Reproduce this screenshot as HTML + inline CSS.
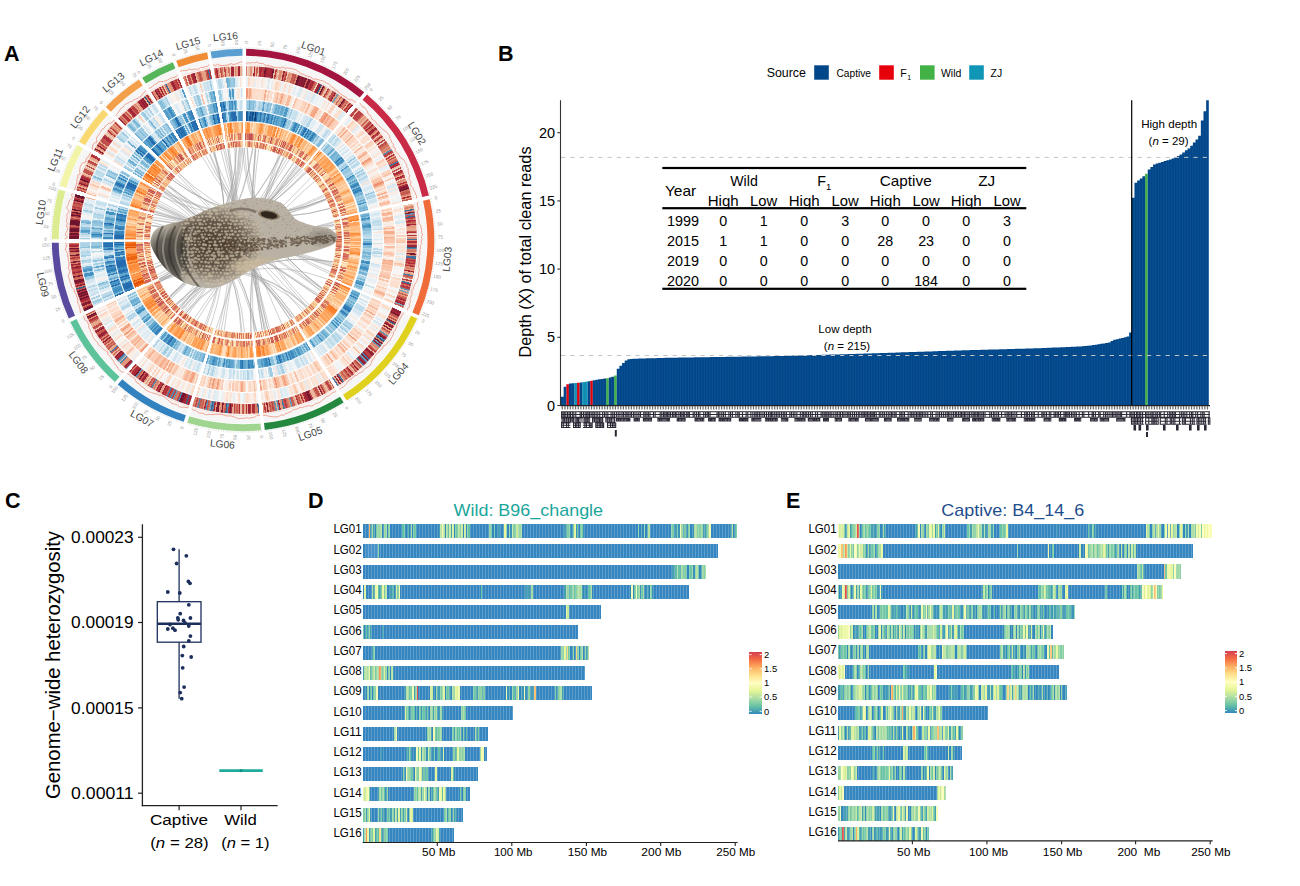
<!DOCTYPE html>
<html><head><meta charset="utf-8"><title>figure</title>
<style>
html,body{margin:0;padding:0;background:#fff}
#c{position:relative;width:1300px;height:886px;overflow:hidden;background:#fff}
#c div{position:absolute}
.r{border-radius:50%}
svg{position:absolute;left:0;top:0}
text{font-family:"Liberation Sans",sans-serif}
</style></head><body><div id="c">
<div style="left:362.9px;top:524.1px;width:374.6px;height:14px;background:repeating-linear-gradient(90deg,transparent 0 2px,rgba(255,255,255,0.2) 2px 3px),linear-gradient(90deg,transparent 0px 5.9px,#fdae61 5.9px 7.4px,#479fb3 7.4px 8.9px,#a6dba4 8.9px 10.4px,#479fb3 10.4px 11.9px,#3288bd 11.9px 13.4px,#82cda5 13.4px 14.9px,#a1d9a4 14.9px 16.4px,#96d5a4 16.4px 17.8px,#bce4a1 17.8px 19.3px,#3288bd 19.3px 20.8px,#a5daa4 20.8px 22.3px,#94d4a4 22.3px 23.8px,#3288bd 23.8px 25.3px,#87cfa5 25.3px 26.8px,transparent 26.8px 37.2px,#3288bd 37.2px 38.6px,#62bda7 38.6px 40.1px,#67c2a5 40.1px 41.6px,#3c94b8 41.6px 43.1px,#3288bd 43.1px 44.6px,#60bba8 44.6px 46.1px,#3288bd 46.1px 47.6px,#aedea3 47.6px 49.1px,#3288bd 49.1px 50.5px,#6ec5a5 50.5px 52px,#7acaa5 52px 53.5px,#3288bd 53.5px 55px,transparent 55px 75.8px,#479fb3 75.8px 77.3px,#b7e2a2 77.3px 78.8px,#f4fbae 78.8px 80.3px,#b7e2a2 80.3px 81.8px,#3288bd 81.8px 83.2px,#abdda4 83.2px 84.7px,#67c2a5 84.7px 86.2px,#c8e99e 86.2px 87.7px,#479fb3 87.7px 89.2px,#d7ef9b 89.2px 90.7px,#3288bd 90.7px 92.2px,#74c7a5 92.2px 93.7px,#80cca5 93.7px 95.1px,#b4e1a2 95.1px 96.6px,#92d3a4 96.6px 98.1px,#c6e89f 98.1px 99.6px,#3288bd 99.6px 101.1px,#cbea9d 101.1px 102.6px,#3288bd 102.6px 104.1px,#81cda5 104.1px 105.5px,#65c1a5 105.5px 107px,transparent 107px 126.4px,#94d4a4 126.4px 127.8px,#64c0a6 127.8px 129.3px,#3288bd 129.3px 130.8px,#64c0a6 130.8px 132.3px,#3288bd 132.3px 135.3px,#479fb3 135.3px 136.8px,transparent 136.8px 139.7px,#3c94b8 139.7px 141.2px,#ebf79f 141.2px 142.7px,#8ed2a4 142.7px 144.2px,#3288bd 144.2px 145.7px,#85cea5 145.7px 147.2px,#3c94b8 147.2px 148.7px,#c4e79f 148.7px 150.1px,#86cea5 150.1px 151.6px,#78c9a5 151.6px 153.1px,#c8e99e 153.1px 154.6px,#9bd7a4 154.6px 157.6px,#9fd8a4 157.6px 159.1px,transparent 159.1px 200.7px,#479fb3 200.7px 203.7px,#86cfa5 203.7px 205.1px,#7ccba5 205.1px 206.6px,#479fb3 206.6px 208.1px,#3288bd 208.1px 209.6px,#7acaa5 209.6px 211.1px,#e6f598 211.1px 212.6px,#3c94b8 212.6px 214.1px,#6ec5a5 214.1px 215.5px,#3288bd 215.5px 217px,#7ecba5 217px 218.5px,#78c9a5 218.5px 220px,#3c94b8 220px 221.5px,transparent 221.5px 275px,#7fcca5 275px 276.5px,#3288bd 276.5px 278px,#479fb3 278px 279.5px,#3288bd 279.5px 280.9px,#8ed2a4 280.9px 282.4px,#3288bd 282.4px 283.9px,#479fb3 283.9px 285.4px,#b3e0a2 285.4px 286.9px,transparent 286.9px 307.7px,#87cfa5 307.7px 309.2px,#7acaa5 309.2px 310.7px,#3288bd 310.7px 312.2px,#479fb3 312.2px 313.7px,#68c3a5 313.7px 315.1px,#3c94b8 315.1px 316.6px,#f4fbae 316.6px 318.1px,#9fd8a4 318.1px 319.6px,#479fb3 319.6px 321.1px,#7bcaa5 321.1px 322.6px,#3c94b8 322.6px 325.5px,#86cfa5 325.5px 327px,#3288bd 327px 330px,#3c94b8 330px 331.5px,#aadca4 331.5px 333px,#b0dfa3 333px 334.5px,#89d0a4 334.5px 336px,#82cda5 336px 337.4px,#8ed2a4 337.4px 338.9px,#9cd7a4 338.9px 340.4px,#479fb3 340.4px 343.4px,#6bc4a5 343.4px 344.9px,#a9dca4 344.9px 346.4px,#f2faaa 346.4px 347.8px,transparent 347.8px 367.2px,#479fb3 367.2px 368.7px,#b6e1a2 368.7px 370.1px,#3288bd 370.1px 371.6px,#64c0a6 371.6px 373.1px,#83cea5 373.1px 374.6px),#3586c0"></div>
<div style="left:362.9px;top:544.36px;width:355.4px;height:14px;background:repeating-linear-gradient(90deg,transparent 0 2px,rgba(255,255,255,0.2) 2px 3px),linear-gradient(90deg,transparent 0px 3px,rgba(120,180,220,0.25) 3px 14.9px,#96d5a4 14.9px 16.4px,transparent 16.4px 355.4px),#3586c0"></div>
<div style="left:362.9px;top:564.62px;width:343.6px;height:14px;background:repeating-linear-gradient(90deg,transparent 0 2px,rgba(255,255,255,0.2) 2px 3px),linear-gradient(90deg,transparent 0px 309.4px,#479fb3 309.4px 312.4px,#60bba8 312.4px 313.9px,#a4daa4 313.9px 315.3px,#65c1a6 315.3px 316.8px,#479fb3 316.8px 318.3px,#a7dca4 318.3px 319.8px,#65c1a5 319.8px 321.3px,#8bd0a4 321.3px 322.8px,#61bca7 322.8px 324.3px,#3288bd 324.3px 325.8px,#65c1a5 325.8px 327.2px,#6fc6a5 327.2px 328.7px,#89d0a4 328.7px 330.2px,#3c94b8 330.2px 331.7px,#83cda5 331.7px 333.2px,#b7e2a2 333.2px 334.7px,#64c0a6 334.7px 336.2px,#3288bd 336.2px 337.7px,#479fb3 337.7px 339.1px,#a2d9a4 339.1px 340.6px,#69c3a5 340.6px 342.1px,#acdda4 342.1px 343.6px),#3586c0"></div>
<div style="left:362.9px;top:584.88px;width:326.2px;height:14px;background:repeating-linear-gradient(90deg,transparent 0 2px,rgba(255,255,255,0.2) 2px 3px),linear-gradient(90deg,transparent 0px 1.5px,#def29a 1.5px 3px,transparent 3px 8.9px,#afdfa3 8.9px 10.4px,#479fb3 10.4px 11.9px,#ecf7a2 11.9px 13.4px,#ecf8a2 13.4px 14.9px,#66c2a5 14.9px 16.4px,#479fb3 16.4px 17.9px,#7ccaa5 17.9px 19.4px,#e5f598 19.4px 20.9px,#7ccba5 20.9px 22.3px,#bee5a0 22.3px 23.8px,#3288bd 23.8px 26.8px,#479fb3 26.8px 29.8px,#66c2a5 29.8px 31.3px,#3288bd 31.3px 32.8px,#dbf09a 32.8px 34.3px,#7dcba5 34.3px 35.7px,#f2faab 35.7px 37.2px,transparent 37.2px 117.7px,#6cc4a5 117.7px 119.2px,transparent 119.2px 162.4px,#479fb3 162.4px 163.8px,#3288bd 163.8px 165.3px,#479fb3 165.3px 166.8px,#3288bd 166.8px 168.3px,#a5dba4 168.3px 169.8px,transparent 169.8px 199.6px,#3288bd 199.6px 201.1px,#479fb3 201.1px 202.6px,#9ad6a4 202.6px 204.1px,#9cd7a4 204.1px 205.6px,#479fb3 205.6px 207px,#72c7a5 207px 210px,#aedea3 210px 211.5px,#66c2a5 211.5px 213px,#8bd0a4 213px 214.5px,#abdda4 214.5px 216px,#b0dfa3 216px 217.5px,#a6dba4 217.5px 219px,#479fb3 219px 220.4px,#3288bd 220.4px 221.9px,#479fb3 221.9px 223.4px,#3288bd 223.4px 224.9px,#66c2a5 224.9px 226.4px,#68c3a5 226.4px 227.9px,#acdea4 227.9px 229.4px,#3288bd 229.4px 230.9px,transparent 230.9px 268.1px,#f3faac 268.1px 269.6px,transparent 269.6px 271.1px,#71c6a5 271.1px 272.6px,#f4fbae 272.6px 274.1px,#77c9a5 274.1px 275.6px,#addea4 275.6px 277px,#3c94b8 277px 278.5px,#69c3a5 278.5px 280px,#abdda4 280px 281.5px,#3288bd 281.5px 283px,#3c94b8 283px 284.5px,#479fb3 284.5px 286px,#3288bd 286px 287.5px,#87cfa5 287.5px 289px,#3c94b8 289px 290.5px,transparent 290.5px 326.2px),#3586c0"></div>
<div style="left:362.9px;top:605.14px;width:238.4px;height:14px;background:repeating-linear-gradient(90deg,transparent 0 2px,rgba(255,255,255,0.2) 2px 3px),linear-gradient(90deg,transparent 0px 202.6px,#e5f598 202.6px 204.1px,#c4e79f 204.1px 205.6px,transparent 205.6px 238.4px),#3586c0"></div>
<div style="left:362.9px;top:625.4px;width:215.5px;height:14px;background:repeating-linear-gradient(90deg,transparent 0 2px,rgba(255,255,255,0.2) 2px 3px),linear-gradient(90deg,#73c7a5 0px 1.5px,#3288bd 1.5px 3px,#69c3a5 3px 4.5px,#479fb3 4.5px 5.9px,#8fd2a4 5.9px 7.4px,#479fb3 7.4px 8.9px,transparent 8.9px 19.3px,#479fb3 19.3px 20.8px,transparent 20.8px 215.5px),#3586c0"></div>
<div style="left:362.9px;top:645.66px;width:226.4px;height:14px;background:repeating-linear-gradient(90deg,transparent 0 2px,rgba(255,255,255,0.2) 2px 3px),linear-gradient(90deg,transparent 0px 8.9px,#479fb3 8.9px 10.4px,#7ccba5 10.4px 11.9px,transparent 11.9px 198.1px,#a0d9a4 198.1px 199.6px,#77c9a5 199.6px 201.1px,#e8f69b 201.1px 202.6px,#7acaa5 202.6px 204.1px,#fed683 204.1px 205.5px,#76c8a5 205.5px 207px,#3288bd 207px 210px,#9cd7a4 210px 211.5px,#3288bd 211.5px 213px,#fed683 213px 214.5px,#85cea5 214.5px 216px,#3288bd 216px 217.5px,#7bcaa5 217.5px 219px,#b3e0a2 219px 220.4px,#3288bd 220.4px 221.9px,#a2daa4 221.9px 223.4px,#479fb3 223.4px 224.9px,#b4e1a2 224.9px 226.4px),#3586c0"></div>
<div style="left:362.9px;top:665.92px;width:222px;height:14px;background:repeating-linear-gradient(90deg,transparent 0 2px,rgba(255,255,255,0.2) 2px 3px),linear-gradient(90deg,#479fb3 0px 1.5px,#aedea3 1.5px 3px,#bde4a0 3px 4.5px,#b1dfa3 4.5px 6px,#edf8a3 6px 7.4px,#60bca8 7.4px 8.9px,#9ad6a4 8.9px 10.4px,#bbe4a1 10.4px 11.9px,#7dcba5 11.9px 13.4px,#9fd8a4 13.4px 14.9px,#b4e1a2 14.9px 16.4px,#f99455 16.4px 17.9px,#a1d9a4 17.9px 19.4px,#88cfa5 19.4px 20.9px,#e0f399 20.9px 22.3px,#8fd2a4 22.3px 23.8px,#3288bd 23.8px 25.3px,#87cfa5 25.3px 26.8px,#3288bd 26.8px 28.3px,#b1e0a3 28.3px 29.8px,#479fb3 29.8px 31.3px,transparent 31.3px 222px),#3586c0"></div>
<div style="left:362.9px;top:686.18px;width:229.1px;height:14px;background:repeating-linear-gradient(90deg,transparent 0 2px,rgba(255,255,255,0.2) 2px 3px),linear-gradient(90deg,transparent 0px 1.5px,#3c94b8 1.5px 3px,#3288bd 3px 4.5px,#95d4a4 4.5px 6px,#3288bd 6px 7.4px,#6bc4a5 7.4px 8.9px,#3288bd 8.9px 10.4px,#78c9a5 10.4px 11.9px,#90d2a4 11.9px 13.4px,#f4fbae 13.4px 14.9px,transparent 14.9px 41.7px,#479fb3 41.7px 43.1px,#b4e1a2 43.1px 44.6px,#aedea3 44.6px 46.1px,#6cc4a5 46.1px 47.6px,#7fcca5 47.6px 49.1px,#f1f9a9 49.1px 50.6px,#479fb3 50.6px 52.1px,#8ed2a4 52.1px 53.6px,#e1514a 53.6px 55px,transparent 55px 66.9px,#daf09a 66.9px 68.4px,#c8e99e 68.4px 69.9px,#3c94b8 69.9px 71.4px,#3288bd 71.4px 72.9px,#a4daa4 72.9px 74.4px,#479fb3 74.4px 77.4px,#7fcca5 77.4px 78.8px,#a5dba4 78.8px 80.3px,#e0f399 80.3px 81.8px,#3288bd 81.8px 83.3px,#67c2a5 83.3px 84.8px,#7dcba5 84.8px 86.3px,#479fb3 86.3px 87.8px,#3288bd 87.8px 89.3px,#a9dca4 89.3px 90.7px,#9dd7a4 90.7px 92.2px,#e7f599 92.2px 93.7px,#d7ef9b 93.7px 95.2px,#f1faaa 95.2px 96.7px,transparent 96.7px 110.1px,#76c8a5 110.1px 111.6px,#72c7a5 111.6px 113.1px,#479fb3 113.1px 114.6px,#99d6a4 114.6px 116px,#68c3a5 116px 117.5px,#8ed2a4 117.5px 119px,#479fb3 119px 120.5px,#82cda5 120.5px 122px,transparent 122px 142.8px,#eff9a6 142.8px 144.3px,#3c94b8 144.3px 145.8px,#479fb3 145.8px 147.3px,#3288bd 147.3px 148.8px,#88cfa5 148.8px 150.3px,#63bfa6 150.3px 151.7px,#3c94b8 151.7px 153.2px,#a1d9a4 153.2px 154.7px,#eaf79f 154.7px 156.2px,#3288bd 156.2px 157.7px,#479fb3 157.7px 159.2px,#3c94b8 159.2px 160.7px,#f0f9a8 160.7px 162.2px,#3c94b8 162.2px 163.6px,#3288bd 163.6px 165.1px,#93d4a4 165.1px 166.6px,#3c94b8 166.6px 168.1px,#479fb3 168.1px 169.6px,#3288bd 169.6px 171.1px,#fdc272 171.1px 172.6px,transparent 172.6px 191.9px,#7dcba5 191.9px 193.4px,#3c94b8 193.4px 194.9px,#83cda5 194.9px 196.4px,#9ad6a4 196.4px 197.9px,#addea4 197.9px 199.3px,#479fb3 199.3px 200.8px,transparent 200.8px 229.1px),#3586c0"></div>
<div style="left:362.9px;top:706.44px;width:150.2px;height:14px;background:repeating-linear-gradient(90deg,transparent 0 2px,rgba(255,255,255,0.2) 2px 3px),linear-gradient(90deg,transparent 0px 41.6px,#dbf09a 41.6px 43.1px,#80cca5 43.1px 44.6px,#64c0a6 44.6px 46.1px,#3c94b8 46.1px 47.6px,#83cea5 47.6px 49.1px,#71c6a5 49.1px 50.6px,#66c2a5 50.6px 52px,#3288bd 52px 53.5px,#479fb3 53.5px 55px,#3288bd 55px 56.5px,#79caa5 56.5px 58px,#3c94b8 58px 59.5px,#66c2a5 59.5px 61px,#70c6a5 61px 62.5px,#479fb3 62.5px 63.9px,#7acaa5 63.9px 65.4px,#3288bd 65.4px 66.9px,#a8dca4 66.9px 68.4px,#97d5a4 68.4px 69.9px,#479fb3 69.9px 71.4px,#90d2a4 71.4px 72.9px,#aedea3 72.9px 74.4px,#3c94b8 74.4px 75.8px,#479fb3 75.8px 77.3px,#95d4a4 77.3px 78.8px,#479fb3 78.8px 80.3px,transparent 80.3px 98.2px,#8ed2a4 98.2px 99.6px,#b1dfa3 99.6px 101.1px,#75c8a5 101.1px 102.6px,transparent 102.6px 150.2px),#3586c0"></div>
<div style="left:362.9px;top:726.7px;width:125.1px;height:14px;background:repeating-linear-gradient(90deg,transparent 0 2px,rgba(255,255,255,0.2) 2px 3px),linear-gradient(90deg,transparent 0px 31.3px,#abdda4 31.3px 32.8px,#f3faad 32.8px 34.3px,transparent 34.3px 64px,#8dd1a4 64px 65.5px,#a3daa4 65.5px 67px,#b7e2a2 67px 68.5px,#3288bd 68.5px 70px,#eff9a6 70px 71.5px,#7ccba5 71.5px 73px,#61bca7 73px 74.5px,#76c8a5 74.5px 76px,#8ed2a4 76px 77.4px,#9bd7a4 77.4px 78.9px,transparent 78.9px 89.4px,#7ccba5 89.4px 90.8px,#479fb3 90.8px 92.3px,#92d3a4 92.3px 93.8px,#61bda7 93.8px 95.3px,#64c0a6 95.3px 96.8px,#a1d9a4 96.8px 98.3px,#3288bd 98.3px 99.8px,#8fd2a4 99.8px 101.3px,#3288bd 101.3px 102.8px,#63bea6 102.8px 104.3px,transparent 104.3px 111.7px,#b0dfa3 111.7px 113.2px,#479fb3 113.2px 114.7px,#7acaa5 114.7px 116.2px,transparent 116.2px 125.1px),#3586c0"></div>
<div style="left:362.9px;top:746.96px;width:123.9px;height:14px;background:repeating-linear-gradient(90deg,transparent 0 2px,rgba(255,255,255,0.2) 2px 3px),linear-gradient(90deg,transparent 0px 16.2px,#3288bd 16.2px 17.7px,#479fb3 17.7px 19.2px,#3288bd 19.2px 22.1px,transparent 22.1px 42.8px,#479fb3 42.8px 45.7px,#a1d9a4 45.7px 47.2px,#479fb3 47.2px 48.7px,#3288bd 48.7px 51.6px,#3c94b8 51.6px 53.1px,#f3faac 53.1px 54.6px,#6dc5a5 54.6px 56.1px,#eaf79e 56.1px 57.5px,#3c94b8 57.5px 59px,#aedea3 59px 60.5px,#90d2a4 60.5px 62px,#84cea5 62px 63.4px,#3c94b8 63.4px 64.9px,#c4e79f 64.9px 66.4px,#7fcca5 66.4px 67.9px,#3288bd 67.9px 69.3px,#3c94b8 69.3px 70.8px,#6fc6a5 70.8px 72.3px,#3288bd 72.3px 73.8px,#3c94b8 73.8px 75.2px,#64bfa6 75.2px 76.7px,#3c94b8 76.7px 79.7px,#daf09a 79.7px 81.1px,transparent 81.1px 88.5px,#3288bd 88.5px 90px,#8ed2a4 90px 91.5px,#479fb3 91.5px 92.9px,#73c7a5 92.9px 94.4px,#e5f598 94.4px 95.9px,#91d3a4 95.9px 97.4px,#94d4a4 97.4px 98.8px,#8cd1a4 98.8px 100.3px,#9dd8a4 100.3px 101.8px,transparent 101.8px 116.5px,#9dd7a4 116.5px 118px,#f1f9a9 118px 119.5px,#f2faaa 119.5px 121px,transparent 121px 123.9px),#3586c0"></div>
<div style="left:362.9px;top:767.22px;width:114.9px;height:14px;background:repeating-linear-gradient(90deg,transparent 0 2px,rgba(255,255,255,0.2) 2px 3px),linear-gradient(90deg,transparent 0px 39.8px,#97d5a4 39.8px 41.2px,#3c94b8 41.2px 42.7px,#f3faac 42.7px 44.2px,#a0d9a4 44.2px 45.7px,#a1d9a4 45.7px 47.1px,#6cc4a5 47.1px 48.6px,#77c9a5 48.6px 50.1px,#3288bd 50.1px 51.6px,#ebf79f 51.6px 53px,#93d4a4 53px 54.5px,#7fcca5 54.5px 56px,#f1f9a9 56px 57.5px,#ceeb9d 57.5px 58.9px,#3c94b8 58.9px 60.4px,#77c9a5 60.4px 61.9px,#479fb3 61.9px 63.3px,#73c7a5 63.3px 64.8px,transparent 64.8px 72.2px,#e7f599 72.2px 73.7px,transparent 73.7px 88.4px,#d3ed9c 88.4px 89.9px,#67c3a5 89.9px 91.3px,transparent 91.3px 113.4px,#3288bd 113.4px 114.9px),#3586c0"></div>
<div style="left:362.9px;top:787.48px;width:107px;height:14px;background:repeating-linear-gradient(90deg,transparent 0 2px,rgba(255,255,255,0.2) 2px 3px),linear-gradient(90deg,#ecf7a1 0px 1.5px,#c6e89f 1.5px 3px,#ecf8a2 3px 4.5px,#f5fbaf 4.5px 5.9px,#7fcca5 5.9px 7.4px,transparent 7.4px 14.9px,#479fb3 14.9px 16.3px,#a5dba4 16.3px 17.8px,#70c6a5 17.8px 19.3px,#9fd8a4 19.3px 20.8px,#65c1a6 20.8px 22.3px,#3c94b8 22.3px 23.8px,#9dd7a4 23.8px 25.3px,transparent 25.3px 50.5px,#99d6a4 50.5px 52px,#87cfa5 52px 53.5px,#67c3a5 53.5px 55px,#b3e0a2 55px 56.5px,#bbe4a1 56.5px 58px,#479fb3 58px 59.4px,#96d5a4 59.4px 60.9px,#f5fbaf 60.9px 62.4px,#a5dba4 62.4px 63.9px,#3288bd 63.9px 65.4px,#96d5a4 65.4px 66.9px,#3288bd 66.9px 68.4px,#479fb3 68.4px 69.8px,#81cca5 69.8px 71.3px,#a0d9a4 71.3px 72.8px,#71c6a5 72.8px 74.3px,#479fb3 74.3px 75.8px,#f1f9a9 75.8px 77.3px,#e8f69c 77.3px 78.8px,#61bda7 78.8px 80.2px,#ebf7a0 80.2px 81.7px,#a1d9a4 81.7px 83.2px,transparent 83.2px 95.1px,#3288bd 95.1px 96.6px,#80cca5 96.6px 98.1px,#3288bd 98.1px 99.6px,#85cea5 99.6px 101.1px,#83cda5 101.1px 102.5px,transparent 102.5px 107px),#3586c0"></div>
<div style="left:362.9px;top:807.74px;width:100px;height:14px;background:repeating-linear-gradient(90deg,transparent 0 2px,rgba(255,255,255,0.2) 2px 3px),linear-gradient(90deg,#7fcca5 0px 1.5px,#9bd7a4 1.5px 2.9px,#479fb3 2.9px 4.4px,#8fd2a4 4.4px 5.9px,#e3f499 5.9px 7.4px,#3c94b8 7.4px 8.8px,transparent 8.8px 14.7px,#9fd8a4 14.7px 16.2px,#479fb3 16.2px 17.6px,#85cea5 17.6px 19.1px,#479fb3 19.1px 22.1px,#3288bd 22.1px 23.5px,#85cea5 23.5px 25px,#63bfa6 25px 26.5px,#479fb3 26.5px 29.4px,#92d3a4 29.4px 30.9px,#479fb3 30.9px 32.4px,#b6e1a2 32.4px 33.8px,#479fb3 33.8px 35.3px,#e1f399 35.3px 36.8px,#479fb3 36.8px 38.2px,#8bd0a4 38.2px 39.7px,#479fb3 39.7px 41.2px,#78c9a5 41.2px 42.6px,#d9f09b 42.6px 44.1px,#3288bd 44.1px 45.6px,#8ed2a4 45.6px 47.1px,#e6f598 47.1px 48.5px,#d4ee9c 48.5px 50px,transparent 50px 79.4px,#3288bd 79.4px 80.9px,#74c7a5 80.9px 82.4px,#97d5a4 82.4px 83.8px,#3c94b8 83.8px 85.3px,#6fc6a5 85.3px 86.8px,#98d5a4 86.8px 88.2px,#3288bd 88.2px 89.7px,#98d5a4 89.7px 91.2px,#479fb3 91.2px 94.1px,transparent 94.1px 100px),#3586c0"></div>
<div style="left:362.9px;top:828px;width:90.8px;height:14px;background:repeating-linear-gradient(90deg,transparent 0 2px,rgba(255,255,255,0.2) 2px 3px),linear-gradient(90deg,#479fb3 0px 1.5px,#aedea3 1.5px 3px,#f99455 3px 4.5px,#eaf69e 4.5px 6px,#479fb3 6px 7.4px,#7dcba5 7.4px 8.9px,#7bcaa5 8.9px 10.4px,#def29a 10.4px 11.9px,#479fb3 11.9px 13.4px,#63bfa6 13.4px 14.9px,#64c0a6 14.9px 16.4px,#fed683 16.4px 17.9px,#66c2a5 17.9px 19.4px,#479fb3 19.4px 20.8px,#8bd0a4 20.8px 22.3px,#81cda5 22.3px 23.8px,#84cea5 23.8px 25.3px,transparent 25.3px 68.5px,#479fb3 68.5px 70px,#76c8a5 70px 71.4px,#92d3a4 71.4px 72.9px,#eef8a5 72.9px 74.4px,#ceeb9d 74.4px 75.9px,#479fb3 75.9px 77.4px,transparent 77.4px 90.8px),#3586c0"></div>
<div style="left:838.3px;top:524.1px;width:373.4px;height:14.2px;background:repeating-linear-gradient(90deg,transparent 0 2px,rgba(255,255,255,0.2) 2px 3px),linear-gradient(90deg,#fdfebc 0px 1.5px,#caea9e 1.5px 3px,#e8f69b 3px 4.5px,#cfec9d 4.5px 6px,#8cd1a4 6px 7.4px,#479fb3 7.4px 8.9px,#c0e5a0 8.9px 10.4px,#e0f399 10.4px 11.9px,#479fb3 11.9px 13.4px,#64bfa6 13.4px 14.9px,#93d4a4 14.9px 16.4px,#96d5a4 16.4px 17.9px,#d5ee9c 17.9px 19.3px,#e1514a 19.3px 20.8px,#94d4a4 20.8px 22.3px,#3288bd 22.3px 23.8px,#6cc5a5 23.8px 25.3px,#9fd8a4 25.3px 26.8px,#6bc4a5 26.8px 28.3px,#8ad0a4 28.3px 29.8px,#89d0a4 29.8px 31.2px,#65c1a6 31.2px 32.7px,#479fb3 32.7px 37.2px,#3c94b8 37.2px 38.7px,#8bd0a4 38.7px 40.2px,#83cda5 40.2px 41.7px,#3288bd 41.7px 44.6px,#a2daa4 44.6px 46.1px,#479fb3 46.1px 47.6px,transparent 47.6px 77.4px,#479fb3 77.4px 78.8px,#70c6a5 78.8px 80.3px,#f3faad 80.3px 81.8px,#3288bd 81.8px 83.3px,#99d6a4 83.3px 84.8px,#91d3a4 84.8px 86.3px,#3288bd 86.3px 87.8px,#afdfa3 87.8px 89.3px,#7dcba5 89.3px 90.7px,#eef8a5 90.7px 92.2px,#eaf79e 92.2px 93.7px,#9dd7a4 93.7px 95.2px,#e8f69c 95.2px 96.7px,#479fb3 96.7px 98.2px,#79c9a5 98.2px 99.7px,#e7f69a 99.7px 101.2px,#479fb3 101.2px 102.6px,#3288bd 102.6px 104.1px,#91d3a4 104.1px 105.6px,#cbea9d 105.6px 107.1px,transparent 107.1px 129.4px,#6dc5a5 129.4px 130.9px,#84cea5 130.9px 132.4px,#479fb3 132.4px 133.9px,#9cd7a4 133.9px 135.4px,#90d3a4 135.4px 136.9px,#79c9a5 136.9px 138.4px,#bee5a0 138.4px 139.8px,#f0f9a8 139.8px 141.3px,#a4daa4 141.3px 142.8px,#95d4a4 142.8px 144.3px,#479fb3 144.3px 145.8px,#a7dba4 145.8px 147.3px,#479fb3 147.3px 148.8px,#3288bd 148.8px 150.3px,#a8dca4 150.3px 151.7px,#90d2a4 151.7px 153.2px,#479fb3 153.2px 154.7px,#81cca5 154.7px 156.2px,transparent 156.2px 160.7px,#479fb3 160.7px 162.2px,#68c3a5 162.2px 163.6px,#82cda5 163.6px 165.1px,#73c7a5 165.1px 166.6px,#72c7a5 166.6px 168.1px,#eaf79e 168.1px 169.6px,#3288bd 169.6px 171.1px,transparent 171.1px 218.7px,#3c94b8 218.7px 220.2px,transparent 220.2px 249.9px,#6bc4a5 249.9px 251.4px,#3c94b8 251.4px 254.4px,#85cea5 254.4px 255.9px,#3c94b8 255.9px 258.9px,transparent 258.9px 307.9px,#daf09a 307.9px 309.4px,#b5e1a2 309.4px 310.9px,#68c3a5 310.9px 312.4px,#3288bd 312.4px 313.9px,#70c6a5 313.9px 315.4px,#b5e1a2 315.4px 316.9px,#479fb3 316.9px 318.4px,#b0dfa3 318.4px 319.8px,#e4f498 319.8px 321.3px,#a1d9a4 321.3px 322.8px,#3288bd 322.8px 325.8px,#68c3a5 325.8px 327.3px,#f4fbae 327.3px 328.8px,#3288bd 328.8px 330.3px,#f4faad 330.3px 331.7px,#479fb3 331.7px 333.2px,#e8f69b 333.2px 334.7px,#77c8a5 334.7px 336.2px,#b6e2a2 336.2px 337.7px,#addea4 337.7px 339.2px,#3288bd 339.2px 340.7px,#6ac3a5 340.7px 342.2px,#dff299 342.2px 343.6px,#afdfa3 343.6px 345.1px,#3288bd 345.1px 346.6px,#81cda5 346.6px 348.1px,#479fb3 348.1px 349.6px,#98d5a4 349.6px 351.1px,#3288bd 351.1px 352.6px,#93d4a4 352.6px 354.1px,#afdfa3 354.1px 355.5px,#abdda4 355.5px 357px,#86cea5 357px 358.5px,#eff9a7 358.5px 360px,#d6ef9b 360px 361.5px,#f7fcb2 361.5px 363px,#7ccaa5 363px 364.5px,#feffbd 364.5px 366px,#e8f69b 366px 367.4px,#f7fcb3 367.4px 368.9px,#ecf8a2 368.9px 370.4px,#fcfebb 370.4px 371.9px,#f9fcb5 371.9px 373.4px),#3586c0"></div>
<div style="left:838.3px;top:544.27px;width:354.4px;height:14.2px;background:repeating-linear-gradient(90deg,transparent 0 2px,rgba(255,255,255,0.2) 2px 3px),linear-gradient(90deg,#eff9a6 0px 1.5px,#f4faad 1.5px 3px,#fdc272 3px 4.5px,#90d2a4 4.5px 6px,#d6ee9b 6px 7.4px,#f99455 7.4px 8.9px,#ccea9d 8.9px 10.4px,#88cfa5 10.4px 11.9px,#e9f69d 11.9px 13.4px,#92d3a4 13.4px 14.9px,#76c8a5 14.9px 16.4px,#ffffbe 16.4px 17.9px,#f4fbaf 17.9px 19.4px,#93d4a4 19.4px 20.8px,#f5fbb0 20.8px 22.3px,#c8e99e 22.3px 23.8px,#dcf19a 23.8px 25.3px,#84cea5 25.3px 26.8px,#7acaa5 26.8px 28.3px,#3c94b8 28.3px 29.8px,#9fd8a4 29.8px 31.3px,#479fb3 31.3px 32.8px,#7dcba5 32.8px 34.2px,#6cc4a5 34.2px 35.7px,#acdda4 35.7px 37.2px,#3c94b8 37.2px 38.7px,#66c2a5 38.7px 40.2px,#9ed8a4 40.2px 41.7px,#addea4 41.7px 43.2px,#eaf79e 43.2px 44.7px,transparent 44.7px 178.7px,#94d4a4 178.7px 180.2px,transparent 180.2px 210px,#f1f9a9 210px 211.4px,#3288bd 211.4px 214.4px,#76c8a5 214.4px 215.9px,#3288bd 215.9px 217.4px,transparent 217.4px 241.2px,#c9e99e 241.2px 242.7px,#3288bd 242.7px 247.2px,#f3faac 247.2px 248.7px,#eaf79f 248.7px 250.2px,#76c8a5 250.2px 251.7px,#9fd8a4 251.7px 253.1px,#addea4 253.1px 254.6px,#6dc5a5 254.6px 256.1px,#a9dca4 256.1px 259.1px,#74c7a5 259.1px 260.6px,#9ad6a4 260.6px 262.1px,#b1e0a3 262.1px 263.6px,#abdda4 263.6px 265.1px,#e0f399 265.1px 266.5px,#c6e89f 266.5px 268px,#70c6a5 268px 269.5px,#479fb3 269.5px 271px,#9ad6a4 271px 272.5px,#78c9a5 272.5px 274px,#84cea5 274px 275.5px,#62bea7 275.5px 277px,#479fb3 277px 278.5px,#92d3a4 278.5px 279.9px,#afdfa3 279.9px 281.4px,#3288bd 281.4px 282.9px,#c4e79f 282.9px 284.4px,#3288bd 284.4px 285.9px,#87cfa5 285.9px 287.4px,#89d0a4 287.4px 288.9px,#3288bd 288.9px 290.4px,#acdea4 290.4px 291.9px,#479fb3 291.9px 293.3px,#c5e89f 293.3px 294.8px,#64c0a6 294.8px 296.3px,#b2e0a3 296.3px 297.8px,#3288bd 297.8px 299.3px,transparent 299.3px 354.4px),#3586c0"></div>
<div style="left:838.3px;top:564.44px;width:342.4px;height:14.2px;background:repeating-linear-gradient(90deg,transparent 0 2px,rgba(255,255,255,0.2) 2px 3px),linear-gradient(90deg,#3288bd 0px 1.5px,transparent 1.5px 273.9px,#3288bd 273.9px 276.9px,transparent 276.9px 299.2px,#abdda4 299.2px 300.7px,#9dd8a4 300.7px 302.2px,#64bfa6 302.2px 303.7px,#bfe5a0 303.7px 305.2px,#479fb3 305.2px 306.7px,transparent 306.7px 326px,#fdae61 326px 327.5px,#78c9a5 327.5px 329px,#e8f69b 329px 330.5px,#f1f9a9 330.5px 332px,#e2f399 332px 333.5px,#e7f69a 333.5px 335px,#75c8a5 335px 336.4px,#fcfebb 336.4px 337.9px,#90d2a4 337.9px 339.4px,#9ed8a4 339.4px 340.9px,#90d2a4 340.9px 342.4px),#3586c0"></div>
<div style="left:838.3px;top:584.61px;width:325.1px;height:14.2px;background:repeating-linear-gradient(90deg,transparent 0 2px,rgba(255,255,255,0.2) 2px 3px),linear-gradient(90deg,#88cfa5 0px 1.5px,#3288bd 1.5px 3px,#479fb3 3px 4.5px,#f1f9a9 4.5px 5.9px,#d5ee9b 5.9px 7.4px,#e1514a 7.4px 8.9px,#80cca5 8.9px 10.4px,#d0ec9c 10.4px 11.9px,#64c0a6 11.9px 13.4px,#3288bd 13.4px 14.8px,#80cca5 14.8px 16.3px,#ebf7a0 16.3px 17.8px,#479fb3 17.8px 19.3px,#a0d9a4 19.3px 20.8px,#479fb3 20.8px 22.3px,#e9f69c 22.3px 23.8px,#97d5a4 23.8px 25.2px,#6dc5a5 25.2px 26.7px,#86cea5 26.7px 28.2px,#3c94b8 28.2px 29.7px,#7bcaa5 29.7px 31.2px,#87cfa5 31.2px 32.7px,#e1f399 32.7px 34.1px,#70c6a5 34.1px 35.6px,#a5dba4 35.6px 37.1px,#6dc5a5 37.1px 38.6px,#479fb3 38.6px 40.1px,#3c94b8 40.1px 41.6px,#f3faac 41.6px 43px,#3c94b8 43px 44.5px,transparent 44.5px 144px,#479fb3 144px 145.5px,#bee5a0 145.5px 147px,#60bba8 147px 148.4px,#98d6a4 148.4px 149.9px,#3288bd 149.9px 151.4px,#60bca8 151.4px 152.9px,#9ad6a4 152.9px 154.4px,transparent 154.4px 200.4px,#65c1a5 200.4px 201.9px,#61bda7 201.9px 203.4px,#97d5a4 203.4px 204.9px,#90d3a4 204.9px 206.3px,#cdeb9d 206.3px 207.8px,#70c6a5 207.8px 209.3px,#64c0a6 209.3px 210.8px,#61bca7 210.8px 212.3px,#479fb3 212.3px 213.8px,#62bda7 213.8px 215.2px,#c4e79f 215.2px 216.7px,#a0d9a4 216.7px 218.2px,#3288bd 218.2px 219.7px,#a3daa4 219.7px 221.2px,#93d4a4 221.2px 222.7px,#a0d9a4 222.7px 224.2px,#3288bd 224.2px 227.1px,#e2f399 227.1px 228.6px,#edf8a2 228.6px 230.1px,transparent 230.1px 267.2px,#74c7a5 267.2px 268.7px,transparent 268.7px 282.1px,#3288bd 282.1px 283.5px,#73c7a5 283.5px 285px,#479fb3 285px 286.5px,#a0d9a4 286.5px 288px,#64c0a6 288px 289.5px,#3288bd 289.5px 292.4px,#76c8a5 292.4px 293.9px,#479fb3 293.9px 295.4px,#78c9a5 295.4px 296.9px,#6cc4a5 296.9px 298.4px,#64c0a6 298.4px 299.9px,#67c2a5 299.9px 301.3px,#479fb3 301.3px 302.8px,#6bc4a5 302.8px 304.3px,#fbfdb8 304.3px 305.8px,#dcf19a 305.8px 307.3px,#fbfdb8 307.3px 308.8px,#eaf79e 308.8px 310.3px,#e4f498 310.3px 311.7px,#dcf19a 311.7px 313.2px,#8fd2a4 313.2px 314.7px,#f6fbb1 314.7px 316.2px,#fdc272 316.2px 317.7px,#fbfeb9 317.7px 319.2px,#7fcca5 319.2px 320.6px,#7bcaa5 320.6px 322.1px,#90d2a4 322.1px 323.6px,#eaf69e 323.6px 325.1px),#3586c0"></div>
<div style="left:838.3px;top:604.78px;width:237.2px;height:14.2px;background:repeating-linear-gradient(90deg,transparent 0 2px,rgba(255,255,255,0.2) 2px 3px),linear-gradient(90deg,transparent 0px 34.1px,#9cd7a4 34.1px 35.6px,#3c94b8 35.6px 37.1px,#a5dba4 37.1px 38.5px,#3c94b8 38.5px 41.5px,#83cda5 41.5px 43px,#76c8a5 43px 44.5px,#82cda5 44.5px 46px,#6ac4a5 46px 48.9px,#64c0a6 48.9px 50.4px,#e5f498 50.4px 51.9px,#a3daa4 51.9px 53.4px,#479fb3 53.4px 57.8px,#69c3a5 57.8px 59.3px,#479fb3 59.3px 62.3px,#3288bd 62.3px 65.2px,#3c94b8 65.2px 68.2px,#a5dba4 68.2px 69.7px,#83cea5 69.7px 71.2px,#3c94b8 71.2px 72.6px,#d1ec9c 72.6px 74.1px,#3c94b8 74.1px 75.6px,#61bca7 75.6px 77.1px,#64c0a6 77.1px 78.6px,#63bfa6 78.6px 80.1px,#3c94b8 80.1px 81.5px,#479fb3 81.5px 83px,#eef8a4 83px 84.5px,#82cda5 84.5px 86px,#8bd0a4 86px 87.5px,#f0f9a8 87.5px 89px,#479fb3 89px 90.4px,#a2daa4 90.4px 91.9px,#f1f9a9 91.9px 93.4px,#a0d9a4 93.4px 94.9px,#479fb3 94.9px 96.4px,#3c94b8 96.4px 100.8px,#72c7a5 100.8px 102.3px,#c3e79f 102.3px 103.8px,#8fd2a4 103.8px 105.3px,#479fb3 105.3px 109.7px,#73c7a5 109.7px 111.2px,#6cc4a5 111.2px 112.7px,#479fb3 112.7px 114.2px,#e8f69b 114.2px 115.6px,#3c94b8 115.6px 117.1px,#77c9a5 117.1px 118.6px,#7acaa5 118.6px 120.1px,#6dc5a5 120.1px 121.6px,#3c94b8 121.6px 124.5px,#7ecba5 124.5px 126px,#f3faac 126px 127.5px,#479fb3 127.5px 129px,#7bcaa5 129px 130.5px,#3c94b8 130.5px 131.9px,#479fb3 131.9px 133.4px,#88cfa5 133.4px 134.9px,#3c94b8 134.9px 136.4px,#479fb3 136.4px 137.9px,#3288bd 137.9px 139.4px,#88cfa5 139.4px 140.8px,#a7dba4 140.8px 142.3px,#addea4 142.3px 143.8px,#479fb3 143.8px 145.3px,#3c94b8 145.3px 148.3px,#479fb3 148.3px 149.7px,#80cca5 149.7px 151.2px,#63bfa6 151.2px 152.7px,#3288bd 152.7px 155.7px,#61bca8 155.7px 157.1px,#3288bd 157.1px 160.1px,#3c94b8 160.1px 161.6px,#96d5a4 161.6px 163.1px,#479fb3 163.1px 164.6px,#96d5a4 164.6px 166px,#9ed8a4 166px 167.5px,#3288bd 167.5px 169px,#82cda5 169px 170.5px,#7acaa5 170.5px 172px,#479fb3 172px 173.5px,#3288bd 173.5px 176.4px,#87cfa5 176.4px 177.9px,#9ed8a4 177.9px 179.4px,#479fb3 179.4px 180.9px,#3c94b8 180.9px 182.3px,#89d0a4 182.3px 183.8px,#83cda5 183.8px 185.3px,#479fb3 185.3px 186.8px,#a0d9a4 186.8px 188.3px,#6bc4a5 188.3px 189.8px,#479fb3 189.8px 191.2px,#9ad6a4 191.2px 192.7px,#479fb3 192.7px 195.7px,#3288bd 195.7px 197.2px,#3c94b8 197.2px 198.7px,#7ecba5 198.7px 200.1px,#84cea5 200.1px 201.6px,#479fb3 201.6px 204.6px,#73c7a5 204.6px 206.1px,#3288bd 206.1px 207.6px,#3c94b8 207.6px 210.5px,#63bfa6 210.5px 212px,#479fb3 212px 213.5px,#3c94b8 213.5px 215px,#7bcaa5 215px 216.4px,#479fb3 216.4px 219.4px,#61bca7 219.4px 220.9px,#479fb3 220.9px 222.4px,#8ad0a4 222.4px 223.9px,#3c94b8 223.9px 225.3px,#479fb3 225.3px 226.8px,#3288bd 226.8px 228.3px,#6dc5a5 228.3px 229.8px,#6ac4a5 229.8px 231.3px,#65c1a5 231.3px 232.8px,#3c94b8 232.8px 235.7px,#85cea5 235.7px 237.2px),#3586c0"></div>
<div style="left:838.3px;top:624.95px;width:215px;height:14.2px;background:repeating-linear-gradient(90deg,transparent 0 2px,rgba(255,255,255,0.2) 2px 3px),linear-gradient(90deg,#a1d9a4 0px 1.5px,#dff299 1.5px 3px,#ddf19a 3px 4.4px,#ecf7a1 4.4px 5.9px,#eff9a7 5.9px 7.4px,#ecf7a1 7.4px 8.9px,#f0f9a8 8.9px 10.4px,#feffbe 10.4px 11.9px,#90d2a4 11.9px 13.3px,#d2ed9c 13.3px 14.8px,transparent 14.8px 16.3px,#479fb3 16.3px 20.8px,#7fcca5 20.8px 22.2px,#6fc6a5 22.2px 23.7px,#aedea3 23.7px 25.2px,#3288bd 25.2px 28.2px,#74c7a5 28.2px 29.7px,#a9dca4 29.7px 31.1px,#b5e1a2 31.1px 32.6px,#74c7a5 32.6px 34.1px,#6ac4a5 34.1px 35.6px,#92d3a4 35.6px 37.1px,#3288bd 37.1px 40px,#aadda4 40px 41.5px,#e8f69c 41.5px 43px,#3288bd 43px 44.5px,#91d3a4 44.5px 46px,#60bca8 46px 47.4px,#479fb3 47.4px 48.9px,#bde4a0 48.9px 50.4px,#8ed2a4 50.4px 51.9px,#479fb3 51.9px 53.4px,#aadda4 53.4px 54.9px,#479fb3 54.9px 56.3px,#61bca7 56.3px 57.8px,#9cd7a4 57.8px 59.3px,#479fb3 59.3px 60.8px,#daf09a 60.8px 62.3px,#a9dca4 62.3px 63.8px,#479fb3 63.8px 65.2px,#b9e3a1 65.2px 66.7px,#3288bd 66.7px 68.2px,#7ecba5 68.2px 69.7px,#7dcba5 69.7px 71.2px,#87cfa5 71.2px 72.7px,#93d4a4 72.7px 74.1px,#7bcaa5 74.1px 75.6px,#3288bd 75.6px 77.1px,#479fb3 77.1px 80.1px,#3288bd 80.1px 81.6px,#a0d9a4 81.6px 83px,#ebf79f 83px 84.5px,#addea4 84.5px 86px,#72c7a5 86px 87.5px,#479fb3 87.5px 89px,#a0d9a4 89px 90.4px,#a9dca4 90.4px 91.9px,#99d6a4 91.9px 93.4px,#acdda4 93.4px 94.9px,#d2ed9c 94.9px 96.4px,#b6e1a2 96.4px 97.9px,#72c7a5 97.9px 99.3px,#65c1a5 99.3px 100.8px,#3288bd 100.8px 102.3px,#d3ed9c 102.3px 103.8px,#479fb3 103.8px 106.8px,#9ed8a4 106.8px 108.2px,#f3faac 108.2px 109.7px,#3288bd 109.7px 111.2px,#74c8a5 111.2px 112.7px,#aedea3 112.7px 114.2px,#479fb3 114.2px 115.7px,#cfeb9d 115.7px 117.1px,#def29a 117.1px 118.6px,#68c3a5 118.6px 120.1px,#479fb3 120.1px 121.6px,#a1d9a4 121.6px 123.1px,#78c9a5 123.1px 126px,transparent 126px 166.1px,#79c9a5 166.1px 167.6px,#a7dca4 167.6px 169px,#a1d9a4 169px 170.5px,#9bd7a4 170.5px 172px,#3288bd 172px 175px,#93d3a4 175px 176.4px,#a8dca4 176.4px 177.9px,#3288bd 177.9px 179.4px,#9cd7a4 179.4px 180.9px,#479fb3 180.9px 182.4px,#7ecca5 182.4px 183.9px,#7bcaa5 183.9px 185.3px,#e8f69b 185.3px 186.8px,#76c8a5 186.8px 188.3px,#eff9a7 188.3px 189.8px,#479fb3 189.8px 192.8px,#d8ef9b 192.8px 194.2px,#3288bd 194.2px 197.2px,#a0d9a4 197.2px 198.7px,#75c8a5 198.7px 200.2px,#a8dca4 200.2px 201.7px,#3288bd 201.7px 203.1px,#71c6a5 203.1px 204.6px,#eff8a5 204.6px 206.1px,#479fb3 206.1px 207.6px,#6dc5a5 207.6px 209.1px,#99d6a4 209.1px 210.6px,#8bd0a4 210.6px 212px,#b9e3a1 212px 213.5px,#3288bd 213.5px 215px),#3586c0"></div>
<div style="left:838.3px;top:645.12px;width:225.5px;height:14.2px;background:repeating-linear-gradient(90deg,transparent 0 2px,rgba(255,255,255,0.2) 2px 3px),linear-gradient(90deg,#7ccba5 0px 1.5px,#479fb3 1.5px 3px,#75c8a5 3px 4.5px,#77c9a5 4.5px 5.9px,#6bc4a5 5.9px 7.4px,#6ec5a5 7.4px 8.9px,#3288bd 8.9px 10.4px,#addea4 10.4px 11.9px,#479fb3 11.9px 13.4px,#3288bd 13.4px 14.8px,#8dd1a4 14.8px 16.3px,#7ccba5 16.3px 17.8px,#3c94b8 17.8px 19.3px,#91d3a4 19.3px 20.8px,#3288bd 20.8px 22.3px,#98d6a4 22.3px 23.7px,#9dd8a4 23.7px 25.2px,#3c94b8 25.2px 26.7px,#3288bd 26.7px 28.2px,#a3daa4 28.2px 29.7px,#abdda4 29.7px 31.2px,transparent 31.2px 78.6px,#3288bd 78.6px 80.1px,#62bda7 80.1px 81.6px,#84cea5 81.6px 83.1px,#3288bd 83.1px 84.6px,#82cda5 84.6px 86px,#87cfa5 86px 87.5px,#3288bd 87.5px 89px,#a5dba4 89px 90.5px,#eef8a4 90.5px 92px,#e6f598 92px 93.5px,#a7dba4 93.5px 94.9px,#a4daa4 94.9px 96.4px,#bde4a0 96.4px 97.9px,#3288bd 97.9px 100.9px,#479fb3 100.9px 102.4px,#3288bd 102.4px 103.8px,#f0f9a7 103.8px 105.3px,#c0e6a0 105.3px 106.8px,#aedea3 106.8px 108.3px,#8bd0a4 108.3px 109.8px,#88cfa5 109.8px 111.3px,#a9dca4 111.3px 112.8px,#aedea3 112.8px 114.2px,#bee5a0 114.2px 115.7px,#88cfa5 115.7px 117.2px,#3288bd 117.2px 118.7px,#8ad0a4 118.7px 120.2px,#bbe4a1 120.2px 121.7px,#9bd7a4 121.7px 123.1px,#86cea5 123.1px 124.6px,#b0dfa3 124.6px 126.1px,#cceb9d 126.1px 127.6px,#60bca8 127.6px 129.1px,transparent 129.1px 161.7px,#85cea5 161.7px 163.2px,#b2e0a3 163.2px 164.7px,#479fb3 164.7px 167.6px,#3288bd 167.6px 169.1px,#67c2a5 169.1px 170.6px,#96d5a4 170.6px 172.1px,#479fb3 172.1px 173.6px,#c8e99e 173.6px 175.1px,#479fb3 175.1px 178px,#3288bd 178px 179.5px,#75c8a5 179.5px 181px,#b5e1a2 181px 182.5px,#3288bd 182.5px 185.4px,#479fb3 185.4px 186.9px,#3288bd 186.9px 188.4px,#a6dba4 188.4px 189.9px,#aadda4 189.9px 191.4px,#8bd1a4 191.4px 192.9px,#479fb3 192.9px 194.3px,#6bc4a5 194.3px 195.8px,#72c7a5 195.8px 197.3px,#3288bd 197.3px 198.8px,#6cc5a5 198.8px 200.3px,#96d5a4 200.3px 201.8px,#abdda4 201.8px 203.2px,#6fc5a5 203.2px 204.7px,#84cea5 204.7px 206.2px,#3288bd 206.2px 209.2px,#eff9a6 209.2px 210.7px,#65c1a5 210.7px 212.1px,#fdc272 212.1px 213.6px,#62bea7 213.6px 215.1px,#a8dca4 215.1px 216.6px,#a7dca4 216.6px 218.1px,#e5f598 218.1px 219.6px,#9cd7a4 219.6px 221px,#99d6a4 221px 222.5px,#82cda5 222.5px 224px,#8dd1a4 224px 225.5px),#3586c0"></div>
<div style="left:838.3px;top:665.29px;width:220.9px;height:14.2px;background:repeating-linear-gradient(90deg,transparent 0 2px,rgba(255,255,255,0.2) 2px 3px),linear-gradient(90deg,#f1f9a9 0px 1.5px,#d9f09b 1.5px 3px,#fbfdb8 3px 4.4px,#daf09a 4.4px 5.9px,#fbfeba 5.9px 7.4px,transparent 7.4px 14.8px,#64bfa6 14.8px 16.3px,#a6dba4 16.3px 17.8px,#96d5a4 17.8px 19.3px,#3288bd 19.3px 20.8px,#61bca7 20.8px 22.2px,#b3e0a2 22.2px 23.7px,#addea3 23.7px 25.2px,#82cda5 25.2px 26.7px,#67c3a5 26.7px 28.2px,#3288bd 28.2px 29.7px,#a8dca4 29.7px 31.1px,transparent 31.1px 65.2px,#79c9a5 65.2px 66.7px,#479fb3 66.7px 69.7px,#3c94b8 69.7px 71.2px,transparent 71.2px 96.4px,#ebf79f 96.4px 97.8px,#f6fcb2 97.8px 99.3px,transparent 99.3px 173.5px,#65c1a5 173.5px 174.9px,#479fb3 174.9px 177.9px,#3288bd 177.9px 179.4px,#479fb3 179.4px 180.9px,#8bd1a4 180.9px 182.4px,#79c9a5 182.4px 183.8px,#3288bd 183.8px 185.3px,#abdda4 185.3px 186.8px,#3c94b8 186.8px 188.3px,#8bd0a4 188.3px 189.8px,#a0d9a4 189.8px 191.2px,transparent 191.2px 220.9px),#3586c0"></div>
<div style="left:838.3px;top:685.46px;width:229px;height:14.2px;background:repeating-linear-gradient(90deg,transparent 0 2px,rgba(255,255,255,0.2) 2px 3px),linear-gradient(90deg,#479fb3 0px 3px,#64c0a6 3px 4.5px,#3288bd 4.5px 5.9px,#8ad0a4 5.9px 7.4px,#97d5a4 7.4px 8.9px,#80cca5 8.9px 10.4px,#99d6a4 10.4px 11.9px,#6bc4a5 11.9px 13.4px,#3288bd 13.4px 14.9px,#87cfa5 14.9px 16.4px,#9ad6a4 16.4px 17.8px,#caea9e 17.8px 19.3px,#afdfa3 19.3px 20.8px,#e7f599 20.8px 22.3px,#d5ee9b 22.3px 23.8px,#aadda4 23.8px 25.3px,#91d3a4 25.3px 26.8px,#3288bd 26.8px 28.3px,#78c9a5 28.3px 29.7px,#71c6a5 29.7px 31.2px,#3c94b8 31.2px 32.7px,#6fc6a5 32.7px 34.2px,#a7dba4 34.2px 35.7px,#8ed2a4 35.7px 37.2px,#a7dba4 37.2px 38.7px,#8dd1a4 38.7px 40.1px,#3288bd 40.1px 41.6px,#87cfa5 41.6px 43.1px,#63bea7 43.1px 44.6px,#3c94b8 44.6px 49.1px,#479fb3 49.1px 50.6px,#85cea5 50.6px 52px,#3288bd 52px 53.5px,#fdae61 53.5px 55px,#b0dfa3 55px 56.5px,#61bca7 56.5px 58px,#dff299 58px 59.5px,#89d0a4 59.5px 61px,#eff9a7 61px 62.5px,#8ad0a4 62.5px 63.9px,#e5f598 63.9px 65.4px,#80cca5 65.4px 66.9px,#8cd1a4 66.9px 68.4px,#83cda5 68.4px 69.9px,#479fb3 69.9px 72.9px,#97d5a4 72.9px 74.4px,#479fb3 74.4px 75.8px,#83cea5 75.8px 77.3px,#eaf79f 77.3px 78.8px,#f2faab 78.8px 80.3px,#6ac3a5 80.3px 81.8px,#66c2a5 81.8px 83.3px,#479fb3 83.3px 84.8px,#79c9a5 84.8px 86.2px,#68c3a5 86.2px 87.7px,#67c2a5 87.7px 89.2px,#d9f09b 89.2px 90.7px,#b4e1a2 90.7px 92.2px,#eff9a6 92.2px 93.7px,#80cca5 93.7px 95.2px,#a2daa4 95.2px 96.7px,#b2e0a3 96.7px 98.1px,transparent 98.1px 111.5px,#479fb3 111.5px 113px,#74c8a5 113px 114.5px,#479fb3 114.5px 116px,#3288bd 116px 117.5px,#479fb3 117.5px 119px,#3288bd 119px 123.4px,#60bca8 123.4px 124.9px,#70c6a5 124.9px 126.4px,#479fb3 126.4px 129.4px,#90d2a4 129.4px 130.9px,#79c9a5 130.9px 132.3px,#479fb3 132.3px 135.3px,#89d0a4 135.3px 136.8px,#eff9a7 136.8px 138.3px,#ebf7a0 138.3px 139.8px,#83cea5 139.8px 141.3px,#3288bd 141.3px 142.8px,#cbea9e 142.8px 144.2px,#c8e99e 144.2px 145.7px,#85cea5 145.7px 147.2px,#e7f69a 147.2px 148.7px,#3288bd 148.7px 150.2px,#479fb3 150.2px 151.7px,#acdea4 151.7px 153.2px,#479fb3 153.2px 154.6px,#a7dba4 154.6px 156.1px,#e7f599 156.1px 157.6px,#8bd0a4 157.6px 159.1px,#e0f299 159.1px 160.6px,#61bca7 160.6px 162.1px,#69c3a5 162.1px 163.6px,#479fb3 163.6px 165.1px,#3288bd 165.1px 168px,#98d6a4 168px 169.5px,#fed683 169.5px 171px,#98d6a4 171px 172.5px,#cdeb9d 172.5px 174px,#479fb3 174px 175.5px,#b5e1a2 175.5px 177px,#fed683 177px 178.4px,#c1e69f 178.4px 179.9px,#9bd7a4 179.9px 181.4px,#479fb3 181.4px 184.4px,#a3daa4 184.4px 185.9px,#b1dfa3 185.9px 187.4px,#addea4 187.4px 188.9px,#9fd8a4 188.9px 190.3px,#3288bd 190.3px 191.8px,#6fc5a5 191.8px 193.3px,#479fb3 193.3px 194.8px,#a5dba4 194.8px 196.3px,#3288bd 196.3px 199.3px,#3c94b8 199.3px 200.7px,#479fb3 200.7px 202.2px,#3c94b8 202.2px 203.7px,#a7dba4 203.7px 205.2px,#3c94b8 205.2px 206.7px,#3288bd 206.7px 208.2px,#479fb3 208.2px 209.7px,#3288bd 209.7px 211.2px,#3c94b8 211.2px 212.6px,#6bc4a5 212.6px 214.1px,#95d4a4 214.1px 215.6px,#3c94b8 215.6px 217.1px,#aedea3 217.1px 218.6px,#8ed2a4 218.6px 220.1px,#a8dca4 220.1px 221.6px,#3288bd 221.6px 223.1px,#97d5a4 223.1px 224.5px,#3288bd 224.5px 227.5px,#479fb3 227.5px 229px),#3586c0"></div>
<div style="left:838.3px;top:705.63px;width:150.1px;height:14.2px;background:repeating-linear-gradient(90deg,transparent 0 2px,rgba(255,255,255,0.2) 2px 3px),linear-gradient(90deg,transparent 0px 16.3px,#479fb3 16.3px 17.8px,#6ac3a5 17.8px 19.3px,#68c3a5 19.3px 20.8px,#87cfa5 20.8px 22.3px,#479fb3 22.3px 23.8px,#8cd1a4 23.8px 25.3px,#f3faac 25.3px 26.8px,#e0f299 26.8px 28.2px,#3288bd 28.2px 29.7px,#98d6a4 29.7px 31.2px,#c7e89e 31.2px 32.7px,#addea4 32.7px 34.2px,#3288bd 34.2px 35.7px,#6ec5a5 35.7px 37.2px,#93d3a4 37.2px 38.6px,#63bfa6 38.6px 40.1px,#3288bd 40.1px 41.6px,#6bc4a5 41.6px 43.1px,#dbf09a 43.1px 44.6px,#3288bd 44.6px 47.6px,#b2e0a3 47.6px 49px,#65c1a5 49px 50.5px,#b4e1a2 50.5px 52px,#f0f9a7 52px 53.5px,#b1dfa3 53.5px 55px,#84cea5 55px 56.5px,#3288bd 56.5px 58px,#aedea3 58px 59.4px,#479fb3 59.4px 62.4px,#9ed8a4 62.4px 63.9px,#fdae61 63.9px 65.4px,#479fb3 65.4px 68.4px,#bce4a1 68.4px 69.8px,#84cea5 69.8px 71.3px,#eaf79e 71.3px 72.8px,#9fd8a4 72.8px 74.3px,#bee5a0 74.3px 75.8px,#bfe5a0 75.8px 77.3px,#3288bd 77.3px 78.8px,#73c7a5 78.8px 80.3px,#a5dba4 80.3px 81.7px,#e9f69c 81.7px 83.2px,#3288bd 83.2px 84.7px,#f1f9a9 84.7px 86.2px,#65c1a5 86.2px 87.7px,#3288bd 87.7px 90.7px,#71c6a5 90.7px 92.1px,#66c2a5 92.1px 93.6px,#d3ed9c 93.6px 95.1px,#479fb3 95.1px 98.1px,#a6dba4 98.1px 99.6px,#c8e99e 99.6px 101.1px,#e7f59a 101.1px 102.5px,#87cfa5 102.5px 104px,transparent 104px 150.1px),#3586c0"></div>
<div style="left:838.3px;top:725.8px;width:124.4px;height:14.2px;background:repeating-linear-gradient(90deg,transparent 0 2px,rgba(255,255,255,0.2) 2px 3px),linear-gradient(90deg,#479fb3 0px 1.5px,#ebf7a0 1.5px 3px,#90d3a4 3px 4.4px,#b7e2a1 4.4px 5.9px,#6ac4a5 5.9px 7.4px,#3288bd 7.4px 8.9px,#b0dfa3 8.9px 10.4px,#479fb3 10.4px 11.8px,#61bca7 11.8px 13.3px,#d4ee9c 13.3px 14.8px,#e0f399 14.8px 16.3px,#bce4a0 16.3px 17.8px,#aadca4 17.8px 19.3px,#a9dca4 19.3px 20.7px,#479fb3 20.7px 23.7px,#88cfa5 23.7px 25.2px,#479fb3 25.2px 26.7px,#6cc4a5 26.7px 28.1px,#3288bd 28.1px 29.6px,#dff299 29.6px 31.1px,#d7ef9b 31.1px 32.6px,#a5dba4 32.6px 34.1px,#81cda5 34.1px 35.5px,#479fb3 35.5px 37px,#3288bd 37px 38.5px,#b2e0a2 38.5px 40px,#7bcaa5 40px 41.5px,#b3e0a2 41.5px 42.9px,#9bd7a4 42.9px 44.4px,#a9dca4 44.4px 45.9px,#acdda4 45.9px 47.4px,#a8dca4 47.4px 48.9px,#68c3a5 48.9px 50.4px,#60bba8 50.4px 51.8px,#7acaa5 51.8px 53.3px,#479fb3 53.3px 54.8px,#b1dfa3 54.8px 56.3px,#479fb3 56.3px 57.8px,#8bd1a4 57.8px 59.2px,#479fb3 59.2px 60.7px,#3288bd 60.7px 62.2px,#479fb3 62.2px 63.7px,#e5f598 63.7px 65.2px,#3288bd 65.2px 68.1px,#a3daa4 68.1px 69.6px,#479fb3 69.6px 72.6px,#3288bd 72.6px 74px,#9ed8a4 74px 75.5px,#fdae61 75.5px 77px,#e7f59a 77px 78.5px,#70c6a5 78.5px 80px,#3288bd 80px 84.4px,#c3e79f 84.4px 85.9px,#69c3a5 85.9px 87.4px,#90d3a4 87.4px 88.9px,#479fb3 88.9px 90.3px,#f0f9a7 90.3px 91.8px,#3288bd 91.8px 93.3px,#80cca5 93.3px 94.8px,#81cda5 94.8px 96.3px,#aadca4 96.3px 97.7px,#86cea5 97.7px 99.2px,#fdc272 99.2px 100.7px,#8ad0a4 100.7px 102.2px,#b6e2a2 102.2px 103.7px,#3288bd 103.7px 105.1px,#dbf09a 105.1px 106.6px,#6ec5a5 106.6px 108.1px,#8ed2a4 108.1px 109.6px,#dbf19a 109.6px 111.1px,#479fb3 111.1px 112.6px,#b7e2a2 112.6px 114px,#9fd8a4 114px 115.5px,#62bea7 115.5px 117px,#479fb3 117px 118.5px,#e8f69b 118.5px 120px,#72c7a5 120px 121.4px,#3288bd 121.4px 122.9px,#8bd1a4 122.9px 124.4px),#3586c0"></div>
<div style="left:838.3px;top:745.97px;width:123.4px;height:14.2px;background:repeating-linear-gradient(90deg,transparent 0 2px,rgba(255,255,255,0.2) 2px 3px),linear-gradient(90deg,transparent 0px 34.2px,#64c0a6 34.2px 35.7px,#95d4a4 35.7px 37.2px,#3c94b8 37.2px 38.7px,#87cfa5 38.7px 40.1px,#479fb3 40.1px 41.6px,#3c94b8 41.6px 43.1px,#3288bd 43.1px 44.6px,#79c9a5 44.6px 46.1px,transparent 46.1px 65.4px,#ddf19a 65.4px 66.9px,#a5dba4 66.9px 68.4px,#ccea9d 68.4px 69.9px,transparent 69.9px 84.7px,#3288bd 84.7px 86.2px,#68c3a5 86.2px 87.7px,#afdfa3 87.7px 89.2px,#479fb3 89.2px 90.7px,transparent 90.7px 108.5px,#3288bd 108.5px 110px,#c7e99e 110px 111.5px,#3288bd 111.5px 113px,#93d3a4 113px 114.5px,#3c94b8 114.5px 117.5px,transparent 117.5px 123.4px),#3586c0"></div>
<div style="left:838.3px;top:766.14px;width:114.5px;height:14.2px;background:repeating-linear-gradient(90deg,transparent 0 2px,rgba(255,255,255,0.2) 2px 3px),linear-gradient(90deg,#9ad6a4 0px 1.5px,#90d3a4 1.5px 3px,#feffbe 3px 4.5px,#d1ed9c 4.5px 5.9px,#e3f499 5.9px 7.4px,#d3ed9c 7.4px 8.9px,#8ad0a4 8.9px 11.9px,#8dd1a4 11.9px 13.4px,#f2faab 13.4px 14.9px,#def29a 14.9px 16.4px,#98d5a4 16.4px 17.8px,#d1ec9c 17.8px 19.3px,transparent 19.3px 34.2px,#479fb3 34.2px 37.2px,#3288bd 37.2px 38.7px,#86cea5 38.7px 40.1px,#abdda4 40.1px 41.6px,#8ed2a4 41.6px 43.1px,#64bfa6 43.1px 44.6px,#68c3a5 44.6px 46.1px,#75c8a5 46.1px 47.6px,#7acaa5 47.6px 49.1px,#7dcba5 49.1px 50.6px,#e9f69d 50.6px 52px,#6dc5a5 52px 53.5px,#a9dca4 53.5px 55px,#479fb3 55px 56.5px,#9cd7a4 56.5px 58px,#3288bd 58px 61px,#7dcba5 61px 62.5px,#73c7a5 62.5px 63.9px,#3288bd 63.9px 65.4px,#b0dfa3 65.4px 66.9px,#479fb3 66.9px 68.4px,transparent 68.4px 83.3px,#91d3a4 83.3px 84.8px,#3288bd 84.8px 86.2px,#479fb3 86.2px 87.7px,#65c1a5 87.7px 89.2px,#f0f9a8 89.2px 90.7px,#3288bd 90.7px 92.2px,#97d5a4 92.2px 93.7px,#69c3a5 93.7px 95.2px,#cbea9d 95.2px 96.7px,#3288bd 96.7px 98.1px,#6fc5a5 98.1px 99.6px,#a4daa4 99.6px 101.1px,#bae3a1 101.1px 102.6px,#74c8a5 102.6px 104.1px,#3288bd 104.1px 105.6px,#e9f69c 105.6px 107.1px,#97d5a4 107.1px 108.6px,#b2e0a3 108.6px 110px,#3288bd 110px 111.5px,#abdda4 111.5px 113px,#479fb3 113px 114.5px),#3586c0"></div>
<div style="left:838.3px;top:786.31px;width:107.5px;height:14.2px;background:repeating-linear-gradient(90deg,transparent 0 2px,rgba(255,255,255,0.2) 2px 3px),linear-gradient(90deg,#8bd0a4 0px 1.5px,#e3f499 1.5px 2.9px,#c7e89e 2.9px 4.4px,#f6fbb1 4.4px 5.9px,transparent 5.9px 98.7px,#a0d9a4 98.7px 100.1px,#e9f69d 100.1px 101.6px,#c5e89f 101.6px 103.1px,#f5fbb0 103.1px 104.6px,#fdfebc 104.6px 106px,#a4daa4 106px 107.5px),#3586c0"></div>
<div style="left:838.3px;top:806.48px;width:99.6px;height:14.2px;background:repeating-linear-gradient(90deg,transparent 0 2px,rgba(255,255,255,0.2) 2px 3px),linear-gradient(90deg,#99d6a4 0px 1.5px,#f2faab 1.5px 3px,#3288bd 3px 5.9px,#479fb3 5.9px 10.4px,#9fd8a4 10.4px 11.9px,#75c8a5 11.9px 13.4px,#8fd2a4 13.4px 14.9px,#aadda4 14.9px 16.4px,#94d4a4 16.4px 17.8px,#c5e79f 17.8px 19.3px,#62bda7 19.3px 20.8px,#bce4a1 20.8px 22.3px,#bde4a0 22.3px 23.8px,#479fb3 23.8px 25.3px,#89d0a4 25.3px 26.8px,#3288bd 26.8px 28.2px,#96d5a4 28.2px 29.7px,#addea4 29.7px 31.2px,#8ad0a4 31.2px 32.7px,#8cd1a4 32.7px 34.2px,#cfeb9d 34.2px 35.7px,#93d4a4 35.7px 37.2px,#479fb3 37.2px 41.6px,#3288bd 41.6px 43.1px,#a5dba4 43.1px 44.6px,#6fc6a5 44.6px 46.1px,#8ad0a4 46.1px 49.1px,#97d5a4 49.1px 50.5px,#479fb3 50.5px 53.5px,#81cca5 53.5px 55px,#f2faab 55px 56.5px,#3288bd 56.5px 58px,#bde4a0 58px 59.5px,#eef8a5 59.5px 60.9px,#eef8a4 60.9px 62.4px,#74c7a5 62.4px 63.9px,#e8f69b 63.9px 65.4px,#a4daa4 65.4px 66.9px,#479fb3 66.9px 68.4px,#f0f9a8 68.4px 69.9px,#3288bd 69.9px 72.8px,#96d5a4 72.8px 74.3px,#9ed8a4 74.3px 75.8px,#d5ee9b 75.8px 77.3px,#90d3a4 77.3px 78.8px,#97d5a4 78.8px 80.3px,#eff9a6 80.3px 81.8px,#8ad0a4 81.8px 83.2px,#479fb3 83.2px 84.7px,#bde4a0 84.7px 86.2px,#6fc6a5 86.2px 87.7px,#479fb3 87.7px 89.2px,#c9e99e 89.2px 90.7px,#b2e0a3 90.7px 92.2px,#aedea3 92.2px 93.7px,#e6f599 93.7px 95.1px,#6ac4a5 95.1px 96.6px,#479fb3 96.6px 98.1px,#f4fbae 98.1px 99.6px),#3586c0"></div>
<div style="left:838.3px;top:826.65px;width:90.7px;height:14.2px;background:repeating-linear-gradient(90deg,transparent 0 2px,rgba(255,255,255,0.2) 2px 3px),linear-gradient(90deg,#479fb3 0px 1.5px,#6dc5a5 1.5px 3px,#79caa5 3px 4.5px,#e1514a 4.5px 5.9px,#479fb3 5.9px 7.4px,#b7e2a1 7.4px 8.9px,#479fb3 8.9px 11.9px,#99d6a4 11.9px 13.4px,#a3daa4 13.4px 14.9px,#3288bd 14.9px 16.4px,#88cfa5 16.4px 17.8px,#fdae61 17.8px 19.3px,#d7ef9b 19.3px 20.8px,#61bda7 20.8px 22.3px,#479fb3 22.3px 23.8px,#97d5a4 23.8px 25.3px,#6bc4a5 25.3px 26.8px,#82cda5 26.8px 28.3px,#a6dba4 28.3px 29.7px,#479fb3 29.7px 32.7px,#3288bd 32.7px 34.2px,#9fd8a4 34.2px 35.7px,#3c94b8 35.7px 37.2px,#479fb3 37.2px 38.7px,#66c2a5 38.7px 40.1px,#479fb3 40.1px 41.6px,#3c94b8 41.6px 43.1px,#479fb3 43.1px 44.6px,#8fd2a4 44.6px 46.1px,#7acaa5 46.1px 47.6px,#3c94b8 47.6px 49.1px,#479fb3 49.1px 50.6px,#eff9a6 50.6px 52px,#62bda7 52px 53.5px,#3c94b8 53.5px 55px,#96d5a4 55px 56.5px,#90d3a4 56.5px 58px,#91d3a4 58px 59.5px,#3288bd 59.5px 61px,#74c8a5 61px 62.4px,#ceeb9d 62.4px 63.9px,#479fb3 63.9px 65.4px,#68c3a5 65.4px 66.9px,#86cfa5 66.9px 68.4px,#a2daa4 68.4px 69.9px,#85cea5 69.9px 71.4px,#e5f598 71.4px 72.9px,#8dd1a4 72.9px 74.3px,#3288bd 74.3px 75.8px,#479fb3 75.8px 77.3px,#d2ed9c 77.3px 78.8px,#9bd7a4 78.8px 80.3px,#479fb3 80.3px 83.3px,#eef8a5 83.3px 84.8px,#67c2a5 84.8px 86.2px,#87cfa5 86.2px 87.7px,#3288bd 87.7px 89.2px,#73c7a5 89.2px 90.7px),#3586c0"></div>
<div style="left:749.4px;top:652px;width:12.4px;height:61.9px;background:linear-gradient(180deg,#d53e4f 0%,#f46d43 12.5%,#fdae61 25%,#fee08b 37.5%,#ffffbf 50%,#e6f598 62.5%,#abdda4 75%,#66c2a5 87.5%,#3288bd 100%)"></div>
<div style="left:1224.7px;top:650.9px;width:12.4px;height:62.3px;background:linear-gradient(180deg,#d53e4f 0%,#f46d43 12.5%,#fdae61 25%,#fee08b 37.5%,#ffffbf 50%,#e6f598 62.5%,#abdda4 75%,#66c2a5 87.5%,#3288bd 100%)"></div>
<div class="r" style="left:69.4px;top:66.4px;width:347.2px;height:347.2px;background:conic-gradient(#fff 0deg 0.9deg,#d9836c 0.9deg 1.35deg,#edd0c0 1.35deg 1.8deg,#ebc0ac 1.8deg 2.25deg,#df9378 2.25deg 2.7deg,#df9177 2.7deg 3.15deg,#edcebc 3.15deg 3.6deg,#a62638 3.6deg 4.05deg,#e8af95 4.05deg 4.5deg,#c75d52 4.5deg 4.95deg,#e8b49a 4.95deg 5.4deg,#af2e3b 5.4deg 5.85deg,#a92738 5.85deg 6.3deg,#ba4445 6.3deg 6.75deg,#b3353f 6.75deg 7.2deg,#781830 7.2deg 7.65deg,#9f2436 7.65deg 8.1deg,#a62638 8.1deg 8.55deg,#af2d3b 8.55deg 9deg,#9f2436 9deg 9.45deg,#9d2336 9.45deg 9.9deg,#73152f 9.9deg 10.35deg,#e9b8a1 10.35deg 10.8deg,#b73d42 10.8deg 11.25deg,#e2997d 11.25deg 11.7deg,#ecc9b6 11.7deg 12.15deg,#de9076 12.15deg 12.6deg,#db8970 12.6deg 13.05deg,#e6a98d 13.05deg 13.5deg,#9b2336 13.5deg 13.95deg,#cd6a58 13.95deg 14.4deg,#b73d42 14.4deg 14.85deg,#ebc2ae 14.85deg 15.3deg,#db8a71 15.3deg 15.75deg,#e39c80 15.75deg 16.2deg,#e2997d 16.2deg 16.65deg,#c3554d 16.65deg 17.1deg,#ca6455 17.1deg 17.55deg,#bf4c4a 17.55deg 18deg,#d9856e 18deg 18.45deg,#6c142e 18.45deg 19.35deg,#9a2236 19.35deg 19.8deg,#841b33 19.8deg 20.25deg,#881c33 20.25deg 20.7deg,#8c1e33 20.7deg 21.15deg,#7b1831 21.15deg 21.6deg,#c96053 21.6deg 22.05deg,#831b32 22.05deg 22.5deg,#7c1931 22.5deg 22.95deg,#b63a41 22.95deg 23.4deg,#ac2839 23.4deg 23.85deg,#a72738 23.85deg 24.3deg,#c65b51 24.3deg 24.75deg,#d1725f 24.75deg 25.2deg,#edd2c1 25.2deg 25.65deg,#a92738 25.65deg 26.1deg,#922034 26.1deg 26.55deg,#36587d 26.55deg 27deg,#e1977c 27deg 27.45deg,#6c142e 27.45deg 27.9deg,#c4564e 27.9deg 28.35deg,#e7ac90 28.35deg 28.8deg,#ecc9b6 28.8deg 29.25deg,#bb4546 29.25deg 29.7deg,#d37964 29.7deg 30.15deg,#e8b49b 30.15deg 30.6deg,#e8b39a 30.6deg 31.05deg,#bd4948 31.05deg 31.5deg,#c0504c 31.5deg 31.95deg,#952035 31.95deg 32.4deg,#e39b7e 32.4deg 32.85deg,#6a9bb7 32.85deg 33.3deg,#e5a385 33.3deg 33.75deg,#e9b59c 33.75deg 34.2deg,#c96153 34.2deg 34.65deg,#e8b096 34.65deg 35.1deg,#da8770 35.1deg 35.55deg,#791830 35.55deg 36deg,#bb4646 36deg 36.45deg,#d67e68 36.45deg 36.9deg,#c85f52 36.9deg 37.35deg,#e6a88c 37.35deg 37.8deg,#b0303c 37.8deg 38.25deg,#ca6254 38.25deg 38.7deg,#9f2436 38.7deg 39.15deg,#fff 39.15deg 40.5deg,#be4a49 40.5deg 40.95deg,#ba4245 40.95deg 41.4deg,#ebc1ac 41.4deg 41.85deg,#b94044 41.85deg 42.3deg,#bc4647 42.3deg 42.75deg,#bb4546 42.75deg 43.65deg,#d27561 43.65deg 44.1deg,#e8af95 44.1deg 44.55deg,#e2997d 44.55deg 45deg,#e8b096 45deg 45.45deg,#e9b59d 45.45deg 45.9deg,#c65a51 45.9deg 46.35deg,#e7aa8f 46.35deg 46.8deg,#c1524c 46.8deg 47.25deg,#b63b41 47.25deg 47.7deg,#d47964 47.7deg 48.15deg,#a22537 48.15deg 48.6deg,#ca6354 48.6deg 49.05deg,#d0705d 49.05deg 49.5deg,#9b2336 49.5deg 49.95deg,#a32637 49.95deg 50.4deg,#d57d67 50.4deg 50.85deg,#e5a083 50.85deg 51.3deg,#b02f3c 51.3deg 51.75deg,#ba4345 51.75deg 52.2deg,#eabca6 52.2deg 52.65deg,#d67e68 52.65deg 53.1deg,#b3333e 53.1deg 53.55deg,#e6a588 53.55deg 54deg,#eccbb9 54deg 54.45deg,#b63b42 54.45deg 54.9deg,#edcfbe 54.9deg 55.35deg,#bd4948 55.35deg 55.8deg,#c55850 55.8deg 56.25deg,#d0705d 56.25deg 56.7deg,#d27360 56.7deg 57.15deg,#de9076 57.15deg 57.6deg,#d7816a 57.6deg 58.05deg,#e1977c 58.05deg 58.5deg,#568aae 58.5deg 58.95deg,#b63b41 58.95deg 59.4deg,#bf4c49 59.4deg 59.85deg,#eabca6 59.85deg 60.3deg,#b0303c 60.3deg 60.75deg,#e5a487 60.75deg 61.2deg,#c2524c 61.2deg 61.65deg,#de9076 61.65deg 62.1deg,#d0705d 62.1deg 62.55deg,#c96253 62.55deg 63deg,#416e9c 63deg 63.45deg,#b3343e 63.45deg 63.9deg,#ab2739 63.9deg 64.35deg,#e9b8a0 64.35deg 64.8deg,#ecccba 64.8deg 65.25deg,#bd4a48 65.25deg 65.7deg,#ecd4c6 65.7deg 66.15deg,#a52638 66.15deg 66.6deg,#b4373f 66.6deg 67.05deg,#ce6c5b 67.05deg 67.5deg,#e5a487 67.5deg 67.95deg,#a82738 67.95deg 68.4deg,#bb4546 68.4deg 68.85deg,#ecc9b6 68.85deg 69.3deg,#db8971 69.3deg 69.75deg,#e29b7e 69.75deg 70.2deg,#b1303c 70.2deg 70.65deg,#d67d68 70.65deg 71.1deg,#ae2c3a 71.1deg 71.55deg,#831a32 71.55deg 72deg,#871c33 72deg 72.45deg,#6d142e 72.45deg 72.9deg,#d0705e 72.9deg 73.35deg,#c65b51 73.35deg 73.8deg,#c3544d 73.8deg 74.25deg,#d57b66 74.25deg 74.7deg,#e59f82 74.7deg 75.15deg,#af2d3b 75.15deg 75.6deg,#e1987c 75.6deg 76.05deg,#c4574f 76.05deg 76.5deg,#fff 76.5deg 77.85deg,#ebc5b0 77.85deg 78.3deg,#e5a284 78.3deg 78.75deg,#d7816a 78.75deg 79.2deg,#e6a689 79.2deg 79.65deg,#3f6b97 79.65deg 80.1deg,#d9856e 80.1deg 80.55deg,#831a32 80.55deg 81deg,#5d92b2 81deg 81.45deg,#c2544d 81.45deg 81.9deg,#3c658f 81.9deg 82.35deg,#b3353f 82.35deg 82.8deg,#d27461 82.8deg 83.25deg,#ab2739 83.25deg 83.7deg,#c1524c 83.7deg 84.15deg,#cf6e5c 84.15deg 84.6deg,#a22537 84.6deg 85.05deg,#e1977c 85.05deg 85.5deg,#e39c7f 85.5deg 85.95deg,#e6a78a 85.95deg 86.4deg,#e6a88c 86.4deg 86.85deg,#c3544d 86.85deg 87.3deg,#b1313d 87.3deg 87.75deg,#ecccba 87.75deg 88.2deg,#b2323d 88.2deg 88.65deg,#ebc5b0 88.65deg 89.1deg,#dd8d74 89.1deg 89.55deg,#416d9c 89.55deg 90deg,#dc8b72 90deg 90.45deg,#ad2839 90.45deg 90.9deg,#d37663 90.9deg 91.35deg,#ce6b5a 91.35deg 91.8deg,#9c2336 91.8deg 92.25deg,#36587e 92.25deg 92.7deg,#5185ab 92.7deg 93.15deg,#d67e68 93.15deg 93.6deg,#cf6f5c 93.6deg 94.05deg,#e6a88b 94.05deg 94.5deg,#74162f 94.5deg 94.95deg,#da876f 94.95deg 95.4deg,#4473a2 95.4deg 95.85deg,#406c99 95.85deg 96.3deg,#c1514c 96.3deg 96.75deg,#b1303c 96.75deg 97.2deg,#c1514c 97.2deg 97.65deg,#ae2a39 97.65deg 98.1deg,#cc6858 98.1deg 98.55deg,#b4363f 98.55deg 99deg,#dc8b72 99deg 99.45deg,#d7816a 99.45deg 99.9deg,#e2997d 99.9deg 100.35deg,#a62638 100.35deg 100.8deg,#e8b399 100.8deg 101.25deg,#e6a487 101.25deg 101.7deg,#497aa6 101.7deg 102.15deg,#c4584f 102.15deg 102.6deg,#d37764 102.6deg 103.05deg,#ecd3c5 103.05deg 103.5deg,#b73e43 103.5deg 103.95deg,#e8af95 103.95deg 104.4deg,#426f9e 104.4deg 104.85deg,#b1313d 104.85deg 105.3deg,#d1735f 105.3deg 105.75deg,#b3343e 105.75deg 106.2deg,#b83f44 106.2deg 106.65deg,#6396b4 106.65deg 107.1deg,#eabca6 107.1deg 107.55deg,#75a2ba 107.55deg 108deg,#e5a284 108deg 108.45deg,#c65c51 108.45deg 108.9deg,#e2997d 108.9deg 109.35deg,#d0705d 109.35deg 109.8deg,#c04e4b 109.8deg 110.25deg,#a32537 110.25deg 110.7deg,#c96153 110.7deg 111.15deg,#af2d3a 111.15deg 111.6deg,#a12537 111.6deg 112.05deg,#72a0ba 112.05deg 112.5deg,#c86053 112.5deg 112.95deg,#fff 112.95deg 114.3deg,#8f1f33 114.3deg 114.75deg,#952034 114.75deg 115.2deg,#a22537 115.2deg 115.65deg,#761730 115.65deg 116.1deg,#c04f4b 116.1deg 116.55deg,#cc6556 116.55deg 117deg,#e0967b 117deg 117.45deg,#c04e4b 117.45deg 117.9deg,#df9579 117.9deg 118.35deg,#902034 118.35deg 118.8deg,#385d85 118.8deg 119.25deg,#e2997d 119.25deg 119.7deg,#a72738 119.7deg 120.15deg,#912034 120.15deg 120.6deg,#e5a283 120.6deg 121.05deg,#8e1f33 121.05deg 121.5deg,#e7aa8e 121.5deg 121.95deg,#c0514c 121.95deg 122.4deg,#d9856e 122.4deg 122.85deg,#e7ae93 122.85deg 123.3deg,#6798b5 123.3deg 123.75deg,#c65a51 123.75deg 124.2deg,#982135 124.2deg 124.65deg,#7f1a31 124.65deg 125.1deg,#5387ac 125.1deg 125.55deg,#36587e 125.55deg 126deg,#d67f69 126deg 126.45deg,#7d1931 126.45deg 126.9deg,#689ab6 126.9deg 127.35deg,#972135 127.35deg 127.8deg,#598fb1 127.8deg 128.25deg,#dd8f75 128.25deg 128.7deg,#db8970 128.7deg 129.15deg,#e7ab8f 129.15deg 129.6deg,#c4574f 129.6deg 130.05deg,#b53940 130.05deg 130.5deg,#e8b39a 130.5deg 130.95deg,#972135 130.95deg 131.4deg,#8b1d33 131.4deg 131.85deg,#b43940 131.85deg 132.3deg,#bb4546 132.3deg 132.75deg,#a92738 132.75deg 133.2deg,#4676a4 133.2deg 133.65deg,#8f1f33 133.65deg 134.1deg,#6d9db8 134.1deg 134.55deg,#4777a4 134.55deg 135deg,#a42637 135deg 135.45deg,#942034 135.45deg 135.9deg,#497aa6 135.9deg 136.35deg,#e7ae93 136.35deg 136.8deg,#bc4647 136.8deg 137.25deg,#cf6d5c 137.25deg 137.7deg,#e0967b 137.7deg 138.15deg,#a02437 138.15deg 138.6deg,#d67e68 138.6deg 139.05deg,#c2524c 139.05deg 139.5deg,#e9b9a1 139.5deg 139.95deg,#e6a98d 139.95deg 140.4deg,#a92738 140.4deg 140.85deg,#bd4a48 140.85deg 141.3deg,#d77f69 141.3deg 141.75deg,#b2333e 141.75deg 142.2deg,#ce6c5a 142.2deg 142.65deg,#da8870 142.65deg 143.1deg,#c65c52 143.1deg 143.55deg,#d8826b 143.55deg 144deg,#e29a7d 144deg 144.45deg,#4b7da7 144.45deg 144.9deg,#972135 144.9deg 145.35deg,#e9b49b 145.35deg 145.8deg,#9c2336 145.8deg 146.25deg,#e6a88c 146.25deg 146.7deg,#4473a2 146.7deg 147.15deg,#fff 147.15deg 148.05deg,#bd4948 148.05deg 148.5deg,#e7ae93 148.5deg 148.95deg,#c4584f 148.95deg 149.4deg,#b43840 149.4deg 149.85deg,#d37561 149.85deg 150.3deg,#ebc0a9 150.3deg 150.75deg,#e9b69d 150.75deg 151.2deg,#dc8c73 151.2deg 151.65deg,#b63b41 151.65deg 152.1deg,#d9846d 152.1deg 152.55deg,#922034 152.55deg 153deg,#eabaa2 153deg 153.45deg,#c4574f 153.45deg 153.9deg,#bf4d4a 153.9deg 154.35deg,#cc6858 154.35deg 154.8deg,#e7a98e 154.8deg 155.25deg,#eabca5 155.25deg 155.7deg,#e9b49b 155.7deg 156.15deg,#ba4345 156.15deg 156.6deg,#841b33 156.6deg 157.05deg,#6d142e 157.05deg 157.5deg,#a22537 157.5deg 157.95deg,#9b2336 157.95deg 158.4deg,#ae2b39 158.4deg 158.85deg,#e49c80 158.85deg 159.3deg,#b1313d 159.3deg 159.75deg,#e5a385 159.75deg 160.2deg,#c65a50 160.2deg 160.65deg,#ca6454 160.65deg 161.1deg,#b63c42 161.1deg 161.55deg,#eab9a2 161.55deg 162deg,#e6a689 162deg 162.45deg,#c96053 162.45deg 162.9deg,#c85f52 162.9deg 163.35deg,#6598b5 163.35deg 163.8deg,#e0957a 163.8deg 164.25deg,#d7816a 164.25deg 164.7deg,#cb6555 164.7deg 165.15deg,#b53a41 165.15deg 165.6deg,#c65b51 165.6deg 166.05deg,#4776a4 166.05deg 166.5deg,#df9479 166.5deg 166.95deg,#e49d80 166.95deg 167.4deg,#ae2a39 167.4deg 167.85deg,#6598b5 167.85deg 168.3deg,#e7ac91 168.3deg 168.75deg,#5f93b3 168.75deg 169.2deg,#cc6958 169.2deg 169.65deg,#ba4345 169.65deg 170.1deg,#cf6f5d 170.1deg 170.55deg,#c04f4b 170.55deg 171deg,#e39c7f 171deg 171.45deg,#932034 171.45deg 171.9deg,#e49c80 171.9deg 172.35deg,#b43840 172.35deg 172.8deg,#de9076 172.8deg 173.25deg,#fff 173.25deg 174.6deg,#3a618a 174.6deg 175.05deg,#d57c66 175.05deg 175.5deg,#d8826b 175.5deg 175.95deg,#ae2c3a 175.95deg 176.85deg,#e1977c 176.85deg 177.3deg,#b53940 177.3deg 177.75deg,#9d2336 177.75deg 178.2deg,#e6a689 178.2deg 178.65deg,#b1303c 178.65deg 179.1deg,#e6a88c 179.1deg 179.55deg,#c0514c 179.55deg 180deg,#c65c51 180deg 180.45deg,#ebc0ab 180.45deg 180.9deg,#ac2839 180.9deg 181.35deg,#d47a65 181.35deg 181.8deg,#ca6254 181.8deg 182.25deg,#d57c66 182.25deg 182.7deg,#ba4445 182.7deg 183.15deg,#e6a689 183.15deg 183.6deg,#b0303c 183.6deg 184.05deg,#70152f 184.05deg 184.5deg,#b2323d 184.5deg 184.95deg,#5488ad 184.95deg 185.4deg,#3b638c 185.4deg 185.85deg,#c55950 185.85deg 186.3deg,#d77f69 186.3deg 186.75deg,#891c33 186.75deg 187.2deg,#dc8c73 187.2deg 187.65deg,#e29a7d 187.65deg 188.1deg,#841b33 188.1deg 188.55deg,#891d33 188.55deg 189deg,#df9579 189deg 189.45deg,#ae2b3a 189.45deg 189.9deg,#4e81a9 189.9deg 190.35deg,#3c658f 190.35deg 190.8deg,#74a1ba 190.8deg 191.25deg,#d47a65 191.25deg 191.7deg,#c4584f 191.7deg 192.15deg,#5c91b2 192.15deg 192.6deg,#a82738 192.6deg 193.05deg,#df9479 193.05deg 193.5deg,#c85e52 193.5deg 193.95deg,#d1735f 193.95deg 194.4deg,#c65950 194.4deg 194.85deg,#5285ab 194.85deg 195.3deg,#d27360 195.3deg 195.75deg,#ba4345 195.75deg 196.2deg,#d8826b 196.2deg 196.65deg,#ce6c5a 196.65deg 197.1deg,#fff 197.1deg 198deg,#a32537 198deg 198.45deg,#a82738 198.45deg 198.9deg,#3b638c 198.9deg 199.35deg,#a82738 199.35deg 199.8deg,#a62638 199.8deg 200.25deg,#831b32 200.25deg 200.7deg,#6e142e 200.7deg 201.15deg,#761730 201.15deg 201.6deg,#5286ac 201.6deg 202.05deg,#b94145 202.05deg 202.5deg,#d67d68 202.5deg 202.95deg,#d27460 202.95deg 203.4deg,#6b9bb7 203.4deg 203.85deg,#b94044 203.85deg 204.3deg,#578caf 204.3deg 204.75deg,#c2544d 204.75deg 205.2deg,#b3343f 205.2deg 205.65deg,#4c7ea8 205.65deg 206.1deg,#c65c51 206.1deg 206.55deg,#b02f3c 206.55deg 207deg,#b4383f 207deg 207.45deg,#ad2939 207.45deg 207.9deg,#e5a487 207.9deg 208.8deg,#861c33 208.8deg 209.25deg,#ba4345 209.25deg 209.7deg,#a72738 209.7deg 210.15deg,#e7a98e 210.15deg 210.6deg,#d57c66 210.6deg 211.05deg,#dc8c73 211.05deg 211.5deg,#5489ad 211.5deg 211.95deg,#bf4c4a 211.95deg 212.4deg,#d0705e 212.4deg 212.85deg,#c3544d 212.85deg 213.3deg,#ebc3ae 213.3deg 213.75deg,#e49e81 213.75deg 214.2deg,#ebc6b3 214.2deg 214.65deg,#d9836c 214.65deg 215.1deg,#972135 215.1deg 215.55deg,#a72738 215.55deg 216deg,#c2524c 216deg 216.45deg,#7b1831 216.45deg 216.9deg,#d37662 216.9deg 217.35deg,#ca6354 217.35deg 217.8deg,#5c91b2 217.8deg 218.25deg,#7a1831 218.25deg 218.7deg,#aa2739 218.7deg 219.15deg,#ad2839 219.15deg 219.6deg,#af2d3b 219.6deg 220.05deg,#d67d68 220.05deg 220.5deg,#ad2939 220.5deg 220.95deg,#fff 220.95deg 221.85deg,#568aae 221.85deg 222.3deg,#af2d3b 222.3deg 222.75deg,#992235 222.75deg 223.2deg,#e0957a 223.2deg 223.65deg,#e29a7d 223.65deg 224.1deg,#de9076 224.1deg 224.55deg,#5083ab 224.55deg 225deg,#e9b79e 225deg 225.45deg,#74a1ba 225.45deg 225.9deg,#4a7ba7 225.9deg 226.35deg,#932034 226.35deg 226.8deg,#af2d3b 226.8deg 227.25deg,#8e1f33 227.25deg 227.7deg,#e7ae93 227.7deg 228.15deg,#d0705e 228.15deg 228.6deg,#e8b197 228.6deg 229.05deg,#c5584f 229.05deg 229.5deg,#4879a5 229.5deg 229.95deg,#e59f82 229.95deg 230.4deg,#e8af95 230.4deg 230.85deg,#c3564e 230.85deg 231.3deg,#d37864 231.3deg 231.75deg,#c65c51 231.75deg 232.2deg,#e2997d 232.2deg 232.65deg,#bf4c49 232.65deg 233.1deg,#d1715e 233.1deg 233.55deg,#952035 233.55deg 234deg,#db8970 234deg 234.45deg,#b53a41 234.45deg 234.9deg,#db8a71 234.9deg 235.35deg,#b83f43 235.35deg 235.8deg,#8f1f34 235.8deg 236.25deg,#a22537 236.25deg 236.7deg,#c2534d 236.7deg 237.15deg,#c96153 237.15deg 237.6deg,#912034 237.6deg 238.05deg,#b0303c 238.05deg 238.5deg,#ebc0ab 238.5deg 238.95deg,#c55850 238.95deg 239.4deg,#bd4848 239.4deg 239.85deg,#e59f81 239.85deg 240.3deg,#e6a88a 240.3deg 240.75deg,#e6a88c 240.75deg 241.2deg,#cc6858 241.2deg 241.65deg,#bc4747 241.65deg 242.1deg,#b0303c 242.1deg 242.55deg,#d9846d 242.55deg 243deg,#8f1f33 243deg 243.45deg,#70142f 243.45deg 243.9deg,#e39c7f 243.9deg 244.35deg,#bf4c4a 244.35deg 244.8deg,#fff 244.8deg 245.7deg,#6c142e 245.7deg 246.6deg,#b4373f 246.6deg 247.05deg,#cd6a58 247.05deg 247.5deg,#891d33 247.5deg 247.95deg,#7d1a31 247.95deg 248.4deg,#be4c49 248.4deg 248.85deg,#ae2a39 248.85deg 249.3deg,#a62638 249.3deg 249.75deg,#6c142e 249.75deg 250.2deg,#b2323d 250.2deg 250.65deg,#6c142e 250.65deg 251.1deg,#952034 251.1deg 251.55deg,#6c142e 251.55deg 252deg,#b4373f 252deg 252.45deg,#6c142e 252.45deg 252.9deg,#bf4c4a 252.9deg 253.35deg,#385c82 253.35deg 253.8deg,#d0705e 253.8deg 254.25deg,#8f1f33 254.25deg 254.7deg,#c3554e 254.7deg 255.15deg,#932034 255.15deg 255.6deg,#751630 255.6deg 256.05deg,#801a32 256.05deg 256.5deg,#cd6a58 256.5deg 256.95deg,#cd6a59 256.95deg 257.4deg,#811a32 257.4deg 257.85deg,#c96253 257.85deg 258.75deg,#a32637 258.75deg 259.2deg,#ba4245 259.2deg 259.65deg,#c3554d 259.65deg 260.1deg,#b1303c 260.1deg 260.55deg,#8e1f33 260.55deg 261deg,#c75e52 261deg 261.45deg,#9d2336 261.45deg 261.9deg,#d67d68 261.9deg 262.35deg,#831b32 262.35deg 262.8deg,#da8870 262.8deg 263.25deg,#c86053 263.25deg 263.7deg,#b4353f 263.7deg 264.15deg,#cd6a58 264.15deg 264.6deg,#761730 264.6deg 265.05deg,#d67e68 265.05deg 265.5deg,#cf6f5d 265.5deg 265.95deg,#821a32 265.95deg 266.4deg,#b93f44 266.4deg 266.85deg,#6c142e 266.85deg 267.3deg,#d1715e 267.3deg 267.75deg,#a42637 267.75deg 268.2deg,#b94044 268.2deg 268.65deg,#d0705e 268.65deg 269.1deg,#fff 269.1deg 270.45deg,#74162f 270.45deg 270.9deg,#6c142e 270.9deg 271.35deg,#a22537 271.35deg 271.8deg,#6c142e 271.8deg 272.25deg,#b94044 272.25deg 272.7deg,#6e142e 272.7deg 273.15deg,#6c142e 273.15deg 273.6deg,#761730 273.6deg 274.05deg,#b93f44 274.05deg 274.5deg,#c65d52 274.5deg 274.95deg,#6c142e 274.95deg 276.3deg,#6f142e 276.3deg 276.75deg,#b83f44 276.75deg 277.2deg,#d67d68 277.2deg 277.65deg,#bb4546 277.65deg 278.1deg,#6c142e 278.1deg 278.55deg,#b53940 278.55deg 279deg,#6c142e 279deg 279.45deg,#cd6a59 279.45deg 279.9deg,#6c142e 279.9deg 280.35deg,#c3544d 280.35deg 280.8deg,#b94044 280.8deg 281.25deg,#c75e52 281.25deg 281.7deg,#c55850 281.7deg 282.15deg,#ba4345 282.15deg 282.6deg,#c75d52 282.6deg 283.05deg,#6c142e 283.05deg 283.5deg,#a62638 283.5deg 283.95deg,#bf4d4a 283.95deg 284.4deg,#6c142e 284.4deg 285.3deg,#fff 285.3deg 286.65deg,#c04f4b 286.65deg 287.1deg,#d9876f 287.1deg 287.55deg,#b1323d 287.55deg 288deg,#e6a78a 288deg 288.45deg,#ce6c5a 288.45deg 288.9deg,#8f1f34 288.9deg 289.35deg,#ba4545 289.35deg 289.8deg,#c4584f 289.8deg 290.25deg,#6d142e 290.25deg 290.7deg,#a82738 290.7deg 291.15deg,#a52638 291.15deg 291.6deg,#bf4c4a 291.6deg 292.05deg,#e7aa8f 292.05deg 292.5deg,#eabba5 292.5deg 292.95deg,#c0514c 292.95deg 293.4deg,#c4584f 293.4deg 293.85deg,#c5584f 293.85deg 294.3deg,#e7ac90 294.3deg 294.75deg,#edd0bf 294.75deg 295.2deg,#c2534d 295.2deg 295.65deg,#ecc9b5 295.65deg 296.1deg,#e8b298 296.1deg 296.55deg,#c1524c 296.55deg 297deg,#bc4747 297deg 297.45deg,#ebc6b3 297.45deg 297.9deg,#e7ac90 297.9deg 298.35deg,#e59f82 298.35deg 298.8deg,#aa2739 298.8deg 299.25deg,#b94044 299.25deg 299.7deg,#fff 299.7deg 301.05deg,#d37964 301.05deg 301.5deg,#912034 301.5deg 301.95deg,#e8af95 301.95deg 302.4deg,#e2997d 302.4deg 302.85deg,#9f2436 302.85deg 303.3deg,#ce6d5b 303.3deg 303.75deg,#c0504c 303.75deg 304.2deg,#e6a88b 304.2deg 304.65deg,#be4a49 304.65deg 305.1deg,#be4c49 305.1deg 305.55deg,#c2534d 305.55deg 306deg,#b3343e 306deg 306.45deg,#a82738 306.45deg 306.9deg,#bb4646 306.9deg 307.35deg,#eabca6 307.35deg 307.8deg,#eccbb8 307.8deg 308.25deg,#e7ad92 308.25deg 308.7deg,#b4383f 308.7deg 309.15deg,#dc8b72 309.15deg 309.6deg,#e9b49b 309.6deg 310.05deg,#ba4245 310.05deg 310.5deg,#d57d67 310.5deg 310.95deg,#e5a284 310.95deg 311.4deg,#dc8d73 311.4deg 311.85deg,#e39b7e 311.85deg 312.3deg,#b63a41 312.3deg 312.75deg,#ebbfa9 312.75deg 313.2deg,#fff 313.2deg 314.1deg,#9e2436 314.1deg 314.55deg,#d7806a 314.55deg 315deg,#cc6656 315deg 315.45deg,#d9846d 315.45deg 315.9deg,#b4353f 315.9deg 316.35deg,#af2e3b 316.35deg 316.8deg,#d8826a 316.8deg 317.25deg,#c65a50 317.25deg 317.7deg,#e8b298 317.7deg 318.15deg,#b73c42 318.15deg 318.6deg,#9f2437 318.6deg 319.05deg,#a82738 319.05deg 319.5deg,#c3554e 319.5deg 319.95deg,#b83f43 319.95deg 320.4deg,#b73e43 320.4deg 320.85deg,#e2997d 320.85deg 321.3deg,#dc8b72 321.3deg 321.75deg,#e8b39a 321.75deg 322.2deg,#e1977c 322.2deg 322.65deg,#982135 322.65deg 323.1deg,#ad2939 323.1deg 323.55deg,#912034 323.55deg 324deg,#a42637 324deg 324.45deg,#891d33 324.45deg 324.9deg,#e6a689 324.9deg 325.35deg,#36587e 325.35deg 325.8deg,#d37964 325.8deg 326.25deg,#a62738 326.25deg 326.7deg,#e6a98d 326.7deg 327.15deg,#fff 327.15deg 328.05deg,#b3343f 328.05deg 328.5deg,#d9856e 328.5deg 328.95deg,#db8970 328.95deg 329.4deg,#821a32 329.4deg 329.85deg,#b83f43 329.85deg 330.3deg,#9d2336 330.3deg 330.75deg,#d8836b 330.75deg 331.2deg,#a42637 331.2deg 331.65deg,#e59f82 331.65deg 332.1deg,#ba4545 332.1deg 332.55deg,#ebc0a9 332.55deg 333deg,#d9836c 333deg 333.45deg,#3e6793 333.45deg 333.9deg,#e6a588 333.9deg 334.35deg,#df9176 334.35deg 334.8deg,#e0957a 334.8deg 335.25deg,#a92738 335.25deg 335.7deg,#952034 335.7deg 336.15deg,#b94044 336.15deg 336.6deg,#be4b49 336.6deg 337.05deg,#b3343f 337.05deg 337.5deg,#d47964 337.5deg 337.95deg,#a02437 337.95deg 338.4deg,#fff 338.4deg 339.75deg,#de9076 339.75deg 340.2deg,#ca6354 340.2deg 340.65deg,#edd0bf 340.65deg 341.1deg,#bb4546 341.1deg 341.55deg,#bd4a48 341.55deg 342deg,#de8f76 342deg 342.45deg,#b02f3c 342.45deg 342.9deg,#a42637 342.9deg 343.35deg,#992235 343.35deg 343.8deg,#e8b39a 343.8deg 344.25deg,#e1997d 344.25deg 344.7deg,#cc6757 344.7deg 345.15deg,#c04e4b 345.15deg 345.6deg,#d1715e 345.6deg 346.05deg,#e5a083 346.05deg 346.5deg,#e5a183 346.5deg 347.4deg,#c65a50 347.4deg 347.85deg,#b4363f 347.85deg 348.3deg,#4371a0 348.3deg 348.75deg,#b2323d 348.75deg 349.2deg,#fff 349.2deg 350.1deg,#e2997d 350.1deg 350.55deg,#bc4847 350.55deg 351deg,#ab2739 351deg 351.45deg,#db8970 351.45deg 351.9deg,#e9b49b 351.9deg 352.35deg,#c1514c 352.35deg 352.8deg,#d27561 352.8deg 353.25deg,#e8b096 353.25deg 353.7deg,#bb4546 353.7deg 354.15deg,#e59f82 354.15deg 354.6deg,#e8b39a 354.6deg 355.05deg,#d0705d 355.05deg 355.5deg,#ebc6b2 355.5deg 355.95deg,#a42637 355.95deg 356.4deg,#9f2437 356.4deg 356.85deg,#eabba5 356.85deg 357.3deg,#da8870 357.3deg 357.75deg,#e5a283 357.75deg 358.2deg,#a52637 358.2deg 358.65deg,#9f2437 358.65deg 359.1deg,#e7ae93 359.1deg 359.55deg,#ebc2ae 359.55deg 360deg)"></div>
<div class="r" style="left:78.8px;top:75.8px;width:328.4px;height:328.4px;background:#fff"></div>
<div class="r" style="left:79.8px;top:76.8px;width:326.4px;height:326.4px;background:conic-gradient(#fff 0deg 1.2deg,#e9f0f4 1.2deg 1.8deg,#fcd7c1 1.8deg 2.4deg,#f9ece4 2.4deg 3deg,#fae9df 3deg 3.6deg,#fae8de 3.6deg 4.2deg,#e4eef3 4.2deg 4.8deg,#f9f0eb 4.8deg 5.4deg,#f9ece4 5.4deg 6deg,#f3f5f6 6deg 6.6deg,#fbe3d6 6.6deg 7.2deg,#f9eee8 7.2deg 7.8deg,#f8f2ee 7.8deg 8.4deg,#f8f2ef 8.4deg 9deg,#dceaf2 9deg 9.6deg,#f5f6f7 9.6deg 10.2deg,#e8f0f4 10.2deg 10.8deg,#f9ede6 10.8deg 11.4deg,#fbe4d7 11.4deg 12deg,#fbd2bb 12deg 12.6deg,#fcdfce 12.6deg 13.2deg,#fbe5d9 13.2deg 13.8deg,#e7f0f4 13.8deg 14.4deg,#f9ede5 14.4deg 15deg,#fcdfce 15deg 15.6deg,#f9ede5 15.6deg 16.2deg,#eaf1f5 16.2deg 16.8deg,#fcdfce 16.8deg 17.4deg,#fae9e0 17.4deg 18deg,#f2f5f6 18deg 18.6deg,#e0ecf3 18.6deg 19.2deg,#f1f4f6 19.2deg 19.8deg,#eff3f5 19.8deg 20.4deg,#dae9f2 20.4deg 21.6deg,#f9ece5 21.6deg 22.2deg,#f1f4f6 22.2deg 22.8deg,#fae7dc 22.8deg 23.4deg,#e2edf3 23.4deg 24deg,#e4eef4 24deg 24.6deg,#dfecf3 24.6deg 25.2deg,#fae9df 25.2deg 25.8deg,#d5e7f1 25.8deg 26.4deg,#ddebf2 26.4deg 27deg,#f6f7f7 27deg 27.6deg,#e6eff4 27.6deg 28.2deg,#f7f5f4 28.2deg 28.8deg,#eef3f5 28.8deg 29.4deg,#eff3f5 29.4deg 30deg,#f8f2ee 30deg 30.6deg,#fbe4d7 30.6deg 31.2deg,#eef3f5 31.2deg 31.8deg,#fce2d3 31.8deg 32.4deg,#f8f1ed 32.4deg 33deg,#f9efea 33deg 33.6deg,#fbd0b9 33.6deg 34.2deg,#fcd5c0 34.2deg 34.8deg,#f7f5f4 34.8deg 35.4deg,#f3f5f6 35.4deg 36deg,#fbe6d9 36deg 36.6deg,#fcdecc 36.6deg 37.2deg,#fbe3d4 37.2deg 37.8deg,#dbeaf2 37.8deg 38.4deg,#e1ecf3 38.4deg 39deg,#f9ede6 39deg 39.6deg,#fff 39.6deg 40.2deg,#f9eee7 40.2deg 40.8deg,#eff3f6 40.8deg 41.4deg,#e1ecf3 41.4deg 42deg,#f8f4f1 42deg 42.6deg,#fbceb6 42.6deg 43.2deg,#fdddca 43.2deg 43.8deg,#fae7db 43.8deg 44.4deg,#fce1d2 44.4deg 45deg,#e0ecf3 45deg 45.6deg,#e4eef4 45.6deg 46.2deg,#f8f1ec 46.2deg 46.8deg,#f9eee8 46.8deg 47.4deg,#fcdecc 47.4deg 48deg,#fcd6c0 48deg 48.6deg,#f8f1ec 48.6deg 49.2deg,#faeae1 49.2deg 49.8deg,#fdddca 49.8deg 50.4deg,#fcdfcf 50.4deg 51deg,#fce0cf 51deg 51.6deg,#f5f6f7 51.6deg 52.2deg,#fbd0b9 52.2deg 52.8deg,#fbd1ba 52.8deg 53.4deg,#fcdecb 53.4deg 54deg,#f8f2ee 54deg 54.6deg,#fbe4d6 54.6deg 55.2deg,#f7f6f5 55.2deg 55.8deg,#f9ede6 55.8deg 56.4deg,#ebf1f5 56.4deg 57deg,#fbe7db 57deg 57.6deg,#fae8de 57.6deg 58.2deg,#f7f6f6 58.2deg 58.8deg,#e8f0f4 58.8deg 59.4deg,#f8f2ef 59.4deg 60deg,#fac8af 60deg 60.6deg,#fcdecc 60.6deg 61.2deg,#fbe3d5 61.2deg 61.8deg,#fcdfce 61.8deg 62.4deg,#e5eef4 62.4deg 63deg,#eaf1f5 63deg 63.6deg,#f1f4f6 63.6deg 64.2deg,#fbd0b9 64.2deg 64.8deg,#fcd5c0 64.8deg 65.4deg,#f9c1a6 65.4deg 66deg,#f9ede6 66deg 66.6deg,#f3f5f6 66.6deg 67.2deg,#fbccb4 67.2deg 67.8deg,#f7f6f6 67.8deg 68.4deg,#f5f6f7 68.4deg 69deg,#faeae1 69deg 69.6deg,#d8e8f1 69.6deg 70.2deg,#ddebf2 70.2deg 70.8deg,#faebe2 70.8deg 71.4deg,#deebf2 71.4deg 72deg,#f9ede5 72deg 72.6deg,#faeae1 72.6deg 73.2deg,#f1f4f6 73.2deg 73.8deg,#f4f6f6 73.8deg 74.4deg,#f8f3f1 74.4deg 75deg,#eef3f5 75deg 75.6deg,#edf2f5 75.6deg 76.2deg,#fcd8c3 76.2deg 76.8deg,#fff 76.8deg 77.4deg,#f8f3f0 77.4deg 78deg,#f7f5f4 78deg 78.6deg,#fce1d2 78.6deg 79.2deg,#faebe2 79.2deg 79.8deg,#f7f5f3 79.8deg 80.4deg,#f9eee8 80.4deg 81deg,#dfebf3 81deg 81.6deg,#e6eff4 81.6deg 82.2deg,#f7f6f6 82.2deg 82.8deg,#dfecf3 82.8deg 83.4deg,#d6e7f1 83.4deg 84deg,#f9f0ea 84deg 84.6deg,#f9eee8 84.6deg 85.2deg,#f7f7f7 85.2deg 85.8deg,#fbe4d6 85.8deg 86.4deg,#f8f0eb 86.4deg 87deg,#fbe5d8 87deg 87.6deg,#f8f1ed 87.6deg 88.2deg,#fcd3bd 88.2deg 88.8deg,#f8f3f0 88.8deg 89.4deg,#fcd4be 89.4deg 90deg,#facbb2 90deg 90.6deg,#f9c6ac 90.6deg 91.2deg,#f9ece4 91.2deg 91.8deg,#fbe6db 91.8deg 92.4deg,#fcdfcd 92.4deg 93deg,#fae7dc 93deg 93.6deg,#fbe4d6 93.6deg 94.2deg,#fae8dd 94.2deg 94.8deg,#e0ecf3 94.8deg 95.4deg,#f9f0eb 95.4deg 96deg,#fae8dd 96deg 96.6deg,#e2edf3 96.6deg 97.2deg,#fae7db 97.2deg 97.8deg,#fbe5d8 97.8deg 98.4deg,#f9c3a9 98.4deg 99deg,#fcd5bf 99deg 99.6deg,#f5f6f7 99.6deg 100.2deg,#f8f1ec 100.2deg 100.8deg,#f5f6f7 100.8deg 101.4deg,#f8f4f2 101.4deg 102deg,#f6f7f7 102deg 102.6deg,#fbe4d7 102.6deg 103.2deg,#f3f5f6 103.2deg 103.8deg,#fcd8c3 103.8deg 104.4deg,#fbe6da 104.4deg 105deg,#fce1d2 105deg 105.6deg,#fdddcb 105.6deg 106.2deg,#fce0cf 106.2deg 106.8deg,#fdddca 106.8deg 107.4deg,#f5f6f7 107.4deg 108deg,#f8f4f3 108deg 108.6deg,#fae7dc 108.6deg 109.2deg,#f8f3f1 109.2deg 109.8deg,#f7f5f4 109.8deg 110.4deg,#fcd3bc 110.4deg 111deg,#f8f2ef 111deg 111.6deg,#f5f6f7 111.6deg 112.2deg,#fcd2bc 112.2deg 112.8deg,#f9ede5 112.8deg 113.4deg,#fff 113.4deg 114deg,#eff3f6 114deg 114.6deg,#fddcc8 114.6deg 115.2deg,#fdddca 115.2deg 115.8deg,#e8f0f4 115.8deg 116.4deg,#f8f4f1 116.4deg 117deg,#f4f5f6 117deg 117.6deg,#f8f1ed 117.6deg 118.2deg,#fce2d3 118.2deg 118.8deg,#fbe6da 118.8deg 119.4deg,#eef3f5 119.4deg 120deg,#dbeaf2 120deg 120.6deg,#f7f6f6 120.6deg 121.2deg,#d8e8f1 121.2deg 121.8deg,#e4eef4 121.8deg 122.4deg,#f9f0eb 122.4deg 123deg,#fbe5d9 123deg 123.6deg,#eaf1f5 123.6deg 124.2deg,#fae7db 124.2deg 124.8deg,#f4f5f6 124.8deg 125.4deg,#fbe6da 125.4deg 126deg,#fbceb6 126deg 126.6deg,#f9ece4 126.6deg 127.2deg,#faeae1 127.2deg 127.8deg,#fddcc9 127.8deg 128.4deg,#eff3f5 128.4deg 129deg,#f8f3ef 129deg 129.6deg,#fbe5d8 129.6deg 130.2deg,#eef3f5 130.2deg 130.8deg,#f3f5f6 130.8deg 131.4deg,#fcdecd 131.4deg 132deg,#fbe5d9 132deg 132.6deg,#edf2f5 132.6deg 133.2deg,#f9ede6 133.2deg 133.8deg,#f9c2a7 133.8deg 134.4deg,#f9efe9 134.4deg 135deg,#f9eee8 135deg 135.6deg,#f2f5f6 135.6deg 136.2deg,#f3f5f6 136.2deg 136.8deg,#deebf2 136.8deg 137.4deg,#f9ece4 137.4deg 138deg,#fdddca 138deg 138.6deg,#f9eee7 138.6deg 139.2deg,#fbd0b9 139.2deg 139.8deg,#fbe2d3 139.8deg 141deg,#f9f0eb 141deg 141.6deg,#f8f4f2 141.6deg 142.2deg,#f0f4f6 142.2deg 142.8deg,#ecf2f5 142.8deg 143.4deg,#f8f4f2 143.4deg 144deg,#faebe2 144deg 144.6deg,#fbe5d9 144.6deg 145.2deg,#fcdfcf 145.2deg 145.8deg,#fcdfce 145.8deg 146.4deg,#fce0d0 146.4deg 147deg,#fff 147deg 148.2deg,#fddac5 148.2deg 148.8deg,#fbe4d6 148.8deg 149.4deg,#fcd8c3 149.4deg 150deg,#eaf1f5 150deg 150.6deg,#fbe5d8 150.6deg 151.2deg,#e6eff4 151.2deg 151.8deg,#fae7db 151.8deg 152.4deg,#fcdecc 152.4deg 153deg,#fae8dd 153deg 153.6deg,#fbe2d3 153.6deg 154.2deg,#f7f6f5 154.2deg 154.8deg,#fbe6da 154.8deg 155.4deg,#fbe3d5 155.4deg 156deg,#deebf2 156deg 156.6deg,#fbe4d6 156.6deg 157.2deg,#fce2d3 157.2deg 157.8deg,#fbceb6 157.8deg 158.4deg,#fbe5d8 158.4deg 159deg,#f8f3f0 159deg 159.6deg,#fbe4d7 159.6deg 160.2deg,#f9c6ac 160.2deg 160.8deg,#fcd6c0 160.8deg 161.4deg,#faebe2 161.4deg 162deg,#fbe2d4 162deg 162.6deg,#f9ede7 162.6deg 163.2deg,#eaf1f5 163.2deg 163.8deg,#ddebf2 163.8deg 164.4deg,#e2edf3 164.4deg 165deg,#e4eef3 165deg 165.6deg,#d6e7f1 165.6deg 166.2deg,#f9ede6 166.2deg 166.8deg,#fbe4d6 166.8deg 167.4deg,#f7f5f4 167.4deg 168deg,#e2edf3 168deg 168.6deg,#f9eee7 168.6deg 169.2deg,#fae9df 169.2deg 169.8deg,#f9eee8 169.8deg 170.4deg,#fddbc7 170.4deg 171deg,#fac7ad 171deg 171.6deg,#fce1d1 171.6deg 172.2deg,#f8f2ee 172.2deg 172.8deg,#fae9df 172.8deg 173.4deg,#fff 173.4deg 174.6deg,#f5f6f7 174.6deg 175.2deg,#fdd9c4 175.2deg 175.8deg,#fae9df 175.8deg 176.4deg,#f9eee8 176.4deg 177deg,#f9efea 177deg 177.6deg,#fbe3d5 177.6deg 178.2deg,#fddcc9 178.2deg 178.8deg,#fbe6db 178.8deg 179.4deg,#e5eef4 179.4deg 180deg,#f7f6f6 180deg 180.6deg,#ecf2f5 180.6deg 181.2deg,#fdddca 181.2deg 181.8deg,#f7f6f6 181.8deg 182.4deg,#f9efe9 182.4deg 183deg,#e6eff4 183deg 183.6deg,#f9efe9 183.6deg 184.2deg,#fbe3d5 184.2deg 184.8deg,#f9ece3 184.8deg 185.4deg,#fcdfce 185.4deg 186deg,#faebe2 186deg 186.6deg,#f9ede6 186.6deg 187.2deg,#eaf1f5 187.2deg 187.8deg,#f6f7f7 187.8deg 188.4deg,#f7f5f4 188.4deg 189deg,#e3eef3 189deg 189.6deg,#e5eef4 189.6deg 190.2deg,#dceaf2 190.2deg 190.8deg,#f8f0eb 190.8deg 191.4deg,#f8f2ee 191.4deg 192deg,#d7e8f1 192deg 192.6deg,#f1f4f6 192.6deg 193.2deg,#f8f1ed 193.2deg 193.8deg,#fae9e0 193.8deg 194.4deg,#e8f0f4 194.4deg 195deg,#f2f5f6 195deg 195.6deg,#f8f2ef 195.6deg 196.2deg,#fddcc9 196.2deg 196.8deg,#fff 196.8deg 198deg,#fddcc9 198deg 198.6deg,#fce1d2 198.6deg 199.2deg,#eaf1f5 199.2deg 199.8deg,#fbe3d5 199.8deg 200.4deg,#fae7dc 200.4deg 201deg,#f7f5f4 201deg 201.6deg,#f9ede5 201.6deg 202.2deg,#fae7dc 202.2deg 202.8deg,#f3f5f6 202.8deg 203.4deg,#fbe5d7 203.4deg 204deg,#fbe3d5 204deg 204.6deg,#f9ece4 204.6deg 205.2deg,#f8f0ec 205.2deg 205.8deg,#fae8dd 205.8deg 206.4deg,#f8f5f3 206.4deg 207deg,#f7f6f5 207deg 207.6deg,#fcd5bf 207.6deg 208.2deg,#fce0d0 208.2deg 208.8deg,#ecf2f5 208.8deg 209.4deg,#f8f4f1 209.4deg 210deg,#f8f5f3 210deg 210.6deg,#fcdfce 210.6deg 211.2deg,#f7f6f4 211.2deg 211.8deg,#f8f3f1 211.8deg 212.4deg,#fcd3bc 212.4deg 213deg,#f8f2ef 213deg 213.6deg,#fcd4be 213.6deg 214.2deg,#f7f6f5 214.2deg 214.8deg,#fbe3d4 214.8deg 215.4deg,#fddac6 215.4deg 216deg,#fae8dd 216deg 216.6deg,#f9ece4 216.6deg 217.2deg,#f3f5f6 217.2deg 217.8deg,#f7f6f6 217.8deg 218.4deg,#fce0d0 218.4deg 219deg,#f7f6f6 219deg 219.6deg,#faebe3 219.6deg 220.2deg,#f7f6f5 220.2deg 220.8deg,#fff 220.8deg 222deg,#fae9df 222deg 222.6deg,#e7eff4 222.6deg 223.2deg,#f9ece5 223.2deg 223.8deg,#f8f2ef 223.8deg 224.4deg,#fae8dd 224.4deg 225deg,#fac6ad 225deg 225.6deg,#fcd4be 225.6deg 226.2deg,#fae9de 226.2deg 226.8deg,#fbe4d7 226.8deg 227.4deg,#fae7dc 227.4deg 228deg,#fdd8c4 228deg 228.6deg,#ebf1f5 228.6deg 229.2deg,#fbe5d7 229.2deg 229.8deg,#f8f2ef 229.8deg 230.4deg,#f8f4f2 230.4deg 231deg,#f8f4f1 231deg 231.6deg,#fddbc8 231.6deg 232.2deg,#f9ece4 232.2deg 232.8deg,#f9efe9 232.8deg 233.4deg,#e2edf3 233.4deg 234deg,#f9ece4 234deg 234.6deg,#f8f4f2 234.6deg 235.2deg,#fcdfce 235.2deg 235.8deg,#fce1d1 235.8deg 236.4deg,#e6eff4 236.4deg 237deg,#e9f0f4 237deg 237.6deg,#f7f6f5 237.6deg 238.2deg,#d7e8f1 238.2deg 238.8deg,#fae9df 238.8deg 239.4deg,#e1edf3 239.4deg 240deg,#fae9df 240deg 240.6deg,#f8f0ec 240.6deg 241.2deg,#fbe3d5 241.2deg 241.8deg,#fdd9c4 241.8deg 242.4deg,#f4f6f7 242.4deg 243deg,#fbe2d4 243deg 243.6deg,#f8f4f1 243.6deg 244.2deg,#f9ede6 244.2deg 244.8deg,#fff 244.8deg 246deg,#d8e8f1 246deg 246.6deg,#aed3e6 246.6deg 247.2deg,#a0cce2 247.2deg 247.8deg,#e5eef4 247.8deg 248.4deg,#a8d0e4 248.4deg 249deg,#f1f4f6 249deg 249.6deg,#c9e1ee 249.6deg 250.2deg,#d3e6f0 250.2deg 250.8deg,#d7e8f1 250.8deg 251.4deg,#c0dceb 251.4deg 252deg,#dceaf2 252deg 252.6deg,#b2d5e7 252.6deg 253.2deg,#e5eef4 253.2deg 253.8deg,#e4eef4 253.8deg 254.4deg,#d6e7f1 254.4deg 255deg,#d0e4f0 255deg 255.6deg,#a0cce2 255.6deg 256.2deg,#92c5de 256.2deg 256.8deg,#4493c3 256.8deg 257.4deg,#4190c1 257.4deg 258deg,#a1cce2 258deg 258.6deg,#4795c4 258.6deg 259.2deg,#59a1ca 259.2deg 259.8deg,#7ab6d6 259.8deg 260.4deg,#d5e7f1 260.4deg 261deg,#e9f1f4 261deg 261.6deg,#bddbea 261.6deg 262.2deg,#a8d0e4 262.2deg 262.8deg,#d7e8f1 262.8deg 263.4deg,#e5eef4 263.4deg 264deg,#a4cee3 264deg 264.6deg,#bedceb 264.6deg 265.2deg,#afd4e6 265.2deg 265.8deg,#c9e1ee 265.8deg 266.4deg,#d4e7f1 266.4deg 267deg,#91c5de 267deg 267.6deg,#acd2e6 267.6deg 268.2deg,#add3e6 268.2deg 268.8deg,#9bcae1 268.8deg 269.4deg,#fff 269.4deg 270deg,#a4cee3 270deg 270.6deg,#e6eff4 270.6deg 271.2deg,#cae1ee 271.2deg 271.8deg,#b4d6e8 271.8deg 272.4deg,#6badd1 272.4deg 273deg,#549ec9 273deg 273.6deg,#88bfdb 273.6deg 274.2deg,#94c6de 274.2deg 274.8deg,#c9e1ee 274.8deg 275.4deg,#b6d7e8 275.4deg 276deg,#75b3d4 276deg 276.6deg,#8ac0db 276.6deg 277.2deg,#ebf1f5 277.2deg 277.8deg,#f3f5f6 277.8deg 278.4deg,#f8f3ef 278.4deg 279deg,#eaf1f5 279deg 279.6deg,#d8e8f1 279.6deg 280.2deg,#a0cce2 280.2deg 280.8deg,#d3e6f0 280.8deg 281.4deg,#ddeaf2 281.4deg 282deg,#d3e6f0 282deg 282.6deg,#bddbea 282.6deg 283.2deg,#e6eff4 283.2deg 283.8deg,#e3edf3 283.8deg 284.4deg,#e4eef4 284.4deg 285deg,#f7b597 285deg 285.6deg,#fff 285.6deg 286.2deg,#f7b89a 286.2deg 286.8deg,#fce0d0 286.8deg 287.4deg,#faeae1 287.4deg 288deg,#f7f5f4 288deg 288.6deg,#fae7dc 288.6deg 289.2deg,#fbe6d9 289.2deg 289.8deg,#fac7ae 289.8deg 290.4deg,#fbe5d8 290.4deg 291deg,#fcddcb 291deg 291.6deg,#deebf2 291.6deg 292.2deg,#bcdaea 292.2deg 292.8deg,#87beda 292.8deg 293.4deg,#d6e8f1 293.4deg 294deg,#c3deec 294deg 294.6deg,#bbdaea 294.6deg 295.2deg,#c2ddec 295.2deg 295.8deg,#e5eef4 295.8deg 296.4deg,#b8d9e9 296.4deg 297deg,#e0ecf3 297deg 297.6deg,#bddbea 297.6deg 298.2deg,#fce1d1 298.2deg 298.8deg,#f9eee8 298.8deg 299.4deg,#e2edf3 299.4deg 300deg,#fff 300deg 301.2deg,#f2f5f6 301.2deg 301.8deg,#f7f6f5 301.8deg 302.4deg,#fdddcb 302.4deg 303deg,#dceaf2 303deg 303.6deg,#f8f3f1 303.6deg 304.2deg,#fdddca 304.2deg 305.4deg,#f8f5f3 305.4deg 306deg,#e8f0f4 306deg 306.6deg,#fddac6 306.6deg 307.2deg,#e2edf3 307.2deg 307.8deg,#f8f2ef 307.8deg 308.4deg,#f7f6f5 308.4deg 309deg,#a3cde3 309deg 309.6deg,#b6d7e8 309.6deg 310.2deg,#c7e0ed 310.2deg 310.8deg,#c6dfed 310.8deg 311.4deg,#a4cee3 311.4deg 312deg,#f1f4f6 312deg 312.6deg,#d2e5f0 312.6deg 313.2deg,#fff 313.2deg 314.4deg,#a6cfe4 314.4deg 315deg,#78b4d5 315deg 315.6deg,#9bc9e0 315.6deg 316.2deg,#c2ddec 316.2deg 316.8deg,#8ec3dd 316.8deg 317.4deg,#74b2d4 317.4deg 318deg,#bfdceb 318deg 318.6deg,#f8f4f1 318.6deg 319.2deg,#e2edf3 319.2deg 319.8deg,#fcd2bc 319.8deg 320.4deg,#f4f6f7 320.4deg 321deg,#a9d1e5 321deg 321.6deg,#97c8e0 321.6deg 322.2deg,#d9e9f2 322.2deg 322.8deg,#bddbea 322.8deg 323.4deg,#e1edf3 323.4deg 324deg,#acd2e5 324deg 324.6deg,#f3f5f6 324.6deg 325.2deg,#e0ecf3 325.2deg 325.8deg,#c3deec 325.8deg 326.4deg,#d3e6f0 326.4deg 327deg,#fff 327deg 328.2deg,#8fc3dd 328.2deg 328.8deg,#83bcd9 328.8deg 329.4deg,#94c6df 329.4deg 330deg,#b6d7e8 330deg 330.6deg,#c5dfec 330.6deg 331.2deg,#add3e6 331.2deg 331.8deg,#f0f4f6 331.8deg 332.4deg,#e7eff4 332.4deg 333deg,#f8f1ed 333deg 333.6deg,#f8f1ec 333.6deg 334.2deg,#f7f6f5 334.2deg 334.8deg,#fbe5d9 334.8deg 335.4deg,#e6eff4 335.4deg 336deg,#f9efe9 336deg 336.6deg,#d2e6f0 336.6deg 337.2deg,#d8e8f1 337.2deg 337.8deg,#509bc7 337.8deg 338.4deg,#fff 338.4deg 339.6deg,#f8f1ec 339.6deg 340.2deg,#c8e0ed 340.2deg 340.8deg,#dfecf3 340.8deg 341.4deg,#e1edf3 341.4deg 342deg,#c1ddeb 342deg 342.6deg,#d2e6f0 342.6deg 343.2deg,#f5f6f7 343.2deg 343.8deg,#edf2f5 343.8deg 344.4deg,#fcd4be 344.4deg 345deg,#e9f0f4 345deg 345.6deg,#cfe4ef 345.6deg 346.2deg,#d2e6f0 346.2deg 346.8deg,#c6dfed 346.8deg 347.4deg,#d1e5f0 347.4deg 348deg,#a4cee3 348deg 348.6deg,#d8e8f1 348.6deg 349.2deg,#fff 349.2deg 350.4deg,#dae9f2 350.4deg 351deg,#bad9e9 351deg 351.6deg,#b8d8e9 351.6deg 352.2deg,#d2e5f0 352.2deg 352.8deg,#eaf1f5 352.8deg 353.4deg,#f9efe9 353.4deg 354deg,#6cadd1 354deg 354.6deg,#7bb7d6 354.6deg 355.2deg,#98c8e0 355.2deg 355.8deg,#a1cde2 355.8deg 356.4deg,#91c4de 356.4deg 357deg,#d5e7f1 357deg 357.6deg,#e2edf3 357.6deg 358.2deg,#f4f6f6 358.2deg 358.8deg,#fbe3d5 358.8deg 359.4deg,#f8f1ec 359.4deg 360deg)"></div>
<div class="r" style="left:90.4px;top:87.4px;width:305.2px;height:305.2px;background:#fff"></div>
<div class="r" style="left:91.4px;top:88.4px;width:303.2px;height:303.2px;background:conic-gradient(#fff 0deg 1.2deg,#ee9677 1.2deg 1.8deg,#f9c2a7 1.8deg 2.4deg,#f4a885 2.4deg 3deg,#f9c5ab 3deg 3.6deg,#fddcc9 3.6deg 4.2deg,#fddbc7 4.2deg 4.8deg,#fce1d2 4.8deg 5.4deg,#fdddca 5.4deg 6deg,#fce0d0 6deg 6.6deg,#fce0cf 6.6deg 7.2deg,#fcddcb 7.2deg 7.8deg,#fdd9c4 7.8deg 8.4deg,#f5ad8c 8.4deg 9deg,#fbe5d7 9deg 9.6deg,#facbb3 9.6deg 10.2deg,#fbe6da 10.2deg 10.8deg,#fddcc9 10.8deg 11.4deg,#f7f6f4 11.4deg 12deg,#fcd7c2 12deg 12.6deg,#fbcfb8 12.6deg 13.2deg,#f7b597 13.2deg 13.8deg,#fdd9c4 13.8deg 14.4deg,#f8c0a4 14.4deg 15deg,#f4a684 15deg 15.6deg,#fbccb4 15.6deg 16.2deg,#fcd3bd 16.2deg 16.8deg,#fce1d1 16.8deg 17.4deg,#f8bc9f 17.4deg 18deg,#f7b697 18deg 18.6deg,#fbe3d4 18.6deg 19.2deg,#f9efe9 19.2deg 19.8deg,#f8f5f3 19.8deg 20.4deg,#f9c0a5 20.4deg 21deg,#fcdfcd 21deg 22.2deg,#fbe4d6 22.2deg 23.4deg,#fcd5bf 23.4deg 24deg,#fcd7c2 24deg 24.6deg,#fbcdb5 24.6deg 25.2deg,#fcdfce 25.2deg 25.8deg,#f7b596 25.8deg 26.4deg,#fcdfcf 26.4deg 27deg,#fbe3d5 27deg 27.6deg,#fbd1ba 27.6deg 28.2deg,#f5ad8c 28.2deg 28.8deg,#f5a987 28.8deg 29.4deg,#f3a381 29.4deg 30deg,#fddbc7 30deg 30.6deg,#fcdecc 30.6deg 31.2deg,#fce0d0 31.2deg 31.8deg,#f8f2ef 31.8deg 32.4deg,#f6af8e 32.4deg 33deg,#f19d7c 33deg 33.6deg,#ee9777 33.6deg 34.2deg,#f8bda0 34.2deg 34.8deg,#f4a683 34.8deg 35.4deg,#f9c1a5 35.4deg 36deg,#f8bb9f 36deg 36.6deg,#f3a280 36.6deg 37.2deg,#fac9af 37.2deg 37.8deg,#fbcdb5 37.8deg 38.4deg,#fcd7c2 38.4deg 39deg,#fac8ae 39deg 39.6deg,#fff 39.6deg 40.2deg,#fbe3d4 40.2deg 40.8deg,#fae7dc 40.8deg 41.4deg,#fbe5d8 41.4deg 42deg,#f8ba9d 42deg 42.6deg,#fcdfcd 42.6deg 43.2deg,#f5ac8b 43.2deg 43.8deg,#fddac5 43.8deg 45deg,#facbb2 45deg 45.6deg,#fce2d2 45.6deg 46.2deg,#f5ad8c 46.2deg 46.8deg,#fddac6 46.8deg 47.4deg,#fcd3bd 47.4deg 48deg,#fcd7c2 48deg 48.6deg,#fae8dd 48.6deg 49.2deg,#fcd2bc 49.2deg 49.8deg,#f9efea 49.8deg 50.4deg,#fddbc7 50.4deg 51deg,#f8f2ee 51deg 51.6deg,#f8bb9e 51.6deg 52.2deg,#fbe5d8 52.2deg 52.8deg,#fae9df 52.8deg 53.4deg,#fae7dc 53.4deg 54deg,#f8bea2 54deg 54.6deg,#f6b192 54.6deg 55.2deg,#fce1d2 55.2deg 55.8deg,#fddcc8 55.8deg 57deg,#ef9a7a 57deg 57.6deg,#f6b090 57.6deg 58.2deg,#facbb3 58.2deg 58.8deg,#fce1d2 58.8deg 59.4deg,#f9ece4 59.4deg 60deg,#f9efe9 60deg 60.6deg,#f7f7f7 60.6deg 61.2deg,#f9ece5 61.2deg 61.8deg,#fcdecd 61.8deg 62.4deg,#f8f2ee 62.4deg 63deg,#f8f1ed 63deg 63.6deg,#fae9de 63.6deg 64.2deg,#fbe3d4 64.2deg 64.8deg,#fddbc7 64.8deg 65.4deg,#f9c3a8 65.4deg 66deg,#fac8af 66deg 66.6deg,#f6b393 66.6deg 67.2deg,#e98b6e 67.2deg 67.8deg,#f5a886 67.8deg 68.4deg,#fbceb6 68.4deg 69deg,#fbe6d9 69deg 69.6deg,#fbd0b9 69.6deg 70.2deg,#f9eee8 70.2deg 70.8deg,#fddac6 70.8deg 71.4deg,#f6b191 71.4deg 72deg,#fae7dc 72deg 72.6deg,#f7b596 72.6deg 73.2deg,#fbd0b9 73.2deg 73.8deg,#f9ede5 73.8deg 74.4deg,#fdddcb 74.4deg 75deg,#f7ba9d 75deg 75.6deg,#f9c4a9 75.6deg 76.2deg,#fce2d3 76.2deg 76.8deg,#fff 76.8deg 77.4deg,#fddac6 77.4deg 78deg,#fbd0b8 78deg 78.6deg,#fbe2d3 78.6deg 79.2deg,#f6ae8e 79.2deg 79.8deg,#f8bb9e 79.8deg 80.4deg,#fbe3d5 80.4deg 81deg,#f7b99c 81deg 82.2deg,#fac7ad 82.2deg 82.8deg,#f9ede6 82.8deg 83.4deg,#f9ece4 83.4deg 84deg,#f9ede7 84deg 84.6deg,#fcd6c0 84.6deg 85.2deg,#f6b495 85.2deg 85.8deg,#fcdecc 85.8deg 86.4deg,#f6b292 86.4deg 87deg,#f5ac8b 87deg 87.6deg,#fbceb7 87.6deg 88.2deg,#fbd2bb 88.2deg 88.8deg,#f6b293 88.8deg 89.4deg,#f9c4aa 89.4deg 90deg,#fac7ae 90deg 90.6deg,#fac7ad 90.6deg 91.2deg,#fddbc8 91.2deg 91.8deg,#f7f6f5 91.8deg 92.4deg,#f8bda0 92.4deg 93deg,#fddbc7 93deg 93.6deg,#faeae1 93.6deg 94.2deg,#fcdecd 94.2deg 94.8deg,#fac7ad 94.8deg 95.4deg,#fac7ae 95.4deg 96deg,#fcdecc 96deg 96.6deg,#f8f3f0 96.6deg 97.2deg,#fae9df 97.2deg 97.8deg,#f6af8e 97.8deg 98.4deg,#f8bda0 98.4deg 99deg,#f6b293 99deg 99.6deg,#fac9af 99.6deg 100.2deg,#f8bfa4 100.2deg 100.8deg,#fac9b0 100.8deg 101.4deg,#f9c4aa 101.4deg 102deg,#fdddca 102deg 102.6deg,#fbceb7 102.6deg 103.2deg,#facbb3 103.2deg 103.8deg,#f9c5aa 103.8deg 104.4deg,#f7b89a 104.4deg 105deg,#fae8de 105deg 105.6deg,#f9c2a7 105.6deg 106.2deg,#fae9df 106.2deg 106.8deg,#fbe6da 106.8deg 107.4deg,#fce1d2 107.4deg 108deg,#f9ede6 108deg 108.6deg,#fbceb6 108.6deg 109.2deg,#fbe4d6 109.2deg 109.8deg,#fce0cf 109.8deg 110.4deg,#f8bca0 110.4deg 111deg,#f6af8f 111deg 111.6deg,#fcd4be 111.6deg 112.2deg,#fbe4d6 112.2deg 112.8deg,#fae8de 112.8deg 113.4deg,#fff 113.4deg 114deg,#f9c0a5 114deg 114.6deg,#fddcc8 114.6deg 115.2deg,#fcdecc 115.2deg 115.8deg,#fcd6c1 115.8deg 116.4deg,#fcddcb 116.4deg 117deg,#f8bc9f 117deg 117.6deg,#fddcc8 117.6deg 118.2deg,#fcd2bc 118.2deg 118.8deg,#fdddca 118.8deg 119.4deg,#f5ae8d 119.4deg 120deg,#fae7dc 120deg 120.6deg,#fac7ad 120.6deg 121.2deg,#fcd7c2 121.2deg 121.8deg,#fae8de 121.8deg 122.4deg,#fbe2d4 122.4deg 123deg,#fbcfb8 123deg 123.6deg,#fce0d0 123.6deg 124.2deg,#f8f2ee 124.2deg 124.8deg,#fae9df 124.8deg 125.4deg,#fcdfce 125.4deg 126deg,#f8f1ec 126deg 126.6deg,#f4f6f6 126.6deg 127.2deg,#fbe3d4 127.2deg 127.8deg,#fae8de 127.8deg 128.4deg,#fac9b0 128.4deg 129deg,#fddbc7 129deg 129.6deg,#fdd9c4 129.6deg 130.2deg,#facbb2 130.2deg 130.8deg,#fbe5d9 130.8deg 131.4deg,#f3a27f 131.4deg 132deg,#fce0cf 132deg 132.6deg,#fdd9c4 132.6deg 133.2deg,#fbe6da 133.2deg 133.8deg,#f9eee8 133.8deg 134.4deg,#fbe2d3 134.4deg 135deg,#fcd3bc 135deg 135.6deg,#f9ece5 135.6deg 136.2deg,#f8bda0 136.2deg 136.8deg,#fce0d0 136.8deg 137.4deg,#f5ad8d 137.4deg 138deg,#fdd9c4 138deg 138.6deg,#fae7dc 138.6deg 139.2deg,#fcd3bd 139.2deg 139.8deg,#fae9de 139.8deg 140.4deg,#fdddcb 140.4deg 141deg,#fbceb6 141deg 141.6deg,#f8bc9f 141.6deg 142.2deg,#fbe5d9 142.2deg 142.8deg,#faebe3 142.8deg 143.4deg,#f5ae8d 143.4deg 144deg,#fce1d1 144deg 144.6deg,#facab1 144.6deg 145.2deg,#fbd2bb 145.2deg 145.8deg,#fce0d0 145.8deg 146.4deg,#fbe5d8 146.4deg 147deg,#fff 147deg 148.2deg,#fcdecc 148.2deg 148.8deg,#fcd5c0 148.8deg 149.4deg,#f9c1a6 149.4deg 150deg,#fbd2bb 150deg 150.6deg,#f9ece5 150.6deg 151.2deg,#fcd4bd 151.2deg 151.8deg,#fce1d1 151.8deg 152.4deg,#f8f3f1 152.4deg 153deg,#fcd6c1 153deg 153.6deg,#fbe6db 153.6deg 154.2deg,#fae9df 154.2deg 154.8deg,#fce2d2 154.8deg 155.4deg,#f9ebe3 155.4deg 156deg,#fdd8c4 156deg 156.6deg,#fce2d2 156.6deg 157.2deg,#fbe6db 157.2deg 157.8deg,#faebe2 157.8deg 158.4deg,#f8bb9e 158.4deg 159deg,#faeae0 159deg 159.6deg,#faebe2 159.6deg 160.2deg,#fcd3bd 160.2deg 160.8deg,#fbe5d8 160.8deg 161.4deg,#faeae1 161.4deg 162deg,#fbcdb5 162deg 162.6deg,#f8bfa3 162.6deg 163.2deg,#f19f7d 163.2deg 163.8deg,#f6b090 163.8deg 164.4deg,#fcd7c2 164.4deg 165deg,#fcd6c1 165deg 165.6deg,#f8bc9f 165.6deg 166.2deg,#f8ba9d 166.2deg 166.8deg,#ee9777 166.8deg 167.4deg,#f9c4a9 167.4deg 168deg,#fbe6da 168deg 168.6deg,#fae9df 168.6deg 169.2deg,#fdd9c5 169.2deg 169.8deg,#f8f4f1 169.8deg 170.4deg,#fcdecd 170.4deg 171deg,#fbcdb6 171deg 171.6deg,#facbb3 171.6deg 172.2deg,#fce1d1 172.2deg 172.8deg,#f4a785 172.8deg 173.4deg,#fff 173.4deg 174.6deg,#fce1d1 174.6deg 175.2deg,#f9c6ac 175.2deg 175.8deg,#fce2d3 175.8deg 176.4deg,#fbe5d7 176.4deg 177deg,#fcd7c2 177deg 177.6deg,#fbe2d3 177.6deg 178.2deg,#f7f5f4 178.2deg 178.8deg,#fdddca 178.8deg 179.4deg,#facab1 179.4deg 180deg,#f4a684 180deg 180.6deg,#f9c2a7 180.6deg 181.2deg,#fcdecd 181.2deg 181.8deg,#fbd1ba 181.8deg 183deg,#fce1d1 183deg 183.6deg,#facab2 183.6deg 184.2deg,#f9efe9 184.2deg 184.8deg,#fbd1bb 184.8deg 185.4deg,#faeae0 185.4deg 186deg,#f9ede6 186deg 186.6deg,#f8f1ec 186.6deg 187.2deg,#f7f6f5 187.2deg 187.8deg,#faccb4 187.8deg 188.4deg,#fcdecc 188.4deg 189deg,#f9c2a7 189deg 189.6deg,#f09d7c 189.6deg 190.2deg,#fac8af 190.2deg 190.8deg,#f8bfa3 190.8deg 191.4deg,#ef9a7a 191.4deg 192deg,#faccb4 192deg 192.6deg,#f6af8e 192.6deg 193.2deg,#fbcdb6 193.2deg 193.8deg,#fbe4d7 193.8deg 194.4deg,#f9ece4 194.4deg 195deg,#fcd2bc 195deg 195.6deg,#fcdfcd 195.6deg 196.2deg,#fcd7c2 196.2deg 196.8deg,#fff 196.8deg 198deg,#fbceb6 198deg 198.6deg,#fcdfcf 198.6deg 199.2deg,#f9c2a7 199.2deg 199.8deg,#f19f7d 199.8deg 200.4deg,#f4a885 200.4deg 201deg,#facbb2 201deg 201.6deg,#f8bb9e 201.6deg 202.2deg,#f7b698 202.2deg 202.8deg,#f8c0a4 202.8deg 203.4deg,#fcd4be 203.4deg 204deg,#f9ede5 204deg 204.6deg,#fbe4d6 204.6deg 205.2deg,#faeae1 205.2deg 205.8deg,#fbe6da 205.8deg 207deg,#f9c6ac 207deg 207.6deg,#fac9b0 207.6deg 208.2deg,#fddcc8 208.2deg 208.8deg,#f5ad8c 208.8deg 209.4deg,#fac7ae 209.4deg 210deg,#f5ac8a 210deg 210.6deg,#fdddca 210.6deg 211.2deg,#f4a885 211.2deg 211.8deg,#fac7ae 211.8deg 212.4deg,#f8bca0 212.4deg 213deg,#f5a987 213deg 213.6deg,#f9c1a6 213.6deg 214.2deg,#fbccb4 214.2deg 214.8deg,#f8bea2 214.8deg 215.4deg,#f7b698 215.4deg 216deg,#fbcfb7 216deg 216.6deg,#facab1 216.6deg 217.2deg,#fbcfb7 217.2deg 217.8deg,#fcd6c0 217.8deg 218.4deg,#f6af8f 218.4deg 219deg,#f9c5ab 219deg 219.6deg,#fddbc8 219.6deg 220.2deg,#fbd1ba 220.2deg 220.8deg,#fff 220.8deg 222deg,#ed9676 222deg 222.6deg,#f8bc9f 222.6deg 223.2deg,#fbe3d5 223.2deg 223.8deg,#fbccb4 223.8deg 224.4deg,#fac9af 224.4deg 225deg,#fbd0b9 225deg 225.6deg,#f5ad8c 225.6deg 226.2deg,#fac8af 226.2deg 226.8deg,#f7b596 226.8deg 227.4deg,#f9c5ab 227.4deg 228deg,#fae9df 228deg 228.6deg,#fbd0b9 228.6deg 229.2deg,#fac8ae 229.2deg 229.8deg,#f6b191 229.8deg 230.4deg,#fddcc9 230.4deg 231deg,#ef9979 231deg 231.6deg,#fcd5bf 231.6deg 232.2deg,#facab1 232.2deg 232.8deg,#f29f7e 232.8deg 233.4deg,#f6af8f 233.4deg 234deg,#f9eee8 234deg 234.6deg,#fdd8c3 234.6deg 235.2deg,#f8f2ee 235.2deg 235.8deg,#fbceb6 235.8deg 236.4deg,#fddcc9 236.4deg 237deg,#f6b292 237deg 237.6deg,#f7ba9c 237.6deg 238.2deg,#fce0d0 238.2deg 238.8deg,#facab1 238.8deg 239.4deg,#fcd8c3 239.4deg 240deg,#fcd7c2 240deg 240.6deg,#faeae1 240.6deg 241.2deg,#fddac5 241.2deg 241.8deg,#fce2d3 241.8deg 242.4deg,#f9ece4 242.4deg 243deg,#fdddca 243deg 243.6deg,#fbe4d7 243.6deg 244.2deg,#fbd0b9 244.2deg 244.8deg,#fff 244.8deg 246deg,#b8d8e9 246deg 246.6deg,#d6e7f1 246.6deg 247.2deg,#9dcae1 247.2deg 247.8deg,#b6d7e8 247.8deg 248.4deg,#c0dceb 248.4deg 249deg,#f2f5f6 249deg 249.6deg,#e0ecf3 249.6deg 250.2deg,#dbeaf2 250.2deg 250.8deg,#a5cfe3 250.8deg 251.4deg,#c4deec 251.4deg 252deg,#a6cfe4 252deg 252.6deg,#86beda 252.6deg 253.2deg,#dae9f2 253.2deg 253.8deg,#ecf2f5 253.8deg 254.4deg,#f9ece4 254.4deg 255deg,#edf2f5 255deg 255.6deg,#ddebf2 255.6deg 256.2deg,#e6eff4 256.2deg 256.8deg,#ecf2f5 256.8deg 257.4deg,#cee4ef 257.4deg 258deg,#8ec2dd 258deg 258.6deg,#cde3ef 258.6deg 259.2deg,#65a8ce 259.2deg 259.8deg,#cae2ee 259.8deg 260.4deg,#a5cfe3 260.4deg 261deg,#d8e8f1 261deg 261.6deg,#91c5de 261.6deg 262.2deg,#c0ddeb 262.2deg 262.8deg,#deebf2 262.8deg 263.4deg,#ebf1f5 263.4deg 264deg,#f8f4f2 264deg 264.6deg,#f2f5f6 264.6deg 265.2deg,#b8d8e9 265.2deg 265.8deg,#f4f6f6 265.8deg 266.4deg,#b0d4e6 266.4deg 267deg,#79b5d5 267deg 267.6deg,#97c7df 267.6deg 268.2deg,#9ccae1 268.2deg 268.8deg,#87beda 268.8deg 269.4deg,#fff 269.4deg 270deg,#d1e5f0 270deg 270.6deg,#8cc1dc 270.6deg 271.2deg,#509bc7 271.2deg 271.8deg,#347fb9 271.8deg 272.4deg,#6aacd0 272.4deg 273deg,#9bcae1 273deg 273.6deg,#99c9e0 273.6deg 274.2deg,#5fa5cd 274.2deg 274.8deg,#bbdaea 274.8deg 275.4deg,#99c9e0 275.4deg 276deg,#93c5de 276deg 276.6deg,#85bdda 276.6deg 277.2deg,#98c8e0 277.2deg 277.8deg,#e4eef3 277.8deg 278.4deg,#b7d8e8 278.4deg 279deg,#b5d7e8 279deg 279.6deg,#acd2e6 279.6deg 280.2deg,#cee3ef 280.2deg 280.8deg,#dae9f2 280.8deg 281.4deg,#deebf2 281.4deg 282deg,#9fcce2 282deg 282.6deg,#e7f0f4 282.6deg 283.2deg,#dae9f2 283.2deg 283.8deg,#c4dfec 283.8deg 284.4deg,#c9e1ee 284.4deg 285deg,#ddebf2 285deg 285.6deg,#fff 285.6deg 286.2deg,#f8f4f2 286.2deg 286.8deg,#eaf1f5 286.8deg 287.4deg,#fcdecd 287.4deg 288deg,#f8f1ed 288deg 288.6deg,#f7f5f3 288.6deg 289.2deg,#f4f6f6 289.2deg 289.8deg,#fbd2bb 289.8deg 290.4deg,#f8bc9f 290.4deg 291deg,#f8f3f0 291deg 291.6deg,#f9eee8 291.6deg 292.2deg,#d1e5f0 292.2deg 292.8deg,#d7e8f1 292.8deg 293.4deg,#afd4e6 293.4deg 294deg,#e4eef4 294deg 294.6deg,#f1f4f6 294.6deg 295.2deg,#85bdda 295.2deg 295.8deg,#abd2e5 295.8deg 296.4deg,#a0cce2 296.4deg 297deg,#8ac0db 297deg 297.6deg,#e6eff4 297.6deg 298.2deg,#f7f6f6 298.2deg 298.8deg,#eef3f5 298.8deg 299.4deg,#f8f1ed 299.4deg 300deg,#fff 300deg 301.2deg,#fcdecc 301.2deg 301.8deg,#d4e7f1 301.8deg 302.4deg,#ddeaf2 302.4deg 303deg,#c6dfed 303deg 303.6deg,#e5eff4 303.6deg 304.2deg,#e7eff4 304.2deg 304.8deg,#f6f6f7 304.8deg 305.4deg,#f0f4f6 305.4deg 306deg,#ddeaf2 306deg 306.6deg,#fbe4d7 306.6deg 307.2deg,#f9efea 307.2deg 307.8deg,#faeae1 307.8deg 308.4deg,#d5e7f1 308.4deg 309deg,#eff3f6 309deg 309.6deg,#ebf1f5 309.6deg 310.2deg,#71b0d3 310.2deg 310.8deg,#dbeaf2 310.8deg 311.4deg,#d4e6f1 311.4deg 312deg,#f0f4f6 312deg 312.6deg,#cbe2ee 312.6deg 313.2deg,#fff 313.2deg 314.4deg,#77b4d5 314.4deg 315deg,#9ecbe2 315deg 315.6deg,#a9d1e5 315.6deg 316.2deg,#86bdda 316.2deg 316.8deg,#a4cee3 316.8deg 317.4deg,#98c8e0 317.4deg 318deg,#edf2f5 318deg 318.6deg,#d0e5f0 318.6deg 319.2deg,#e3eef3 319.2deg 319.8deg,#f7f5f4 319.8deg 320.4deg,#f1f4f6 320.4deg 321deg,#c0dceb 321deg 321.6deg,#78b5d5 321.6deg 322.2deg,#d3e6f0 322.2deg 322.8deg,#d9e9f1 322.8deg 323.4deg,#bfdceb 323.4deg 324deg,#faebe3 324deg 324.6deg,#f9efe9 324.6deg 325.2deg,#e8f0f4 325.2deg 325.8deg,#d4e6f1 325.8deg 326.4deg,#c6e0ed 326.4deg 327deg,#fff 327deg 328.2deg,#509bc8 328.2deg 328.8deg,#529dc8 328.8deg 329.4deg,#6eaed2 329.4deg 330deg,#3e8cc0 330deg 330.6deg,#3f8ec1 330.6deg 331.2deg,#6daed1 331.2deg 331.8deg,#f7f6f6 331.8deg 333deg,#dfecf3 333deg 333.6deg,#e5eef4 333.6deg 334.2deg,#f0f4f6 334.2deg 334.8deg,#f7f5f3 334.8deg 335.4deg,#f9efe9 335.4deg 336deg,#add3e6 336deg 336.6deg,#dceaf2 336.6deg 337.2deg,#c1ddeb 337.2deg 337.8deg,#8ec2dd 337.8deg 338.4deg,#fff 338.4deg 339.6deg,#fbe2d4 339.6deg 340.2deg,#f3f5f6 340.2deg 340.8deg,#b3d6e7 340.8deg 341.4deg,#c2deec 341.4deg 342deg,#97c8e0 342deg 342.6deg,#a1cde2 342.6deg 343.2deg,#e5eff4 343.2deg 343.8deg,#f9c5ab 343.8deg 344.4deg,#f7f5f4 344.4deg 345deg,#f9f0eb 345deg 345.6deg,#b3d6e7 345.6deg 346.2deg,#deebf2 346.2deg 346.8deg,#98c8e0 346.8deg 347.4deg,#6cadd1 347.4deg 348deg,#81bad8 348deg 348.6deg,#4b98c6 348.6deg 349.2deg,#fff 349.2deg 350.4deg,#a5cfe3 350.4deg 351deg,#a1cde2 351deg 351.6deg,#d5e7f1 351.6deg 352.2deg,#f3f5f6 352.2deg 352.8deg,#f8f3f0 352.8deg 353.4deg,#f8f5f3 353.4deg 354deg,#e0ecf3 354deg 354.6deg,#4c99c6 354.6deg 355.2deg,#a9d0e4 355.2deg 355.8deg,#4e9ac7 355.8deg 356.4deg,#e1edf3 356.4deg 357deg,#f8f3f0 357deg 357.6deg,#fbe7db 357.6deg 358.2deg,#fae9df 358.2deg 358.8deg,#edf2f5 358.8deg 359.4deg,#d3e6f0 359.4deg 360deg)"></div>
<div class="r" style="left:101.9px;top:98.9px;width:282.2px;height:282.2px;background:#fff"></div>
<div class="r" style="left:103px;top:100px;width:280px;height:280px;background:conic-gradient(#fff 0deg 1.2deg,#b4d6e8 1.2deg 1.8deg,#99c8e0 1.8deg 2.4deg,#68abd0 2.4deg 3deg,#89bfdb 3deg 3.6deg,#90c3dd 3.6deg 4.2deg,#85bdda 4.2deg 4.8deg,#a2cde3 4.8deg 5.4deg,#cde3ef 5.4deg 6.6deg,#a0cce2 6.6deg 7.2deg,#b9d9e9 7.2deg 7.8deg,#abd1e5 7.8deg 8.4deg,#5ba2cb 8.4deg 9deg,#acd2e5 9deg 9.6deg,#a6cfe4 9.6deg 10.2deg,#7cb7d7 10.2deg 10.8deg,#99c8e0 10.8deg 11.4deg,#90c3dd 11.4deg 12deg,#ddebf2 12deg 12.6deg,#a7d0e4 12.6deg 13.2deg,#8bc1dc 13.2deg 13.8deg,#61a6cd 13.8deg 14.4deg,#7cb7d7 14.4deg 15deg,#65a8cf 15deg 15.6deg,#80bad8 15.6deg 16.2deg,#62a6cd 16.2deg 16.8deg,#67aacf 16.8deg 17.4deg,#84bcd9 17.4deg 18deg,#4a97c5 18deg 18.6deg,#569fca 18.6deg 19.2deg,#a4cee3 19.2deg 19.8deg,#c8e1ee 19.8deg 20.4deg,#9dcbe1 20.4deg 21deg,#d9e9f2 21deg 21.6deg,#cae2ee 21.6deg 22.2deg,#c9e1ee 22.2deg 22.8deg,#c6e0ed 22.8deg 23.4deg,#dceaf2 23.4deg 24deg,#f8f2ee 24deg 24.6deg,#deebf2 24.6deg 25.2deg,#f5f6f7 25.2deg 25.8deg,#e3edf3 25.8deg 26.4deg,#d7e8f1 26.4deg 27deg,#d3e6f0 27deg 27.6deg,#cae1ee 27.6deg 28.2deg,#d8e8f1 28.2deg 28.8deg,#b9d9e9 28.8deg 29.4deg,#b1d5e7 29.4deg 30deg,#ebf2f5 30deg 30.6deg,#dfecf3 30.6deg 31.2deg,#e2edf3 31.2deg 31.8deg,#f1f4f6 31.8deg 32.4deg,#f2f4f6 32.4deg 33deg,#f7f5f3 33deg 33.6deg,#d4e6f1 33.6deg 34.2deg,#d7e8f1 34.2deg 34.8deg,#cce2ee 34.8deg 35.4deg,#f9ede7 35.4deg 36deg,#eef3f5 36deg 36.6deg,#e4eef3 36.6deg 37.2deg,#c6dfed 37.2deg 37.8deg,#b9d9e9 37.8deg 38.4deg,#d8e8f1 38.4deg 39deg,#c2ddec 39deg 39.6deg,#fff 39.6deg 40.2deg,#b6d7e8 40.2deg 40.8deg,#cae1ee 40.8deg 41.4deg,#b2d5e7 41.4deg 42deg,#deebf2 42deg 42.6deg,#c8e1ee 42.6deg 43.2deg,#b5d7e8 43.2deg 43.8deg,#d3e6f0 43.8deg 44.4deg,#d7e8f1 44.4deg 45deg,#f8f1ec 45deg 45.6deg,#f9efe9 45.6deg 46.2deg,#deebf2 46.2deg 46.8deg,#f6f6f7 46.8deg 47.4deg,#d5e7f1 47.4deg 48deg,#eef3f5 48deg 48.6deg,#e0ecf3 48.6deg 49.2deg,#d0e5f0 49.2deg 49.8deg,#f7f7f7 49.8deg 50.4deg,#e3eef3 50.4deg 51deg,#e9f0f4 51deg 51.6deg,#ebf1f5 51.6deg 52.2deg,#d1e5f0 52.2deg 52.8deg,#d6e8f1 52.8deg 53.4deg,#93c5de 53.4deg 54deg,#dbeaf2 54deg 54.6deg,#b8d8e9 54.6deg 55.2deg,#e0ecf3 55.2deg 55.8deg,#b5d7e8 55.8deg 56.4deg,#bedbea 56.4deg 57deg,#e8f0f4 57deg 57.6deg,#f7f6f4 57.6deg 58.2deg,#d1e5f0 58.2deg 58.8deg,#dae9f2 58.8deg 59.4deg,#9dcbe1 59.4deg 60deg,#d6e7f1 60deg 60.6deg,#a2cde3 60.6deg 61.2deg,#c0dceb 61.2deg 61.8deg,#d5e7f1 61.8deg 62.4deg,#aed3e6 62.4deg 63deg,#cce2ee 63deg 63.6deg,#d7e8f1 63.6deg 64.2deg,#d9e9f2 64.2deg 64.8deg,#fbe4d6 64.8deg 65.4deg,#ddebf2 65.4deg 66deg,#ecf2f5 66deg 66.6deg,#dae9f2 66.6deg 67.2deg,#d7e8f1 67.2deg 67.8deg,#d5e7f1 67.8deg 68.4deg,#e7f0f4 68.4deg 69deg,#dfecf3 69deg 69.6deg,#94c6df 69.6deg 70.2deg,#c7e0ed 70.2deg 70.8deg,#add3e6 70.8deg 71.4deg,#b4d6e8 71.4deg 72deg,#dae9f2 72deg 72.6deg,#d1e5f0 72.6deg 73.2deg,#cae2ee 73.2deg 73.8deg,#dceaf2 73.8deg 74.4deg,#f6f6f7 74.4deg 75deg,#edf2f5 75deg 75.6deg,#f9eee7 75.6deg 76.2deg,#f7f5f4 76.2deg 76.8deg,#fff 76.8deg 77.4deg,#dbeaf2 77.4deg 78deg,#edf2f5 78deg 78.6deg,#d0e4f0 78.6deg 79.2deg,#dceaf2 79.2deg 79.8deg,#edf2f5 79.8deg 80.4deg,#ddebf2 80.4deg 81deg,#d6e8f1 81deg 81.6deg,#bbdaea 81.6deg 82.2deg,#bfdceb 82.2deg 82.8deg,#c8e1ee 82.8deg 83.4deg,#c2deec 83.4deg 84deg,#dfecf3 84deg 84.6deg,#deebf2 84.6deg 85.2deg,#c5dfec 85.2deg 85.8deg,#f5f6f7 85.8deg 86.4deg,#fae7dc 86.4deg 87deg,#f8f5f3 87deg 87.6deg,#ebf2f5 87.6deg 88.2deg,#eff3f6 88.2deg 88.8deg,#f1f4f6 88.8deg 89.4deg,#e1edf3 89.4deg 90deg,#f0f4f6 90deg 90.6deg,#f7f6f5 90.6deg 91.2deg,#cce3ef 91.2deg 91.8deg,#f8f1ed 91.8deg 92.4deg,#f6f6f7 92.4deg 93deg,#edf2f5 93deg 93.6deg,#c0dceb 93.6deg 94.2deg,#e0ecf3 94.2deg 94.8deg,#c0dceb 94.8deg 95.4deg,#acd2e6 95.4deg 96deg,#e4eef3 96deg 96.6deg,#cde3ef 96.6deg 97.2deg,#eff3f5 97.2deg 97.8deg,#f8f4f1 97.8deg 98.4deg,#f7f7f7 98.4deg 99deg,#f7f6f6 99deg 99.6deg,#f8f1ec 99.6deg 100.2deg,#cde3ef 100.2deg 100.8deg,#dceaf2 100.8deg 101.4deg,#e5eef4 101.4deg 102deg,#f8f3f1 102deg 102.6deg,#e3eef3 102.6deg 103.2deg,#f7f5f4 103.2deg 103.8deg,#f2f5f6 103.8deg 104.4deg,#e0ecf3 104.4deg 105deg,#f9ede6 105deg 105.6deg,#faebe2 105.6deg 106.2deg,#f2f5f6 106.2deg 106.8deg,#e7eff4 106.8deg 107.4deg,#e8f0f4 107.4deg 108deg,#edf2f5 108deg 108.6deg,#f6f7f7 108.6deg 109.2deg,#f6f6f7 109.2deg 109.8deg,#c4deec 109.8deg 110.4deg,#f7f6f6 110.4deg 111deg,#f2f5f6 111deg 111.6deg,#f4f6f6 111.6deg 112.2deg,#f8f2ef 112.2deg 112.8deg,#e7f0f4 112.8deg 113.4deg,#fff 113.4deg 114deg,#dceaf2 114deg 115.2deg,#f6f6f7 115.2deg 115.8deg,#f7f5f4 115.8deg 116.4deg,#cae1ee 116.4deg 117deg,#f3f5f6 117deg 117.6deg,#dae9f2 117.6deg 118.2deg,#f4f6f6 118.2deg 118.8deg,#cfe4ef 118.8deg 119.4deg,#bddbea 119.4deg 120deg,#c3deec 120deg 120.6deg,#bcdaea 120.6deg 121.2deg,#dbeaf2 121.2deg 121.8deg,#d2e5f0 121.8deg 122.4deg,#d3e6f0 122.4deg 123deg,#eaf1f5 123deg 123.6deg,#f0f4f6 123.6deg 124.2deg,#f1f4f6 124.2deg 124.8deg,#faebe2 124.8deg 125.4deg,#f7f7f7 125.4deg 126deg,#f0f4f6 126deg 126.6deg,#e8f0f4 126.6deg 127.2deg,#e3edf3 127.2deg 127.8deg,#a9d1e5 127.8deg 128.4deg,#b4d6e8 128.4deg 129deg,#add3e6 129deg 129.6deg,#95c7df 129.6deg 130.2deg,#d8e8f1 130.2deg 130.8deg,#bad9ea 130.8deg 131.4deg,#a3cde3 131.4deg 132deg,#e4eef4 132deg 132.6deg,#c1ddeb 132.6deg 133.2deg,#e8f0f4 133.2deg 133.8deg,#f1f4f6 133.8deg 134.4deg,#cde3ef 134.4deg 135deg,#b5d7e8 135deg 135.6deg,#c4dfec 135.6deg 136.2deg,#b6d8e8 136.2deg 136.8deg,#abd2e5 136.8deg 137.4deg,#d1e5f0 137.4deg 138deg,#d2e6f0 138deg 138.6deg,#bfdceb 138.6deg 139.2deg,#bddbea 139.2deg 139.8deg,#dceaf2 139.8deg 140.4deg,#c3deec 140.4deg 141deg,#cee4ef 141deg 141.6deg,#f8f1ed 141.6deg 142.2deg,#f0f4f6 142.2deg 142.8deg,#d0e4f0 142.8deg 143.4deg,#e0ecf3 143.4deg 144deg,#d3e6f0 144deg 144.6deg,#e8f0f4 144.6deg 145.2deg,#d4e7f1 145.2deg 145.8deg,#ebf1f5 145.8deg 146.4deg,#e3eef3 146.4deg 147deg,#fff 147deg 148.2deg,#fbe6da 148.2deg 148.8deg,#eff3f5 148.8deg 149.4deg,#f4f5f6 149.4deg 150deg,#d9e9f1 150deg 150.6deg,#e9f0f4 150.6deg 151.2deg,#f8f4f1 151.2deg 151.8deg,#d0e4f0 151.8deg 152.4deg,#cce2ee 152.4deg 153deg,#e5eff4 153deg 153.6deg,#bbdaea 153.6deg 154.2deg,#dbeaf2 154.2deg 154.8deg,#e0ecf3 154.8deg 155.4deg,#cae2ee 155.4deg 156deg,#c7e0ed 156deg 156.6deg,#d4e6f1 156.6deg 157.2deg,#f1f4f6 157.2deg 157.8deg,#f5f6f7 157.8deg 158.4deg,#eaf1f5 158.4deg 159deg,#e7f0f4 159deg 159.6deg,#e3eef3 159.6deg 160.2deg,#f2f5f6 160.2deg 160.8deg,#f9efe9 160.8deg 161.4deg,#dae9f2 161.4deg 162deg,#deebf2 162deg 162.6deg,#a3cee3 162.6deg 163.2deg,#afd4e6 163.2deg 163.8deg,#d3e6f0 163.8deg 164.4deg,#bedbeb 164.4deg 165deg,#d4e6f1 165deg 165.6deg,#fbe4d7 165.6deg 166.2deg,#e2edf3 166.2deg 166.8deg,#f7f6f6 166.8deg 167.4deg,#a4cee3 167.4deg 168deg,#9bc9e0 168deg 168.6deg,#bedbea 168.6deg 169.2deg,#f4f6f6 169.2deg 169.8deg,#e1edf3 169.8deg 170.4deg,#f8f1ed 170.4deg 171deg,#dae9f2 171deg 171.6deg,#bedbeb 171.6deg 172.2deg,#e0ecf3 172.2deg 172.8deg,#c1ddec 172.8deg 173.4deg,#fff 173.4deg 174.6deg,#f8f5f3 174.6deg 175.2deg,#ecf2f5 175.2deg 175.8deg,#c5dfed 175.8deg 176.4deg,#d4e7f1 176.4deg 177deg,#d7e8f1 177deg 177.6deg,#acd2e5 177.6deg 178.2deg,#dceaf2 178.2deg 178.8deg,#d1e5f0 178.8deg 179.4deg,#c2ddec 179.4deg 180deg,#e8f0f4 180deg 180.6deg,#d3e6f0 180.6deg 181.2deg,#f1f4f6 181.2deg 181.8deg,#d1e5f0 181.8deg 182.4deg,#e0ecf3 182.4deg 183deg,#edf2f5 183deg 183.6deg,#c2ddec 183.6deg 184.2deg,#e2edf3 184.2deg 184.8deg,#d4e6f1 184.8deg 185.4deg,#c7e0ed 185.4deg 186deg,#f3f5f6 186deg 186.6deg,#eef3f5 186.6deg 187.2deg,#eaf1f5 187.2deg 187.8deg,#cee3ef 187.8deg 188.4deg,#d2e5f0 188.4deg 189deg,#e9f0f4 189deg 189.6deg,#f8f5f3 189.6deg 190.2deg,#eef3f5 190.2deg 190.8deg,#dbeaf2 190.8deg 191.4deg,#dfecf3 191.4deg 192deg,#cde3ef 192deg 192.6deg,#b1d5e7 192.6deg 193.2deg,#c4deec 193.2deg 193.8deg,#ddebf2 193.8deg 194.4deg,#9bcae1 194.4deg 195deg,#ddebf2 195deg 195.6deg,#e1ecf3 195.6deg 196.2deg,#c5dfed 196.2deg 196.8deg,#fff 196.8deg 198deg,#e4eef4 198deg 198.6deg,#d4e7f1 198.6deg 199.2deg,#c7e0ed 199.2deg 199.8deg,#e4eef4 199.8deg 200.4deg,#dbeaf2 200.4deg 201deg,#dae9f2 201deg 201.6deg,#f8f0eb 201.6deg 202.2deg,#dceaf2 202.2deg 202.8deg,#cae1ee 202.8deg 203.4deg,#ecf2f5 203.4deg 204deg,#dae9f2 204deg 204.6deg,#ddebf2 204.6deg 205.2deg,#f8f3f0 205.2deg 205.8deg,#fae7dc 205.8deg 206.4deg,#f2f5f6 206.4deg 207deg,#f8f1ed 207deg 207.6deg,#ddebf2 207.6deg 208.2deg,#e2edf3 208.2deg 208.8deg,#eaf1f5 208.8deg 209.4deg,#d1e5f0 209.4deg 210deg,#d4e6f0 210deg 210.6deg,#edf2f5 210.6deg 211.2deg,#ecf2f5 211.2deg 211.8deg,#f7f7f7 211.8deg 212.4deg,#b2d5e7 212.4deg 213deg,#b8d8e9 213deg 213.6deg,#ddebf2 213.6deg 214.2deg,#a7d0e4 214.2deg 214.8deg,#9dcbe1 214.8deg 215.4deg,#cae1ee 215.4deg 216deg,#e3edf3 216deg 216.6deg,#b5d7e8 216.6deg 217.2deg,#e2edf3 217.2deg 217.8deg,#d6e7f1 217.8deg 218.4deg,#dbeaf2 218.4deg 219deg,#e8f0f4 219deg 219.6deg,#aad1e5 219.6deg 220.2deg,#ddebf2 220.2deg 220.8deg,#fff 220.8deg 222deg,#e1ecf3 222deg 222.6deg,#ddebf2 222.6deg 223.2deg,#faebe3 223.2deg 223.8deg,#edf2f5 223.8deg 224.4deg,#deebf2 224.4deg 225deg,#e4eef3 225deg 225.6deg,#e1edf3 225.6deg 226.2deg,#deebf2 226.2deg 226.8deg,#ecf2f5 226.8deg 227.4deg,#e9f0f4 227.4deg 228deg,#e1edf3 228deg 228.6deg,#dae9f2 228.6deg 229.2deg,#fae8dd 229.2deg 229.8deg,#f8f3f1 229.8deg 230.4deg,#deebf2 230.4deg 231deg,#eef3f5 231deg 231.6deg,#e2edf3 231.6deg 232.2deg,#d0e5f0 232.2deg 232.8deg,#f7f5f4 232.8deg 233.4deg,#f7f7f6 233.4deg 234deg,#e9f0f4 234deg 234.6deg,#b4d6e8 234.6deg 235.2deg,#badaea 235.2deg 235.8deg,#b2d5e7 235.8deg 236.4deg,#ebf2f5 236.4deg 237deg,#d2e6f0 237deg 237.6deg,#f7f5f4 237.6deg 238.2deg,#eaf1f5 238.2deg 238.8deg,#f7f6f6 238.8deg 239.4deg,#cbe2ee 239.4deg 240deg,#b2d5e7 240deg 240.6deg,#c0dceb 240.6deg 241.2deg,#dceaf2 241.2deg 241.8deg,#e2edf3 241.8deg 242.4deg,#cfe4ef 242.4deg 243deg,#e1ecf3 243deg 243.6deg,#f8f1ed 243.6deg 244.2deg,#d2e6f0 244.2deg 244.8deg,#fff 244.8deg 246deg,#276eb0 246deg 246.6deg,#7fb9d8 246.6deg 247.2deg,#4b98c6 247.2deg 247.8deg,#3e8cbf 247.8deg 248.4deg,#4292c2 248.4deg 249deg,#4594c4 249deg 249.6deg,#71b0d3 249.6deg 250.2deg,#2a72b2 250.2deg 250.8deg,#4f9ac7 250.8deg 251.4deg,#4393c3 251.4deg 252deg,#256baf 252deg 252.6deg,#9ac9e0 252.6deg 253.2deg,#5fa4cc 253.2deg 253.8deg,#9bc9e0 253.8deg 254.4deg,#a0cce2 254.4deg 255deg,#3681ba 255deg 255.6deg,#7ab6d6 255.6deg 256.2deg,#3e8dc0 256.2deg 256.8deg,#2c75b4 256.8deg 257.4deg,#3884bb 257.4deg 258deg,#408fc1 258deg 258.6deg,#246aae 258.6deg 259.2deg,#7bb7d6 259.2deg 259.8deg,#539dc9 259.8deg 260.4deg,#3480b9 260.4deg 261deg,#95c6df 261deg 261.6deg,#97c8e0 261.6deg 262.2deg,#337db8 262.2deg 262.8deg,#509bc7 262.8deg 263.4deg,#bad9e9 263.4deg 264deg,#d5e7f1 264deg 264.6deg,#a8d0e4 264.6deg 265.2deg,#9ecbe2 265.2deg 265.8deg,#2c74b3 265.8deg 266.4deg,#519cc8 266.4deg 267deg,#246aae 267deg 267.6deg,#2c75b4 267.6deg 268.2deg,#246aae 268.2deg 268.8deg,#4090c1 268.8deg 269.4deg,#fff 269.4deg 270deg,#70afd2 270deg 270.6deg,#3e8cbf 270.6deg 271.2deg,#87beda 271.2deg 271.8deg,#77b4d5 271.8deg 272.4deg,#2971b2 272.4deg 273deg,#92c5de 273deg 273.6deg,#6daed1 273.6deg 274.2deg,#bbdaea 274.2deg 274.8deg,#74b2d4 274.8deg 275.4deg,#70afd2 275.4deg 276deg,#4594c4 276deg 276.6deg,#276fb0 276.6deg 277.2deg,#75b3d4 277.2deg 277.8deg,#75b2d4 277.8deg 278.4deg,#5ba2cb 278.4deg 279deg,#5ca3cc 279deg 279.6deg,#95c7df 279.6deg 280.2deg,#9fcce2 280.2deg 280.8deg,#4392c3 280.8deg 281.4deg,#4191c2 281.4deg 282deg,#c8e0ed 282deg 282.6deg,#7db7d7 282.6deg 283.2deg,#dceaf2 283.2deg 283.8deg,#e0ecf3 283.8deg 284.4deg,#a6cfe4 284.4deg 285deg,#dbeaf2 285deg 285.6deg,#fff 285.6deg 286.2deg,#d2e6f0 286.2deg 286.8deg,#e5eff4 286.8deg 287.4deg,#f2f5f6 287.4deg 288deg,#dceaf2 288deg 288.6deg,#e8f0f4 288.6deg 289.2deg,#cee3ef 289.2deg 289.8deg,#cbe2ee 289.8deg 290.4deg,#8ec2dd 290.4deg 291deg,#59a1cb 291deg 291.6deg,#4190c1 291.6deg 292.2deg,#83bcd9 292.2deg 292.8deg,#60a5cd 292.8deg 293.4deg,#2e77b5 293.4deg 294deg,#2a72b2 294deg 294.6deg,#4a98c6 294.6deg 295.2deg,#8cc1dc 295.2deg 295.8deg,#75b3d4 295.8deg 296.4deg,#3581ba 296.4deg 297deg,#92c5de 297deg 297.6deg,#509bc7 297.6deg 298.2deg,#deebf2 298.2deg 298.8deg,#86bdda 298.8deg 299.4deg,#94c6de 299.4deg 300deg,#fff 300deg 301.2deg,#9bcae1 301.2deg 301.8deg,#b3d6e8 301.8deg 302.4deg,#eff3f6 302.4deg 303deg,#b7d8e8 303deg 303.6deg,#d1e5f0 303.6deg 304.2deg,#7cb7d6 304.2deg 304.8deg,#6bacd1 304.8deg 305.4deg,#d5e7f1 305.4deg 306deg,#a2cde3 306deg 306.6deg,#cfe4ef 306.6deg 307.2deg,#67aacf 307.2deg 307.8deg,#d6e8f1 307.8deg 308.4deg,#89bfdb 308.4deg 309deg,#b0d4e7 309deg 309.6deg,#276eb0 309.6deg 310.2deg,#5ba2cb 310.2deg 310.8deg,#2b73b3 310.8deg 311.4deg,#4393c3 311.4deg 312deg,#3f8ec1 312deg 312.6deg,#6eaed2 312.6deg 313.2deg,#fff 313.2deg 314.4deg,#57a0ca 314.4deg 315deg,#5fa5cd 315deg 315.6deg,#3e8dc0 315.6deg 316.2deg,#4e9ac7 316.2deg 316.8deg,#246aae 316.8deg 318deg,#61a6cd 318deg 318.6deg,#d0e5f0 318.6deg 319.2deg,#d6e8f1 319.2deg 319.8deg,#e2edf3 319.8deg 320.4deg,#b8d8e9 320.4deg 321deg,#7fb9d7 321deg 321.6deg,#abd2e5 321.6deg 322.2deg,#7bb6d6 322.2deg 322.8deg,#c8e0ed 322.8deg 323.4deg,#96c7df 323.4deg 324deg,#dae9f2 324deg 324.6deg,#93c6de 324.6deg 325.2deg,#abd2e5 325.2deg 325.8deg,#9ac9e0 325.8deg 326.4deg,#7bb6d6 326.4deg 327deg,#fff 327deg 328.2deg,#8ac0db 328.2deg 329.4deg,#67aacf 329.4deg 330deg,#529dc8 330deg 330.6deg,#246aae 330.6deg 331.2deg,#2d76b4 331.2deg 331.8deg,#91c4de 331.8deg 332.4deg,#9bcae1 332.4deg 333deg,#97c8e0 333deg 333.6deg,#d2e6f0 333.6deg 334.2deg,#4c99c6 334.2deg 334.8deg,#408fc1 334.8deg 335.4deg,#c1ddeb 335.4deg 336deg,#5ea4cc 336deg 336.6deg,#3b88bd 336.6deg 337.2deg,#3c8abf 337.2deg 337.8deg,#3079b6 337.8deg 338.4deg,#fff 338.4deg 339.6deg,#d8e8f1 339.6deg 340.2deg,#85bdd9 340.2deg 340.8deg,#91c5de 340.8deg 341.4deg,#76b3d4 341.4deg 342deg,#57a0ca 342deg 342.6deg,#9fcce2 342.6deg 343.2deg,#acd2e5 343.2deg 343.8deg,#b8d8e9 343.8deg 344.4deg,#f8f3ef 344.4deg 345deg,#9dcbe1 345deg 345.6deg,#85bdd9 345.6deg 346.2deg,#82bbd9 346.2deg 346.8deg,#77b4d5 346.8deg 347.4deg,#4493c3 347.4deg 348deg,#57a0ca 348deg 348.6deg,#317bb7 348.6deg 349.2deg,#fff 349.2deg 350.4deg,#2c74b3 350.4deg 351deg,#4190c1 351deg 351.6deg,#246aae 351.6deg 352.2deg,#4a98c6 352.2deg 352.8deg,#bedceb 352.8deg 353.4deg,#a3cde3 353.4deg 354deg,#4b98c6 354deg 354.6deg,#59a1ca 354.6deg 355.2deg,#3c8abe 355.2deg 355.8deg,#82bbd8 355.8deg 356.4deg,#408ec1 356.4deg 357deg,#84bcd9 357deg 357.6deg,#e6eff4 357.6deg 358.2deg,#deebf2 358.2deg 358.8deg,#cbe2ee 358.8deg 359.4deg,#d0e5f0 359.4deg 360deg)"></div>
<div class="r" style="left:112.7px;top:109.7px;width:260.6px;height:260.6px;background:#fff"></div>
<div class="r" style="left:113.7px;top:110.7px;width:258.6px;height:258.6px;background:conic-gradient(#fff 0deg 1.2deg,#16518e 1.2deg 1.8deg,#1e61a5 1.8deg 2.4deg,#3986bc 2.4deg 3deg,#185493 3deg 3.6deg,#2268ad 3.6deg 4.2deg,#124984 4.2deg 4.8deg,#3682ba 4.8deg 5.4deg,#0d4077 5.4deg 6deg,#2368ad 6deg 6.6deg,#4997c5 6.6deg 7.2deg,#4e9ac7 7.2deg 7.8deg,#2c75b4 7.8deg 8.4deg,#59a1ca 8.4deg 9deg,#569fc9 9deg 9.6deg,#2f78b5 9.6deg 10.2deg,#72b1d3 10.2deg 10.8deg,#3a87bd 10.8deg 11.4deg,#2a72b2 11.4deg 12deg,#4f9ac7 12deg 12.6deg,#4f9bc7 12.6deg 13.2deg,#3580b9 13.2deg 13.8deg,#7ab6d6 13.8deg 14.4deg,#3e8cbf 14.4deg 15deg,#67aacf 15deg 15.6deg,#4896c5 15.6deg 16.2deg,#5ea4cc 16.2deg 16.8deg,#66a9cf 16.8deg 17.4deg,#67aacf 17.4deg 18deg,#4191c2 18deg 18.6deg,#4b98c6 18.6deg 19.2deg,#256bae 19.2deg 19.8deg,#68aad0 19.8deg 20.4deg,#aad1e5 20.4deg 21deg,#9ac9e0 21deg 21.6deg,#a9d1e5 21.6deg 22.2deg,#d2e5f0 22.2deg 22.8deg,#90c4dd 22.8deg 23.4deg,#62a7ce 23.4deg 24deg,#3b89be 24deg 24.6deg,#3581ba 24.6deg 25.2deg,#64a8ce 25.2deg 25.8deg,#4695c4 25.8deg 26.4deg,#b5d7e8 26.4deg 27deg,#4b98c6 27deg 27.6deg,#92c5de 27.6deg 28.2deg,#569fc9 28.2deg 28.8deg,#2f79b6 28.8deg 29.4deg,#2971b2 29.4deg 30deg,#75b3d4 30deg 30.6deg,#2c75b4 30.6deg 31.2deg,#5ea4cc 31.2deg 31.8deg,#3783bb 31.8deg 32.4deg,#6bacd1 32.4deg 33deg,#4190c1 33deg 33.6deg,#307ab6 33.6deg 34.2deg,#529dc8 34.2deg 34.8deg,#6fafd2 34.8deg 35.4deg,#b4d6e8 35.4deg 36deg,#8bc1dc 36deg 36.6deg,#c8e0ed 36.6deg 37.2deg,#b0d4e7 37.2deg 37.8deg,#82bbd9 37.8deg 38.4deg,#85bdda 38.4deg 39deg,#91c4de 39deg 39.6deg,#fff 39.6deg 40.2deg,#91c4de 40.2deg 40.8deg,#cee3ef 40.8deg 41.4deg,#a2cde2 41.4deg 42deg,#86bdda 42deg 42.6deg,#a3cee3 42.6deg 43.2deg,#a3cde3 43.2deg 43.8deg,#9ccae1 43.8deg 44.4deg,#62a7ce 44.4deg 45deg,#81bad8 45deg 45.6deg,#c6dfed 45.6deg 46.2deg,#74b2d4 46.2deg 46.8deg,#72b1d3 46.8deg 47.4deg,#86beda 47.4deg 48deg,#73b2d4 48deg 48.6deg,#84bcd9 48.6deg 49.2deg,#6eaed2 49.2deg 49.8deg,#317bb7 49.8deg 50.4deg,#62a6cd 50.4deg 51deg,#3e8cbf 51deg 51.6deg,#559ec9 51.6deg 52.2deg,#b9d9e9 52.2deg 52.8deg,#c1ddeb 52.8deg 53.4deg,#a6cfe4 53.4deg 54deg,#add3e6 54deg 54.6deg,#509bc7 54.6deg 55.2deg,#9bc9e1 55.2deg 55.8deg,#95c7df 55.8deg 56.4deg,#8ec3dd 56.4deg 57deg,#a2cde3 57deg 57.6deg,#acd2e5 57.6deg 58.2deg,#98c8e0 58.2deg 58.8deg,#a7cfe4 58.8deg 59.4deg,#4191c2 59.4deg 60deg,#6eaed2 60deg 60.6deg,#7eb8d7 60.6deg 61.2deg,#9bc9e0 61.2deg 61.8deg,#559fc9 61.8deg 62.4deg,#8ac0db 62.4deg 63deg,#4d99c6 63deg 63.6deg,#3986bd 63.6deg 64.2deg,#3e8cbf 64.2deg 64.8deg,#80bad8 64.8deg 65.4deg,#3d8bbf 65.4deg 66deg,#4292c2 66deg 66.6deg,#337db8 66.6deg 67.2deg,#4393c3 67.2deg 67.8deg,#87beda 67.8deg 68.4deg,#71b0d3 68.4deg 69deg,#97c8e0 69deg 69.6deg,#a4cee3 69.6deg 70.2deg,#8fc3dd 70.2deg 70.8deg,#a1cde2 70.8deg 71.4deg,#6cadd1 71.4deg 72deg,#99c9e0 72deg 72.6deg,#4595c4 72.6deg 73.2deg,#a5cfe3 73.2deg 73.8deg,#98c8e0 73.8deg 74.4deg,#81bbd8 74.4deg 75deg,#74b2d4 75deg 75.6deg,#8bc1dc 75.6deg 76.2deg,#4f9bc7 76.2deg 76.8deg,#fff 76.8deg 77.4deg,#9bcae1 77.4deg 78deg,#70b0d2 78deg 78.6deg,#61a6cd 78.6deg 79.2deg,#84bcd9 79.2deg 79.8deg,#408fc1 79.8deg 80.4deg,#64a8ce 80.4deg 81deg,#9ccae1 81deg 81.6deg,#97c8df 81.6deg 82.2deg,#73b1d3 82.2deg 82.8deg,#549ec9 82.8deg 83.4deg,#408fc1 83.4deg 84deg,#5aa2cb 84deg 84.6deg,#87beda 84.6deg 85.2deg,#88bfdb 85.2deg 85.8deg,#9fcce2 85.8deg 86.4deg,#97c8df 86.4deg 87deg,#abd2e5 87deg 87.6deg,#b5d7e8 87.6deg 88.2deg,#bfdceb 88.2deg 88.8deg,#c0ddeb 88.8deg 89.4deg,#7cb7d7 89.4deg 90deg,#a6cfe4 90deg 90.6deg,#77b4d5 90.6deg 91.2deg,#3580b9 91.2deg 91.8deg,#347fb9 91.8deg 92.4deg,#83bbd9 92.4deg 93deg,#8ac0db 93deg 93.6deg,#b8d8e9 93.6deg 94.2deg,#9fcce2 94.2deg 94.8deg,#a6cfe4 94.8deg 95.4deg,#77b4d5 95.4deg 96.6deg,#a2cde2 96.6deg 97.2deg,#7eb8d7 97.2deg 97.8deg,#8ac0db 97.8deg 98.4deg,#a5cee3 98.4deg 99deg,#c0dceb 99deg 99.6deg,#4896c5 99.6deg 100.2deg,#3b89be 100.2deg 100.8deg,#86bdda 100.8deg 101.4deg,#72b1d3 101.4deg 102deg,#61a6cd 102deg 102.6deg,#3e8dc0 102.6deg 103.2deg,#4896c5 103.2deg 103.8deg,#71b0d3 103.8deg 104.4deg,#a7cfe4 104.4deg 105deg,#70afd2 105deg 105.6deg,#7ab6d6 105.6deg 106.2deg,#d2e5f0 106.2deg 106.8deg,#afd4e6 106.8deg 107.4deg,#add3e6 107.4deg 108deg,#7eb9d7 108deg 108.6deg,#abd2e5 108.6deg 109.2deg,#529cc8 109.2deg 109.8deg,#539dc8 109.8deg 110.4deg,#3c8abf 110.4deg 111deg,#8ec2dd 111deg 111.6deg,#7ab6d6 111.6deg 112.2deg,#8dc2dc 112.2deg 112.8deg,#b9d9e9 112.8deg 113.4deg,#fff 113.4deg 114deg,#98c8e0 114deg 114.6deg,#65a9cf 114.6deg 115.2deg,#69abd0 115.2deg 115.8deg,#4c99c6 115.8deg 116.4deg,#7cb7d6 116.4deg 117deg,#3783bb 117deg 117.6deg,#81bad8 117.6deg 118.2deg,#89bfdb 118.2deg 118.8deg,#9dcae1 118.8deg 119.4deg,#6badd1 119.4deg 120deg,#96c7df 120deg 120.6deg,#70b0d2 120.6deg 121.2deg,#72b1d3 121.2deg 121.8deg,#509bc7 121.8deg 122.4deg,#327db8 122.4deg 123deg,#2f79b6 123deg 123.6deg,#2c75b4 123.6deg 124.2deg,#6cadd1 124.2deg 124.8deg,#70afd2 124.8deg 125.4deg,#327db8 125.4deg 126deg,#4191c2 126deg 126.6deg,#7cb7d6 126.6deg 127.2deg,#a9d1e4 127.2deg 127.8deg,#80bad8 127.8deg 128.4deg,#a3cee3 128.4deg 129deg,#6aacd0 129deg 129.6deg,#99c9e0 129.6deg 130.2deg,#4594c4 130.2deg 130.8deg,#9ac9e0 130.8deg 131.4deg,#4695c4 131.4deg 132deg,#95c7df 132deg 132.6deg,#408fc1 132.6deg 133.2deg,#92c5de 133.2deg 133.8deg,#9ecbe1 133.8deg 134.4deg,#72b1d3 134.4deg 135deg,#b4d6e8 135deg 135.6deg,#93c6de 135.6deg 136.2deg,#8cc1dc 136.2deg 136.8deg,#dbeaf2 136.8deg 137.4deg,#96c7df 137.4deg 138deg,#79b5d5 138deg 138.6deg,#76b3d5 138.6deg 139.2deg,#68abd0 139.2deg 139.8deg,#9ecbe1 139.8deg 140.4deg,#76b3d4 140.4deg 141deg,#8dc2dc 141deg 141.6deg,#4291c2 141.6deg 142.2deg,#8ac0db 142.2deg 142.8deg,#8ec2dd 142.8deg 143.4deg,#a1cde2 143.4deg 144deg,#7db8d7 144deg 144.6deg,#a9d1e5 144.6deg 145.2deg,#92c5de 145.2deg 145.8deg,#4c99c6 145.8deg 146.4deg,#96c7df 146.4deg 147deg,#fff 147deg 148.2deg,#4896c5 148.2deg 148.8deg,#8ec2dd 148.8deg 149.4deg,#58a0ca 149.4deg 150deg,#acd2e6 150deg 150.6deg,#6eaed2 150.6deg 151.2deg,#95c7df 151.2deg 151.8deg,#63a7ce 151.8deg 152.4deg,#72b1d3 152.4deg 153deg,#4997c5 153deg 153.6deg,#4d99c6 153.6deg 154.2deg,#7db8d7 154.2deg 154.8deg,#4f9bc7 154.8deg 155.4deg,#65a9cf 155.4deg 156deg,#408fc1 156deg 156.6deg,#3a87bd 156.6deg 157.2deg,#4e9ac7 157.2deg 157.8deg,#3783bb 157.8deg 158.4deg,#6dadd1 158.4deg 159deg,#3580b9 159deg 159.6deg,#6fafd2 159.6deg 160.2deg,#72b0d3 160.2deg 160.8deg,#408fc1 160.8deg 161.4deg,#6cadd1 161.4deg 162deg,#3c8abe 162deg 162.6deg,#2a72b2 162.6deg 163.2deg,#5ca3cc 163.2deg 163.8deg,#4b98c6 163.8deg 164.4deg,#a4cee3 164.4deg 165deg,#c9e1ee 165deg 165.6deg,#92c5de 165.6deg 166.2deg,#86beda 166.2deg 166.8deg,#8cc1dc 166.8deg 167.4deg,#2e78b5 167.4deg 168deg,#57a0ca 168deg 168.6deg,#3783bb 168.6deg 169.2deg,#3e8cc0 169.2deg 169.8deg,#4997c5 169.8deg 170.4deg,#68aad0 170.4deg 171deg,#4b98c6 171deg 171.6deg,#76b4d5 171.6deg 172.2deg,#70b0d2 172.2deg 172.8deg,#89c0db 172.8deg 173.4deg,#fff 173.4deg 174.6deg,#88bfdb 174.6deg 175.2deg,#3b89be 175.2deg 175.8deg,#4594c4 175.8deg 176.4deg,#4695c4 176.4deg 177deg,#327db8 177deg 177.6deg,#64a8ce 177.6deg 178.2deg,#79b5d6 178.2deg 178.8deg,#5da3cc 178.8deg 179.4deg,#5ca3cb 179.4deg 180deg,#2970b1 180deg 180.6deg,#3682ba 180.6deg 181.2deg,#83bcd9 181.2deg 181.8deg,#79b5d6 181.8deg 182.4deg,#8fc3dd 182.4deg 183deg,#c0dceb 183deg 183.6deg,#8ec3dd 183.6deg 184.2deg,#65a8cf 184.2deg 184.8deg,#5ea4cc 184.8deg 185.4deg,#5aa1cb 185.4deg 186deg,#4795c4 186deg 186.6deg,#6fafd2 186.6deg 187.2deg,#4e9ac7 187.2deg 187.8deg,#81bad8 187.8deg 188.4deg,#3b89be 188.4deg 189deg,#8dc2dc 189deg 189.6deg,#aed3e6 189.6deg 190.2deg,#82bbd8 190.2deg 190.8deg,#549ec9 190.8deg 191.4deg,#90c4dd 191.4deg 192deg,#5ba2cb 192deg 192.6deg,#549ec9 192.6deg 193.2deg,#3a87bd 193.2deg 193.8deg,#519cc8 193.8deg 194.4deg,#6daed1 194.4deg 195deg,#6eaed2 195deg 195.6deg,#9ccae1 195.6deg 196.2deg,#5fa5cd 196.2deg 196.8deg,#fff 196.8deg 198deg,#5da3cc 198deg 198.6deg,#7ab6d6 198.6deg 199.2deg,#8ec2dd 199.2deg 199.8deg,#7fb9d7 199.8deg 200.4deg,#9ac9e0 200.4deg 201deg,#96c7df 201deg 201.6deg,#7db7d7 201.6deg 202.2deg,#aed3e6 202.2deg 202.8deg,#92c5de 202.8deg 203.4deg,#d3e6f0 203.4deg 204deg,#89bfdb 204deg 204.6deg,#cfe4ef 204.6deg 205.2deg,#87beda 205.2deg 205.8deg,#83bbd9 205.8deg 206.4deg,#90c4dd 206.4deg 207deg,#5ea4cc 207deg 207.6deg,#76b3d4 207.6deg 208.2deg,#b8d9e9 208.2deg 208.8deg,#dbeaf2 208.8deg 209.4deg,#bad9e9 209.4deg 210deg,#d4e6f1 210deg 210.6deg,#c0dceb 210.6deg 211.2deg,#87beda 211.2deg 211.8deg,#93c6de 211.8deg 212.4deg,#72b1d3 212.4deg 213deg,#91c4de 213deg 213.6deg,#3f8ec0 213.6deg 214.2deg,#4695c4 214.2deg 214.8deg,#529dc8 214.8deg 215.4deg,#2870b1 215.4deg 216deg,#347fb9 216deg 216.6deg,#61a6cd 216.6deg 217.2deg,#3884bb 217.2deg 217.8deg,#3d8bbf 217.8deg 218.4deg,#93c6de 218.4deg 219deg,#59a1cb 219deg 220.2deg,#b3d6e7 220.2deg 220.8deg,#fff 220.8deg 222deg,#4190c1 222deg 222.6deg,#307ab6 222.6deg 223.2deg,#4191c2 223.2deg 223.8deg,#5aa2cb 223.8deg 224.4deg,#3986bd 224.4deg 225deg,#8ac0db 225deg 225.6deg,#4292c2 225.6deg 226.2deg,#62a7ce 226.2deg 226.8deg,#62a6ce 226.8deg 227.4deg,#abd2e5 227.4deg 228deg,#8dc2dc 228deg 228.6deg,#93c6de 228.6deg 229.2deg,#c8e1ed 229.2deg 229.8deg,#4896c5 229.8deg 230.4deg,#5ba2cb 230.4deg 231deg,#91c5de 231deg 231.6deg,#579fca 231.6deg 232.2deg,#b0d4e7 232.2deg 232.8deg,#b1d5e7 232.8deg 233.4deg,#aed3e6 233.4deg 234deg,#a3cee3 234deg 234.6deg,#4393c3 234.6deg 235.2deg,#408fc1 235.2deg 235.8deg,#6eaed2 235.8deg 236.4deg,#57a0ca 236.4deg 237deg,#c6dfed 237deg 237.6deg,#c0dceb 237.6deg 238.2deg,#c7e0ed 238.2deg 238.8deg,#60a5cd 238.8deg 239.4deg,#80bad8 239.4deg 240deg,#76b3d4 240deg 240.6deg,#62a7ce 240.6deg 241.2deg,#80b9d8 241.2deg 241.8deg,#bbdaea 241.8deg 242.4deg,#91c4de 242.4deg 243deg,#cfe4ef 243deg 243.6deg,#88bfdb 243.6deg 244.2deg,#c0dceb 244.2deg 244.8deg,#fff 244.8deg 246deg,#2d76b4 246deg 246.6deg,#3884bb 246.6deg 247.2deg,#246aae 247.2deg 248.4deg,#256bae 248.4deg 249deg,#246aae 249deg 249.6deg,#3d8bbf 249.6deg 250.2deg,#8ac0db 250.2deg 250.8deg,#71b0d3 250.8deg 251.4deg,#2f78b5 251.4deg 252deg,#4190c2 252deg 252.6deg,#246aae 252.6deg 253.2deg,#539dc9 253.2deg 253.8deg,#66a9cf 253.8deg 254.4deg,#3885bc 254.4deg 255deg,#286fb1 255deg 255.6deg,#246aae 255.6deg 256.2deg,#3f8dc0 256.2deg 256.8deg,#3682ba 256.8deg 257.4deg,#276eb0 257.4deg 258deg,#246aae 258deg 260.4deg,#2e77b5 260.4deg 261deg,#337eb8 261deg 261.6deg,#3580b9 261.6deg 262.2deg,#97c7df 262.2deg 262.8deg,#317bb7 262.8deg 263.4deg,#3c8abe 263.4deg 264deg,#2f78b5 264deg 264.6deg,#90c4dd 264.6deg 265.2deg,#3580b9 265.2deg 265.8deg,#7fb9d7 265.8deg 266.4deg,#63a8ce 266.4deg 267deg,#3e8cbf 267deg 267.6deg,#246aae 267.6deg 268.2deg,#3986bd 268.2deg 268.8deg,#2b74b3 268.8deg 269.4deg,#fff 269.4deg 270deg,#2a72b2 270deg 270.6deg,#246aae 270.6deg 271.2deg,#256bae 271.2deg 271.8deg,#246aae 271.8deg 272.4deg,#3580b9 272.4deg 273deg,#3a88bd 273deg 273.6deg,#3d8bbf 273.6deg 274.2deg,#82bbd8 274.2deg 274.8deg,#327cb7 274.8deg 275.4deg,#3580b9 275.4deg 276deg,#3d8bbf 276deg 276.6deg,#81bad8 276.6deg 277.2deg,#6eaed2 277.2deg 277.8deg,#6fafd2 277.8deg 278.4deg,#4291c2 278.4deg 279deg,#246aae 279deg 279.6deg,#3b88bd 279.6deg 280.2deg,#3f8dc0 280.2deg 280.8deg,#327db8 280.8deg 281.4deg,#2c75b4 281.4deg 282deg,#a3cde3 282deg 282.6deg,#5ba2cb 282.6deg 283.2deg,#84bcd9 283.2deg 283.8deg,#67aacf 283.8deg 284.4deg,#b8d8e9 284.4deg 285deg,#97c8df 285deg 285.6deg,#fff 285.6deg 286.2deg,#afd4e6 286.2deg 286.8deg,#b1d5e7 286.8deg 287.4deg,#c5dfed 287.4deg 288deg,#deebf2 288deg 288.6deg,#c5dfed 288.6deg 289.2deg,#add3e6 289.2deg 289.8deg,#cee3ef 289.8deg 290.4deg,#83bbd9 290.4deg 291deg,#b9d9e9 291deg 291.6deg,#4896c5 291.6deg 292.2deg,#7fb9d7 292.2deg 292.8deg,#58a0ca 292.8deg 293.4deg,#65a9cf 293.4deg 294deg,#2870b1 294deg 294.6deg,#327cb7 294.6deg 295.2deg,#246aae 295.2deg 297deg,#6bacd1 297deg 297.6deg,#3e8dc0 297.6deg 298.2deg,#9fcce2 298.2deg 298.8deg,#a0cce2 298.8deg 299.4deg,#c8e0ed 299.4deg 300deg,#fff 300deg 301.2deg,#76b4d5 301.2deg 301.8deg,#cce2ee 301.8deg 302.4deg,#6cadd1 302.4deg 303deg,#a9d1e5 303deg 303.6deg,#85bdda 303.6deg 304.2deg,#d7e8f1 304.2deg 304.8deg,#dae9f2 304.8deg 305.4deg,#97c8e0 305.4deg 306deg,#e9f0f4 306deg 306.6deg,#98c8e0 306.6deg 307.2deg,#77b4d5 307.2deg 307.8deg,#87beda 307.8deg 308.4deg,#c5dfed 308.4deg 309deg,#5ba2cb 309deg 309.6deg,#4c99c6 309.6deg 310.2deg,#3f8ec0 310.2deg 310.8deg,#246aae 310.8deg 312.6deg,#65a8cf 312.6deg 313.2deg,#fff 313.2deg 314.4deg,#246aae 314.4deg 315deg,#2870b1 315deg 315.6deg,#4796c4 315.6deg 316.2deg,#5ba2cb 316.2deg 316.8deg,#408fc1 316.8deg 317.4deg,#246aae 317.4deg 318deg,#4795c4 318deg 318.6deg,#569fc9 318.6deg 319.2deg,#61a6cd 319.2deg 319.8deg,#4b98c6 319.8deg 320.4deg,#afd4e6 320.4deg 321deg,#246aae 321deg 321.6deg,#63a7ce 321.6deg 322.2deg,#8bc1dc 322.2deg 322.8deg,#3783bb 322.8deg 323.4deg,#80bad8 323.4deg 324deg,#58a0ca 324deg 324.6deg,#3480b9 324.6deg 325.2deg,#6cadd1 325.2deg 325.8deg,#347fb9 325.8deg 326.4deg,#3b88bd 326.4deg 327deg,#fff 327deg 328.2deg,#256baf 328.2deg 328.8deg,#3986bc 328.8deg 329.4deg,#246aae 329.4deg 330deg,#2f79b6 330deg 330.6deg,#246aae 330.6deg 331.2deg,#2a71b2 331.2deg 331.8deg,#408fc1 331.8deg 332.4deg,#bcdbea 332.4deg 333deg,#69abd0 333deg 333.6deg,#d6e8f1 333.6deg 334.2deg,#71b0d3 334.2deg 334.8deg,#327db8 334.8deg 335.4deg,#5fa5cd 335.4deg 336deg,#246aae 336deg 336.6deg,#2a72b2 336.6deg 337.2deg,#246aae 337.2deg 338.4deg,#fff 338.4deg 339.6deg,#3885bc 339.6deg 340.2deg,#8cc1dc 340.2deg 340.8deg,#77b4d5 340.8deg 341.4deg,#519cc8 341.4deg 342deg,#3783bb 342deg 342.6deg,#89bfdb 342.6deg 343.2deg,#d4e6f0 343.2deg 343.8deg,#c4deec 343.8deg 344.4deg,#9ecbe1 344.4deg 345deg,#7ab6d6 345deg 345.6deg,#74b2d4 345.6deg 346.2deg,#246aae 346.2deg 346.8deg,#4190c2 346.8deg 347.4deg,#4b98c6 347.4deg 348deg,#246aae 348deg 349.2deg,#fff 349.2deg 350.4deg,#266daf 350.4deg 351deg,#3884bb 351deg 351.6deg,#3b88be 351.6deg 352.2deg,#9dcbe1 352.2deg 352.8deg,#c8e1ed 352.8deg 353.4deg,#539dc9 353.4deg 354deg,#3d8bbf 354deg 354.6deg,#286fb0 354.6deg 355.2deg,#246aae 355.2deg 357deg,#9fcce2 357deg 357.6deg,#509bc7 357.6deg 358.2deg,#3f8ec0 358.2deg 358.8deg,#3f8dc0 358.8deg 359.4deg,#2e77b5 359.4deg 360deg)"></div>
<div class="r" style="left:123.5px;top:120.5px;width:239px;height:239px;background:#fff"></div>
<div class="r" style="left:124.6px;top:121.6px;width:236.8px;height:236.8px;background:conic-gradient(#fff 0deg 1.2deg,#fdb87b 1.2deg 1.8deg,#fd8f3f 1.8deg 2.4deg,#fd8f3e 2.4deg 3deg,#fd9b4f 3deg 3.6deg,#fdd5ac 3.6deg 4.2deg,#fdc18a 4.2deg 4.8deg,#fee3c8 4.8deg 5.4deg,#fdce9e 5.4deg 6deg,#fdd3a8 6deg 6.6deg,#fdc38d 6.6deg 7.2deg,#fdbd84 7.2deg 7.8deg,#fdaf6d 7.8deg 8.4deg,#fd9b4f 8.4deg 9deg,#fd8e3e 9deg 9.6deg,#fdaa66 9.6deg 10.2deg,#fdba7f 10.2deg 10.8deg,#fdd5ad 10.8deg 11.4deg,#fdbf87 11.4deg 12deg,#fdc793 12deg 12.6deg,#fda65f 12.6deg 13.2deg,#fd9d53 13.2deg 13.8deg,#fda25a 13.8deg 14.4deg,#fd984c 14.4deg 15deg,#fdb677 15deg 15.6deg,#fd974a 15.6deg 16.2deg,#fa8533 16.2deg 16.8deg,#feddbb 16.8deg 17.4deg,#fc8a38 17.4deg 18deg,#fdb97d 18deg 18.6deg,#fdd4aa 18.6deg 19.2deg,#fd9f55 19.2deg 19.8deg,#fdc088 19.8deg 20.4deg,#fdbb7f 20.4deg 21deg,#fdd1a4 21deg 21.6deg,#fdbd84 21.6deg 22.2deg,#fdc48e 22.2deg 22.8deg,#fee2c5 22.8deg 23.4deg,#fdb779 23.4deg 24deg,#fdd4ab 24deg 24.6deg,#fdb373 24.6deg 25.2deg,#fd9649 25.2deg 25.8deg,#fc8937 25.8deg 26.4deg,#fd8f3f 26.4deg 27deg,#fdb272 27deg 27.6deg,#fdcfa1 27.6deg 28.2deg,#fd974b 28.2deg 28.8deg,#fda65f 28.8deg 29.4deg,#fdb97d 29.4deg 30deg,#fc8b3a 30deg 30.6deg,#fd8e3d 30.6deg 31.2deg,#fdcc9c 31.2deg 31.8deg,#fdb474 31.8deg 32.4deg,#fdb373 32.4deg 33deg,#fdbc82 33deg 33.6deg,#fddab6 33.6deg 34.2deg,#fdb474 34.2deg 34.8deg,#fdd9b3 34.8deg 35.4deg,#fdc794 35.4deg 36deg,#fdcb9a 36deg 36.6deg,#fd9f56 36.6deg 37.2deg,#fd8e3e 37.2deg 37.8deg,#fda25a 37.8deg 38.4deg,#fdb577 38.4deg 39deg,#fdaa65 39deg 39.6deg,#fff 39.6deg 40.2deg,#fa8432 40.2deg 40.8deg,#fdc793 40.8deg 41.4deg,#fb8735 41.4deg 42deg,#fdbf86 42deg 42.6deg,#fdc189 42.6deg 43.2deg,#fdd5ad 43.2deg 43.8deg,#fda259 43.8deg 44.4deg,#fdb373 44.4deg 45deg,#fdad69 45deg 45.6deg,#fda25a 45.6deg 46.2deg,#fda056 46.2deg 46.8deg,#fdb678 46.8deg 47.4deg,#fd974a 47.4deg 48deg,#fda55e 48deg 48.6deg,#fd9e55 48.6deg 49.2deg,#fdb87a 49.2deg 49.8deg,#fd9243 49.8deg 50.4deg,#fdac68 50.4deg 51deg,#fd974b 51deg 51.6deg,#fdb474 51.6deg 52.2deg,#fdce9e 52.2deg 52.8deg,#fdc794 52.8deg 53.4deg,#fda862 53.4deg 54deg,#fdb474 54deg 54.6deg,#fdd3a9 54.6deg 55.2deg,#fd8f3e 55.2deg 55.8deg,#fdae6b 55.8deg 56.4deg,#fdbc82 56.4deg 57deg,#fdb06e 57deg 57.6deg,#fd984c 57.6deg 58.2deg,#fda057 58.2deg 58.8deg,#fdbc81 58.8deg 59.4deg,#fdc591 59.4deg 60deg,#fdc38c 60deg 60.6deg,#fdc896 60.6deg 61.2deg,#fdd5ad 61.2deg 61.8deg,#fdc28b 61.8deg 62.4deg,#fdd4aa 62.4deg 63deg,#fdcc9b 63deg 63.6deg,#fdcfa0 63.6deg 64.2deg,#fdab67 64.2deg 64.8deg,#fda25a 64.8deg 65.4deg,#fdbd83 65.4deg 66deg,#fdcc9c 66deg 66.6deg,#fdd5ad 66.6deg 67.2deg,#fdcb99 67.2deg 67.8deg,#fdba7f 67.8deg 68.4deg,#fdbf86 68.4deg 69deg,#fdb06e 69deg 69.6deg,#fda963 69.6deg 70.2deg,#fdab67 70.2deg 70.8deg,#fedcba 70.8deg 71.4deg,#fdc590 71.4deg 72deg,#fee1c4 72deg 72.6deg,#fdb87c 72.6deg 73.2deg,#fdd1a3 73.2deg 73.8deg,#fddbb7 73.8deg 74.4deg,#fdb16f 74.4deg 75deg,#fdc590 75deg 75.6deg,#fdb06f 75.6deg 76.2deg,#fd9141 76.2deg 76.8deg,#fff 76.8deg 77.4deg,#fc8b3a 77.4deg 78deg,#fd9548 78deg 78.6deg,#fd9d52 78.6deg 79.2deg,#fd9446 79.2deg 79.8deg,#f87f2c 79.8deg 80.4deg,#fedcb9 80.4deg 81deg,#fda25b 81deg 81.6deg,#fda55f 81.6deg 82.2deg,#fda35b 82.2deg 82.8deg,#fdc18a 82.8deg 83.4deg,#fdbe86 83.4deg 84deg,#fdbd84 84deg 84.6deg,#fdbb80 84.6deg 85.2deg,#fdc794 85.2deg 85.8deg,#fdb87c 85.8deg 86.4deg,#fd8d3b 86.4deg 87deg,#fd9244 87deg 87.6deg,#fda55e 87.6deg 88.2deg,#fdc590 88.2deg 88.8deg,#fdba7e 88.8deg 89.4deg,#fda964 89.4deg 90deg,#fda45d 90deg 90.6deg,#fdd3a9 90.6deg 91.2deg,#fda862 91.2deg 91.8deg,#fdbe85 91.8deg 92.4deg,#fdd1a3 92.4deg 93deg,#fda760 93deg 93.6deg,#fdd2a6 93.6deg 94.2deg,#fda25a 94.2deg 94.8deg,#fdb06e 94.8deg 95.4deg,#fda55e 95.4deg 96deg,#fd9a4f 96deg 96.6deg,#fb8634 96.6deg 97.2deg,#fdb678 97.2deg 97.8deg,#fdd9b4 97.8deg 98.4deg,#fee0c2 98.4deg 99deg,#fdcb9a 99deg 99.6deg,#fdc18a 99.6deg 100.2deg,#fdb475 100.2deg 100.8deg,#fdb87c 100.8deg 101.4deg,#fd9f55 101.4deg 102deg,#fdc692 102deg 102.6deg,#fdce9f 102.6deg 103.2deg,#fda863 103.2deg 103.8deg,#fd984c 103.8deg 104.4deg,#fdc48f 104.4deg 105deg,#fdaa66 105deg 105.6deg,#fdcfa0 105.6deg 106.2deg,#fdc089 106.2deg 106.8deg,#fdb374 106.8deg 107.4deg,#fdc794 107.4deg 108deg,#fdb679 108deg 108.6deg,#fd984c 108.6deg 109.2deg,#fdb678 109.2deg 109.8deg,#fdcd9c 109.8deg 110.4deg,#fda35b 110.4deg 111deg,#fdb77a 111deg 111.6deg,#fdb06f 111.6deg 112.2deg,#fda762 112.2deg 112.8deg,#f87e2b 112.8deg 113.4deg,#fff 113.4deg 114deg,#fa8331 114deg 114.6deg,#fb8634 114.6deg 115.2deg,#fdae6b 115.2deg 115.8deg,#fd8f3f 115.8deg 116.4deg,#fdd0a3 116.4deg 117deg,#fda25b 117deg 117.6deg,#fdce9f 117.6deg 118.2deg,#fdc997 118.2deg 118.8deg,#fdaf6c 118.8deg 119.4deg,#fdb678 119.4deg 120deg,#fdb271 120deg 120.6deg,#fdb677 120.6deg 121.2deg,#fdb374 121.2deg 121.8deg,#fdd7b1 121.8deg 122.4deg,#fdbb80 122.4deg 123deg,#fdbe85 123deg 123.6deg,#fdd1a4 123.6deg 124.2deg,#fdc996 124.2deg 124.8deg,#fee2c6 124.8deg 125.4deg,#fdc28b 125.4deg 126deg,#fdce9f 126deg 126.6deg,#fa8533 126.6deg 127.2deg,#f67925 127.2deg 127.8deg,#f9812f 127.8deg 128.4deg,#f9802d 128.4deg 129deg,#fd8c3b 129deg 129.6deg,#fd9e54 129.6deg 130.2deg,#fda158 130.2deg 130.8deg,#fda35c 130.8deg 131.4deg,#fdb16f 131.4deg 132deg,#fd9f56 132deg 132.6deg,#fdb16f 132.6deg 133.2deg,#fdab67 133.2deg 133.8deg,#fda058 133.8deg 134.4deg,#fd9b50 134.4deg 135deg,#fdc895 135deg 135.6deg,#fdad69 135.6deg 136.2deg,#fdd1a4 136.2deg 136.8deg,#fdd4a9 136.8deg 137.4deg,#fdb475 137.4deg 138deg,#fdcc9b 138deg 138.6deg,#fdbd83 138.6deg 139.2deg,#fd984b 139.2deg 139.8deg,#fdc088 139.8deg 140.4deg,#fdbf86 140.4deg 141deg,#fdc896 141deg 141.6deg,#fdd2a6 141.6deg 142.2deg,#fdba7f 142.2deg 142.8deg,#fd9345 142.8deg 143.4deg,#fdb170 143.4deg 144deg,#fda65f 144deg 144.6deg,#fdac68 144.6deg 145.2deg,#fdc38d 145.2deg 145.8deg,#fdd4ab 145.8deg 146.4deg,#fdd2a6 146.4deg 147deg,#fff 147deg 148.2deg,#fda45d 148.2deg 148.8deg,#fd9c51 148.8deg 149.4deg,#fdb576 149.4deg 150deg,#fdb06e 150deg 150.6deg,#fdac68 150.6deg 151.2deg,#fd9e54 151.2deg 151.8deg,#fdcb9a 151.8deg 152.4deg,#fdcfa1 152.4deg 153deg,#fdb475 153deg 153.6deg,#fdad69 153.6deg 154.2deg,#fdd4a9 154.2deg 154.8deg,#fdd2a6 154.8deg 155.4deg,#fdc997 155.4deg 156deg,#fdce9f 156deg 156.6deg,#fdc28c 156.6deg 157.2deg,#fedcba 157.2deg 157.8deg,#fdbf87 157.8deg 158.4deg,#fda158 158.4deg 159deg,#fda65f 159deg 159.6deg,#fda863 159.6deg 160.2deg,#fdba7e 160.2deg 160.8deg,#f9812e 160.8deg 161.4deg,#fdaf6c 161.4deg 162deg,#fda057 162deg 162.6deg,#fdb271 162.6deg 163.2deg,#fee3c8 163.2deg 163.8deg,#fdcfa0 163.8deg 164.4deg,#fee1c4 164.4deg 165deg,#fdcd9e 165deg 165.6deg,#fdcc9c 165.6deg 166.2deg,#fdb77a 166.2deg 166.8deg,#fdac69 166.8deg 167.4deg,#fd984c 167.4deg 168deg,#fdaf6d 168deg 168.6deg,#fda761 168.6deg 169.2deg,#f9812e 169.2deg 169.8deg,#fd9649 169.8deg 170.4deg,#fdae6c 170.4deg 171deg,#f98230 171deg 171.6deg,#f87d29 171.6deg 172.2deg,#fd8f3f 172.2deg 172.8deg,#fd994d 172.8deg 173.4deg,#fff 173.4deg 174.6deg,#fdbe86 174.6deg 175.2deg,#fd984b 175.2deg 175.8deg,#fd9547 175.8deg 176.4deg,#fdc793 176.4deg 177deg,#fdd2a6 177deg 177.6deg,#fdad69 177.6deg 178.2deg,#fdc794 178.2deg 178.8deg,#fdb677 178.8deg 179.4deg,#fdbf87 179.4deg 180deg,#fda862 180deg 180.6deg,#fd9649 180.6deg 181.2deg,#fdc18a 181.2deg 181.8deg,#fdb97d 181.8deg 182.4deg,#fdcb99 182.4deg 183deg,#fdb678 183deg 183.6deg,#fd9c52 183.6deg 184.2deg,#fda660 184.2deg 184.8deg,#fdb06d 184.8deg 185.4deg,#fdc794 185.4deg 186deg,#fdc590 186deg 186.6deg,#fdaf6d 186.6deg 187.2deg,#f9822f 187.2deg 187.8deg,#fdb06d 187.8deg 188.4deg,#fdcd9e 188.4deg 189deg,#fedfc0 189deg 189.6deg,#fee0c2 189.6deg 190.2deg,#fdd6ae 190.2deg 190.8deg,#fdab67 190.8deg 191.4deg,#fd994d 191.4deg 192deg,#fda761 192deg 192.6deg,#fdb576 192.6deg 193.2deg,#fdb171 193.2deg 193.8deg,#fdb87b 193.8deg 194.4deg,#fdc18a 194.4deg 195deg,#fdb77a 195deg 195.6deg,#fda660 195.6deg 196.2deg,#fdd2a6 196.2deg 196.8deg,#fff 196.8deg 198deg,#fda55e 198deg 198.6deg,#fdc997 198.6deg 199.2deg,#fdcb9a 199.2deg 199.8deg,#fdc189 199.8deg 200.4deg,#fd9c52 200.4deg 201deg,#fd9142 201deg 201.6deg,#fda762 201.6deg 202.2deg,#fda159 202.2deg 202.8deg,#fd9547 202.8deg 203.4deg,#fdac68 203.4deg 204deg,#fda964 204deg 204.6deg,#fd994d 204.6deg 205.2deg,#fdab66 205.2deg 205.8deg,#fda35c 205.8deg 206.4deg,#fdcfa1 206.4deg 207deg,#fdb87b 207deg 207.6deg,#fdcc9b 207.6deg 208.2deg,#fdb87c 208.2deg 208.8deg,#fdc997 208.8deg 209.4deg,#fddab6 209.4deg 210deg,#fda057 210deg 210.6deg,#fdbe85 210.6deg 211.2deg,#fdc48f 211.2deg 211.8deg,#fdc591 211.8deg 212.4deg,#fd8c3b 212.4deg 213deg,#fb8735 213deg 213.6deg,#fd9c52 213.6deg 214.2deg,#fda761 214.2deg 214.8deg,#fd984c 214.8deg 215.4deg,#fd9344 215.4deg 216deg,#fda55f 216deg 216.6deg,#fdac68 216.6deg 217.2deg,#fdbb80 217.2deg 217.8deg,#fda057 217.8deg 218.4deg,#fd9142 218.4deg 219deg,#fda55f 219deg 219.6deg,#fdd5ab 219.6deg 220.2deg,#fdbd83 220.2deg 220.8deg,#fff 220.8deg 222deg,#feddbc 222deg 222.6deg,#fdd4aa 222.6deg 223.2deg,#fdbb81 223.2deg 223.8deg,#fdb271 223.8deg 224.4deg,#fdd3a8 224.4deg 225deg,#fdbb80 225deg 225.6deg,#fdcfa0 225.6deg 226.2deg,#fdc996 226.2deg 226.8deg,#fdc58f 226.8deg 227.4deg,#fedfc0 227.4deg 228deg,#fdb97c 228deg 228.6deg,#fdd0a2 228.6deg 229.2deg,#fdd2a6 229.2deg 229.8deg,#fda45d 229.8deg 230.4deg,#fdad6a 230.4deg 231deg,#fdce9e 231deg 231.6deg,#fd9242 231.6deg 232.2deg,#fd9b50 232.2deg 232.8deg,#fdbb81 232.8deg 233.4deg,#fd9244 233.4deg 234deg,#f9812f 234deg 234.6deg,#fd9f56 234.6deg 235.2deg,#fb8837 235.2deg 235.8deg,#fc8b3a 235.8deg 236.4deg,#fd9d52 236.4deg 237deg,#fd8c3b 237deg 237.6deg,#fdab66 237.6deg 238.2deg,#fd984c 238.2deg 238.8deg,#fdcc9c 238.8deg 239.4deg,#fdc48f 239.4deg 240deg,#fdcfa1 240deg 240.6deg,#fda863 240.6deg 241.2deg,#fdc590 241.2deg 241.8deg,#fdd7b0 241.8deg 242.4deg,#fdbf86 242.4deg 243deg,#fddab5 243deg 243.6deg,#fdbe86 243.6deg 244.2deg,#fdca99 244.2deg 244.8deg,#fff 244.8deg 246deg,#f87d2a 246deg 246.6deg,#e75b0b 246.6deg 247.2deg,#e35608 247.2deg 247.8deg,#dd4e04 247.8deg 248.4deg,#fa8533 248.4deg 249deg,#e75c0c 249deg 249.6deg,#fd9548 249.6deg 250.2deg,#fd984b 250.2deg 250.8deg,#fd8c3b 250.8deg 251.4deg,#fda35c 251.4deg 252deg,#fd8f3f 252deg 252.6deg,#fdc58f 252.6deg 253.2deg,#fda057 253.2deg 253.8deg,#fd994d 253.8deg 254.4deg,#fd9649 254.4deg 255deg,#fd8f3e 255deg 255.6deg,#fd9040 255.6deg 256.2deg,#fc8a38 256.2deg 256.8deg,#fd9142 256.8deg 257.4deg,#fda259 257.4deg 258deg,#f36f1a 258deg 258.6deg,#fd9243 258.6deg 259.2deg,#fd9141 259.2deg 259.8deg,#ea600e 259.8deg 260.4deg,#ed6310 260.4deg 261.6deg,#f87e2b 261.6deg 262.2deg,#f3701b 262.2deg 262.8deg,#fd8f3e 262.8deg 263.4deg,#fda25a 263.4deg 264deg,#fda862 264deg 264.6deg,#fda159 264.6deg 265.2deg,#fda057 265.2deg 265.8deg,#e25508 265.8deg 266.4deg,#f67925 266.4deg 267deg,#e5590a 267deg 267.6deg,#ea5f0d 267.6deg 268.2deg,#f57420 268.2deg 268.8deg,#fa8532 268.8deg 269.4deg,#fff 269.4deg 270deg,#f4721d 270deg 270.6deg,#f87e2b 270.6deg 271.2deg,#fdaa65 271.2deg 271.8deg,#fd9548 271.8deg 272.4deg,#fc8a39 272.4deg 273deg,#fd994d 273deg 273.6deg,#fd9e54 273.6deg 274.2deg,#fda158 274.2deg 274.8deg,#fdb475 274.8deg 275.4deg,#fdc088 275.4deg 276deg,#fda55f 276deg 276.6deg,#fdab67 276.6deg 277.2deg,#fdd1a4 277.2deg 277.8deg,#fdc18a 277.8deg 278.4deg,#fdd7b1 278.4deg 279deg,#fdcfa1 279deg 279.6deg,#fdc996 279.6deg 280.2deg,#fd9a4e 280.2deg 280.8deg,#fdc089 280.8deg 281.4deg,#fdc48e 281.4deg 282deg,#fdb272 282deg 282.6deg,#fdab67 282.6deg 283.2deg,#fda660 283.2deg 283.8deg,#fdb679 283.8deg 284.4deg,#fd9649 284.4deg 285deg,#fdc895 285deg 285.6deg,#fff 285.6deg 286.2deg,#fdd8b2 286.2deg 286.8deg,#f87f2c 286.8deg 287.4deg,#fd9040 287.4deg 288deg,#fd9a4f 288deg 288.6deg,#fda65f 288.6deg 289.2deg,#fdb06e 289.2deg 289.8deg,#fda964 289.8deg 290.4deg,#fdb97d 290.4deg 291deg,#fdc895 291deg 291.6deg,#fdc48f 291.6deg 292.2deg,#fdc18a 292.2deg 292.8deg,#fda55f 292.8deg 293.4deg,#fdcc9b 293.4deg 294deg,#fda35c 294deg 294.6deg,#f57622 294.6deg 295.2deg,#fda660 295.2deg 295.8deg,#fd9a4f 295.8deg 296.4deg,#fd9f56 296.4deg 297deg,#fdc794 297deg 297.6deg,#fdbd84 297.6deg 298.2deg,#fdb97d 298.2deg 298.8deg,#fd9345 298.8deg 299.4deg,#fd9e54 299.4deg 300deg,#fff 300deg 301.2deg,#f87e2b 301.2deg 301.8deg,#fdaa65 301.8deg 302.4deg,#fc8938 302.4deg 303deg,#fd8e3e 303deg 303.6deg,#f57521 303.6deg 304.2deg,#f36e19 304.2deg 304.8deg,#fdcfa0 304.8deg 305.4deg,#f77c28 305.4deg 306deg,#fd9243 306deg 306.6deg,#fd9a4f 306.6deg 307.2deg,#fc8937 307.2deg 307.8deg,#fd974a 307.8deg 308.4deg,#f77a27 308.4deg 309deg,#fd974a 309deg 309.6deg,#f9802d 309.6deg 310.2deg,#fd9c51 310.2deg 310.8deg,#fdd5ac 310.8deg 311.4deg,#fd8f3f 311.4deg 312deg,#fda25a 312deg 312.6deg,#fda158 312.6deg 313.2deg,#fff 313.2deg 314.4deg,#fc8937 314.4deg 315deg,#fd9547 315deg 315.6deg,#fdd7b1 315.6deg 316.2deg,#fda25a 316.2deg 316.8deg,#fdd2a5 316.8deg 317.4deg,#fc8b39 317.4deg 318deg,#fd974a 318deg 318.6deg,#fd974b 318.6deg 319.2deg,#fdce9f 319.2deg 319.8deg,#fd984c 319.8deg 320.4deg,#fd9d53 320.4deg 321deg,#f87d2a 321deg 321.6deg,#fb8735 321.6deg 322.2deg,#fd9b50 322.2deg 322.8deg,#fd9446 322.8deg 323.4deg,#fdd6af 323.4deg 324deg,#fdca99 324deg 324.6deg,#fdc18a 324.6deg 325.2deg,#fdc997 325.2deg 325.8deg,#fda057 325.8deg 326.4deg,#fda55f 326.4deg 327deg,#fff 327deg 328.2deg,#fda55f 328.2deg 328.8deg,#fdb474 328.8deg 329.4deg,#fd9d53 329.4deg 330deg,#fd8d3c 330deg 330.6deg,#f57420 330.6deg 331.2deg,#f57521 331.2deg 331.8deg,#fd9446 331.8deg 332.4deg,#fdd0a3 332.4deg 333deg,#fdbb80 333deg 333.6deg,#fda862 333.6deg 334.2deg,#fda35b 334.2deg 334.8deg,#fdc794 334.8deg 335.4deg,#fda862 335.4deg 336deg,#fdd1a4 336deg 336.6deg,#fdc590 336.6deg 337.2deg,#fda964 337.2deg 337.8deg,#fd9242 337.8deg 338.4deg,#fff 338.4deg 339.6deg,#fd9d53 339.6deg 340.2deg,#fda862 340.2deg 340.8deg,#fd9b50 340.8deg 341.4deg,#fa8533 341.4deg 342deg,#fda45d 342deg 342.6deg,#fd994d 342.6deg 343.2deg,#fda55e 343.2deg 343.8deg,#fdba7e 343.8deg 344.4deg,#fdb475 344.4deg 345deg,#fda159 345deg 345.6deg,#fd9c51 345.6deg 346.2deg,#fd9243 346.2deg 346.8deg,#fd9447 346.8deg 347.4deg,#f87d29 347.4deg 348deg,#fc8937 348deg 348.6deg,#fda55e 348.6deg 349.2deg,#fff 349.2deg 350.4deg,#fdac69 350.4deg 351deg,#fdb678 351deg 351.6deg,#fdd8b2 351.6deg 352.2deg,#fd9548 352.2deg 352.8deg,#fd984b 352.8deg 353.4deg,#f67925 353.4deg 354deg,#fd9041 354deg 354.6deg,#fdce9f 354.6deg 355.2deg,#fdb779 355.2deg 355.8deg,#fda259 355.8deg 356.4deg,#fdb170 356.4deg 357deg,#fdad69 357deg 357.6deg,#fdbe86 357.6deg 358.2deg,#fdd3a8 358.2deg 358.8deg,#fdb576 358.8deg 359.4deg,#f36f19 359.4deg 360deg)"></div>
<div class="r" style="left:135.7px;top:132.7px;width:214.6px;height:214.6px;background:#fff"></div>
<div class="r" style="left:136.4px;top:133.4px;width:213.2px;height:213.2px;background:conic-gradient(#fff 0deg 1deg,#c95b55 1deg 1.5deg,#e89770 1.5deg 2deg,#d2685c 2deg 2.5deg,#da7462 2.5deg 3deg,#d56d5e 3deg 3.5deg,#c04e4f 3.5deg 4deg,#c65753 4deg 4.5deg,#c45251 4.5deg 5deg,#d1675b 5deg 5.5deg,#eb9e72 5.5deg 6deg,#f6cb97 6deg 6.5deg,#efad7c 6.5deg 7deg,#f1b280 7deg 7.5deg,#f9d7a5 7.5deg 8deg,#f3bb88 8deg 8.5deg,#c75854 8.5deg 9deg,#f5c592 9deg 9.5deg,#e18568 9.5deg 10deg,#f9daab 10deg 10.5deg,#fbe2bb 10.5deg 11deg,#e08368 11deg 11.5deg,#e18569 11.5deg 12deg,#ce6359 12deg 12.5deg,#e89770 12.5deg 13deg,#f8d19d 13deg 13.5deg,#f5c693 13.5deg 14deg,#f0af7d 14deg 14.5deg,#e6916d 14.5deg 15deg,#f2b986 15deg 15.5deg,#bc4c4e 15.5deg 16deg,#e18569 16deg 16.5deg,#eea978 16.5deg 17deg,#f0b07e 17deg 17.5deg,#f9d8a7 17.5deg 18deg,#eea978 18deg 18.5deg,#d46b5d 18.5deg 19deg,#e48c6b 19deg 19.5deg,#e89770 19.5deg 20deg,#fadcaf 20deg 20.5deg,#df8066 20.5deg 21deg,#f8d4a1 21deg 21.5deg,#d2685c 21.5deg 22deg,#eea978 22deg 22.5deg,#c25050 22.5deg 23deg,#e48b6b 23deg 23.5deg,#c45452 23.5deg 24deg,#eea978 24deg 24.5deg,#eea776 24.5deg 25deg,#da7462 25deg 25.5deg,#e99a71 25.5deg 26deg,#f3bd8a 26deg 26.5deg,#ce6259 26.5deg 27deg,#cb5d56 27deg 27.5deg,#c95a55 27.5deg 28deg,#f4c18d 28deg 28.5deg,#f8d4a0 28.5deg 29deg,#e6926e 29deg 29.5deg,#f9d8a8 29.5deg 30deg,#f7d09b 30deg 30.5deg,#f6cc98 30.5deg 31deg,#f5c793 31deg 31.5deg,#dd7a64 31.5deg 32deg,#f4c28e 32deg 32.5deg,#fadeb4 32.5deg 33deg,#e48c6b 33deg 33.5deg,#db7662 33.5deg 34deg,#da7461 34deg 34.5deg,#d1665b 34.5deg 35deg,#f3bf8c 35deg 35.5deg,#fae1b9 35.5deg 36deg,#f1b482 36deg 36.5deg,#cb5e57 36.5deg 37deg,#db7562 37deg 37.5deg,#f7cf9a 37.5deg 38deg,#f6ca96 38deg 38.5deg,#f9d9a9 38.5deg 39deg,#eea877 39deg 39.5deg,#fff 39.5deg 40.5deg,#f9daab 40.5deg 41deg,#e99b71 41deg 41.5deg,#f8d5a2 41.5deg 42deg,#fcecce 42deg 42.5deg,#fae1b9 42.5deg 43deg,#fbe3bd 43deg 43.5deg,#e7956f 43.5deg 44deg,#da7461 44deg 44.5deg,#d87060 44.5deg 45deg,#f1b583 45deg 45.5deg,#e6916d 45.5deg 46deg,#dc7863 46deg 46.5deg,#f1b683 46.5deg 47deg,#efab7a 47deg 47.5deg,#cb5d56 47.5deg 48deg,#f6c995 48deg 48.5deg,#f7d09b 48.5deg 49deg,#eba073 49deg 49.5deg,#e6916d 49.5deg 50deg,#f9daac 50deg 50.5deg,#cc5e57 50.5deg 51deg,#fbe3bd 51deg 51.5deg,#fbe4be 51.5deg 52deg,#f8d39e 52deg 52.5deg,#f8d6a3 52.5deg 53deg,#fbe3bd 53deg 53.5deg,#f8d49f 53.5deg 54deg,#eea877 54deg 54.5deg,#de7d66 54.5deg 55deg,#df7f66 55deg 55.5deg,#f6cb97 55.5deg 56deg,#eca274 56deg 56.5deg,#f3bc89 56.5deg 57deg,#f8d29d 57deg 57.5deg,#cf6359 57.5deg 58deg,#c55552 58deg 58.5deg,#f1b583 58.5deg 59deg,#f4c08c 59deg 59.5deg,#f0ae7c 59.5deg 60deg,#dd7964 60deg 60.5deg,#fbe2ba 60.5deg 61deg,#eda575 61deg 61.5deg,#cf6359 61.5deg 62deg,#cd6058 62deg 62.5deg,#e6926e 62.5deg 63deg,#d97261 63deg 63.5deg,#d66e5f 63.5deg 64deg,#f6c995 64deg 64.5deg,#f0b280 64.5deg 65deg,#e2886a 65deg 65.5deg,#d66e5f 65.5deg 66deg,#eb9f73 66deg 66.5deg,#eda675 66.5deg 67deg,#eea877 67deg 67.5deg,#e58e6c 67.5deg 68deg,#f9d9a9 68deg 68.5deg,#f9dbad 68.5deg 69deg,#f7ce9a 69deg 69.5deg,#dc7763 69.5deg 70deg,#d97261 70deg 70.5deg,#fceccd 70.5deg 71deg,#e18468 71deg 71.5deg,#c85954 71.5deg 72deg,#f9daab 72deg 72.5deg,#e6936e 72.5deg 73deg,#c85954 73deg 73.5deg,#df8067 73.5deg 74deg,#f8d39e 74deg 74.5deg,#cc5f57 74.5deg 75deg,#fbe7c4 75deg 75.5deg,#e58f6c 75.5deg 76deg,#e6926e 76deg 76.5deg,#fff 76.5deg 77.5deg,#f5c591 77.5deg 78deg,#cb5e57 78deg 78.5deg,#e6936e 78.5deg 79deg,#f8d4a0 79deg 79.5deg,#f9d7a6 79.5deg 80deg,#d46b5d 80deg 80.5deg,#ca5c56 80.5deg 81deg,#d46b5d 81deg 81.5deg,#eea978 81.5deg 82deg,#e08267 82deg 82.5deg,#de7c65 82.5deg 83deg,#f4c28e 83deg 83.5deg,#f3bf8b 83.5deg 84deg,#f7d09b 84deg 84.5deg,#ea9d72 84.5deg 85deg,#f3bf8b 85deg 85.5deg,#d56c5e 85.5deg 86deg,#cb5d57 86deg 86.5deg,#eca374 86.5deg 87deg,#d0655a 87deg 87.5deg,#dc7863 87.5deg 88deg,#e2886a 88deg 88.5deg,#f7cd99 88.5deg 89deg,#cc5f57 89deg 89.5deg,#faddb2 89.5deg 90deg,#e89870 90deg 90.5deg,#f6cc98 90.5deg 91deg,#dc7763 91deg 91.5deg,#efac7a 91.5deg 92deg,#f7ce99 92deg 92.5deg,#fbe4bf 92.5deg 93deg,#f7cd99 93deg 93.5deg,#e38b6b 93.5deg 94deg,#d87260 94deg 94.5deg,#fbe6c3 94.5deg 95deg,#cd6158 95deg 95.5deg,#cb5e57 95.5deg 96deg,#eca174 96deg 96.5deg,#f8d4a0 96.5deg 97deg,#f9d7a6 97deg 97.5deg,#d87160 97.5deg 98deg,#d66e5f 98deg 98.5deg,#d87160 98.5deg 99deg,#c75854 99deg 99.5deg,#e18568 99.5deg 100deg,#d97261 100deg 100.5deg,#e48c6b 100.5deg 101deg,#f5c591 101deg 101.5deg,#eb9f73 101.5deg 102deg,#fceccd 102deg 102.5deg,#f9d8a8 102.5deg 103deg,#fae1b9 103deg 103.5deg,#fbe6c3 103.5deg 104deg,#f9dcae 104deg 104.5deg,#fae0b7 104.5deg 105deg,#e48e6c 105deg 105.5deg,#d2685c 105.5deg 106deg,#fae0b6 106deg 106.5deg,#c75854 106.5deg 107.5deg,#f5c793 107.5deg 108deg,#f4c08d 108deg 108.5deg,#dc7863 108.5deg 109deg,#f7d09b 109deg 109.5deg,#f6cb97 109.5deg 110deg,#de7d65 110deg 110.5deg,#eea776 110.5deg 111deg,#d97260 111deg 111.5deg,#f2b885 111.5deg 112deg,#fae1b9 112deg 112.5deg,#e28769 112.5deg 113deg,#fff 113deg 114deg,#d0665b 114deg 114.5deg,#c75753 114.5deg 115deg,#e8966f 115deg 115.5deg,#bf4e4f 115.5deg 116deg,#f1b683 116deg 116.5deg,#f8d39e 116.5deg 117deg,#cd6158 117deg 117.5deg,#cc5f57 117.5deg 118deg,#f8d4a1 118deg 118.5deg,#ce6259 118.5deg 119deg,#eca274 119deg 119.5deg,#fce9c7 119.5deg 120deg,#d36a5d 120deg 120.5deg,#f6cb97 120.5deg 121deg,#fae1b9 121deg 121.5deg,#f1b482 121.5deg 122deg,#f8d6a3 122deg 122.5deg,#f5c692 122.5deg 123deg,#faddb0 123deg 123.5deg,#efa978 123.5deg 124deg,#f7cd98 124deg 124.5deg,#f5c793 124.5deg 125deg,#f6c995 125deg 125.5deg,#f3bf8c 125.5deg 126deg,#de7b65 126deg 126.5deg,#de7d65 126.5deg 127deg,#db7562 127deg 127.5deg,#f8d19c 127.5deg 128deg,#e2886a 128deg 128.5deg,#e48d6c 128.5deg 129deg,#d1675b 129deg 129.5deg,#d56d5e 129.5deg 130deg,#f4c08d 130deg 130.5deg,#e99b71 130.5deg 131deg,#f9dbad 131deg 131.5deg,#f7d19c 131.5deg 132deg,#d77060 132deg 132.5deg,#f9d8a8 132.5deg 133deg,#f5c591 133deg 133.5deg,#c35251 133.5deg 134deg,#f2b885 134deg 134.5deg,#efac7b 134.5deg 135deg,#cf645a 135deg 135.5deg,#d97260 135.5deg 136deg,#f7d19c 136deg 136.5deg,#e28769 136.5deg 137deg,#f5c894 137deg 137.5deg,#eea776 137.5deg 138deg,#e28769 138deg 138.5deg,#ea9d72 138.5deg 139deg,#fbe6c3 139deg 139.5deg,#e7956f 139.5deg 140deg,#eba073 140deg 140.5deg,#df7e66 140.5deg 141deg,#d87260 141deg 141.5deg,#cf645a 141.5deg 142deg,#d77060 142deg 142.5deg,#f6cc98 142.5deg 143deg,#cc5e57 143deg 143.5deg,#f2b986 143.5deg 144deg,#cf6359 144deg 144.5deg,#efaa78 144.5deg 145deg,#f5c894 145deg 145.5deg,#e6926e 145.5deg 146deg,#da7462 146deg 146.5deg,#f9d7a6 146.5deg 147deg,#fff 147deg 148deg,#d87160 148deg 148.5deg,#eda675 148.5deg 149deg,#f9daab 149deg 149.5deg,#de7c65 149.5deg 150deg,#f9daac 150deg 150.5deg,#d87160 150.5deg 151deg,#dd7b64 151deg 151.5deg,#f1b582 151.5deg 152deg,#f5c693 152deg 152.5deg,#e99870 152.5deg 153deg,#f0ae7c 153deg 153.5deg,#efaa79 153.5deg 154deg,#fbe2ba 154deg 154.5deg,#e08267 154.5deg 155deg,#f8d49f 155deg 155.5deg,#cf645a 155.5deg 156deg,#e99a71 156deg 156.5deg,#d56d5e 156.5deg 157deg,#eea676 157deg 157.5deg,#e7946e 157.5deg 158deg,#e28669 158deg 158.5deg,#f0b07e 158.5deg 159deg,#cb5e57 159deg 159.5deg,#f9daac 159.5deg 160deg,#efad7c 160deg 160.5deg,#c55452 160.5deg 161deg,#c75854 161deg 161.5deg,#cb5d56 161.5deg 162deg,#e58f6c 162deg 162.5deg,#fadcaf 162.5deg 163deg,#ce6259 163deg 163.5deg,#cf6359 163.5deg 164deg,#cc5f57 164deg 164.5deg,#fadcb0 164.5deg 165deg,#d77060 165deg 165.5deg,#eba073 165.5deg 166deg,#eb9e72 166deg 166.5deg,#f5c591 166.5deg 167deg,#f1b683 167deg 167.5deg,#eea877 167.5deg 168deg,#db7663 168deg 168.5deg,#d0655a 168.5deg 169deg,#f3bb89 169deg 169.5deg,#f8d49f 169.5deg 170deg,#efac7a 170deg 170.5deg,#d2675b 170.5deg 171deg,#ce6259 171deg 171.5deg,#e48b6b 171.5deg 172deg,#ca5d56 172deg 172.5deg,#f1b683 172.5deg 173deg,#fae0b6 173deg 173.5deg,#fff 173.5deg 174.5deg,#e89870 174.5deg 175deg,#e6926e 175deg 175.5deg,#f8d19c 175.5deg 176deg,#e89870 176deg 176.5deg,#da7361 176.5deg 177deg,#f6cb97 177deg 177.5deg,#e18468 177.5deg 178deg,#d76f5f 178deg 178.5deg,#f6ca96 178.5deg 179deg,#d2675b 179deg 179.5deg,#d87260 179.5deg 180deg,#eca274 180deg 180.5deg,#e38a6b 180.5deg 181deg,#e48d6c 181deg 181.5deg,#f2b987 181.5deg 182deg,#f2b785 182deg 182.5deg,#e08267 182.5deg 183deg,#e2886a 183deg 183.5deg,#e48c6b 183.5deg 184deg,#fadfb5 184deg 184.5deg,#fbe3bc 184.5deg 185deg,#f8d5a2 185deg 185.5deg,#d66d5e 185.5deg 186deg,#f2ba87 186deg 186.5deg,#f0b07e 186.5deg 187deg,#fdedd0 187deg 187.5deg,#f9d9a8 187.5deg 188deg,#e48d6c 188deg 188.5deg,#d46b5d 188.5deg 189deg,#e99970 189deg 189.5deg,#ea9b71 189.5deg 190deg,#f8d6a3 190deg 190.5deg,#fae1b9 190.5deg 191deg,#e18569 191deg 191.5deg,#dc7763 191.5deg 192deg,#f0af7d 192deg 192.5deg,#f2b986 192.5deg 193deg,#ba4a4e 193deg 193.5deg,#e6916d 193.5deg 194deg,#f6cb96 194deg 194.5deg,#fadcaf 194.5deg 195deg,#f9daac 195deg 195.5deg,#df7e66 195.5deg 196deg,#cd6158 196deg 196.5deg,#d66e5e 196.5deg 197deg,#fff 197deg 198deg,#fbe3bc 198deg 198.5deg,#eba073 198.5deg 199deg,#dd7964 199deg 199.5deg,#fcedcf 199.5deg 200deg,#d1665b 200deg 200.5deg,#fbe3bd 200.5deg 201deg,#d46b5d 201deg 201.5deg,#eca374 201.5deg 202deg,#e58e6c 202deg 202.5deg,#c75854 202.5deg 203deg,#f8d39e 203deg 203.5deg,#f8d4a0 203.5deg 204deg,#da7361 204deg 204.5deg,#fadfb6 204.5deg 205deg,#f4c18e 205deg 205.5deg,#fadfb5 205.5deg 206deg,#e58f6d 206deg 206.5deg,#de7b65 206.5deg 207deg,#f1b482 207deg 207.5deg,#f2b784 207.5deg 208deg,#efad7b 208deg 208.5deg,#f9d9aa 208.5deg 209deg,#e18468 209deg 209.5deg,#eea676 209.5deg 210deg,#eca274 210deg 210.5deg,#d97361 210.5deg 211deg,#efac7a 211deg 211.5deg,#e3896a 211.5deg 212deg,#fce8c6 212deg 212.5deg,#f0af7d 212.5deg 213deg,#d2685c 213deg 213.5deg,#f5c490 213.5deg 214.5deg,#f2b885 214.5deg 215deg,#fbe5c0 215deg 215.5deg,#fadcaf 215.5deg 216deg,#dd7b64 216deg 216.5deg,#f0b17f 216.5deg 217deg,#e38b6b 217deg 217.5deg,#bd4c4f 217.5deg 218deg,#d46b5d 218deg 218.5deg,#dc7763 218.5deg 219deg,#f5c692 219deg 219.5deg,#cc5f57 219.5deg 220deg,#d36a5c 220deg 220.5deg,#f8d4a0 220.5deg 221deg,#fff 221deg 222deg,#dd7a64 222deg 222.5deg,#d97261 222.5deg 223deg,#f8d49f 223deg 223.5deg,#f9dcae 223.5deg 224deg,#d2695c 224deg 224.5deg,#f5c692 224.5deg 225deg,#eea776 225deg 225.5deg,#f5c793 225.5deg 226deg,#e5906d 226deg 226.5deg,#c45452 226.5deg 227deg,#f9d7a5 227deg 227.5deg,#e58f6c 227.5deg 228deg,#e48c6b 228deg 228.5deg,#c85854 228.5deg 229deg,#eea877 229deg 229.5deg,#e58e6c 229.5deg 230deg,#e08267 230deg 230.5deg,#efad7b 230.5deg 231deg,#e48d6c 231deg 231.5deg,#c85954 231.5deg 232deg,#c45352 232deg 232.5deg,#d3695c 232.5deg 233deg,#f1b381 233deg 233.5deg,#c25050 233.5deg 234deg,#f4c38f 234deg 234.5deg,#bb4b4e 234.5deg 235deg,#de7d66 235deg 235.5deg,#f4c38f 235.5deg 236deg,#efad7b 236deg 236.5deg,#d46b5d 236.5deg 237deg,#dc7763 237deg 237.5deg,#c95a55 237.5deg 238deg,#e2886a 238deg 238.5deg,#e18368 238.5deg 239deg,#f9d8a8 239deg 239.5deg,#d36a5d 239.5deg 240deg,#cf645a 240deg 240.5deg,#ca5c56 240.5deg 241deg,#f3bd8a 241deg 241.5deg,#eb9f73 241.5deg 242deg,#cd6158 242deg 242.5deg,#ea9d72 242.5deg 243deg,#e18468 243deg 243.5deg,#f5c491 243.5deg 244deg,#f2b986 244deg 244.5deg,#fff 244.5deg 245.5deg,#d1675b 245.5deg 246deg,#d46b5d 246deg 246.5deg,#ce6159 246.5deg 247deg,#d2685c 247deg 247.5deg,#f9d7a5 247.5deg 248deg,#d1665b 248deg 248.5deg,#dd7a64 248.5deg 249deg,#eb9e72 249deg 249.5deg,#d87260 249.5deg 250deg,#d7705f 250deg 250.5deg,#c65653 250.5deg 251deg,#f3be8b 251deg 251.5deg,#e99a71 251.5deg 252deg,#eb9f73 252deg 252.5deg,#d3695c 252.5deg 253deg,#f1b583 253deg 253.5deg,#eba073 253.5deg 254deg,#f8d29d 254deg 254.5deg,#e48c6b 254.5deg 255deg,#be4d4f 255deg 255.5deg,#f8d39f 255.5deg 256deg,#eca374 256deg 256.5deg,#d0645a 256.5deg 257deg,#cb5d56 257deg 257.5deg,#fae0b7 257.5deg 258deg,#f3bc89 258deg 258.5deg,#d76f5f 258.5deg 259deg,#e58f6d 259deg 259.5deg,#f3bf8c 259.5deg 260deg,#f8d39e 260deg 260.5deg,#d0655a 260.5deg 261deg,#f3bc89 261deg 261.5deg,#e99a71 261.5deg 262deg,#f8d49f 262deg 262.5deg,#e3886a 262.5deg 263deg,#d56c5e 263deg 263.5deg,#f0b07e 263.5deg 264deg,#dd7964 264deg 264.5deg,#d3695c 264.5deg 265deg,#e7936e 265deg 265.5deg,#e58f6d 265.5deg 266deg,#e5906d 266deg 266.5deg,#d87160 266.5deg 267deg,#c45251 267deg 267.5deg,#d36a5c 267.5deg 268deg,#f5c692 268deg 268.5deg,#f6c995 268.5deg 269deg,#fff 269deg 270deg,#e18468 270deg 270.5deg,#fadeb2 270.5deg 271deg,#f8d5a1 271deg 271.5deg,#e7946f 271.5deg 272deg,#f2b785 272deg 272.5deg,#eda575 272.5deg 273deg,#fae0b7 273deg 273.5deg,#f2ba87 273.5deg 274deg,#c45352 274deg 274.5deg,#f5c894 274.5deg 275deg,#f9d7a5 275deg 275.5deg,#cb5e57 275.5deg 276deg,#f9d7a5 276deg 276.5deg,#f5c894 276.5deg 277deg,#fbe6c1 277deg 277.5deg,#f8d39e 277.5deg 278deg,#fadfb5 278deg 278.5deg,#db7562 278.5deg 279deg,#e3896a 279deg 279.5deg,#f9d6a4 279.5deg 280deg,#f8d6a3 280deg 280.5deg,#f2b784 280.5deg 281deg,#f8d49f 281deg 281.5deg,#e48d6c 281.5deg 282deg,#d97361 282deg 282.5deg,#e7956f 282.5deg 283deg,#f9d9aa 283deg 283.5deg,#f3bb88 283.5deg 284deg,#f4c28f 284deg 284.5deg,#f0b280 284.5deg 285deg,#f3bf8c 285deg 285.5deg,#fff 285.5deg 286.5deg,#df7e66 286.5deg 287deg,#c14f50 287deg 287.5deg,#f0b17f 287.5deg 288deg,#f2b986 288deg 288.5deg,#f7d09b 288.5deg 289deg,#f5c693 289deg 289.5deg,#f2ba88 289.5deg 290deg,#dd7964 290deg 290.5deg,#cf645a 290.5deg 291deg,#f8d29d 291deg 291.5deg,#d56d5e 291.5deg 292deg,#d3695c 292deg 292.5deg,#c45351 292.5deg 293deg,#c25050 293deg 293.5deg,#f7cc98 293.5deg 294deg,#de7c65 294deg 294.5deg,#f2ba88 294.5deg 295deg,#f8d4a1 295deg 295.5deg,#ca5d56 295.5deg 296deg,#e58e6c 296deg 296.5deg,#f8d19d 296.5deg 297deg,#c55452 297deg 297.5deg,#d87160 297.5deg 298deg,#bb4b4e 298deg 298.5deg,#e7946f 298.5deg 299deg,#f6ca96 299deg 299.5deg,#d0655a 299.5deg 300deg,#fff 300deg 301deg,#e89870 301deg 301.5deg,#f9d9aa 301.5deg 302deg,#f8d29e 302deg 302.5deg,#d97361 302.5deg 303deg,#fcebcc 303deg 303.5deg,#cf6359 303.5deg 304deg,#f4c08d 304deg 304.5deg,#eca374 304.5deg 305deg,#c35251 305deg 305.5deg,#f5c591 305.5deg 306deg,#f0ae7d 306deg 306.5deg,#e18468 306.5deg 307deg,#f0b17f 307deg 307.5deg,#f8d49f 307.5deg 308deg,#f0b280 308deg 308.5deg,#f1b583 308.5deg 309deg,#f7cf9b 309deg 309.5deg,#e7936e 309.5deg 310deg,#f4c08c 310deg 310.5deg,#e2886a 310.5deg 311deg,#d1665b 311deg 311.5deg,#f1b583 311.5deg 312deg,#fbe3bd 312deg 312.5deg,#f3bc89 312.5deg 313deg,#fff 313deg 314deg,#f4c28f 314deg 314.5deg,#c75753 314.5deg 315deg,#eca274 315deg 315.5deg,#f8d19c 315.5deg 316deg,#e08368 316deg 316.5deg,#f9daac 316.5deg 317deg,#f6ca96 317deg 317.5deg,#fae1b9 317.5deg 318deg,#fcedcf 318deg 318.5deg,#f5c793 318.5deg 319deg,#eca374 319deg 319.5deg,#df7f66 319.5deg 320deg,#f6ca96 320deg 320.5deg,#f4c18d 320.5deg 321deg,#d66e5f 321deg 321.5deg,#e18568 321.5deg 322deg,#f0b17f 322deg 322.5deg,#bb4b4e 322.5deg 323deg,#c65653 323deg 323.5deg,#ca5c56 323.5deg 324deg,#f0b17f 324deg 324.5deg,#faddb2 324.5deg 325deg,#f9d8a8 325deg 325.5deg,#e28769 325.5deg 326deg,#da7461 326deg 326.5deg,#f9d9aa 326.5deg 327deg,#fff 327deg 328deg,#fce9c9 328deg 328.5deg,#df7e66 328.5deg 329deg,#d46b5d 329deg 329.5deg,#eea676 329.5deg 330deg,#f0af7d 330deg 330.5deg,#e48c6b 330.5deg 331deg,#e99a71 331deg 331.5deg,#fae0b6 331.5deg 332deg,#e8966f 332deg 332.5deg,#f6cc98 332.5deg 333deg,#e08067 333deg 333.5deg,#f1b381 333.5deg 334deg,#d77060 334deg 334.5deg,#d1665b 334.5deg 335deg,#f4c490 335deg 335.5deg,#c14f50 335.5deg 336deg,#d97261 336deg 336.5deg,#f5c592 336.5deg 337deg,#f4c28e 337deg 337.5deg,#d1675b 337.5deg 338deg,#f5c692 338deg 338.5deg,#fff 338.5deg 339.5deg,#f1b583 339.5deg 340deg,#fbe7c3 340deg 340.5deg,#d56c5e 340.5deg 341deg,#f7d19c 341deg 341.5deg,#e7956f 341.5deg 342deg,#f7d09c 342deg 342.5deg,#f8d4a1 342.5deg 343deg,#e08368 343deg 343.5deg,#f9d7a6 343.5deg 344deg,#efaa79 344deg 344.5deg,#f7cd98 344.5deg 345deg,#dd7964 345deg 345.5deg,#f8d5a3 345.5deg 346deg,#d2685c 346deg 346.5deg,#f3bb88 346.5deg 347deg,#fbe2bb 347deg 347.5deg,#f3be8b 347.5deg 348deg,#fce8c6 348deg 348.5deg,#f1b482 348.5deg 349deg,#fff 349deg 350deg,#e48d6c 350deg 350.5deg,#fadfb4 350.5deg 351deg,#efa978 351deg 351.5deg,#fbe7c4 351.5deg 352deg,#f3bd8a 352deg 352.5deg,#da7461 352.5deg 353deg,#f8d19c 353deg 353.5deg,#da7462 353.5deg 354deg,#e18568 354deg 354.5deg,#fce8c5 354.5deg 355deg,#de7e66 355deg 355.5deg,#f3bd8a 355.5deg 356deg,#f6cb97 356deg 356.5deg,#f7cd99 356.5deg 357deg,#dc7763 357deg 357.5deg,#dd7964 357.5deg 358deg,#e18368 358deg 358.5deg,#da7461 358.5deg 359deg,#efab7a 359deg 359.5deg,#f9d6a4 359.5deg 360deg)"></div>
<div class="r" style="left:142.5px;top:139.5px;width:201px;height:201px;background:#fff"></div>
<div class="r" style="left:143.7px;top:140.7px;width:198.6px;height:198.6px;background:conic-gradient(#fff 0deg 1deg,#f3be8b 1deg 1.5deg,#f5c793 1.5deg 2deg,#fae0b7 2deg 2.5deg,#f1b280 2.5deg 3deg,#de7b65 3deg 3.5deg,#cb5d56 3.5deg 4deg,#eb9f73 4deg 4.5deg,#f1b684 4.5deg 5deg,#e38a6b 5deg 5.5deg,#f2bb88 5.5deg 6deg,#fbe3bc 6deg 6.5deg,#e89770 6.5deg 7deg,#f9dcae 7deg 7.5deg,#e6916d 7.5deg 8deg,#e8966f 8deg 8.5deg,#cb5d56 8.5deg 9deg,#f7cf9b 9deg 9.5deg,#f6ca96 9.5deg 10deg,#df8067 10deg 10.5deg,#de7b65 10.5deg 11deg,#e58e6c 11deg 11.5deg,#ea9c72 11.5deg 12deg,#cf645a 12deg 12.5deg,#e08368 12.5deg 13deg,#f7cc98 13deg 13.5deg,#d87160 13.5deg 14deg,#f6ca96 14deg 14.5deg,#fae0b7 14.5deg 15deg,#fceccd 15deg 15.5deg,#f4c28f 15.5deg 16deg,#fbe5c0 16deg 16.5deg,#f9d8a8 16.5deg 17deg,#dd7964 17deg 17.5deg,#f8d39e 17.5deg 18deg,#e18569 18deg 18.5deg,#cc5f57 18.5deg 19deg,#c65753 19deg 19.5deg,#cb5d56 19.5deg 20deg,#f4c28e 20deg 20.5deg,#d87160 20.5deg 21deg,#f4c38f 21deg 21.5deg,#ce6259 21.5deg 22deg,#c85854 22deg 22.5deg,#eea776 22.5deg 23deg,#dc7763 23deg 23.5deg,#e6936e 23.5deg 24deg,#da7562 24deg 24.5deg,#fce9c8 24.5deg 25deg,#e7956f 25deg 25.5deg,#f5c894 25.5deg 26deg,#f3be8b 26deg 26.5deg,#eca374 26.5deg 27deg,#e58f6c 27deg 27.5deg,#eda675 27.5deg 28deg,#fadfb5 28deg 28.5deg,#e48d6c 28.5deg 29deg,#d56d5e 29deg 29.5deg,#d97361 29.5deg 30deg,#d56c5e 30deg 30.5deg,#fadeb3 30.5deg 31deg,#fbe7c4 31deg 31.5deg,#eb9f73 31.5deg 32deg,#f8d39e 32deg 32.5deg,#f4c38f 32.5deg 33deg,#fbe7c4 33deg 33.5deg,#eea776 33.5deg 34deg,#dd7b65 34deg 34.5deg,#d66f5f 34.5deg 35deg,#efad7c 35deg 35.5deg,#ca5d56 35.5deg 36deg,#f3bf8c 36deg 36.5deg,#f7d09c 36.5deg 37deg,#d3695c 37deg 37.5deg,#d7705f 37.5deg 38deg,#c85854 38deg 38.5deg,#efac7a 38.5deg 39deg,#df7e66 39deg 39.5deg,#fff 39.5deg 40.5deg,#f6cb97 40.5deg 41deg,#f9d7a5 41deg 41.5deg,#f2b885 41.5deg 42deg,#ea9d72 42deg 42.5deg,#cf6359 42.5deg 43deg,#c55552 43deg 43.5deg,#cb5e57 43.5deg 44deg,#c45452 44deg 44.5deg,#f7ce99 44.5deg 45deg,#c04f4f 45deg 45.5deg,#f5c591 45.5deg 46deg,#ea9d72 46deg 46.5deg,#f6c894 46.5deg 47deg,#dd7b64 47deg 47.5deg,#f5c592 47.5deg 48deg,#f7cf9b 48deg 48.5deg,#c85954 48.5deg 49deg,#e89770 49deg 49.5deg,#e08167 49.5deg 50deg,#f7cf9b 50deg 50.5deg,#e3896a 50.5deg 51deg,#e38b6b 51deg 51.5deg,#fae1b9 51.5deg 52deg,#e18468 52deg 52.5deg,#faddb1 52.5deg 53deg,#fadcb0 53deg 53.5deg,#f8d5a1 53.5deg 54deg,#fae1b8 54deg 54.5deg,#f3bf8c 54.5deg 55deg,#d66e5e 55deg 55.5deg,#f1b482 55.5deg 56deg,#f4c18e 56deg 56.5deg,#f5c591 56.5deg 57deg,#f7d19c 57deg 57.5deg,#f4c08d 57.5deg 58deg,#d97361 58deg 58.5deg,#c95a55 58.5deg 59deg,#e7946e 59deg 59.5deg,#fadcb0 59.5deg 60deg,#f7ce99 60deg 60.5deg,#ea9b71 60.5deg 61deg,#f0af7d 61deg 61.5deg,#d97361 61.5deg 62deg,#e6916d 62deg 62.5deg,#eca174 62.5deg 63deg,#e8966f 63deg 63.5deg,#df8067 63.5deg 64deg,#f9d6a4 64deg 64.5deg,#eba073 64.5deg 65deg,#f3bc8a 65deg 65.5deg,#d56c5e 65.5deg 66deg,#d1665b 66deg 66.5deg,#de7c65 66.5deg 67deg,#f7ce99 67deg 67.5deg,#f1b381 67.5deg 68deg,#d87060 68deg 68.5deg,#e08368 68.5deg 69deg,#e89870 69deg 69.5deg,#e18468 69.5deg 70deg,#fae1b8 70deg 70.5deg,#f6cb97 70.5deg 71deg,#f9d6a4 71deg 71.5deg,#e18468 71.5deg 72deg,#eea978 72deg 72.5deg,#c35151 72.5deg 73deg,#f3bd8a 73deg 73.5deg,#f0af7d 73.5deg 74deg,#f9dbad 74deg 74.5deg,#e28769 74.5deg 75deg,#e89770 75deg 75.5deg,#d36a5d 75.5deg 76deg,#f9d7a5 76deg 76.5deg,#fff 76.5deg 77.5deg,#faddb2 77.5deg 78deg,#da7462 78deg 78.5deg,#f1b481 78.5deg 79deg,#f3bb88 79deg 79.5deg,#fae1b9 79.5deg 80deg,#fadeb3 80deg 80.5deg,#dd7a64 80.5deg 81deg,#f8d5a2 81deg 81.5deg,#e28669 81.5deg 82deg,#eca274 82deg 82.5deg,#d7705f 82.5deg 83deg,#f5c591 83deg 83.5deg,#efab7a 83.5deg 84deg,#f9d9a9 84deg 84.5deg,#f3be8b 84.5deg 85deg,#eca274 85deg 85.5deg,#c65653 85.5deg 86deg,#eca274 86deg 86.5deg,#e2886a 86.5deg 87deg,#f0b17f 87deg 87.5deg,#be4d4f 87.5deg 88deg,#d66e5e 88deg 88.5deg,#c65653 88.5deg 89deg,#f2b987 89deg 89.5deg,#cf6359 89.5deg 90deg,#e7956f 90deg 90.5deg,#d1665b 90.5deg 91deg,#eb9f73 91deg 91.5deg,#e38a6b 91.5deg 92deg,#eb9f73 92deg 92.5deg,#e28769 92.5deg 93deg,#e38a6b 93deg 93.5deg,#cd6158 93.5deg 94deg,#de7c65 94deg 94.5deg,#f5c592 94.5deg 95deg,#df7e66 95deg 95.5deg,#e89770 95.5deg 96deg,#d1675b 96deg 96.5deg,#f8d4a0 96.5deg 97.5deg,#f9dbad 97.5deg 98deg,#ea9c72 98deg 98.5deg,#f6ca96 98.5deg 99deg,#d0655a 99deg 99.5deg,#f7cd99 99.5deg 100deg,#d66f5f 100deg 100.5deg,#f9daab 100.5deg 101deg,#fbe3bd 101deg 101.5deg,#f3bf8b 101.5deg 102deg,#eba073 102deg 102.5deg,#f2b986 102.5deg 103deg,#ea9c71 103deg 103.5deg,#f9dbad 103.5deg 104deg,#f7cf9b 104deg 104.5deg,#f4c28e 104.5deg 105deg,#e3896a 105deg 105.5deg,#f8d19c 105.5deg 106deg,#cc5f57 106deg 106.5deg,#f5c692 106.5deg 107deg,#f0b280 107deg 107.5deg,#e6916d 107.5deg 108deg,#c45452 108deg 108.5deg,#de7d65 108.5deg 109deg,#db7562 109deg 109.5deg,#e2886a 109.5deg 110deg,#e28769 110deg 110.5deg,#f1b583 110.5deg 111deg,#f8d39f 111deg 111.5deg,#e99971 111.5deg 112deg,#df8066 112deg 112.5deg,#f9dbad 112.5deg 113deg,#fff 113deg 114deg,#fbe5c0 114deg 114.5deg,#d7705f 114.5deg 115deg,#f9d6a4 115deg 115.5deg,#f2b886 115.5deg 116deg,#cd6158 116deg 116.5deg,#fbe5c1 116.5deg 117deg,#ca5c56 117deg 117.5deg,#c85954 117.5deg 118deg,#f9d6a4 118deg 118.5deg,#fbe3bd 118.5deg 119deg,#f2b986 119deg 119.5deg,#f7d09b 119.5deg 120deg,#e48d6c 120deg 120.5deg,#e99970 120.5deg 121deg,#f4c28f 121deg 121.5deg,#f9d9aa 121.5deg 122deg,#cf6359 122deg 122.5deg,#fadeb4 122.5deg 123deg,#e18569 123deg 123.5deg,#f2ba87 123.5deg 124deg,#ea9d72 124deg 124.5deg,#c55553 124.5deg 125deg,#f6cc98 125deg 125.5deg,#d2685c 125.5deg 126deg,#f3bc8a 126deg 126.5deg,#cc5e57 126.5deg 127deg,#e48b6b 127deg 127.5deg,#eea877 127.5deg 128deg,#c45452 128deg 128.5deg,#c85954 128.5deg 129deg,#e18368 129deg 129.5deg,#de7c65 129.5deg 130deg,#faddb1 130deg 130.5deg,#fbe5c1 130.5deg 131deg,#f1b482 131deg 131.5deg,#f7d09c 131.5deg 132deg,#f2ba87 132deg 132.5deg,#f8d29d 132.5deg 133deg,#efad7c 133deg 133.5deg,#eea978 133.5deg 134deg,#da7462 134deg 134.5deg,#f4c28f 134.5deg 135deg,#e58e6c 135deg 135.5deg,#f3be8b 135.5deg 136deg,#f7cd99 136deg 136.5deg,#fce9c7 136.5deg 137deg,#eba073 137deg 137.5deg,#e99a71 137.5deg 138deg,#f8d19c 138deg 138.5deg,#d3695c 138.5deg 139deg,#e28669 139deg 139.5deg,#fae1b8 139.5deg 140deg,#f9d7a6 140deg 140.5deg,#e99971 140.5deg 141deg,#f2b986 141deg 141.5deg,#fbe2bb 141.5deg 142deg,#fadcb0 142deg 142.5deg,#d76f5f 142.5deg 143deg,#eda475 143deg 143.5deg,#f0ae7d 143.5deg 144deg,#f1b280 144deg 144.5deg,#f2b987 144.5deg 145deg,#e5906d 145deg 145.5deg,#f0b07e 145.5deg 146deg,#efab7a 146deg 146.5deg,#fce9c7 146.5deg 147deg,#fff 147deg 148deg,#db7562 148deg 148.5deg,#e58e6c 148.5deg 149deg,#f1b583 149deg 149.5deg,#da7462 149.5deg 150deg,#e89770 150deg 150.5deg,#fce9c8 150.5deg 151deg,#fceaca 151deg 151.5deg,#e7946e 151.5deg 152deg,#f9d7a6 152deg 152.5deg,#ea9c72 152.5deg 153deg,#fae0b7 153deg 153.5deg,#f3bd8a 153.5deg 154deg,#f5c793 154deg 154.5deg,#c55452 154.5deg 155deg,#f7d19c 155deg 155.5deg,#ce6359 155.5deg 156deg,#f6cb97 156deg 156.5deg,#eda575 156.5deg 157deg,#e08368 157deg 157.5deg,#e5906d 157.5deg 158deg,#d3695c 158deg 158.5deg,#e08167 158.5deg 159deg,#cd6158 159deg 159.5deg,#ce6359 159.5deg 160deg,#f4bf8c 160deg 160.5deg,#e7966f 160.5deg 161deg,#da7462 161deg 161.5deg,#e08267 161.5deg 162deg,#db7562 162deg 162.5deg,#f9d8a8 162.5deg 163deg,#c85954 163deg 163.5deg,#faddb1 163.5deg 164deg,#d1665b 164deg 164.5deg,#fbe5c0 164.5deg 165deg,#f2ba87 165deg 165.5deg,#f4c18e 165.5deg 166deg,#e6936e 166deg 166.5deg,#efac7a 166.5deg 167deg,#fce9c8 167deg 167.5deg,#ea9b71 167.5deg 168deg,#fbe7c4 168deg 168.5deg,#f5c793 168.5deg 169deg,#d87160 169deg 169.5deg,#faddb2 169.5deg 170deg,#de7d65 170deg 170.5deg,#f1b482 170.5deg 171deg,#e48b6b 171deg 171.5deg,#fae1b8 171.5deg 172deg,#e8966f 172deg 172.5deg,#fce9c8 172.5deg 173deg,#f8d29d 173deg 173.5deg,#fff 173.5deg 174.5deg,#e08167 174.5deg 175deg,#eda575 175deg 175.5deg,#c25050 175.5deg 176deg,#f7cd98 176deg 176.5deg,#ce6259 176.5deg 177deg,#efaa79 177deg 177.5deg,#d66e5e 177.5deg 178deg,#f1b684 178deg 178.5deg,#eea978 178.5deg 179deg,#fbe6c2 179deg 179.5deg,#de7b65 179.5deg 180deg,#f6cb97 180deg 180.5deg,#e08167 180.5deg 181deg,#f9d9aa 181deg 181.5deg,#e99a71 181.5deg 182deg,#d87060 182deg 182.5deg,#fbe2ba 182.5deg 183deg,#d0645a 183deg 183.5deg,#f5c793 183.5deg 184deg,#eea877 184deg 184.5deg,#f6c995 184.5deg 185deg,#dd7a64 185deg 185.5deg,#e5906d 185.5deg 186deg,#dc7763 186deg 186.5deg,#df8067 186.5deg 187deg,#f2ba87 187deg 187.5deg,#f2b987 187.5deg 188deg,#eda575 188deg 188.5deg,#f1b381 188.5deg 189deg,#efaa79 189deg 189.5deg,#df7f66 189.5deg 190deg,#dd7964 190deg 190.5deg,#efad7c 190.5deg 191deg,#f4c08d 191deg 191.5deg,#f3bd8a 191.5deg 192deg,#fbe3bc 192deg 192.5deg,#e48c6b 192.5deg 193deg,#efad7b 193deg 193.5deg,#f4c18e 193.5deg 194deg,#fae0b6 194deg 194.5deg,#e08267 194.5deg 195deg,#f0b280 195deg 195.5deg,#f9d9aa 195.5deg 196deg,#f8d39e 196deg 196.5deg,#e3896a 196.5deg 197deg,#fff 197deg 198deg,#fce8c6 198deg 198.5deg,#f5c894 198.5deg 199deg,#faddb1 199deg 199.5deg,#f2b784 199.5deg 200deg,#fcecce 200deg 200.5deg,#e08167 200.5deg 201deg,#f8d29d 201deg 201.5deg,#fae1b9 201.5deg 202deg,#f7cf9a 202deg 202.5deg,#efa978 202.5deg 203deg,#d0645a 203deg 203.5deg,#f1b482 203.5deg 204deg,#c85954 204deg 204.5deg,#eba073 204.5deg 205deg,#ea9b71 205deg 205.5deg,#ca5c56 205.5deg 206deg,#e08067 206deg 206.5deg,#d97261 206.5deg 207deg,#f8d19c 207deg 207.5deg,#f8d4a0 207.5deg 208deg,#e7946f 208deg 208.5deg,#e99870 208.5deg 209deg,#c25150 209deg 209.5deg,#da7462 209.5deg 210deg,#e99a71 210deg 210.5deg,#e99970 210.5deg 211deg,#dd7b65 211deg 211.5deg,#dd7864 211.5deg 212deg,#f3bf8c 212deg 212.5deg,#f7cf9a 212.5deg 213deg,#f8d29d 213deg 213.5deg,#d1675b 213.5deg 214deg,#da7461 214deg 214.5deg,#fae0b6 214.5deg 215deg,#f4bf8c 215deg 215.5deg,#d87160 215.5deg 216deg,#f5c591 216deg 216.5deg,#cb5d56 216.5deg 217deg,#c75854 217deg 217.5deg,#cc5f57 217.5deg 218deg,#efad7b 218deg 218.5deg,#f8d6a3 218.5deg 219deg,#f8d39e 219deg 219.5deg,#c25050 219.5deg 220deg,#eb9f73 220deg 220.5deg,#c35150 220.5deg 221deg,#fff 221deg 222deg,#f2b886 222deg 222.5deg,#c85954 222.5deg 223deg,#f5c692 223deg 223.5deg,#f5c894 223.5deg 224deg,#e18368 224deg 224.5deg,#db7562 224.5deg 225deg,#d0655a 225deg 225.5deg,#e28669 225.5deg 226deg,#f1b280 226deg 226.5deg,#c75854 226.5deg 227deg,#fadcaf 227deg 227.5deg,#efab79 227.5deg 228deg,#f6ca95 228deg 228.5deg,#ca5d56 228.5deg 229deg,#f9d9a9 229deg 229.5deg,#e48c6b 229.5deg 230deg,#e99a71 230deg 230.5deg,#f4c28e 230.5deg 231deg,#ce6259 231deg 231.5deg,#d56c5e 231.5deg 232deg,#f7ce9a 232deg 232.5deg,#f9daac 232.5deg 233deg,#cc5f57 233deg 233.5deg,#d97361 233.5deg 234deg,#f8d4a1 234deg 234.5deg,#c55552 234.5deg 235deg,#cd6158 235deg 235.5deg,#f9d9aa 235.5deg 236deg,#d0655a 236deg 236.5deg,#c85954 236.5deg 237deg,#ea9c72 237deg 237.5deg,#f5c894 237.5deg 238deg,#e48b6b 238deg 238.5deg,#ea9b71 238.5deg 239deg,#f9d9a9 239deg 239.5deg,#d3695c 239.5deg 240deg,#e58f6d 240deg 240.5deg,#e48e6c 240.5deg 241deg,#e58f6d 241deg 241.5deg,#e58f6c 241.5deg 242deg,#e48d6c 242deg 242.5deg,#eea676 242.5deg 243deg,#d76f5f 243deg 243.5deg,#d97361 243.5deg 244deg,#f6c894 244deg 244.5deg,#fff 244.5deg 245.5deg,#e48b6b 245.5deg 246deg,#d3695c 246deg 246.5deg,#f0ae7c 246.5deg 247deg,#d1665b 247deg 247.5deg,#df7e66 247.5deg 248deg,#eb9f73 248deg 248.5deg,#e2886a 248.5deg 249deg,#eea978 249deg 249.5deg,#db7562 249.5deg 250deg,#d2675b 250deg 250.5deg,#d1665b 250.5deg 251deg,#e48c6b 251deg 251.5deg,#bf4e4f 251.5deg 252deg,#c45351 252deg 252.5deg,#ea9e72 252.5deg 253deg,#dc7763 253deg 253.5deg,#ca5c56 253.5deg 254deg,#f6c894 254deg 254.5deg,#c45352 254.5deg 255deg,#f6c894 255deg 255.5deg,#d7705f 255.5deg 256deg,#d87160 256deg 256.5deg,#d76f5f 256.5deg 257deg,#f2b785 257deg 257.5deg,#dd7864 257.5deg 258deg,#f9d9a9 258deg 258.5deg,#f7d09b 258.5deg 259deg,#fae0b7 259deg 259.5deg,#de7d65 259.5deg 260deg,#fadfb5 260deg 260.5deg,#f6c995 260.5deg 261deg,#f5c894 261deg 261.5deg,#fadeb2 261.5deg 262deg,#e18468 262deg 262.5deg,#f2b886 262.5deg 263deg,#e28769 263deg 263.5deg,#f9dbae 263.5deg 264deg,#e58e6c 264deg 264.5deg,#fceaca 264.5deg 265deg,#e28769 265deg 265.5deg,#ea9b71 265.5deg 266deg,#f8d4a1 266deg 266.5deg,#dd7964 266.5deg 267deg,#eea978 267deg 267.5deg,#d46b5d 267.5deg 268deg,#f4c18e 268deg 268.5deg,#d46b5d 268.5deg 269deg,#fff 269deg 270deg,#f0b17f 270deg 270.5deg,#f0af7d 270.5deg 271deg,#f9d8a8 271deg 271.5deg,#f4c18d 271.5deg 272deg,#c75854 272deg 272.5deg,#e5906d 272.5deg 273deg,#e28669 273deg 273.5deg,#fae0b8 273.5deg 274deg,#e48c6b 274deg 274.5deg,#f5c793 274.5deg 275deg,#e48d6c 275deg 275.5deg,#d2685c 275.5deg 276deg,#efac7b 276deg 276.5deg,#f4c28e 276.5deg 277deg,#cd6158 277deg 277.5deg,#d87160 277.5deg 278deg,#e08167 278deg 278.5deg,#f4c18d 278.5deg 279deg,#f3bb88 279deg 279.5deg,#f0b280 279.5deg 280deg,#d2695c 280deg 280.5deg,#f8d6a3 280.5deg 281deg,#fae1b8 281deg 281.5deg,#fce8c6 281.5deg 282deg,#fbe5c1 282deg 282.5deg,#fbe6c2 282.5deg 283deg,#e28669 283deg 283.5deg,#eea776 283.5deg 284deg,#dd7964 284deg 284.5deg,#fae0b7 284.5deg 285deg,#d2685c 285deg 285.5deg,#fff 285.5deg 286.5deg,#f6c894 286.5deg 287deg,#c35151 287deg 287.5deg,#d36a5c 287.5deg 288deg,#efab7a 288deg 288.5deg,#f1b583 288.5deg 289deg,#f9d7a6 289deg 289.5deg,#e6916d 289.5deg 290deg,#fbe5c0 290deg 290.5deg,#e28769 290.5deg 291deg,#dd7964 291deg 291.5deg,#eda475 291.5deg 292deg,#fae0b7 292deg 292.5deg,#d76f5f 292.5deg 293deg,#eb9f73 293deg 293.5deg,#ea9e72 293.5deg 294deg,#f1b684 294deg 294.5deg,#eda575 294.5deg 295deg,#f9dbae 295deg 295.5deg,#cd6058 295.5deg 296deg,#f8d39e 296deg 296.5deg,#db7662 296.5deg 297deg,#f2ba88 297deg 297.5deg,#ce6359 297.5deg 298deg,#e2886a 298deg 298.5deg,#dd7a64 298.5deg 299deg,#d66e5f 299deg 299.5deg,#cc5f57 299.5deg 300deg,#fff 300deg 301deg,#f3bd8a 301deg 301.5deg,#e08267 301.5deg 302deg,#eda575 302deg 302.5deg,#d97361 302.5deg 303deg,#e18368 303deg 303.5deg,#f5c692 303.5deg 304deg,#f9d6a5 304deg 304.5deg,#f7ce99 304.5deg 305deg,#e6936e 305deg 305.5deg,#f5c490 305.5deg 306deg,#eea978 306deg 306.5deg,#f8d29d 306.5deg 307deg,#f3bc89 307deg 307.5deg,#f8d39f 307.5deg 308deg,#eba073 308deg 308.5deg,#f6cb96 308.5deg 309deg,#d2695c 309deg 309.5deg,#d56c5e 309.5deg 310deg,#eea877 310deg 310.5deg,#c55452 310.5deg 311deg,#e38a6a 311deg 311.5deg,#dd7964 311.5deg 312deg,#d46a5d 312deg 312.5deg,#c75854 312.5deg 313deg,#fff 313deg 314deg,#eea877 314deg 314.5deg,#fbe3bd 314.5deg 315deg,#f3bf8b 315deg 315.5deg,#f8d39f 315.5deg 316deg,#d66e5e 316deg 316.5deg,#e48c6b 316.5deg 317deg,#df7e66 317deg 317.5deg,#fbe3bd 317.5deg 318deg,#e58e6c 318deg 318.5deg,#e48c6b 318.5deg 319deg,#eea675 319deg 319.5deg,#fbe2ba 319.5deg 320deg,#efae7c 320deg 320.5deg,#f6c995 320.5deg 321deg,#f0af7e 321deg 321.5deg,#f5c591 321.5deg 322deg,#f7d19c 322deg 322.5deg,#de7d65 322.5deg 323deg,#fbe5c1 323deg 323.5deg,#faddb2 323.5deg 324deg,#e58f6d 324deg 324.5deg,#eca374 324.5deg 325deg,#f9dcae 325deg 325.5deg,#e18368 325.5deg 326deg,#f8d4a0 326deg 326.5deg,#e48c6b 326.5deg 327deg,#fff 327deg 328deg,#d2685c 328deg 328.5deg,#e5906d 328.5deg 329deg,#c75854 329deg 329.5deg,#e7936e 329.5deg 330deg,#ea9c72 330deg 330.5deg,#e48c6b 330.5deg 331deg,#dc7763 331deg 331.5deg,#f4c18e 331.5deg 332deg,#f5c692 332deg 332.5deg,#eca174 332.5deg 333deg,#f1b280 333deg 333.5deg,#d2685c 333.5deg 334deg,#fbe5c0 334deg 334.5deg,#f7cd99 334.5deg 335deg,#dc7864 335deg 335.5deg,#e58e6c 335.5deg 336deg,#e5906d 336deg 336.5deg,#f1b481 336.5deg 337deg,#dc7763 337deg 337.5deg,#e7956f 337.5deg 338deg,#f8d29d 338deg 338.5deg,#fff 338.5deg 339.5deg,#fce8c6 339.5deg 340deg,#df7e66 340deg 340.5deg,#f6cc98 340.5deg 341deg,#f5c894 341deg 341.5deg,#f4c28f 341.5deg 342deg,#eca274 342deg 342.5deg,#f1b583 342.5deg 343deg,#f6cb97 343deg 343.5deg,#f7cf9a 343.5deg 344deg,#c65653 344deg 344.5deg,#eb9e72 344.5deg 345deg,#e18568 345deg 345.5deg,#f5c490 345.5deg 346deg,#d0655a 346deg 346.5deg,#c85a55 346.5deg 347deg,#dd7a64 347deg 347.5deg,#ea9b71 347.5deg 348deg,#e08167 348deg 348.5deg,#d3695c 348.5deg 349deg,#fff 349deg 350deg,#fbe7c4 350deg 350.5deg,#fae1b9 350.5deg 351deg,#df7e66 351deg 351.5deg,#e58e6c 351.5deg 352deg,#f9d9aa 352deg 352.5deg,#efac7b 352.5deg 353deg,#d3695c 353deg 353.5deg,#f0b07f 353.5deg 354deg,#c95a55 354deg 354.5deg,#f7cd99 354.5deg 355deg,#d1675b 355deg 355.5deg,#e18468 355.5deg 356deg,#d2685b 356deg 356.5deg,#e8966f 356.5deg 357deg,#e6926e 357deg 357.5deg,#db7663 357.5deg 358deg,#e28669 358deg 358.5deg,#f1b482 358.5deg 359deg,#f7d09b 359deg 359.5deg,#f3be8b 359.5deg 360deg)"></div>
<div class="r" style="left:149.9px;top:146.9px;width:186.2px;height:186.2px;background:#fff"></div>
<svg width="1300" height="886" viewBox="0 0 1300 886">
<text x="4" y="60.6" font-size="21.5" font-weight="bold" >A</text>
<text x="498" y="60.6" font-size="21.5" font-weight="bold" >B</text>
<text x="5" y="507.6" font-size="21.5" font-weight="bold" >C</text>
<text x="308" y="507.6" font-size="21.5" font-weight="bold" >D</text>
<text x="786" y="507.6" font-size="21.5" font-weight="bold" >E</text>
<text x="766.7" y="77.3" font-size="12.6" textLength="39.2" lengthAdjust="spacingAndGlyphs" >Source</text>
<rect x="814.2" y="65.3" width="14.6" height="14.4" fill="#00478a" />
<text x="836.5" y="76.8" font-size="10" textLength="34.5" lengthAdjust="spacingAndGlyphs" >Captive</text>
<rect x="879.2" y="65.3" width="14.6" height="14.4" fill="#e60009" />
<text x="900.2" y="76.8" font-size="10" textLength="6.5" lengthAdjust="spacingAndGlyphs" >F</text>
<rect x="920" y="65.3" width="14.6" height="14.4" fill="#42b247" />
<text x="941" y="76.8" font-size="10" textLength="20.3" lengthAdjust="spacingAndGlyphs" >Wild</text>
<rect x="969.2" y="65.3" width="14.6" height="14.4" fill="#0f96b6" />
<text x="990.6" y="76.8" font-size="10" textLength="11.5" lengthAdjust="spacingAndGlyphs" >ZJ</text>
<text x="907.2" y="80.2" font-size="7" >1</text>
<path fill="#00478a" d="M561 396.77h2.65V405.5h-2.65zM563.65 386.81h2.65V405.5h-2.65zM568.96 383.4h2.65V405.5h-2.65zM571.62 383.22h2.65V405.5h-2.65zM579.58 382.45h2.65V405.5h-2.65zM587.55 381.22h2.65V405.5h-2.65zM592.86 380.13h2.65V405.5h-2.65zM595.51 379.72h2.65V405.5h-2.65zM598.17 379.31h2.65V405.5h-2.65zM600.82 378.9h2.65V405.5h-2.65zM603.48 378.56h2.65V405.5h-2.65zM608.79 377.54h2.65V405.5h-2.65zM611.44 376.86h2.65V405.5h-2.65zM616.75 368.81h2.65V405.5h-2.65zM619.41 365.67h2.65V405.5h-2.65zM622.06 362.94h2.65V405.5h-2.65zM624.72 360.49h2.65V405.5h-2.65zM627.37 359.26h2.65V405.5h-2.65zM630.03 358.99h2.65V405.5h-2.65zM632.68 358.71h2.65V405.5h-2.65zM635.34 358.64h2.65V405.5h-2.65zM637.99 358.57h2.65V405.5h-2.65zM640.65 358.49h2.65V405.5h-2.65zM643.3 358.42h2.65V405.5h-2.65zM645.96 358.35h2.65V405.5h-2.65zM648.61 358.27h2.65V405.5h-2.65zM651.27 358.2h2.65V405.5h-2.65zM653.92 358.13h2.65V405.5h-2.65zM656.58 358.05h2.65V405.5h-2.65zM659.23 357.98h2.65V405.5h-2.65zM661.89 357.91h2.65V405.5h-2.65zM664.54 357.83h2.65V405.5h-2.65zM667.2 357.76h2.65V405.5h-2.65zM669.85 357.72h2.65V405.5h-2.65zM672.51 357.68h2.65V405.5h-2.65zM675.16 357.64h2.65V405.5h-2.65zM677.82 357.6h2.65V405.5h-2.65zM680.47 357.56h2.65V405.5h-2.65zM683.13 357.51h2.65V405.5h-2.65zM685.78 357.47h2.65V405.5h-2.65zM688.44 357.43h2.65V405.5h-2.65zM691.09 357.39h2.65V405.5h-2.65zM693.75 357.35h2.65V405.5h-2.65zM696.4 357.31h2.65V405.5h-2.65zM699.06 357.27h2.65V405.5h-2.65zM701.71 357.23h2.65V405.5h-2.65zM704.37 357.19h2.65V405.5h-2.65zM707.02 357.15h2.65V405.5h-2.65zM709.68 357.11h2.65V405.5h-2.65zM712.33 357.06h2.65V405.5h-2.65zM714.99 357.02h2.65V405.5h-2.65zM717.64 356.98h2.65V405.5h-2.65zM720.3 356.94h2.65V405.5h-2.65zM722.95 356.9h2.65V405.5h-2.65zM725.6 356.86h2.65V405.5h-2.65zM728.26 356.82h2.65V405.5h-2.65zM730.91 356.78h2.65V405.5h-2.65zM733.57 356.74h2.65V405.5h-2.65zM736.22 356.7h2.65V405.5h-2.65zM738.88 356.66h2.65V405.5h-2.65zM741.53 356.61h2.65V405.5h-2.65zM744.19 356.57h2.65V405.5h-2.65zM746.84 356.53h2.65V405.5h-2.65zM749.5 356.49h2.65V405.5h-2.65zM752.15 356.45h2.65V405.5h-2.65zM754.81 356.41h2.65V405.5h-2.65zM757.46 356.37h2.65V405.5h-2.65zM760.12 356.33h2.65V405.5h-2.65zM762.77 356.29h2.65V405.5h-2.65zM765.43 356.25h2.65V405.5h-2.65zM768.08 356.21h2.65V405.5h-2.65zM770.74 356.16h2.65V405.5h-2.65zM773.39 356.12h2.65V405.5h-2.65zM776.05 356.05h2.65V405.5h-2.65zM778.7 355.98h2.65V405.5h-2.65zM781.36 355.9h2.65V405.5h-2.65zM784.01 355.83h2.65V405.5h-2.65zM786.67 355.76h2.65V405.5h-2.65zM789.32 355.69h2.65V405.5h-2.65zM791.98 355.61h2.65V405.5h-2.65zM794.63 355.54h2.65V405.5h-2.65zM797.29 355.47h2.65V405.5h-2.65zM799.94 355.4h2.65V405.5h-2.65zM802.6 355.32h2.65V405.5h-2.65zM805.25 355.25h2.65V405.5h-2.65zM807.91 355.18h2.65V405.5h-2.65zM810.56 355.1h2.65V405.5h-2.65zM813.22 355.03h2.65V405.5h-2.65zM815.87 354.96h2.65V405.5h-2.65zM818.53 354.89h2.65V405.5h-2.65zM821.18 354.81h2.65V405.5h-2.65zM823.84 354.74h2.65V405.5h-2.65zM826.49 354.67h2.65V405.5h-2.65zM829.15 354.6h2.65V405.5h-2.65zM831.8 354.52h2.65V405.5h-2.65zM834.46 354.45h2.65V405.5h-2.65zM837.11 354.38h2.65V405.5h-2.65zM839.77 354.3h2.65V405.5h-2.65zM842.42 354.23h2.65V405.5h-2.65zM845.08 354.16h2.65V405.5h-2.65zM847.73 354.09h2.65V405.5h-2.65zM850.39 354.01h2.65V405.5h-2.65zM853.04 353.94h2.65V405.5h-2.65zM855.7 353.85h2.65V405.5h-2.65zM858.35 353.77h2.65V405.5h-2.65zM861.01 353.68h2.65V405.5h-2.65zM863.66 353.59h2.65V405.5h-2.65zM866.32 353.5h2.65V405.5h-2.65zM868.97 353.42h2.65V405.5h-2.65zM871.63 353.33h2.65V405.5h-2.65zM874.28 353.24h2.65V405.5h-2.65zM876.94 353.16h2.65V405.5h-2.65zM879.59 353.07h2.65V405.5h-2.65zM882.25 352.98h2.65V405.5h-2.65zM884.9 352.89h2.65V405.5h-2.65zM887.55 352.81h2.65V405.5h-2.65zM890.21 352.72h2.65V405.5h-2.65zM892.86 352.63h2.65V405.5h-2.65zM895.52 352.54h2.65V405.5h-2.65zM898.17 352.46h2.65V405.5h-2.65zM900.83 352.37h2.65V405.5h-2.65zM903.48 352.28h2.65V405.5h-2.65zM906.14 352.19h2.65V405.5h-2.65zM908.79 352.11h2.65V405.5h-2.65zM911.45 352.02h2.65V405.5h-2.65zM914.1 351.93h2.65V405.5h-2.65zM916.76 351.85h2.65V405.5h-2.65zM919.41 351.76h2.65V405.5h-2.65zM922.07 351.67h2.65V405.5h-2.65zM924.72 351.58h2.65V405.5h-2.65zM927.38 351.49h2.65V405.5h-2.65zM930.03 351.39h2.65V405.5h-2.65zM932.69 351.3h2.65V405.5h-2.65zM935.34 351.21h2.65V405.5h-2.65zM938 351.12h2.65V405.5h-2.65zM940.65 351.03h2.65V405.5h-2.65zM943.31 350.94h2.65V405.5h-2.65zM945.96 350.85h2.65V405.5h-2.65zM948.62 350.76h2.65V405.5h-2.65zM951.27 350.67h2.65V405.5h-2.65zM953.93 350.58h2.65V405.5h-2.65zM956.58 350.49h2.65V405.5h-2.65zM959.24 350.39h2.65V405.5h-2.65zM961.89 350.32h2.65V405.5h-2.65zM964.55 350.25h2.65V405.5h-2.65zM967.2 350.18h2.65V405.5h-2.65zM969.86 350.1h2.65V405.5h-2.65zM972.51 350.03h2.65V405.5h-2.65zM975.17 349.96h2.65V405.5h-2.65zM977.82 349.89h2.65V405.5h-2.65zM980.48 349.81h2.65V405.5h-2.65zM983.13 349.74h2.65V405.5h-2.65zM985.79 349.67h2.65V405.5h-2.65zM988.44 349.59h2.65V405.5h-2.65zM991.1 349.52h2.65V405.5h-2.65zM993.75 349.45h2.65V405.5h-2.65zM996.41 349.38h2.65V405.5h-2.65zM999.06 349.3h2.65V405.5h-2.65zM1001.72 349.23h2.65V405.5h-2.65zM1004.37 349.16h2.65V405.5h-2.65zM1007.03 349.08h2.65V405.5h-2.65zM1009.68 349.01h2.65V405.5h-2.65zM1012.34 348.94h2.65V405.5h-2.65zM1014.99 348.87h2.65V405.5h-2.65zM1017.65 348.79h2.65V405.5h-2.65zM1020.3 348.72h2.65V405.5h-2.65zM1022.96 348.65h2.65V405.5h-2.65zM1025.61 348.58h2.65V405.5h-2.65zM1028.27 348.5h2.65V405.5h-2.65zM1030.92 348.43h2.65V405.5h-2.65zM1033.58 348.36h2.65V405.5h-2.65zM1036.23 348.28h2.65V405.5h-2.65zM1038.89 348.21h2.65V405.5h-2.65zM1041.54 348.09h2.65V405.5h-2.65zM1044.2 347.98h2.65V405.5h-2.65zM1046.85 347.86h2.65V405.5h-2.65zM1049.5 347.74h2.65V405.5h-2.65zM1052.16 347.62h2.65V405.5h-2.65zM1054.81 347.5h2.65V405.5h-2.65zM1057.47 347.38h2.65V405.5h-2.65zM1060.12 347.27h2.65V405.5h-2.65zM1062.78 347.15h2.65V405.5h-2.65zM1065.43 347.03h2.65V405.5h-2.65zM1068.09 346.91h2.65V405.5h-2.65zM1070.74 346.79h2.65V405.5h-2.65zM1073.4 346.68h2.65V405.5h-2.65zM1076.05 346.56h2.65V405.5h-2.65zM1078.71 346.44h2.65V405.5h-2.65zM1081.36 346.2h2.65V405.5h-2.65zM1084.02 345.96h2.65V405.5h-2.65zM1086.67 345.72h2.65V405.5h-2.65zM1089.33 345.48h2.65V405.5h-2.65zM1091.98 345.07h2.65V405.5h-2.65zM1094.64 344.67h2.65V405.5h-2.65zM1097.29 344.26h2.65V405.5h-2.65zM1099.95 343.85h2.65V405.5h-2.65zM1102.6 343.39h2.65V405.5h-2.65zM1105.26 342.94h2.65V405.5h-2.65zM1107.91 342.48h2.65V405.5h-2.65zM1110.57 341.12h2.65V405.5h-2.65zM1113.22 339.76h2.65V405.5h-2.65zM1115.88 339.16h2.65V405.5h-2.65zM1118.53 338.57h2.65V405.5h-2.65zM1121.19 337.98h2.65V405.5h-2.65zM1123.84 337.3h2.65V405.5h-2.65zM1126.5 336.62h2.65V405.5h-2.65zM1129.15 332.53h2.65V405.5h-2.65zM1131.81 197.63h2.65V405.5h-2.65zM1134.46 182.76h2.65V405.5h-2.65zM1137.12 180.44h2.65V405.5h-2.65zM1139.77 178.39h2.65V405.5h-2.65zM1142.43 176.35h2.65V405.5h-2.65zM1147.74 169.53h2.65V405.5h-2.65zM1150.39 166.94h2.65V405.5h-2.65zM1153.05 164.48h2.65V405.5h-2.65zM1155.7 163.39h2.65V405.5h-2.65zM1158.36 162.71h2.65V405.5h-2.65zM1161.01 161.89h2.65V405.5h-2.65zM1163.67 161.07h2.65V405.5h-2.65zM1166.32 160.25h2.65V405.5h-2.65zM1168.98 159.43h2.65V405.5h-2.65zM1171.63 158.62h2.65V405.5h-2.65zM1174.29 157.25h2.65V405.5h-2.65zM1176.94 155.89h2.65V405.5h-2.65zM1179.6 154.52h2.65V405.5h-2.65zM1182.25 152.48h2.65V405.5h-2.65zM1184.91 150.16h2.65V405.5h-2.65zM1187.56 148.39h2.65V405.5h-2.65zM1190.22 145.66h2.65V405.5h-2.65zM1192.87 142.52h2.65V405.5h-2.65zM1195.53 139.52h2.65V405.5h-2.65zM1198.18 135.7h2.65V405.5h-2.65zM1200.84 120.42h2.65V405.5h-2.65zM1203.49 111.15h2.65V405.5h-2.65zM1206.15 100.24h2.65V405.5h-2.65z"/>
<path fill="#e60009" d="M566.31 384.22h2.65V405.5h-2.65zM576.93 382.86h2.65V405.5h-2.65zM590.2 380.68h2.65V405.5h-2.65z"/>
<path fill="#0f96b6" d="M574.27 383.04h2.65V405.5h-2.65zM582.24 382.04h2.65V405.5h-2.65zM584.89 381.63h2.65V405.5h-2.65z"/>
<path fill="#42b247" d="M606.13 378.22h2.65V405.5h-2.65zM614.1 375.49h2.65V405.5h-2.65zM1145.08 173.76h2.65V405.5h-2.65z"/>
<path stroke="#2a64a0" stroke-width="0.35" fill="none" d="M563.65 397.77V405.5M566.31 387.81V405.5M568.96 385.22V405.5M571.62 384.4V405.5M574.27 384.22V405.5M576.93 384.04V405.5M579.58 383.86V405.5M582.24 383.45V405.5M584.89 383.04V405.5M587.55 382.63V405.5M590.2 382.22V405.5M592.86 381.68V405.5M595.51 381.13V405.5M598.17 380.72V405.5M600.82 380.31V405.5M603.48 379.9V405.5M606.13 379.56V405.5M608.79 379.22V405.5M611.44 378.54V405.5M614.1 377.86V405.5M616.75 376.49V405.5M619.41 369.81V405.5M622.06 366.67V405.5M624.72 363.94V405.5M627.37 361.49V405.5M630.03 360.26V405.5M632.68 359.99V405.5M635.34 359.71V405.5M637.99 359.64V405.5M640.65 359.57V405.5M643.3 359.49V405.5M645.96 359.42V405.5M648.61 359.35V405.5M651.27 359.27V405.5M653.92 359.2V405.5M656.58 359.13V405.5M659.23 359.05V405.5M661.89 358.98V405.5M664.54 358.91V405.5M667.2 358.83V405.5M669.85 358.76V405.5M672.51 358.72V405.5M675.16 358.68V405.5M677.82 358.64V405.5M680.47 358.6V405.5M683.13 358.56V405.5M685.78 358.51V405.5M688.44 358.47V405.5M691.09 358.43V405.5M693.75 358.39V405.5M696.4 358.35V405.5M699.06 358.31V405.5M701.71 358.27V405.5M704.37 358.23V405.5M707.02 358.19V405.5M709.68 358.15V405.5M712.33 358.11V405.5M714.99 358.06V405.5M717.64 358.02V405.5M720.3 357.98V405.5M722.95 357.94V405.5M725.6 357.9V405.5M728.26 357.86V405.5M730.91 357.82V405.5M733.57 357.78V405.5M736.22 357.74V405.5M738.88 357.7V405.5M741.53 357.66V405.5M744.19 357.61V405.5M746.84 357.57V405.5M749.5 357.53V405.5M752.15 357.49V405.5M754.81 357.45V405.5M757.46 357.41V405.5M760.12 357.37V405.5M762.77 357.33V405.5M765.43 357.29V405.5M768.08 357.25V405.5M770.74 357.21V405.5M773.39 357.16V405.5M776.05 357.12V405.5M778.7 357.05V405.5M781.36 356.98V405.5M784.01 356.9V405.5M786.67 356.83V405.5M789.32 356.76V405.5M791.98 356.69V405.5M794.63 356.61V405.5M797.29 356.54V405.5M799.94 356.47V405.5M802.6 356.4V405.5M805.25 356.32V405.5M807.91 356.25V405.5M810.56 356.18V405.5M813.22 356.1V405.5M815.87 356.03V405.5M818.53 355.96V405.5M821.18 355.89V405.5M823.84 355.81V405.5M826.49 355.74V405.5M829.15 355.67V405.5M831.8 355.6V405.5M834.46 355.52V405.5M837.11 355.45V405.5M839.77 355.38V405.5M842.42 355.3V405.5M845.08 355.23V405.5M847.73 355.16V405.5M850.39 355.09V405.5M853.04 355.01V405.5M855.7 354.94V405.5M858.35 354.85V405.5M861.01 354.77V405.5M863.66 354.68V405.5M866.32 354.59V405.5M868.97 354.5V405.5M871.63 354.42V405.5M874.28 354.33V405.5M876.94 354.24V405.5M879.59 354.16V405.5M882.25 354.07V405.5M884.9 353.98V405.5M887.55 353.89V405.5M890.21 353.81V405.5M892.86 353.72V405.5M895.52 353.63V405.5M898.17 353.54V405.5M900.83 353.46V405.5M903.48 353.37V405.5M906.14 353.28V405.5M908.79 353.19V405.5M911.45 353.11V405.5M914.1 353.02V405.5M916.76 352.93V405.5M919.41 352.85V405.5M922.07 352.76V405.5M924.72 352.67V405.5M927.38 352.58V405.5M930.03 352.49V405.5M932.69 352.39V405.5M935.34 352.3V405.5M938 352.21V405.5M940.65 352.12V405.5M943.31 352.03V405.5M945.96 351.94V405.5M948.62 351.85V405.5M951.27 351.76V405.5M953.93 351.67V405.5M956.58 351.58V405.5M959.24 351.49V405.5M961.89 351.39V405.5M964.55 351.32V405.5M967.2 351.25V405.5M969.86 351.18V405.5M972.51 351.1V405.5M975.17 351.03V405.5M977.82 350.96V405.5M980.48 350.89V405.5M983.13 350.81V405.5M985.79 350.74V405.5M988.44 350.67V405.5M991.1 350.59V405.5M993.75 350.52V405.5M996.41 350.45V405.5M999.06 350.38V405.5M1001.72 350.3V405.5M1004.37 350.23V405.5M1007.03 350.16V405.5M1009.68 350.08V405.5M1012.34 350.01V405.5M1014.99 349.94V405.5M1017.65 349.87V405.5M1020.3 349.79V405.5M1022.96 349.72V405.5M1025.61 349.65V405.5M1028.27 349.58V405.5M1030.92 349.5V405.5M1033.58 349.43V405.5M1036.23 349.36V405.5M1038.89 349.28V405.5M1041.54 349.21V405.5M1044.2 349.09V405.5M1046.85 348.98V405.5M1049.5 348.86V405.5M1052.16 348.74V405.5M1054.81 348.62V405.5M1057.47 348.5V405.5M1060.12 348.38V405.5M1062.78 348.27V405.5M1065.43 348.15V405.5M1068.09 348.03V405.5M1070.74 347.91V405.5M1073.4 347.79V405.5M1076.05 347.68V405.5M1078.71 347.56V405.5M1081.36 347.44V405.5M1084.02 347.2V405.5M1086.67 346.96V405.5M1089.33 346.72V405.5M1091.98 346.48V405.5M1094.64 346.07V405.5M1097.29 345.67V405.5M1099.95 345.26V405.5M1102.6 344.85V405.5M1105.26 344.39V405.5M1107.91 343.94V405.5M1110.57 343.48V405.5M1113.22 342.12V405.5M1115.88 340.76V405.5M1118.53 340.16V405.5M1121.19 339.57V405.5M1123.84 338.98V405.5M1126.5 338.3V405.5M1129.15 337.62V405.5M1131.81 333.53V405.5M1134.46 198.63V405.5M1137.12 183.76V405.5M1139.77 181.44V405.5M1142.43 179.39V405.5M1145.08 177.35V405.5M1147.74 174.76V405.5M1150.39 170.53V405.5M1153.05 167.94V405.5M1155.7 165.48V405.5M1158.36 164.39V405.5M1161.01 163.71V405.5M1163.67 162.89V405.5M1166.32 162.07V405.5M1168.98 161.25V405.5M1171.63 160.43V405.5M1174.29 159.62V405.5M1176.94 158.25V405.5M1179.6 156.89V405.5M1182.25 155.52V405.5M1184.91 153.48V405.5M1187.56 151.16V405.5M1190.22 149.39V405.5M1192.87 146.66V405.5M1195.53 143.52V405.5M1198.18 140.52V405.5M1200.84 136.7V405.5M1203.49 121.42V405.5M1206.15 112.15V405.5"/>
<line x1="561" y1="157.4" x2="1210" y2="157.4" stroke="#c4c4c4" stroke-width="1" stroke-dasharray="4.3 5"/>
<line x1="561" y1="355.5" x2="1210" y2="355.5" stroke="#c4c4c4" stroke-width="1" stroke-dasharray="4.3 5"/>
<line x1="1131.7" y1="100.2" x2="1131.7" y2="405.5" stroke="#000" stroke-width="1.2" />
<line x1="560.5" y1="100.2" x2="560.5" y2="406" stroke="#333" stroke-width="1.1" />
<line x1="560.5" y1="405.6" x2="1210" y2="405.6" stroke="#222" stroke-width="1.1" />
<line x1="557.3" y1="405.5" x2="560.5" y2="405.5" stroke="#333" stroke-width="1.1" />
<text x="555.2" y="410.6" font-size="14.5" text-anchor="end" >0</text>
<line x1="557.3" y1="337.3" x2="560.5" y2="337.3" stroke="#333" stroke-width="1.1" />
<text x="555.2" y="342.4" font-size="14.5" text-anchor="end" >5</text>
<line x1="557.3" y1="269.1" x2="560.5" y2="269.1" stroke="#333" stroke-width="1.1" />
<text x="555.2" y="274.2" font-size="14.5" text-anchor="end" >10</text>
<line x1="557.3" y1="200.9" x2="560.5" y2="200.9" stroke="#333" stroke-width="1.1" />
<text x="555.2" y="206" font-size="14.5" text-anchor="end" >15</text>
<line x1="557.3" y1="132.7" x2="560.5" y2="132.7" stroke="#333" stroke-width="1.1" />
<text x="555.2" y="137.8" font-size="14.5" text-anchor="end" >20</text>
<text x="0" y="0" font-size="16" text-anchor="middle" textLength="211" lengthAdjust="spacingAndGlyphs" transform="translate(531.3 252) rotate(-90)">Depth (X) of total clean reads</text>
<path fill="#6a6a6a" d="M561.73 406.1h1.2v3.4h-1.2zM564.38 406.1h1.2v3.4h-1.2zM567.04 406.1h1.2v3.4h-1.2zM569.69 406.1h1.2v3.4h-1.2zM572.35 406.1h1.2v3.4h-1.2zM575 406.1h1.2v3.4h-1.2zM577.66 406.1h1.2v3.4h-1.2zM580.31 406.1h1.2v3.4h-1.2zM582.97 406.1h1.2v3.4h-1.2zM585.62 406.1h1.2v3.4h-1.2zM588.28 406.1h1.2v3.4h-1.2zM590.93 406.1h1.2v3.4h-1.2zM593.59 406.1h1.2v3.4h-1.2zM596.24 406.1h1.2v3.4h-1.2zM598.9 406.1h1.2v3.4h-1.2zM601.55 406.1h1.2v3.4h-1.2zM604.21 406.1h1.2v3.4h-1.2zM606.86 406.1h1.2v3.4h-1.2zM609.52 406.1h1.2v3.4h-1.2zM612.17 406.1h1.2v3.4h-1.2zM614.83 406.1h1.2v3.4h-1.2zM617.48 406.1h1.2v3.4h-1.2zM620.14 406.1h1.2v3.4h-1.2zM622.79 406.1h1.2v3.4h-1.2zM625.45 406.1h1.2v3.4h-1.2zM628.1 406.1h1.2v3.4h-1.2zM630.76 406.1h1.2v3.4h-1.2zM633.41 406.1h1.2v3.4h-1.2zM636.07 406.1h1.2v3.4h-1.2zM638.72 406.1h1.2v3.4h-1.2zM641.38 406.1h1.2v3.4h-1.2zM644.03 406.1h1.2v3.4h-1.2zM646.68 406.1h1.2v3.4h-1.2zM649.34 406.1h1.2v3.4h-1.2zM651.99 406.1h1.2v3.4h-1.2zM654.65 406.1h1.2v3.4h-1.2zM657.3 406.1h1.2v3.4h-1.2zM659.96 406.1h1.2v3.4h-1.2zM662.61 406.1h1.2v3.4h-1.2zM665.27 406.1h1.2v3.4h-1.2zM667.92 406.1h1.2v3.4h-1.2zM670.58 406.1h1.2v3.4h-1.2zM673.23 406.1h1.2v3.4h-1.2zM675.89 406.1h1.2v3.4h-1.2zM678.54 406.1h1.2v3.4h-1.2zM681.2 406.1h1.2v3.4h-1.2zM683.85 406.1h1.2v3.4h-1.2zM686.51 406.1h1.2v3.4h-1.2zM689.16 406.1h1.2v3.4h-1.2zM691.82 406.1h1.2v3.4h-1.2zM694.47 406.1h1.2v3.4h-1.2zM697.13 406.1h1.2v3.4h-1.2zM699.78 406.1h1.2v3.4h-1.2zM702.44 406.1h1.2v3.4h-1.2zM705.09 406.1h1.2v3.4h-1.2zM707.75 406.1h1.2v3.4h-1.2zM710.4 406.1h1.2v3.4h-1.2zM713.06 406.1h1.2v3.4h-1.2zM715.71 406.1h1.2v3.4h-1.2zM718.37 406.1h1.2v3.4h-1.2zM721.02 406.1h1.2v3.4h-1.2zM723.68 406.1h1.2v3.4h-1.2zM726.33 406.1h1.2v3.4h-1.2zM728.99 406.1h1.2v3.4h-1.2zM731.64 406.1h1.2v3.4h-1.2zM734.3 406.1h1.2v3.4h-1.2zM736.95 406.1h1.2v3.4h-1.2zM739.61 406.1h1.2v3.4h-1.2zM742.26 406.1h1.2v3.4h-1.2zM744.92 406.1h1.2v3.4h-1.2zM747.57 406.1h1.2v3.4h-1.2zM750.23 406.1h1.2v3.4h-1.2zM752.88 406.1h1.2v3.4h-1.2zM755.54 406.1h1.2v3.4h-1.2zM758.19 406.1h1.2v3.4h-1.2zM760.85 406.1h1.2v3.4h-1.2zM763.5 406.1h1.2v3.4h-1.2zM766.16 406.1h1.2v3.4h-1.2zM768.81 406.1h1.2v3.4h-1.2zM771.47 406.1h1.2v3.4h-1.2zM774.12 406.1h1.2v3.4h-1.2zM776.78 406.1h1.2v3.4h-1.2zM779.43 406.1h1.2v3.4h-1.2zM782.09 406.1h1.2v3.4h-1.2zM784.74 406.1h1.2v3.4h-1.2zM787.4 406.1h1.2v3.4h-1.2zM790.05 406.1h1.2v3.4h-1.2zM792.71 406.1h1.2v3.4h-1.2zM795.36 406.1h1.2v3.4h-1.2zM798.02 406.1h1.2v3.4h-1.2zM800.67 406.1h1.2v3.4h-1.2zM803.32 406.1h1.2v3.4h-1.2zM805.98 406.1h1.2v3.4h-1.2zM808.63 406.1h1.2v3.4h-1.2zM811.29 406.1h1.2v3.4h-1.2zM813.94 406.1h1.2v3.4h-1.2zM816.6 406.1h1.2v3.4h-1.2zM819.25 406.1h1.2v3.4h-1.2zM821.91 406.1h1.2v3.4h-1.2zM824.56 406.1h1.2v3.4h-1.2zM827.22 406.1h1.2v3.4h-1.2zM829.87 406.1h1.2v3.4h-1.2zM832.53 406.1h1.2v3.4h-1.2zM835.18 406.1h1.2v3.4h-1.2zM837.84 406.1h1.2v3.4h-1.2zM840.49 406.1h1.2v3.4h-1.2zM843.15 406.1h1.2v3.4h-1.2zM845.8 406.1h1.2v3.4h-1.2zM848.46 406.1h1.2v3.4h-1.2zM851.11 406.1h1.2v3.4h-1.2zM853.77 406.1h1.2v3.4h-1.2zM856.42 406.1h1.2v3.4h-1.2zM859.08 406.1h1.2v3.4h-1.2zM861.73 406.1h1.2v3.4h-1.2zM864.39 406.1h1.2v3.4h-1.2zM867.04 406.1h1.2v3.4h-1.2zM869.7 406.1h1.2v3.4h-1.2zM872.35 406.1h1.2v3.4h-1.2zM875.01 406.1h1.2v3.4h-1.2zM877.66 406.1h1.2v3.4h-1.2zM880.32 406.1h1.2v3.4h-1.2zM882.97 406.1h1.2v3.4h-1.2zM885.63 406.1h1.2v3.4h-1.2zM888.28 406.1h1.2v3.4h-1.2zM890.94 406.1h1.2v3.4h-1.2zM893.59 406.1h1.2v3.4h-1.2zM896.25 406.1h1.2v3.4h-1.2zM898.9 406.1h1.2v3.4h-1.2zM901.56 406.1h1.2v3.4h-1.2zM904.21 406.1h1.2v3.4h-1.2zM906.87 406.1h1.2v3.4h-1.2zM909.52 406.1h1.2v3.4h-1.2zM912.18 406.1h1.2v3.4h-1.2zM914.83 406.1h1.2v3.4h-1.2zM917.49 406.1h1.2v3.4h-1.2zM920.14 406.1h1.2v3.4h-1.2zM922.8 406.1h1.2v3.4h-1.2zM925.45 406.1h1.2v3.4h-1.2zM928.11 406.1h1.2v3.4h-1.2zM930.76 406.1h1.2v3.4h-1.2zM933.42 406.1h1.2v3.4h-1.2zM936.07 406.1h1.2v3.4h-1.2zM938.73 406.1h1.2v3.4h-1.2zM941.38 406.1h1.2v3.4h-1.2zM944.04 406.1h1.2v3.4h-1.2zM946.69 406.1h1.2v3.4h-1.2zM949.35 406.1h1.2v3.4h-1.2zM952 406.1h1.2v3.4h-1.2zM954.66 406.1h1.2v3.4h-1.2zM957.31 406.1h1.2v3.4h-1.2zM959.97 406.1h1.2v3.4h-1.2zM962.62 406.1h1.2v3.4h-1.2zM965.27 406.1h1.2v3.4h-1.2zM967.93 406.1h1.2v3.4h-1.2zM970.58 406.1h1.2v3.4h-1.2zM973.24 406.1h1.2v3.4h-1.2zM975.89 406.1h1.2v3.4h-1.2zM978.55 406.1h1.2v3.4h-1.2zM981.2 406.1h1.2v3.4h-1.2zM983.86 406.1h1.2v3.4h-1.2zM986.51 406.1h1.2v3.4h-1.2zM989.17 406.1h1.2v3.4h-1.2zM991.82 406.1h1.2v3.4h-1.2zM994.48 406.1h1.2v3.4h-1.2zM997.13 406.1h1.2v3.4h-1.2zM999.79 406.1h1.2v3.4h-1.2zM1002.44 406.1h1.2v3.4h-1.2zM1005.1 406.1h1.2v3.4h-1.2zM1007.75 406.1h1.2v3.4h-1.2zM1010.41 406.1h1.2v3.4h-1.2zM1013.06 406.1h1.2v3.4h-1.2zM1015.72 406.1h1.2v3.4h-1.2zM1018.37 406.1h1.2v3.4h-1.2zM1021.03 406.1h1.2v3.4h-1.2zM1023.68 406.1h1.2v3.4h-1.2zM1026.34 406.1h1.2v3.4h-1.2zM1028.99 406.1h1.2v3.4h-1.2zM1031.65 406.1h1.2v3.4h-1.2zM1034.3 406.1h1.2v3.4h-1.2zM1036.96 406.1h1.2v3.4h-1.2zM1039.61 406.1h1.2v3.4h-1.2zM1042.27 406.1h1.2v3.4h-1.2zM1044.92 406.1h1.2v3.4h-1.2zM1047.58 406.1h1.2v3.4h-1.2zM1050.23 406.1h1.2v3.4h-1.2zM1052.89 406.1h1.2v3.4h-1.2zM1055.54 406.1h1.2v3.4h-1.2zM1058.2 406.1h1.2v3.4h-1.2zM1060.85 406.1h1.2v3.4h-1.2zM1063.51 406.1h1.2v3.4h-1.2zM1066.16 406.1h1.2v3.4h-1.2zM1068.82 406.1h1.2v3.4h-1.2zM1071.47 406.1h1.2v3.4h-1.2zM1074.13 406.1h1.2v3.4h-1.2zM1076.78 406.1h1.2v3.4h-1.2zM1079.44 406.1h1.2v3.4h-1.2zM1082.09 406.1h1.2v3.4h-1.2zM1084.75 406.1h1.2v3.4h-1.2zM1087.4 406.1h1.2v3.4h-1.2zM1090.06 406.1h1.2v3.4h-1.2zM1092.71 406.1h1.2v3.4h-1.2zM1095.37 406.1h1.2v3.4h-1.2zM1098.02 406.1h1.2v3.4h-1.2zM1100.68 406.1h1.2v3.4h-1.2zM1103.33 406.1h1.2v3.4h-1.2zM1105.99 406.1h1.2v3.4h-1.2zM1108.64 406.1h1.2v3.4h-1.2zM1111.3 406.1h1.2v3.4h-1.2zM1113.95 406.1h1.2v3.4h-1.2zM1116.61 406.1h1.2v3.4h-1.2zM1119.26 406.1h1.2v3.4h-1.2zM1121.92 406.1h1.2v3.4h-1.2zM1124.57 406.1h1.2v3.4h-1.2zM1127.22 406.1h1.2v3.4h-1.2zM1129.88 406.1h1.2v3.4h-1.2zM1132.53 406.1h1.2v3.4h-1.2zM1135.19 406.1h1.2v3.4h-1.2zM1137.84 406.1h1.2v3.4h-1.2zM1140.5 406.1h1.2v3.4h-1.2zM1143.15 406.1h1.2v3.4h-1.2zM1145.81 406.1h1.2v3.4h-1.2zM1148.46 406.1h1.2v3.4h-1.2zM1151.12 406.1h1.2v3.4h-1.2zM1153.77 406.1h1.2v3.4h-1.2zM1156.43 406.1h1.2v3.4h-1.2zM1159.08 406.1h1.2v3.4h-1.2zM1161.74 406.1h1.2v3.4h-1.2zM1164.39 406.1h1.2v3.4h-1.2zM1167.05 406.1h1.2v3.4h-1.2zM1169.7 406.1h1.2v3.4h-1.2zM1172.36 406.1h1.2v3.4h-1.2zM1175.01 406.1h1.2v3.4h-1.2zM1177.67 406.1h1.2v3.4h-1.2zM1180.32 406.1h1.2v3.4h-1.2zM1182.98 406.1h1.2v3.4h-1.2zM1185.63 406.1h1.2v3.4h-1.2zM1188.29 406.1h1.2v3.4h-1.2zM1190.94 406.1h1.2v3.4h-1.2zM1193.6 406.1h1.2v3.4h-1.2zM1196.25 406.1h1.2v3.4h-1.2zM1198.91 406.1h1.2v3.4h-1.2zM1201.56 406.1h1.2v3.4h-1.2zM1204.22 406.1h1.2v3.4h-1.2zM1206.87 406.1h1.2v3.4h-1.2z"/>
<path fill="#2b2735" d="M561 411.2h649v1h-649zM561 413.95h649v1h-649zM561 416.7h649v1h-649zM561 411.2h1.1v6.5h-1.1zM562.41 411.2h1.1v6.5h-1.1zM563.76 411.2h1.1v6.5h-1.1zM565.31 411.2h1.1v6.5h-1.1zM566.97 411.2h1.1v6.5h-1.1zM568.57 411.2h1.1v6.5h-1.1zM569.93 411.2h1.1v6.5h-1.1zM571.81 411.2h1.1v6.5h-1.1zM573.27 411.2h1.1v6.5h-1.1zM575.23 411.2h1.1v6.5h-1.1zM579.65 411.2h1.1v6.5h-1.1zM581.03 411.2h1.1v6.5h-1.1zM582.9 411.2h1.1v6.5h-1.1zM584.61 411.2h1.1v6.5h-1.1zM586.17 411.2h1.1v6.5h-1.1zM587.51 411.2h1.1v6.5h-1.1zM588.96 411.2h1.1v6.5h-1.1zM590.55 411.2h1.1v6.5h-1.1zM592.26 411.2h1.1v6.5h-1.1zM593.77 411.2h1.1v6.5h-1.1zM595.56 411.2h1.1v6.5h-1.1zM597.27 411.2h1.1v6.5h-1.1zM599.18 411.2h1.1v6.5h-1.1zM602.06 411.2h1.1v6.5h-1.1zM603.89 411.2h1.1v6.5h-1.1zM605.54 411.2h1.1v6.5h-1.1zM607.3 411.2h1.1v6.5h-1.1zM610.52 411.2h1.1v6.5h-1.1zM612.24 411.2h1.1v6.5h-1.1zM613.86 411.2h1.1v6.5h-1.1zM615.82 411.2h1.1v6.5h-1.1zM617.59 411.2h1.1v6.5h-1.1zM619.38 411.2h1.1v6.5h-1.1zM621.37 411.2h1.1v6.5h-1.1zM622.87 411.2h1.1v6.5h-1.1zM624.64 411.2h1.1v6.5h-1.1zM626.26 411.2h1.1v6.5h-1.1zM627.64 411.2h1.1v6.5h-1.1zM629.48 411.2h1.1v6.5h-1.1zM630.95 411.2h1.1v6.5h-1.1zM632.86 411.2h1.1v6.5h-1.1zM634.48 411.2h1.1v6.5h-1.1zM636.4 411.2h1.1v6.5h-1.1zM638.3 411.2h1.1v6.5h-1.1zM639.89 411.2h1.1v6.5h-1.1zM643.22 411.2h1.1v6.5h-1.1zM644.68 411.2h1.1v6.5h-1.1zM646.32 411.2h1.1v6.5h-1.1zM647.8 411.2h1.1v6.5h-1.1zM649.4 411.2h1.1v6.5h-1.1zM652.88 411.2h1.1v6.5h-1.1zM654.61 411.2h1.1v6.5h-1.1zM659.65 411.2h1.1v6.5h-1.1zM661.23 411.2h1.1v6.5h-1.1zM662.97 411.2h1.1v6.5h-1.1zM664.32 411.2h1.1v6.5h-1.1zM665.74 411.2h1.1v6.5h-1.1zM667.07 411.2h1.1v6.5h-1.1zM668.48 411.2h1.1v6.5h-1.1zM670.03 411.2h1.1v6.5h-1.1zM671.94 411.2h1.1v6.5h-1.1zM673.35 411.2h1.1v6.5h-1.1zM674.89 411.2h1.1v6.5h-1.1zM676.28 411.2h1.1v6.5h-1.1zM678.27 411.2h1.1v6.5h-1.1zM679.91 411.2h1.1v6.5h-1.1zM681.28 411.2h1.1v6.5h-1.1zM682.77 411.2h1.1v6.5h-1.1zM684.18 411.2h1.1v6.5h-1.1zM686.15 411.2h1.1v6.5h-1.1zM687.55 411.2h1.1v6.5h-1.1zM688.87 411.2h1.1v6.5h-1.1zM692.64 411.2h1.1v6.5h-1.1zM694.2 411.2h1.1v6.5h-1.1zM696.04 411.2h1.1v6.5h-1.1zM697.88 411.2h1.1v6.5h-1.1zM699.34 411.2h1.1v6.5h-1.1zM703.19 411.2h1.1v6.5h-1.1zM705.01 411.2h1.1v6.5h-1.1zM706.67 411.2h1.1v6.5h-1.1zM707.99 411.2h1.1v6.5h-1.1zM709.49 411.2h1.1v6.5h-1.1zM716.43 411.2h1.1v6.5h-1.1zM717.89 411.2h1.1v6.5h-1.1zM719.34 411.2h1.1v6.5h-1.1zM721.27 411.2h1.1v6.5h-1.1zM722.9 411.2h1.1v6.5h-1.1zM724.76 411.2h1.1v6.5h-1.1zM728.37 411.2h1.1v6.5h-1.1zM730.01 411.2h1.1v6.5h-1.1zM731.86 411.2h1.1v6.5h-1.1zM735.3 411.2h1.1v6.5h-1.1zM737.26 411.2h1.1v6.5h-1.1zM738.68 411.2h1.1v6.5h-1.1zM741.95 411.2h1.1v6.5h-1.1zM745.59 411.2h1.1v6.5h-1.1zM747.27 411.2h1.1v6.5h-1.1zM750.34 411.2h1.1v6.5h-1.1zM752.29 411.2h1.1v6.5h-1.1zM754.2 411.2h1.1v6.5h-1.1zM755.65 411.2h1.1v6.5h-1.1zM757.15 411.2h1.1v6.5h-1.1zM758.86 411.2h1.1v6.5h-1.1zM760.46 411.2h1.1v6.5h-1.1zM762.39 411.2h1.1v6.5h-1.1zM764.01 411.2h1.1v6.5h-1.1zM765.95 411.2h1.1v6.5h-1.1zM767.89 411.2h1.1v6.5h-1.1zM769.56 411.2h1.1v6.5h-1.1zM770.87 411.2h1.1v6.5h-1.1zM772.3 411.2h1.1v6.5h-1.1zM774.16 411.2h1.1v6.5h-1.1zM775.79 411.2h1.1v6.5h-1.1zM777.48 411.2h1.1v6.5h-1.1zM779.15 411.2h1.1v6.5h-1.1zM781 411.2h1.1v6.5h-1.1zM782.69 411.2h1.1v6.5h-1.1zM784.18 411.2h1.1v6.5h-1.1zM785.84 411.2h1.1v6.5h-1.1zM789.28 411.2h1.1v6.5h-1.1zM790.93 411.2h1.1v6.5h-1.1zM792.72 411.2h1.1v6.5h-1.1zM794.39 411.2h1.1v6.5h-1.1zM796.35 411.2h1.1v6.5h-1.1zM799.75 411.2h1.1v6.5h-1.1zM801.71 411.2h1.1v6.5h-1.1zM803.1 411.2h1.1v6.5h-1.1zM804.71 411.2h1.1v6.5h-1.1zM806.18 411.2h1.1v6.5h-1.1zM807.95 411.2h1.1v6.5h-1.1zM809.88 411.2h1.1v6.5h-1.1zM811.68 411.2h1.1v6.5h-1.1zM815.05 411.2h1.1v6.5h-1.1zM817.02 411.2h1.1v6.5h-1.1zM820.55 411.2h1.1v6.5h-1.1zM822.15 411.2h1.1v6.5h-1.1zM823.68 411.2h1.1v6.5h-1.1zM825.21 411.2h1.1v6.5h-1.1zM826.52 411.2h1.1v6.5h-1.1zM828.13 411.2h1.1v6.5h-1.1zM829.66 411.2h1.1v6.5h-1.1zM831.32 411.2h1.1v6.5h-1.1zM833.31 411.2h1.1v6.5h-1.1zM835.29 411.2h1.1v6.5h-1.1zM836.78 411.2h1.1v6.5h-1.1zM838.62 411.2h1.1v6.5h-1.1zM840.01 411.2h1.1v6.5h-1.1zM841.95 411.2h1.1v6.5h-1.1zM843.43 411.2h1.1v6.5h-1.1zM845.37 411.2h1.1v6.5h-1.1zM847.16 411.2h1.1v6.5h-1.1zM848.5 411.2h1.1v6.5h-1.1zM850.1 411.2h1.1v6.5h-1.1zM852.06 411.2h1.1v6.5h-1.1zM853.92 411.2h1.1v6.5h-1.1zM855.82 411.2h1.1v6.5h-1.1zM857.72 411.2h1.1v6.5h-1.1zM859.26 411.2h1.1v6.5h-1.1zM861.21 411.2h1.1v6.5h-1.1zM862.6 411.2h1.1v6.5h-1.1zM864.07 411.2h1.1v6.5h-1.1zM865.48 411.2h1.1v6.5h-1.1zM866.92 411.2h1.1v6.5h-1.1zM868.43 411.2h1.1v6.5h-1.1zM869.94 411.2h1.1v6.5h-1.1zM871.36 411.2h1.1v6.5h-1.1zM872.68 411.2h1.1v6.5h-1.1zM873.99 411.2h1.1v6.5h-1.1zM875.67 411.2h1.1v6.5h-1.1zM878.68 411.2h1.1v6.5h-1.1zM880.28 411.2h1.1v6.5h-1.1zM882.17 411.2h1.1v6.5h-1.1zM883.82 411.2h1.1v6.5h-1.1zM885.81 411.2h1.1v6.5h-1.1zM887.69 411.2h1.1v6.5h-1.1zM889.44 411.2h1.1v6.5h-1.1zM890.98 411.2h1.1v6.5h-1.1zM892.37 411.2h1.1v6.5h-1.1zM894.19 411.2h1.1v6.5h-1.1zM895.6 411.2h1.1v6.5h-1.1zM899.26 411.2h1.1v6.5h-1.1zM900.73 411.2h1.1v6.5h-1.1zM902.35 411.2h1.1v6.5h-1.1zM903.96 411.2h1.1v6.5h-1.1zM907.62 411.2h1.1v6.5h-1.1zM909.6 411.2h1.1v6.5h-1.1zM911.15 411.2h1.1v6.5h-1.1zM912.71 411.2h1.1v6.5h-1.1zM914.36 411.2h1.1v6.5h-1.1zM916.02 411.2h1.1v6.5h-1.1zM917.5 411.2h1.1v6.5h-1.1zM919.08 411.2h1.1v6.5h-1.1zM920.4 411.2h1.1v6.5h-1.1zM921.86 411.2h1.1v6.5h-1.1zM923.53 411.2h1.1v6.5h-1.1zM925.29 411.2h1.1v6.5h-1.1zM927.21 411.2h1.1v6.5h-1.1zM930.14 411.2h1.1v6.5h-1.1zM931.89 411.2h1.1v6.5h-1.1zM935.51 411.2h1.1v6.5h-1.1zM937.38 411.2h1.1v6.5h-1.1zM939.05 411.2h1.1v6.5h-1.1zM940.93 411.2h1.1v6.5h-1.1zM942.81 411.2h1.1v6.5h-1.1zM944.74 411.2h1.1v6.5h-1.1zM946.52 411.2h1.1v6.5h-1.1zM947.84 411.2h1.1v6.5h-1.1zM949.4 411.2h1.1v6.5h-1.1zM951.28 411.2h1.1v6.5h-1.1zM953.02 411.2h1.1v6.5h-1.1zM954.8 411.2h1.1v6.5h-1.1zM956.1 411.2h1.1v6.5h-1.1zM957.92 411.2h1.1v6.5h-1.1zM959.6 411.2h1.1v6.5h-1.1zM960.95 411.2h1.1v6.5h-1.1zM962.42 411.2h1.1v6.5h-1.1zM963.91 411.2h1.1v6.5h-1.1zM965.35 411.2h1.1v6.5h-1.1zM967.33 411.2h1.1v6.5h-1.1zM968.9 411.2h1.1v6.5h-1.1zM970.68 411.2h1.1v6.5h-1.1zM972.41 411.2h1.1v6.5h-1.1zM973.77 411.2h1.1v6.5h-1.1zM975.24 411.2h1.1v6.5h-1.1zM976.76 411.2h1.1v6.5h-1.1zM978.07 411.2h1.1v6.5h-1.1zM979.55 411.2h1.1v6.5h-1.1zM981.34 411.2h1.1v6.5h-1.1zM982.84 411.2h1.1v6.5h-1.1zM984.47 411.2h1.1v6.5h-1.1zM989.25 411.2h1.1v6.5h-1.1zM990.87 411.2h1.1v6.5h-1.1zM992.84 411.2h1.1v6.5h-1.1zM994.33 411.2h1.1v6.5h-1.1zM996.29 411.2h1.1v6.5h-1.1zM998 411.2h1.1v6.5h-1.1zM1001.06 411.2h1.1v6.5h-1.1zM1004.51 411.2h1.1v6.5h-1.1zM1006.44 411.2h1.1v6.5h-1.1zM1007.76 411.2h1.1v6.5h-1.1zM1009.4 411.2h1.1v6.5h-1.1zM1010.91 411.2h1.1v6.5h-1.1zM1012.45 411.2h1.1v6.5h-1.1zM1014.34 411.2h1.1v6.5h-1.1zM1016.17 411.2h1.1v6.5h-1.1zM1020.85 411.2h1.1v6.5h-1.1zM1024.14 411.2h1.1v6.5h-1.1zM1025.74 411.2h1.1v6.5h-1.1zM1027.07 411.2h1.1v6.5h-1.1zM1028.96 411.2h1.1v6.5h-1.1zM1030.91 411.2h1.1v6.5h-1.1zM1032.4 411.2h1.1v6.5h-1.1zM1033.83 411.2h1.1v6.5h-1.1zM1037.67 411.2h1.1v6.5h-1.1zM1041.29 411.2h1.1v6.5h-1.1zM1042.63 411.2h1.1v6.5h-1.1zM1044.24 411.2h1.1v6.5h-1.1zM1045.99 411.2h1.1v6.5h-1.1zM1048.72 411.2h1.1v6.5h-1.1zM1050.26 411.2h1.1v6.5h-1.1zM1053.56 411.2h1.1v6.5h-1.1zM1055.07 411.2h1.1v6.5h-1.1zM1056.64 411.2h1.1v6.5h-1.1zM1058.06 411.2h1.1v6.5h-1.1zM1059.99 411.2h1.1v6.5h-1.1zM1063.44 411.2h1.1v6.5h-1.1zM1064.84 411.2h1.1v6.5h-1.1zM1066.2 411.2h1.1v6.5h-1.1zM1067.57 411.2h1.1v6.5h-1.1zM1069.05 411.2h1.1v6.5h-1.1zM1070.97 411.2h1.1v6.5h-1.1zM1072.56 411.2h1.1v6.5h-1.1zM1074.23 411.2h1.1v6.5h-1.1zM1075.76 411.2h1.1v6.5h-1.1zM1078.64 411.2h1.1v6.5h-1.1zM1081.84 411.2h1.1v6.5h-1.1zM1083.31 411.2h1.1v6.5h-1.1zM1088.13 411.2h1.1v6.5h-1.1zM1091.56 411.2h1.1v6.5h-1.1zM1092.86 411.2h1.1v6.5h-1.1zM1094.81 411.2h1.1v6.5h-1.1zM1098.18 411.2h1.1v6.5h-1.1zM1099.59 411.2h1.1v6.5h-1.1zM1103.17 411.2h1.1v6.5h-1.1zM1105.01 411.2h1.1v6.5h-1.1zM1106.69 411.2h1.1v6.5h-1.1zM1108.54 411.2h1.1v6.5h-1.1zM1110.48 411.2h1.1v6.5h-1.1zM1112 411.2h1.1v6.5h-1.1zM1113.47 411.2h1.1v6.5h-1.1zM1115.26 411.2h1.1v6.5h-1.1zM1116.61 411.2h1.1v6.5h-1.1zM1118.32 411.2h1.1v6.5h-1.1zM1119.78 411.2h1.1v6.5h-1.1zM1121.08 411.2h1.1v6.5h-1.1zM1126.09 411.2h1.1v6.5h-1.1zM1129.36 411.2h1.1v6.5h-1.1zM1130.67 411.2h1.1v6.5h-1.1zM1132.44 411.2h1.1v6.5h-1.1zM1133.92 411.2h1.1v6.5h-1.1zM1135.87 411.2h1.1v6.5h-1.1zM1137.2 411.2h1.1v6.5h-1.1zM1138.79 411.2h1.1v6.5h-1.1zM1140.23 411.2h1.1v6.5h-1.1zM1142.05 411.2h1.1v6.5h-1.1zM1145.01 411.2h1.1v6.5h-1.1zM1146.47 411.2h1.1v6.5h-1.1zM1148.3 411.2h1.1v6.5h-1.1zM1150.27 411.2h1.1v6.5h-1.1zM1151.7 411.2h1.1v6.5h-1.1zM1153.29 411.2h1.1v6.5h-1.1zM1155.26 411.2h1.1v6.5h-1.1zM1156.83 411.2h1.1v6.5h-1.1zM1158.81 411.2h1.1v6.5h-1.1zM1160.15 411.2h1.1v6.5h-1.1zM1163.64 411.2h1.1v6.5h-1.1zM1167.17 411.2h1.1v6.5h-1.1zM1169.13 411.2h1.1v6.5h-1.1zM1170.45 411.2h1.1v6.5h-1.1zM1172.01 411.2h1.1v6.5h-1.1zM1173.55 411.2h1.1v6.5h-1.1zM1174.85 411.2h1.1v6.5h-1.1zM1179.23 411.2h1.1v6.5h-1.1zM1181.1 411.2h1.1v6.5h-1.1zM1182.7 411.2h1.1v6.5h-1.1zM1184.33 411.2h1.1v6.5h-1.1zM1186.28 411.2h1.1v6.5h-1.1zM1189.15 411.2h1.1v6.5h-1.1zM1191.02 411.2h1.1v6.5h-1.1zM1192.35 411.2h1.1v6.5h-1.1zM1195.18 411.2h1.1v6.5h-1.1zM1197.1 411.2h1.1v6.5h-1.1zM1200.33 411.2h1.1v6.5h-1.1zM1202.13 411.2h1.1v6.5h-1.1zM1203.62 411.2h1.1v6.5h-1.1zM1208.51 411.2h1.1v6.5h-1.1zM561 417.8h13.65v1h-13.65zM561 419.6h13.65v1h-13.65zM561 421.4h13.65v1h-13.65zM562.57 417.8h1.1v4.6h-1.1zM564.17 417.8h1.1v4.6h-1.1zM566.12 417.8h1.1v4.6h-1.1zM567.98 417.8h1.1v4.6h-1.1zM569.86 417.8h1.1v4.6h-1.1zM571.58 417.8h1.1v4.6h-1.1zM573.11 417.8h1.1v4.6h-1.1zM575.27 417.8h7.58v1h-7.58zM575.27 419.6h7.58v1h-7.58zM575.27 421.4h7.58v1h-7.58zM575.27 417.8h1.1v4.6h-1.1zM576.75 417.8h1.1v4.6h-1.1zM578.07 417.8h1.1v4.6h-1.1zM583.48 417.8h6.77v1h-6.77zM583.48 419.6h6.77v1h-6.77zM583.48 421.4h6.77v1h-6.77zM583.48 417.8h1.1v4.6h-1.1zM585.27 417.8h1.1v4.6h-1.1zM586.74 417.8h1.1v4.6h-1.1zM588.47 417.8h1.1v4.6h-1.1zM592.02 417.8h11.32v1h-11.32zM592.02 419.6h11.32v1h-11.32zM592.02 421.4h11.32v1h-11.32zM592.02 417.8h1.1v4.6h-1.1zM593.91 417.8h1.1v4.6h-1.1zM595.6 417.8h1.1v4.6h-1.1zM597.42 417.8h1.1v4.6h-1.1zM598.89 417.8h1.1v4.6h-1.1zM600.3 417.8h1.1v4.6h-1.1zM602.01 417.8h1.1v4.6h-1.1zM605.32 417.8h10.06v1h-10.06zM605.32 419.6h10.06v1h-10.06zM605.32 421.4h10.06v1h-10.06zM605.32 417.8h1.1v4.6h-1.1zM607.19 417.8h1.1v4.6h-1.1zM609.18 417.8h1.1v4.6h-1.1zM610.82 417.8h1.1v4.6h-1.1zM614.03 417.8h1.1v4.6h-1.1zM616 418h13.78v1h-13.78zM616 419.3h13.78v1h-13.78zM616 420.6h13.78v1h-13.78zM616 418h1.1v3.6h-1.1zM617.95 418h1.1v3.6h-1.1zM619.86 418h1.1v3.6h-1.1zM623.3 418h1.1v3.6h-1.1zM626.47 418h1.1v3.6h-1.1zM627.87 418h1.1v3.6h-1.1zM629.35 418h1.1v3.6h-1.1zM633.61 418h6.09v1h-6.09zM633.61 419.3h6.09v1h-6.09zM633.61 420.6h6.09v1h-6.09zM633.61 418h1.1v3.6h-1.1zM635.38 418h1.1v3.6h-1.1zM636.9 418h1.1v3.6h-1.1zM638.76 418h1.1v3.6h-1.1zM642.86 418h9.16v1h-9.16zM642.86 419.3h9.16v1h-9.16zM642.86 420.6h9.16v1h-9.16zM642.86 418h1.1v3.6h-1.1zM644.6 418h1.1v3.6h-1.1zM647.61 418h1.1v3.6h-1.1zM650.64 418h1.1v3.6h-1.1zM657.23 418h12.91v1h-12.91zM657.23 419.3h12.91v1h-12.91zM657.23 420.6h12.91v1h-12.91zM658.78 418h1.1v3.6h-1.1zM660.59 418h1.1v3.6h-1.1zM666.7 418h1.1v3.6h-1.1zM668.01 418h1.1v3.6h-1.1zM676.68 418h8.97v1h-8.97zM676.68 419.3h8.97v1h-8.97zM676.68 420.6h8.97v1h-8.97zM676.68 418h1.1v3.6h-1.1zM678.09 418h1.1v3.6h-1.1zM681.13 418h1.1v3.6h-1.1zM684.43 418h1.1v3.6h-1.1zM694.49 418h9.86v1h-9.86zM694.49 419.3h9.86v1h-9.86zM694.49 420.6h9.86v1h-9.86zM694.49 418h1.1v3.6h-1.1zM696.44 418h1.1v3.6h-1.1zM700.25 418h1.1v3.6h-1.1zM702.1 418h1.1v3.6h-1.1zM708.04 418h7.75v1h-7.75zM708.04 419.3h7.75v1h-7.75zM708.04 420.6h7.75v1h-7.75zM708.04 418h1.1v3.6h-1.1zM709.71 418h1.1v3.6h-1.1zM711.09 418h1.1v3.6h-1.1zM714.23 418h1.1v3.6h-1.1zM718.54 418h12.71v1h-12.71zM718.54 419.3h12.71v1h-12.71zM718.54 420.6h12.71v1h-12.71zM718.54 418h1.1v3.6h-1.1zM720.26 418h1.1v3.6h-1.1zM721.99 418h1.1v3.6h-1.1zM723.59 418h1.1v3.6h-1.1zM726.8 418h1.1v3.6h-1.1zM729.76 418h1.1v3.6h-1.1zM738.81 418h9.67v1h-9.67zM738.81 419.3h9.67v1h-9.67zM738.81 420.6h9.67v1h-9.67zM738.81 418h1.1v3.6h-1.1zM740.44 418h1.1v3.6h-1.1zM741.83 418h1.1v3.6h-1.1zM743.2 418h1.1v3.6h-1.1zM744.85 418h1.1v3.6h-1.1zM746.6 418h1.1v3.6h-1.1zM751.33 418h10.03v1h-10.03zM751.33 419.3h10.03v1h-10.03zM751.33 420.6h10.03v1h-10.03zM751.33 418h1.1v3.6h-1.1zM753.3 418h1.1v3.6h-1.1zM764.93 418h12.31v1h-12.31zM764.93 419.3h12.31v1h-12.31zM764.93 420.6h12.31v1h-12.31zM766.28 418h1.1v3.6h-1.1zM768.11 418h1.1v3.6h-1.1zM770.04 418h1.1v3.6h-1.1zM771.91 418h1.1v3.6h-1.1zM775.01 418h1.1v3.6h-1.1zM776.66 418h1.1v3.6h-1.1zM780.93 418h7.29v1h-7.29zM780.93 419.3h7.29v1h-7.29zM780.93 420.6h7.29v1h-7.29zM785.5 418h1.1v3.6h-1.1zM787.25 418h1.1v3.6h-1.1zM794.32 418h10.64v1h-10.64zM794.32 419.3h10.64v1h-10.64zM794.32 420.6h10.64v1h-10.64zM797.44 418h1.1v3.6h-1.1zM799.3 418h1.1v3.6h-1.1zM801.29 418h1.1v3.6h-1.1zM804.45 418h1.1v3.6h-1.1zM807.78 418h12.56v1h-12.56zM807.78 419.3h12.56v1h-12.56zM807.78 420.6h12.56v1h-12.56zM807.78 418h1.1v3.6h-1.1zM812.75 418h1.1v3.6h-1.1zM814.08 418h1.1v3.6h-1.1zM815.81 418h1.1v3.6h-1.1zM818.86 418h1.1v3.6h-1.1zM822.98 418h6.02v1h-6.02zM822.98 419.3h6.02v1h-6.02zM822.98 420.6h6.02v1h-6.02zM822.98 418h1.1v3.6h-1.1zM824.36 418h1.1v3.6h-1.1zM825.81 418h1.1v3.6h-1.1zM827.53 418h1.1v3.6h-1.1zM834.59 418h7.08v1h-7.08zM834.59 419.3h7.08v1h-7.08zM834.59 420.6h7.08v1h-7.08zM836.06 418h1.1v3.6h-1.1zM840.92 418h1.1v3.6h-1.1zM848.36 418h10.5v1h-10.5zM848.36 419.3h10.5v1h-10.5zM848.36 420.6h10.5v1h-10.5zM848.36 418h1.1v3.6h-1.1zM850.11 418h1.1v3.6h-1.1zM854.87 418h1.1v3.6h-1.1zM856.46 418h1.1v3.6h-1.1zM864.94 418h13.53v1h-13.53zM864.94 419.3h13.53v1h-13.53zM864.94 420.6h13.53v1h-13.53zM864.94 418h1.1v3.6h-1.1zM869.9 418h1.1v3.6h-1.1zM871.42 418h1.1v3.6h-1.1zM877.73 418h1.1v3.6h-1.1zM883.91 418h7.81v1h-7.81zM883.91 419.3h7.81v1h-7.81zM883.91 420.6h7.81v1h-7.81zM883.91 418h1.1v3.6h-1.1zM885.37 418h1.1v3.6h-1.1zM890.49 418h1.1v3.6h-1.1zM897.05 418h12.31v1h-12.31zM897.05 419.3h12.31v1h-12.31zM897.05 420.6h12.31v1h-12.31zM897.05 418h1.1v3.6h-1.1zM900.51 418h1.1v3.6h-1.1zM902.43 418h1.1v3.6h-1.1zM903.91 418h1.1v3.6h-1.1zM907.55 418h1.1v3.6h-1.1zM913.99 418h7.91v1h-7.91zM913.99 419.3h7.91v1h-7.91zM913.99 420.6h7.91v1h-7.91zM929.12 418h10.56v1h-10.56zM929.12 419.3h10.56v1h-10.56zM929.12 420.6h10.56v1h-10.56zM929.12 418h1.1v3.6h-1.1zM933.32 418h1.1v3.6h-1.1zM936.24 418h1.1v3.6h-1.1zM937.56 418h1.1v3.6h-1.1zM946.97 418h6.53v1h-6.53zM946.97 419.3h6.53v1h-6.53zM946.97 420.6h6.53v1h-6.53zM946.97 418h1.1v3.6h-1.1zM962.13 418h6.86v1h-6.86zM962.13 419.3h6.86v1h-6.86zM962.13 420.6h6.86v1h-6.86zM962.13 418h1.1v3.6h-1.1zM963.51 418h1.1v3.6h-1.1zM968.89 418h1.1v3.6h-1.1zM972.13 418h12.06v1h-12.06zM972.13 419.3h12.06v1h-12.06zM972.13 420.6h12.06v1h-12.06zM972.13 418h1.1v3.6h-1.1zM973.65 418h1.1v3.6h-1.1zM974.96 418h1.1v3.6h-1.1zM978.02 418h1.1v3.6h-1.1zM979.99 418h1.1v3.6h-1.1zM983.21 418h1.1v3.6h-1.1zM991.71 418h8.77v1h-8.77zM991.71 419.3h8.77v1h-8.77zM991.71 420.6h8.77v1h-8.77zM993.39 418h1.1v3.6h-1.1zM995.29 418h1.1v3.6h-1.1zM997.16 418h1.1v3.6h-1.1zM998.46 418h1.1v3.6h-1.1zM1006.17 418h9.93v1h-9.93zM1006.17 419.3h9.93v1h-9.93zM1006.17 420.6h9.93v1h-9.93zM1007.6 418h1.1v3.6h-1.1zM1012.13 418h1.1v3.6h-1.1zM1013.92 418h1.1v3.6h-1.1zM1023.73 418h11.58v1h-11.58zM1023.73 419.3h11.58v1h-11.58zM1023.73 420.6h11.58v1h-11.58zM1025.47 418h1.1v3.6h-1.1zM1027.05 418h1.1v3.6h-1.1zM1028.97 418h1.1v3.6h-1.1zM1030.89 418h1.1v3.6h-1.1zM1032.34 418h1.1v3.6h-1.1zM1034.27 418h1.1v3.6h-1.1zM1043.55 418h7.87v1h-7.87zM1043.55 419.3h7.87v1h-7.87zM1043.55 420.6h7.87v1h-7.87zM1043.55 418h1.1v3.6h-1.1zM1048.59 418h1.1v3.6h-1.1zM1058.74 418h7.36v1h-7.36zM1058.74 419.3h7.36v1h-7.36zM1058.74 420.6h7.36v1h-7.36zM1058.74 418h1.1v3.6h-1.1zM1060.58 418h1.1v3.6h-1.1zM1061.97 418h1.1v3.6h-1.1zM1063.89 418h1.1v3.6h-1.1zM1065.32 418h1.1v3.6h-1.1zM1074.08 418h7.24v1h-7.24zM1074.08 419.3h7.24v1h-7.24zM1074.08 420.6h7.24v1h-7.24zM1074.08 418h1.1v3.6h-1.1zM1075.55 418h1.1v3.6h-1.1zM1077.22 418h1.1v3.6h-1.1zM1078.75 418h1.1v3.6h-1.1zM1090.07 418h6.81v1h-6.81zM1090.07 419.3h6.81v1h-6.81zM1090.07 420.6h6.81v1h-6.81zM1090.07 418h1.1v3.6h-1.1zM1093.88 418h1.1v3.6h-1.1zM1096.69 418h1.1v3.6h-1.1zM1099.61 418h9.19v1h-9.19zM1099.61 419.3h9.19v1h-9.19zM1099.61 420.6h9.19v1h-9.19zM1101.39 418h1.1v3.6h-1.1zM1103.14 418h1.1v3.6h-1.1zM1108.05 418h1.1v3.6h-1.1zM1116.17 418h9.37v1h-9.37zM1116.17 419.3h9.37v1h-9.37zM1116.17 420.6h9.37v1h-9.37zM1116.17 418h1.1v3.6h-1.1zM1123.46 418h1.1v3.6h-1.1zM1130.77 418h0.23v1h-0.23zM1130.77 419.3h0.23v1h-0.23zM1130.77 420.6h0.23v1h-0.23zM561 422.4h9.39v1h-9.39zM561 424.7h9.39v1h-9.39zM561 427h9.39v1h-9.39zM561 422.4h1.1v5.6h-1.1zM562.74 422.4h1.1v5.6h-1.1zM565.94 422.4h1.1v5.6h-1.1zM567.78 422.4h1.1v5.6h-1.1zM573.02 422.4h7.29v1h-7.29zM573.02 424.7h7.29v1h-7.29zM573.02 427h7.29v1h-7.29zM573.02 422.4h1.1v5.6h-1.1zM574.98 422.4h1.1v5.6h-1.1zM576.35 422.4h1.1v5.6h-1.1zM578.03 422.4h1.1v5.6h-1.1zM579.69 422.4h1.1v5.6h-1.1zM582.87 422.4h9.28v1h-9.28zM582.87 424.7h9.28v1h-9.28zM582.87 427h9.28v1h-9.28zM584.32 422.4h1.1v5.6h-1.1zM585.89 422.4h1.1v5.6h-1.1zM588.83 422.4h1.1v5.6h-1.1zM590.32 422.4h1.1v5.6h-1.1zM591.63 422.4h1.1v5.6h-1.1zM595.25 422.4h8.82v1h-8.82zM595.25 424.7h8.82v1h-8.82zM595.25 427h8.82v1h-8.82zM595.25 422.4h1.1v5.6h-1.1zM596.71 422.4h1.1v5.6h-1.1zM598.66 422.4h1.1v5.6h-1.1zM600.12 422.4h1.1v5.6h-1.1zM601.69 422.4h1.1v5.6h-1.1zM603.08 422.4h1.1v5.6h-1.1zM606.97 422.4h9.03v1h-9.03zM606.97 424.7h9.03v1h-9.03zM606.97 427h9.03v1h-9.03zM606.97 422.4h1.1v5.6h-1.1zM609.97 422.4h1.1v5.6h-1.1zM611.85 422.4h1.1v5.6h-1.1zM613.47 422.4h1.1v5.6h-1.1zM615.16 422.4h1.1v5.6h-1.1zM1131 417.6h12.81v1h-12.81zM1131 420.7h12.81v1h-12.81zM1131 423.8h12.81v1h-12.81zM1131 417.6h1.1v7.2h-1.1zM1132.56 417.6h1.1v7.2h-1.1zM1134.16 417.6h1.1v7.2h-1.1zM1135.46 417.6h1.1v7.2h-1.1zM1136.96 417.6h1.1v7.2h-1.1zM1138.47 417.6h1.1v7.2h-1.1zM1140.07 417.6h1.1v7.2h-1.1zM1141.83 417.6h1.1v7.2h-1.1zM1145.1 417.6h13.25v1h-13.25zM1145.1 420.7h13.25v1h-13.25zM1145.1 423.8h13.25v1h-13.25zM1145.1 417.6h1.1v7.2h-1.1zM1148.24 417.6h1.1v7.2h-1.1zM1151.31 417.6h1.1v7.2h-1.1zM1152.68 417.6h1.1v7.2h-1.1zM1154.14 417.6h1.1v7.2h-1.1zM1155.68 417.6h1.1v7.2h-1.1zM1157.62 417.6h1.1v7.2h-1.1zM1159.71 417.6h10.87v1h-10.87zM1159.71 420.7h10.87v1h-10.87zM1159.71 423.8h10.87v1h-10.87zM1159.71 417.6h1.1v7.2h-1.1zM1164.77 417.6h1.1v7.2h-1.1zM1166.44 417.6h1.1v7.2h-1.1zM1169.74 417.6h1.1v7.2h-1.1zM1171.05 417.6h9.94v1h-9.94zM1171.05 420.7h9.94v1h-9.94zM1171.05 423.8h9.94v1h-9.94zM1171.05 417.6h1.1v7.2h-1.1zM1172.68 417.6h1.1v7.2h-1.1zM1174.32 417.6h1.1v7.2h-1.1zM1178.93 417.6h1.1v7.2h-1.1zM1181.8 417.6h13.68v1h-13.68zM1181.8 420.7h13.68v1h-13.68zM1181.8 423.8h13.68v1h-13.68zM1181.8 417.6h1.1v7.2h-1.1zM1183.54 417.6h1.1v7.2h-1.1zM1184.86 417.6h1.1v7.2h-1.1zM1189.83 417.6h1.1v7.2h-1.1zM1191.76 417.6h1.1v7.2h-1.1zM1193.56 417.6h1.1v7.2h-1.1zM1196.35 417.6h10.2v1h-10.2zM1196.35 420.7h10.2v1h-10.2zM1196.35 423.8h10.2v1h-10.2zM1196.35 417.6h1.1v7.2h-1.1zM1197.8 417.6h1.1v7.2h-1.1zM1199.39 417.6h1.1v7.2h-1.1zM1201.27 417.6h1.1v7.2h-1.1zM1203.15 417.6h1.1v7.2h-1.1zM1204.8 417.6h1.1v7.2h-1.1zM1207.8 417.6h2.2v1h-2.2zM1207.8 420.7h2.2v1h-2.2zM1207.8 423.8h2.2v1h-2.2zM1207.8 417.6h1.1v7.2h-1.1zM1209.31 417.6h1.1v7.2h-1.1zM1133.5 425h2.6v5.5h-2.6zM1138.5 425h2.6v5.5h-2.6zM1146 425h2.6v5.5h-2.6zM1163 425h2.6v5.5h-2.6zM1176 425h2.6v5.5h-2.6zM1189 425h2.6v5.5h-2.6zM1197 425h2.6v5.5h-2.6zM1204 425h2.6v5.5h-2.6zM614.8 430h2v6.5h-2zM1146 432h2v5h-2z"/>
<text x="1169.2" y="128.2" font-size="11.5" text-anchor="middle" textLength="56" lengthAdjust="spacingAndGlyphs" >High depth</text>
<text x="1168.6" y="145" font-size="11.5" text-anchor="middle" >(<tspan font-style="italic">n</tspan> = 29)</text>
<text x="845" y="333" font-size="11.5" text-anchor="middle" textLength="53.3" lengthAdjust="spacingAndGlyphs" >Low depth</text>
<text x="847" y="350" font-size="11.5" text-anchor="middle" >(<tspan font-style="italic">n</tspan> = 215)</text>
<rect x="662.3" y="166.9" width="364" height="2.2" fill="#000" />
<rect x="662.3" y="207.1" width="364" height="2.2" fill="#000" />
<rect x="662.3" y="287.7" width="364" height="2.2" fill="#000" />
<text x="680.6" y="195.6" font-size="14.3" text-anchor="middle" textLength="31.4" lengthAdjust="spacingAndGlyphs" >Year</text>
<text x="744" y="185.6" font-size="14.3" text-anchor="middle" textLength="27.6" lengthAdjust="spacingAndGlyphs" >Wild</text>
<text x="905.7" y="185.6" font-size="14.3" text-anchor="middle" textLength="52" lengthAdjust="spacingAndGlyphs" >Captive</text>
<text x="986.7" y="185.6" font-size="14.3" text-anchor="middle" textLength="17" lengthAdjust="spacingAndGlyphs" >ZJ</text>
<text x="817.2" y="185.6" font-size="14.3" >F</text>
<text x="826" y="190" font-size="9.5" >1</text>
<text x="723.2" y="205.9" font-size="14.3" text-anchor="middle" textLength="31" lengthAdjust="spacingAndGlyphs" >High</text>
<text x="763.7" y="205.9" font-size="14.3" text-anchor="middle" textLength="27.2" lengthAdjust="spacingAndGlyphs" >Low</text>
<text x="804.2" y="205.9" font-size="14.3" text-anchor="middle" textLength="31" lengthAdjust="spacingAndGlyphs" >High</text>
<text x="845.2" y="205.9" font-size="14.3" text-anchor="middle" textLength="27.2" lengthAdjust="spacingAndGlyphs" >Low</text>
<text x="885.3" y="205.9" font-size="14.3" text-anchor="middle" textLength="31" lengthAdjust="spacingAndGlyphs" >High</text>
<text x="926.1" y="205.9" font-size="14.3" text-anchor="middle" textLength="27.2" lengthAdjust="spacingAndGlyphs" >Low</text>
<text x="966.2" y="205.9" font-size="14.3" text-anchor="middle" textLength="31" lengthAdjust="spacingAndGlyphs" >High</text>
<text x="1007" y="205.9" font-size="14.3" text-anchor="middle" textLength="27.2" lengthAdjust="spacingAndGlyphs" >Low</text>
<text x="683" y="225.7" font-size="14.3" text-anchor="middle" textLength="32" lengthAdjust="spacingAndGlyphs" >1999</text>
<text x="723.2" y="225.7" font-size="14.3" text-anchor="middle" >0</text>
<text x="763.7" y="225.7" font-size="14.3" text-anchor="middle" >1</text>
<text x="804.2" y="225.7" font-size="14.3" text-anchor="middle" >0</text>
<text x="845.2" y="225.7" font-size="14.3" text-anchor="middle" >3</text>
<text x="885.3" y="225.7" font-size="14.3" text-anchor="middle" >0</text>
<text x="926.1" y="225.7" font-size="14.3" text-anchor="middle" >0</text>
<text x="966.2" y="225.7" font-size="14.3" text-anchor="middle" >0</text>
<text x="1007" y="225.7" font-size="14.3" text-anchor="middle" >3</text>
<text x="683" y="245.7" font-size="14.3" text-anchor="middle" textLength="32" lengthAdjust="spacingAndGlyphs" >2015</text>
<text x="723.2" y="245.7" font-size="14.3" text-anchor="middle" >1</text>
<text x="763.7" y="245.7" font-size="14.3" text-anchor="middle" >1</text>
<text x="804.2" y="245.7" font-size="14.3" text-anchor="middle" >0</text>
<text x="845.2" y="245.7" font-size="14.3" text-anchor="middle" >0</text>
<text x="885.3" y="245.7" font-size="14.3" text-anchor="middle" >28</text>
<text x="926.1" y="245.7" font-size="14.3" text-anchor="middle" >23</text>
<text x="966.2" y="245.7" font-size="14.3" text-anchor="middle" >0</text>
<text x="1007" y="245.7" font-size="14.3" text-anchor="middle" >0</text>
<text x="683" y="265.7" font-size="14.3" text-anchor="middle" textLength="32" lengthAdjust="spacingAndGlyphs" >2019</text>
<text x="723.2" y="265.7" font-size="14.3" text-anchor="middle" >0</text>
<text x="763.7" y="265.7" font-size="14.3" text-anchor="middle" >0</text>
<text x="804.2" y="265.7" font-size="14.3" text-anchor="middle" >0</text>
<text x="845.2" y="265.7" font-size="14.3" text-anchor="middle" >0</text>
<text x="885.3" y="265.7" font-size="14.3" text-anchor="middle" >0</text>
<text x="926.1" y="265.7" font-size="14.3" text-anchor="middle" >0</text>
<text x="966.2" y="265.7" font-size="14.3" text-anchor="middle" >0</text>
<text x="1007" y="265.7" font-size="14.3" text-anchor="middle" >0</text>
<text x="683" y="285.7" font-size="14.3" text-anchor="middle" textLength="32" lengthAdjust="spacingAndGlyphs" >2020</text>
<text x="723.2" y="285.7" font-size="14.3" text-anchor="middle" >0</text>
<text x="763.7" y="285.7" font-size="14.3" text-anchor="middle" >0</text>
<text x="804.2" y="285.7" font-size="14.3" text-anchor="middle" >0</text>
<text x="845.2" y="285.7" font-size="14.3" text-anchor="middle" >0</text>
<text x="885.3" y="285.7" font-size="14.3" text-anchor="middle" >0</text>
<text x="926.1" y="285.7" font-size="14.3" text-anchor="middle" >184</text>
<text x="966.2" y="285.7" font-size="14.3" text-anchor="middle" >0</text>
<text x="1007" y="285.7" font-size="14.3" text-anchor="middle" >0</text>
<line x1="142.4" y1="524.2" x2="142.4" y2="806.2" stroke="#222" stroke-width="1.3" />
<line x1="141.8" y1="805.6" x2="277.7" y2="805.6" stroke="#222" stroke-width="1.3" />
<line x1="138" y1="537.3" x2="142.4" y2="537.3" stroke="#222" stroke-width="1.2" />
<text x="133.6" y="543" font-size="16" text-anchor="end" textLength="62.5" lengthAdjust="spacingAndGlyphs" >0.00023</text>
<line x1="138" y1="622.5" x2="142.4" y2="622.5" stroke="#222" stroke-width="1.2" />
<text x="133.6" y="628.2" font-size="16" text-anchor="end" textLength="62.5" lengthAdjust="spacingAndGlyphs" >0.00019</text>
<line x1="138" y1="707.9" x2="142.4" y2="707.9" stroke="#222" stroke-width="1.2" />
<text x="133.6" y="713.6" font-size="16" text-anchor="end" textLength="62.5" lengthAdjust="spacingAndGlyphs" >0.00015</text>
<line x1="138" y1="793.2" x2="142.4" y2="793.2" stroke="#222" stroke-width="1.2" />
<text x="133.6" y="798.9" font-size="16" text-anchor="end" textLength="62.5" lengthAdjust="spacingAndGlyphs" >0.00011</text>
<line x1="179.1" y1="805.6" x2="179.1" y2="810.2" stroke="#222" stroke-width="1.2" />
<line x1="241" y1="805.6" x2="241" y2="810.2" stroke="#222" stroke-width="1.2" />
<text x="179" y="825.3" font-size="15.4" text-anchor="middle" textLength="58" lengthAdjust="spacingAndGlyphs" >Captive</text>
<text x="240.6" y="825.3" font-size="15.4" text-anchor="middle" textLength="32.6" lengthAdjust="spacingAndGlyphs" >Wild</text>
<text x="179.5" y="847.7" font-size="15.4" text-anchor="middle" textLength="58.5" lengthAdjust="spacingAndGlyphs" >(<tspan font-style="italic">n</tspan> = 28)</text>
<text x="245.4" y="847.7" font-size="15.4" text-anchor="middle" textLength="48.5" lengthAdjust="spacingAndGlyphs" >(<tspan font-style="italic">n</tspan> = 1)</text>
<text x="0" y="0" font-size="19.6" text-anchor="middle" textLength="268" lengthAdjust="spacingAndGlyphs" transform="translate(60.4 665) rotate(-90)">Genome−wide heterozygosity</text>
<rect x="157.3" y="601.7" width="43.7" height="40.5" fill="none" stroke="#1c2f5c" stroke-width="1.3"/>
<line x1="157.3" y1="623.7" x2="201" y2="623.7" stroke="#1c2f5c" stroke-width="2.4" />
<line x1="179.1" y1="549.3" x2="179.1" y2="601.7" stroke="#1c2f5c" stroke-width="1.3" />
<line x1="179.1" y1="642.2" x2="179.1" y2="698.7" stroke="#1c2f5c" stroke-width="1.3" />
<g fill="#1c2f5c"><circle cx="173.5" cy="549.3" r="1.9"/><circle cx="186.3" cy="555.8" r="1.9"/><circle cx="176.6" cy="563.5" r="1.9"/><circle cx="188.4" cy="581.4" r="1.9"/><circle cx="190" cy="583.3" r="1.9"/><circle cx="167.8" cy="592" r="1.9"/><circle cx="179.8" cy="593" r="1.9"/><circle cx="188.8" cy="604.8" r="1.9"/><circle cx="180.2" cy="613.7" r="1.9"/><circle cx="177.8" cy="617.8" r="1.9"/><circle cx="178.2" cy="619.8" r="1.9"/><circle cx="183.5" cy="620.4" r="1.9"/><circle cx="190.4" cy="618" r="1.9"/><circle cx="188.8" cy="626" r="1.9"/><circle cx="167.8" cy="629" r="1.9"/><circle cx="172.9" cy="628.2" r="1.9"/><circle cx="175" cy="630.2" r="1.9"/><circle cx="190.4" cy="636.1" r="1.9"/><circle cx="188.8" cy="640.8" r="1.9"/><circle cx="183.7" cy="646.5" r="1.9"/><circle cx="182.3" cy="655.6" r="1.9"/><circle cx="191.2" cy="657" r="1.9"/><circle cx="182.7" cy="667.8" r="1.9"/><circle cx="184.1" cy="687.1" r="1.9"/><circle cx="180.2" cy="692.6" r="1.9"/><circle cx="181.7" cy="698.7" r="1.9"/><circle cx="170" cy="624.5" r="1.9"/><circle cx="185" cy="623" r="1.9"/></g>
<line x1="219.3" y1="770.6" x2="262.8" y2="770.6" stroke="#1fab9c" stroke-width="2.8" />
<circle cx="241" cy="770.6" r="1.6" fill="#168f82"/>
<text x="361.6" y="533.3" font-size="12.4" text-anchor="end" textLength="28.2" lengthAdjust="spacingAndGlyphs" >LG01</text>
<text x="361.6" y="553.6" font-size="12.4" text-anchor="end" textLength="28.2" lengthAdjust="spacingAndGlyphs" >LG02</text>
<text x="361.6" y="573.8" font-size="12.4" text-anchor="end" textLength="28.2" lengthAdjust="spacingAndGlyphs" >LG03</text>
<text x="361.6" y="594.1" font-size="12.4" text-anchor="end" textLength="28.2" lengthAdjust="spacingAndGlyphs" >LG04</text>
<text x="361.6" y="614.3" font-size="12.4" text-anchor="end" textLength="28.2" lengthAdjust="spacingAndGlyphs" >LG05</text>
<text x="361.6" y="634.6" font-size="12.4" text-anchor="end" textLength="28.2" lengthAdjust="spacingAndGlyphs" >LG06</text>
<text x="361.6" y="654.9" font-size="12.4" text-anchor="end" textLength="28.2" lengthAdjust="spacingAndGlyphs" >LG07</text>
<text x="361.6" y="675.1" font-size="12.4" text-anchor="end" textLength="28.2" lengthAdjust="spacingAndGlyphs" >LG08</text>
<text x="361.6" y="695.4" font-size="12.4" text-anchor="end" textLength="28.2" lengthAdjust="spacingAndGlyphs" >LG09</text>
<text x="361.6" y="715.6" font-size="12.4" text-anchor="end" textLength="28.2" lengthAdjust="spacingAndGlyphs" >LG10</text>
<text x="361.6" y="735.9" font-size="12.4" text-anchor="end" textLength="28.2" lengthAdjust="spacingAndGlyphs" >LG11</text>
<text x="361.6" y="756.2" font-size="12.4" text-anchor="end" textLength="28.2" lengthAdjust="spacingAndGlyphs" >LG12</text>
<text x="361.6" y="776.4" font-size="12.4" text-anchor="end" textLength="28.2" lengthAdjust="spacingAndGlyphs" >LG13</text>
<text x="361.6" y="796.7" font-size="12.4" text-anchor="end" textLength="28.2" lengthAdjust="spacingAndGlyphs" >LG14</text>
<text x="361.6" y="816.9" font-size="12.4" text-anchor="end" textLength="28.2" lengthAdjust="spacingAndGlyphs" >LG15</text>
<text x="361.6" y="837.2" font-size="12.4" text-anchor="end" textLength="28.2" lengthAdjust="spacingAndGlyphs" >LG16</text>
<text x="453.5" y="516.2" font-size="17" fill="#1aa69c" textLength="149.6" lengthAdjust="spacingAndGlyphs" >Wild: B96_changle</text>
<line x1="362.6" y1="842.5" x2="737.7" y2="842.5" stroke="#222" stroke-width="1.1" />
<line x1="437.3" y1="842.5" x2="437.3" y2="845.9" stroke="#222" stroke-width="1.1" />
<line x1="511.8" y1="842.5" x2="511.8" y2="845.9" stroke="#222" stroke-width="1.1" />
<line x1="586.4" y1="842.5" x2="586.4" y2="845.9" stroke="#222" stroke-width="1.1" />
<line x1="660.7" y1="842.5" x2="660.7" y2="845.9" stroke="#222" stroke-width="1.1" />
<line x1="735.2" y1="842.5" x2="735.2" y2="845.9" stroke="#222" stroke-width="1.1" />
<text x="836.6" y="533.3" font-size="12.4" text-anchor="end" textLength="28.2" lengthAdjust="spacingAndGlyphs" >LG01</text>
<text x="836.6" y="553.5" font-size="12.4" text-anchor="end" textLength="28.2" lengthAdjust="spacingAndGlyphs" >LG02</text>
<text x="836.6" y="573.6" font-size="12.4" text-anchor="end" textLength="28.2" lengthAdjust="spacingAndGlyphs" >LG03</text>
<text x="836.6" y="593.8" font-size="12.4" text-anchor="end" textLength="28.2" lengthAdjust="spacingAndGlyphs" >LG04</text>
<text x="836.6" y="614" font-size="12.4" text-anchor="end" textLength="28.2" lengthAdjust="spacingAndGlyphs" >LG05</text>
<text x="836.6" y="634.2" font-size="12.4" text-anchor="end" textLength="28.2" lengthAdjust="spacingAndGlyphs" >LG06</text>
<text x="836.6" y="654.3" font-size="12.4" text-anchor="end" textLength="28.2" lengthAdjust="spacingAndGlyphs" >LG07</text>
<text x="836.6" y="674.5" font-size="12.4" text-anchor="end" textLength="28.2" lengthAdjust="spacingAndGlyphs" >LG08</text>
<text x="836.6" y="694.7" font-size="12.4" text-anchor="end" textLength="28.2" lengthAdjust="spacingAndGlyphs" >LG09</text>
<text x="836.6" y="714.8" font-size="12.4" text-anchor="end" textLength="28.2" lengthAdjust="spacingAndGlyphs" >LG10</text>
<text x="836.6" y="735" font-size="12.4" text-anchor="end" textLength="28.2" lengthAdjust="spacingAndGlyphs" >LG11</text>
<text x="836.6" y="755.2" font-size="12.4" text-anchor="end" textLength="28.2" lengthAdjust="spacingAndGlyphs" >LG12</text>
<text x="836.6" y="775.3" font-size="12.4" text-anchor="end" textLength="28.2" lengthAdjust="spacingAndGlyphs" >LG13</text>
<text x="836.6" y="795.5" font-size="12.4" text-anchor="end" textLength="28.2" lengthAdjust="spacingAndGlyphs" >LG14</text>
<text x="836.6" y="815.7" font-size="12.4" text-anchor="end" textLength="28.2" lengthAdjust="spacingAndGlyphs" >LG15</text>
<text x="836.6" y="835.9" font-size="12.4" text-anchor="end" textLength="28.2" lengthAdjust="spacingAndGlyphs" >LG16</text>
<text x="941.2" y="516.2" font-size="17" fill="#1f4e8c" textLength="143" lengthAdjust="spacingAndGlyphs" >Captive: B4_14_6</text>
<line x1="838" y1="840.9" x2="1212.7" y2="840.9" stroke="#222" stroke-width="1.1" />
<line x1="912.4" y1="840.9" x2="912.4" y2="844.3" stroke="#222" stroke-width="1.1" />
<line x1="986.9" y1="840.9" x2="986.9" y2="844.3" stroke="#222" stroke-width="1.1" />
<line x1="1061.6" y1="840.9" x2="1061.6" y2="844.3" stroke="#222" stroke-width="1.1" />
<line x1="1135.6" y1="840.9" x2="1135.6" y2="844.3" stroke="#222" stroke-width="1.1" />
<line x1="1210.2" y1="840.9" x2="1210.2" y2="844.3" stroke="#222" stroke-width="1.1" />
<text x="438.7" y="856.4" font-size="11.6" text-anchor="middle" textLength="33.2" lengthAdjust="spacingAndGlyphs" >50 Mb</text>
<text x="513.2" y="856.4" font-size="11.6" text-anchor="middle" textLength="38.6" lengthAdjust="spacingAndGlyphs" >100 Mb</text>
<text x="587.4" y="856.4" font-size="11.6" text-anchor="middle" textLength="39.3" lengthAdjust="spacingAndGlyphs" >150 Mb</text>
<text x="661.3" y="856.4" font-size="11.6" text-anchor="middle" textLength="40" lengthAdjust="spacingAndGlyphs" >200 Mb</text>
<text x="735.8" y="856.4" font-size="11.6" text-anchor="middle" textLength="38.9" lengthAdjust="spacingAndGlyphs" >250 Mb</text>
<text x="913.7" y="855.8" font-size="11.6" text-anchor="middle" textLength="33.2" lengthAdjust="spacingAndGlyphs" >50 Mb</text>
<text x="988.5" y="855.8" font-size="11.6" text-anchor="middle" textLength="39" lengthAdjust="spacingAndGlyphs" >100 Mb</text>
<text x="1062.6" y="855.8" font-size="11.6" text-anchor="middle" textLength="39.6" lengthAdjust="spacingAndGlyphs" >150 Mb</text>
<text x="1138.9" y="855.8" font-size="11.6" text-anchor="middle" textLength="43" lengthAdjust="spacingAndGlyphs" >200  Mb</text>
<text x="1210.9" y="855.8" font-size="11.6" text-anchor="middle" textLength="39.2" lengthAdjust="spacingAndGlyphs" >250 Mb</text>
<line x1="749.4" y1="654.6" x2="751.6" y2="654.6" stroke="#fff" stroke-width="0.9" />
<line x1="759.6" y1="654.6" x2="761.8" y2="654.6" stroke="#fff" stroke-width="0.9" />
<text x="764.1" y="657.9" font-size="9.4" >2</text>
<line x1="749.4" y1="668.8" x2="751.6" y2="668.8" stroke="#fff" stroke-width="0.9" />
<line x1="759.6" y1="668.8" x2="761.8" y2="668.8" stroke="#fff" stroke-width="0.9" />
<text x="764.1" y="672.1" font-size="9.4" >1.5</text>
<line x1="749.4" y1="683" x2="751.6" y2="683" stroke="#fff" stroke-width="0.9" />
<line x1="759.6" y1="683" x2="761.8" y2="683" stroke="#fff" stroke-width="0.9" />
<text x="764.1" y="686.2" font-size="9.4" >1</text>
<line x1="749.4" y1="697.1" x2="751.6" y2="697.1" stroke="#fff" stroke-width="0.9" />
<line x1="759.6" y1="697.1" x2="761.8" y2="697.1" stroke="#fff" stroke-width="0.9" />
<text x="764.1" y="700.4" font-size="9.4" >0.5</text>
<line x1="749.4" y1="711.3" x2="751.6" y2="711.3" stroke="#fff" stroke-width="0.9" />
<line x1="759.6" y1="711.3" x2="761.8" y2="711.3" stroke="#fff" stroke-width="0.9" />
<text x="764.1" y="714.6" font-size="9.4" >0</text>
<line x1="1224.7" y1="653.5" x2="1226.9" y2="653.5" stroke="#fff" stroke-width="0.9" />
<line x1="1234.9" y1="653.5" x2="1237.1" y2="653.5" stroke="#fff" stroke-width="0.9" />
<text x="1239" y="656.8" font-size="9.4" >2</text>
<line x1="1224.7" y1="667.8" x2="1226.9" y2="667.8" stroke="#fff" stroke-width="0.9" />
<line x1="1234.9" y1="667.8" x2="1237.1" y2="667.8" stroke="#fff" stroke-width="0.9" />
<text x="1239" y="671.1" font-size="9.4" >1.5</text>
<line x1="1224.7" y1="682.1" x2="1226.9" y2="682.1" stroke="#fff" stroke-width="0.9" />
<line x1="1234.9" y1="682.1" x2="1237.1" y2="682.1" stroke="#fff" stroke-width="0.9" />
<text x="1239" y="685.4" font-size="9.4" >1</text>
<line x1="1224.7" y1="696.3" x2="1226.9" y2="696.3" stroke="#fff" stroke-width="0.9" />
<line x1="1234.9" y1="696.3" x2="1237.1" y2="696.3" stroke="#fff" stroke-width="0.9" />
<text x="1239" y="699.6" font-size="9.4" >0.5</text>
<line x1="1224.7" y1="710.6" x2="1226.9" y2="710.6" stroke="#fff" stroke-width="0.9" />
<line x1="1234.9" y1="710.6" x2="1237.1" y2="710.6" stroke="#fff" stroke-width="0.9" />
<text x="1239" y="713.9" font-size="9.4" >0</text>
<path fill="#fff" d="M242.5 64.5L245.9 64.5L244.5 148L242.8 148zM354.3 104.3L356.9 106.4L302.7 170L301.3 168.9zM413.7 199.2L414.4 202.5L332.9 220.3L332.5 218.6zM404.4 309L403 312.1L326.9 277.8L327.6 276.2zM338.2 387.4L335.4 389.2L291.4 318.2L292.9 317.3zM263 414.4L259.7 414.7L251.7 331.6L253.5 331.4zM191.8 407.9L188.6 406.9L214.5 327.5L216.2 328zM128 372.6L125.5 370.3L181.4 308.3L182.7 309.5zM84.4 315.1L83 312.1L159.1 277.8L159.9 279.4zM67.5 242.6L67.5 239.2L151 239.6L151 241.4zM73.8 193.5L74.7 190.3L154.8 213.9L154.3 215.6zM90.8 152.6L92.5 149.7L164.1 192.7L163.2 194.2zM114.8 120.2L117.1 117.8L177 175.9L175.8 177.2zM147.5 92.7L150.4 90.9L194.5 161.9L193 162.8zM178.5 76.8L181.7 75.6L210.9 153.8L209.2 154.4zM210 67.6L213.3 67L227.4 149.3L225.7 149.6z"/>
<path d="M246 60.6A179.4 179.4 0 0 1 356.7 101.3" stroke="#f7f6f6" stroke-width="8.6" fill="none"/>
<path d="M245.9 64.7A175.3 175.3 0 0 1 354.2 104.4" stroke="#f3d5cb" stroke-width="0.7" fill="none"/>
<path d="M245.9 63.5L248.1 62.7L250.3 63.2L252.6 62.5L254.7 63L257 61.8L259.1 63.4L261.3 63.5L263.5 63.8L265.5 65.3L267.7 65.3L269.9 65.8L272 66.5L274.1 67.2L276.2 67.6L278.5 67.3L280.6 67.9L283.1 67L285 68.3L287.4 68L289.6 68.3L291.8 68.4L293.9 69.3L296 69.9L297.9 71.3L299.8 72.4L301.5 74.1L303.9 74.1L305.6 75.8L307.8 76.1L309.9 76.8L311.9 77.7L313.6 79.2L316.1 79L318.2 79.7L320.3 80.3L322.6 80.8L324.5 81.7L326.4 83L328.6 83.6L330.1 85.4L331.7 87.1L333.8 87.8L335 90.1L337.4 90.3L338.7 92.3L340.5 93.6L342.1 95.1L344.1 96.1L346.1 97L347.6 98.7L349.5 99.8L352.4 99.6L353.8 101.4L355.9 102.3" stroke="#ec8a74" stroke-width="0.75" fill="none"/>
<path d="M359.4 103.5A179.4 179.4 0 0 1 417.5 198.3" stroke="#f7f6f6" stroke-width="8.6" fill="none"/>
<path d="M356.7 106.6A175.3 175.3 0 0 1 413.5 199.2" stroke="#f3d5cb" stroke-width="0.7" fill="none"/>
<path d="M359.6 103.2L361.3 104.7L362.4 106.8L364.7 107.5L365.9 109.5L367.5 111L367.9 113.8L369.8 115L371 116.9L371.8 119.1L373.7 120.3L375.7 121.5L376.5 123.7L378.4 125L379.6 126.8L381.5 128.1L383 129.7L385.1 130.9L386.9 132.3L388.2 134.1L389.6 135.8L389.7 138.5L391.1 140.2L391.8 142.4L393.3 144L393.2 146.7L395.2 148L395.2 150.6L396.5 152.3L398.1 153.9L399.6 155.7L400.4 157.7L402.8 158.9L404.3 160.7L405.4 162.6L406.6 164.5L406.7 166.9L408.1 168.7L408.2 171.1L408.4 173.4L409.8 175.2L408.9 177.9L409.4 180L411 181.8L410.5 184.3L411.4 186.3L413.1 188L413.4 190.2L415.1 192L415.5 194.2L416.8 196.1L416.6 198.5" stroke="#ec8a74" stroke-width="0.75" fill="none"/>
<path d="M418.2 201.6A179.4 179.4 0 0 1 408 310.5" stroke="#f7f6f6" stroke-width="8.6" fill="none"/>
<path d="M414.2 202.5A175.3 175.3 0 0 1 404.2 308.9" stroke="#f3d5cb" stroke-width="0.7" fill="none"/>
<path d="M417.9 201.7L417.2 204.1L417.6 206.3L418.7 208.3L417.7 210.7L417.4 213L418.4 215.1L418.1 217.3L418.9 219.4L418.7 221.7L419.4 223.8L420.8 225.9L421.3 228.1L421.6 230.3L421.6 232.5L422.6 234.7L421.4 236.9L422.2 239.1L421.2 241.3L421.6 243.6L420.1 245.7L420.8 248L419.8 250.1L420.1 252.3L419.7 254.5L418.9 256.6L419.5 258.9L419.1 261.1L418.9 263.3L418.7 265.4L418.6 267.7L419.5 270.1L418.7 272.2L418.4 274.3L418.7 276.7L417.6 278.7L417.2 280.9L415.8 282.8L414.6 284.8L413.7 286.8L413.2 289L411.6 290.8L412.2 293.2L411.4 295.3L410.7 297.4L409.9 299.4L410.5 302L409.1 303.8L409.7 306.5L407.8 308.1L407.5 310.4" stroke="#ec8a74" stroke-width="0.75" fill="none"/>
<path d="M406.6 313.7A179.4 179.4 0 0 1 340.3 390.7" stroke="#f7f6f6" stroke-width="8.6" fill="none"/>
<path d="M402.8 312A175.3 175.3 0 0 1 338.1 387.3" stroke="#f3d5cb" stroke-width="0.7" fill="none"/>
<path d="M404.2 312.6L402.6 314.3L401.6 316.3L400.3 318.1L399.5 320.1L398.3 322L397.4 324L396.6 326.1L396 328.2L395.4 330.4L393.7 332L393.3 334.4L392.4 336.4L391 338.1L390.3 340.4L388.2 341.6L387.1 343.5L385.7 345.3L383.2 346.1L382.7 348.6L380.6 349.7L379.6 351.7L377.5 352.8L376.1 354.5L374.7 356.2L374 358.5L372.3 359.9L371.5 362.2L370.8 364.6L369 366L367.3 367.4L365.2 368.4L363.6 369.9L362.4 371.9L360.1 372.7L358.1 373.7L356.7 375.5L354.2 375.9L352.9 377.7L351 379L349 380L347.8 382L346.3 383.7L344.9 385.5L343.2 387L341.3 388.2L339.4 389.2" stroke="#ec8a74" stroke-width="0.75" fill="none"/>
<path d="M337.4 392.6A179.4 179.4 0 0 1 263.5 418.2" stroke="#f7f6f6" stroke-width="8.6" fill="none"/>
<path d="M335.2 389.1A175.3 175.3 0 0 1 263 414.2" stroke="#f3d5cb" stroke-width="0.7" fill="none"/>
<path d="M336.2 390.6L334.5 392L332.3 392.7L330.6 394.3L328.8 395.7L326.6 396.3L325 398L323.1 399.2L321.5 401.1L319.7 402.4L317.5 403.2L315.3 403.6L313.5 405.2L311.4 406.1L308.8 405.6L306.6 406.1L304.4 406.6L302.4 407.7L300 407.4L298 408.7L295.9 409.3L293.6 409.4L291.8 411.3L289.7 412.2L287.7 413.1L285.5 413.7L283.6 415.4L281.1 414.8L279.1 416.2L277 416.8L274.7 416.9L272.3 416.7L270 416.3L267.7 416L265.4 415.3L263.2 415.6" stroke="#ec8a74" stroke-width="0.75" fill="none"/>
<path d="M260 418.6A179.4 179.4 0 0 1 190.7 411.6" stroke="#f7f6f6" stroke-width="8.6" fill="none"/>
<path d="M259.6 414.5A175.3 175.3 0 0 1 191.9 407.7" stroke="#f3d5cb" stroke-width="0.7" fill="none"/>
<path d="M259.8 415.6L257.5 415.1L255.4 416.7L253.2 417.5L251 417.9L248.7 418.1L246.5 417.7L244.2 418.5L242 418.1L239.7 418.7L237.5 418.3L235.3 417.3L233.1 416.7L230.9 415.9L228.6 416L226.4 415.9L224.2 415.2L222.1 414.5L219.9 414.2L217.6 414.4L215.4 414.3L213.1 414.6L210.8 414.7L208.6 414.3L206.1 415L204.1 413.8L202 412.9L199.6 413.3L197.6 411.9L195.7 410.6L193.4 410.3L191.6 408.8" stroke="#ec8a74" stroke-width="0.75" fill="none"/>
<path d="M187.4 410.6A179.4 179.4 0 0 1 125.4 375.5" stroke="#f7f6f6" stroke-width="8.6" fill="none"/>
<path d="M188.7 406.7A175.3 175.3 0 0 1 128.1 372.4" stroke="#f3d5cb" stroke-width="0.7" fill="none"/>
<path d="M188.5 407.3L186 407.7L183.9 406.9L181.5 407.3L179.3 406.7L177.5 405.1L175.5 404.3L173.3 403.8L171.2 402.9L169.5 401.4L167.8 399.8L166 398.4L164.3 397L162.3 396L160.1 395.4L157.9 394.9L156 393.7L153.7 393.3L151.6 392.6L149.4 391.8L147.4 390.8L145.4 389.9L144 387.8L142.1 386.8L140.3 385.5L139 383.4L136.8 382.8L135.6 380.6L134.5 378.4L132.5 377.4L130.7 376.1L129.1 374.7L127.2 373.4" stroke="#ec8a74" stroke-width="0.75" fill="none"/>
<path d="M122.8 373.2A179.4 179.4 0 0 1 80.9 316.8" stroke="#f7f6f6" stroke-width="8.6" fill="none"/>
<path d="M125.6 370.2A175.3 175.3 0 0 1 84.6 315.1" stroke="#f3d5cb" stroke-width="0.7" fill="none"/>
<path d="M123.7 372.3L121.3 371.6L119.6 370.2L117.9 368.7L117.2 366.4L115.4 365L114.4 362.9L113.4 360.9L112 359.2L110.8 357.4L109.3 355.8L107.8 354.2L107.4 351.7L105.4 350.5L103.4 349.3L101.9 347.7L100.4 346.1L98.4 344.8L97.6 342.7L96.3 341L94.4 339.5L93.4 337.6L92.5 335.6L91.9 333.3L90.5 331.6L90 329.4L88.8 327.5L88.7 325.1L87.9 323.1L86.8 321.2L84.7 319.8L84.3 317.6L83.2 315.7" stroke="#ec8a74" stroke-width="0.75" fill="none"/>
<path d="M79.4 313.7A179.4 179.4 0 0 1 63.6 242.7" stroke="#f7f6f6" stroke-width="8.6" fill="none"/>
<path d="M83.2 312A175.3 175.3 0 0 1 67.7 242.6" stroke="#f3d5cb" stroke-width="0.7" fill="none"/>
<path d="M80.6 313.1L80.2 310.9L79.9 308.7L79.4 306.5L78.5 304.5L77.4 302.6L77.8 300.1L77.3 298L76.5 295.9L75.9 293.9L74.3 292.1L74.3 289.8L72.5 288.1L71.2 286.1L71.1 283.9L70.1 281.9L69.7 279.7L68.7 277.7L68.2 275.5L69.6 273L70.1 270.7L68 268.8L68.7 266.5L69 264.3L68.8 262.1L68.3 260L68.3 257.8L67.3 255.7L67.5 253.5L66.2 251.4L65.3 249.2L66.2 247L66.6 244.8L65.3 242.6" stroke="#ec8a74" stroke-width="0.75" fill="none"/>
<path d="M63.6 239.2A179.4 179.4 0 0 1 70 192.5" stroke="#f7f6f6" stroke-width="8.6" fill="none"/>
<path d="M67.7 239.2A175.3 175.3 0 0 1 74 193.6" stroke="#f3d5cb" stroke-width="0.7" fill="none"/>
<path d="M64.6 239.2L67.4 237L65.3 234.8L65.9 232.6L67.2 230.4L67.7 228.2L66.3 225.9L67.3 223.7L66.3 221.4L66.9 219.2L67.1 217L66.8 214.7L68.3 212.7L69 210.6L66.5 207.9L67.8 205.8L68.7 203.7L69 201.5L70.3 199.5L72.6 197.8L71.5 195.2L72.5 193.2" stroke="#ec8a74" stroke-width="0.75" fill="none"/>
<path d="M70.9 189.2A179.4 179.4 0 0 1 87.4 150.7" stroke="#f7f6f6" stroke-width="8.6" fill="none"/>
<path d="M74.9 190.4A175.3 175.3 0 0 1 91 152.7" stroke="#f3d5cb" stroke-width="0.7" fill="none"/>
<path d="M74.1 190.1L75.2 188.2L75.5 186L76.5 184.1L76.8 181.9L76.9 179.6L77.8 177.6L77.7 175.2L80.3 174L79.6 171.3L79.9 169.1L80.2 166.8L81.2 164.9L82.3 163L85.6 162.1L85.9 159.9L86.7 157.8L88.6 156.4L89.5 154.4L90.7 152.6" stroke="#ec8a74" stroke-width="0.75" fill="none"/>
<path d="M89.1 147.7A179.4 179.4 0 0 1 111.9 117.5" stroke="#f7f6f6" stroke-width="8.6" fill="none"/>
<path d="M92.7 149.8A175.3 175.3 0 0 1 114.9 120.3" stroke="#f3d5cb" stroke-width="0.7" fill="none"/>
<path d="M92.4 149.7L92.4 147.1L93 144.9L94.2 143.1L96.8 142.2L96.5 139.3L97 136.9L98.5 135.3L99.6 133.3L101 131.6L101.8 129.4L104.1 128.4L105.1 126.3L106.9 125L108.5 123.4L111.3 122.9L112.7 121.3L114.7 120.1" stroke="#ec8a74" stroke-width="0.75" fill="none"/>
<path d="M114.3 115A179.4 179.4 0 0 1 145.4 89.5" stroke="#f7f6f6" stroke-width="8.6" fill="none"/>
<path d="M117.2 117.9A175.3 175.3 0 0 1 147.7 92.9" stroke="#f3d5cb" stroke-width="0.7" fill="none"/>
<path d="M115.4 116.1L116.9 114.5L118.2 112.6L119.5 110.8L120.5 108.6L122.7 107.6L124 105.7L125.5 104.1L127.8 103.3L129.6 102L132 101.4L133.7 99.9L135.8 99L137.9 98.2L139.7 96.9L141.7 95.8L142.7 93.4L144.6 92.3L145.9 90.2" stroke="#ec8a74" stroke-width="0.75" fill="none"/>
<path d="M148.3 87.6A179.4 179.4 0 0 1 177.1 73.1" stroke="#f7f6f6" stroke-width="8.6" fill="none"/>
<path d="M150.5 91.1A175.3 175.3 0 0 1 178.6 77" stroke="#f3d5cb" stroke-width="0.7" fill="none"/>
<path d="M148.8 88.4L151 87.6L152.9 86.2L154.4 84.3L156.8 84L158.4 81.9L160.7 81.5L163.3 81.5L165.5 80.8L167.6 80L169.6 78.8L171.7 77.9L173.9 77.3L176 76.6L177.8 75" stroke="#ec8a74" stroke-width="0.75" fill="none"/>
<path d="M180.3 71.9A179.4 179.4 0 0 1 209.2 63.8" stroke="#f7f6f6" stroke-width="8.6" fill="none"/>
<path d="M181.8 75.7A175.3 175.3 0 0 1 210 67.8" stroke="#f3d5cb" stroke-width="0.7" fill="none"/>
<path d="M180.1 71.4L182.3 70.6L184.8 70.7L187.1 70.4L189.1 68.9L191.8 70L193.9 69.1L196.4 69.3L198.7 69.1L200.6 67.4L203 67.5L205.2 66.8L207.4 66.5L209.3 64.3" stroke="#ec8a74" stroke-width="0.75" fill="none"/>
<path d="M212.6 63.2A179.4 179.4 0 0 1 242.5 60.6" stroke="#f7f6f6" stroke-width="8.6" fill="none"/>
<path d="M213.3 67.2A175.3 175.3 0 0 1 242.5 64.7" stroke="#f3d5cb" stroke-width="0.7" fill="none"/>
<path d="M212.9 64.8L215.3 65.5L217.4 64.2L219.9 65.4L222.2 65.5L224.5 65.4L226.7 65.2L228.9 64.5L231.2 63.6L233.5 64.6L235.7 63.9L238 63.1L240.2 62L242.5 62.1" stroke="#ec8a74" stroke-width="0.75" fill="none"/>
<path d="M246.1 52.3A187.7 187.7 0 0 1 362 94.9" stroke="#a3153f" stroke-width="6.9" fill="none"/>
<path d="M364.8 97.2A187.7 187.7 0 0 1 425.6 196.3" stroke="#c92a45" stroke-width="6.9" fill="none"/>
<path d="M426.4 199.9A187.7 187.7 0 0 1 415.6 313.8" stroke="#ef6b3a" stroke-width="6.9" fill="none"/>
<path d="M414.1 317.1A187.7 187.7 0 0 1 344.8 397.7" stroke="#e0d11f" stroke-width="6.9" fill="none"/>
<path d="M341.8 399.6A187.7 187.7 0 0 1 264.4 426.5" stroke="#24893e" stroke-width="6.9" fill="none"/>
<path d="M260.8 426.9A187.7 187.7 0 0 1 188.3 419.5" stroke="#a0d58f" stroke-width="6.9" fill="none"/>
<path d="M184.8 418.5A187.7 187.7 0 0 1 120 381.8" stroke="#3282c0" stroke-width="6.9" fill="none"/>
<path d="M117.3 379.4A187.7 187.7 0 0 1 73.4 320.4" stroke="#5dc39b" stroke-width="6.9" fill="none"/>
<path d="M71.9 317.1A187.7 187.7 0 0 1 55.3 242.8" stroke="#5a4a9f" stroke-width="6.9" fill="none"/>
<path d="M55.3 239.2A187.7 187.7 0 0 1 62 190.3" stroke="#dcec90" stroke-width="6.9" fill="none"/>
<path d="M63 186.8A187.7 187.7 0 0 1 80.2 146.6" stroke="#f2f4a8" stroke-width="6.9" fill="none"/>
<path d="M82 143.5A187.7 187.7 0 0 1 105.8 111.9" stroke="#f8d86f" stroke-width="6.9" fill="none"/>
<path d="M108.3 109.3A187.7 187.7 0 0 1 140.9 82.5" stroke="#f4a04a" stroke-width="6.9" fill="none"/>
<path d="M144 80.6A187.7 187.7 0 0 1 174.1 65.4" stroke="#57b65a" stroke-width="6.9" fill="none"/>
<path d="M177.4 64.1A187.7 187.7 0 0 1 207.7 55.7" stroke="#f08c36" stroke-width="6.9" fill="none"/>
<path d="M211.2 55A187.7 187.7 0 0 1 242.5 52.3" stroke="#5b9fd2" stroke-width="6.9" fill="none"/>
<path stroke="#c9c9c9" stroke-width="0.5" fill="none" d="M246.2 48.8L246.2 47M248.7 48.9L248.7 47.1M251.2 49L251.3 47.2M253.7 49.1L253.8 47.3M256.2 49.3L256.3 47.5M258.7 49.4L258.8 47.6M261.2 49.7L261.3 47.9M263.6 49.9L263.8 48.1M266.1 50.2L266.4 48.4M268.6 50.5L268.9 48.7M271.1 50.9L271.4 49.1M273.6 51.3L273.9 49.5M276 51.7L276.3 49.9M278.5 52.1L278.8 50.4M281 52.6L281.3 50.8M283.4 53.1L283.8 51.4M285.8 53.7L286.3 51.9M288.3 54.2L288.7 52.5M290.7 54.8L291.2 53.1M293.1 55.5L293.6 53.8M295.5 56.2L296 54.4M297.9 56.9L298.5 55.1M300.3 57.6L300.9 55.9M302.7 58.4L303.3 56.7M305.1 59.2L305.7 57.5M307.5 60L308.1 58.3M309.8 60.8L310.4 59.2M312.1 61.7L312.8 60.1M314.5 62.7L315.1 61M316.8 63.6L317.5 62M319.1 64.6L319.8 62.9M321.4 65.6L322.1 64M323.7 66.6L324.4 65M325.9 67.7L326.7 66.1M328.2 68.8L329 67.2M330.4 69.9L331.2 68.3M332.6 71.1L333.5 69.5M334.8 72.3L335.7 70.7M337 73.5L337.9 71.9M339.2 74.8L340.1 73.2M341.3 76L342.3 74.5M343.5 77.3L344.4 75.8M345.6 78.7L346.6 77.1M347.7 80L348.7 78.5M349.8 81.4L350.8 79.9M351.8 82.8L352.9 81.3M353.9 84.2L354.9 82.8M355.9 85.7L357 84.3M357.9 87.2L359 85.8M359.9 88.7L361 87.3M361.9 90.3L363 88.9M363.8 91.8L365 90.4M367 94.5L368.2 93.1M368.9 96.1L370.1 94.8M370.8 97.8L372 96.5M372.7 99.5L373.9 98.2M374.5 101.2L375.7 99.9M376.3 102.9L377.6 101.6M378.1 104.7L379.4 103.4M379.8 106.5L381.1 105.2M381.6 108.3L382.9 107M383.3 110.1L384.6 108.9M385 111.9L386.3 110.7M386.6 113.8L388 112.6M388.3 115.7L389.6 114.5M389.9 117.6L391.3 116.5M391.5 119.5L392.9 118.4M393 121.5L394.5 120.4M394.6 123.5L396 122.4M396.1 125.5L397.5 124.4M397.6 127.5L399 126.4M399 129.5L400.5 128.5M400.5 131.6L402 130.5M401.9 133.6L403.4 132.6M403.3 135.7L404.8 134.7M404.6 137.8L406.1 136.9M405.9 140L407.5 139M407.2 142.1L408.8 141.2M408.5 144.3L410.1 143.4M409.7 146.4L411.3 145.5M411 148.6L412.5 147.8M412.1 150.8L413.7 150M413.3 153L414.9 152.2M414.4 155.3L416 154.5M415.5 157.5L417.1 156.8M416.6 159.8L418.2 159M417.6 162.1L419.2 161.3M418.6 164.4L420.3 163.7M419.6 166.7L421.2 166M420.5 169L422.2 168.3M421.4 171.3L423.1 170.7M422.3 173.7L424 173M423.2 176L424.9 175.4M424 178.4L425.7 177.8M424.8 180.8L426.5 180.2M425.6 183.1L427.3 182.6M426.3 185.5L428 185M427 187.9L428.7 187.4M427.6 190.4L429.4 189.9M428.3 192.8L430 192.3M428.9 195.2L430.6 194.8M429.8 199.1L431.5 198.7M430.3 201.6L432.1 201.2M430.8 204L432.5 203.7M431.2 206.5L433 206.2M431.7 208.9L433.4 208.6M432.1 211.4L433.8 211.1M432.4 213.9L434.2 213.6M432.7 216.4L434.5 216.1M433 218.9L434.8 218.7M433.3 221.3L435.1 221.2M433.5 223.8L435.3 223.7M433.7 226.3L435.5 226.2M433.9 228.8L435.7 228.7M434 231.3L435.8 231.2M434.1 233.8L435.9 233.8M434.2 236.3L436 236.3M434.2 238.8L436 238.8M434.2 241.3L436 241.3M434.2 243.8L436 243.9M434.1 246.3L435.9 246.4M434 248.8L435.8 248.9M433.9 251.3L435.7 251.4M433.7 253.8L435.5 254M433.5 256.3L435.3 256.5M433.3 258.8L435.1 259M433 261.3L434.8 261.5M432.7 263.8L434.5 264M432.4 266.3L434.2 266.5M432 268.8L433.8 269M431.6 271.2L433.4 271.5M431.2 273.7L433 274M430.8 276.2L432.5 276.5M430.3 278.6L432 279M429.7 281.1L431.5 281.4M429.2 283.5L430.9 283.9M428.6 285.9L430.3 286.4M428 288.4L429.7 288.8M427.3 290.8L429.1 291.3M426.7 293.2L428.4 293.7M425.9 295.6L427.7 296.1M425.2 298L426.9 298.5M424.4 300.4L426.1 300.9M423.6 302.7L425.3 303.3M422.8 305.1L424.5 305.7M421.9 307.4L423.6 308.1M421 309.8L422.7 310.4M420.1 312.1L421.8 312.8M419.1 314.4L420.8 315.1M417.3 318.5L419 319.3M416.3 320.8L417.9 321.6M415.2 323.1L416.8 323.8M414.1 325.3L415.7 326.1M413 327.5L414.6 328.4M411.8 329.8L413.4 330.6M410.6 332L412.2 332.8M409.4 334.2L411 335M408.2 336.3L409.7 337.2M406.9 338.5L408.4 339.4M405.6 340.6L407.1 341.6M404.3 342.7L405.8 343.7M402.9 344.8L404.4 345.8M401.5 346.9L403 347.9M400.1 349L401.6 350M398.7 351L400.1 352.1M397.2 353.1L398.6 354.1M395.7 355.1L397.1 356.2M394.2 357.1L395.6 358.2M392.6 359L394 360.1M391.1 361L392.5 362.1M389.5 362.9L390.8 364.1M387.8 364.8L389.2 366M386.2 366.7L387.5 367.9M384.5 368.6L385.9 369.8M382.8 370.4L384.2 371.6M381.1 372.2L382.4 373.5M379.4 374L380.7 375.3M377.6 375.8L378.9 377.1M375.8 377.5L377.1 378.8M374 379.3L375.2 380.6M372.2 381L373.4 382.3M370.3 382.6L371.5 384M368.4 384.3L369.6 385.7M366.5 385.9L367.7 387.3M364.6 387.5L365.8 388.9M362.7 389.1L363.8 390.5M360.7 390.7L361.8 392.1M358.7 392.2L359.8 393.6M356.7 393.7L357.8 395.1M354.7 395.2L355.8 396.6M352.7 396.6L353.7 398.1M350.6 398L351.6 399.5M348.5 399.4L349.5 400.9M343.6 402.6L344.6 404.1M341.5 403.9L342.4 405.4M339.3 405.2L340.2 406.7M337.2 406.4L338 408M335 407.6L335.8 409.2M332.8 408.8L333.6 410.4M330.5 410L331.4 411.6M328.3 411.1L329.1 412.7M326.1 412.2L326.8 413.8M323.8 413.3L324.6 414.9M321.5 414.3L322.3 416M319.2 415.3L320 417M316.9 416.3L317.6 418M314.6 417.3L315.3 418.9M312.3 418.2L313 419.9M310 419.1L310.6 420.8M307.6 420L308.2 421.6M305.2 420.8L305.8 422.5M302.9 421.6L303.4 423.3M300.5 422.4L301 424.1M298.1 423.1L298.6 424.8M295.7 423.8L296.2 425.5M293.3 424.5L293.8 426.2M290.9 425.1L291.3 426.9M288.4 425.7L288.9 427.5M286 426.3L286.4 428.1M283.6 426.8L284 428.6M281.1 427.4L281.5 429.1M278.7 427.8L279 429.6M276.2 428.3L276.5 430.1M273.7 428.7L274 430.5M271.3 429.1L271.5 430.9M268.8 429.5L269 431.2M266.3 429.8L266.5 431.6M261.2 430.3L261.3 432.1M258.7 430.6L258.8 432.4M256.2 430.7L256.3 432.5M253.7 430.9L253.8 432.7M251.2 431L251.3 432.8M248.7 431.1L248.7 432.9M246.2 431.2L246.2 433M243.7 431.2L243.7 433M241.2 431.2L241.1 433M238.7 431.2L238.6 433M236.2 431.1L236.1 432.9M233.7 431L233.6 432.8M231.2 430.8L231 432.6M228.7 430.7L228.5 432.5M226.2 430.5L226 432.3M223.7 430.2L223.5 432M221.2 430L221 431.7M218.7 429.7L218.5 431.4M216.2 429.3L216 431.1M213.7 428.9L213.5 430.7M211.3 428.6L211 430.3M208.8 428.1L208.5 429.9M206.4 427.7L206 429.4M203.9 427.2L203.5 428.9M201.5 426.6L201.1 428.4M199 426.1L198.6 427.8M196.6 425.5L196.1 427.2M194.2 424.9L193.7 426.6M191.7 424.2L191.3 425.9M189.3 423.5L188.8 425.2M183.8 421.8L183.2 423.5M181.4 421L180.8 422.7M179 420.2L178.4 421.9M176.7 419.3L176 421M174.3 418.4L173.7 420.1M172 417.5L171.3 419.2M169.7 416.6L169 418.2M167.4 415.6L166.7 417.3M165.1 414.6L164.3 416.2M162.8 413.6L162 415.2M160.5 412.5L159.8 414.1M158.3 411.4L157.5 413M156 410.3L155.2 411.9M153.8 409.1L153 410.7M151.6 408L150.8 409.5M149.4 406.7L148.5 408.3M147.3 405.5L146.4 407.1M145.1 404.2L144.2 405.8M143 402.9L142 404.5M140.8 401.6L139.9 403.1M138.7 400.3L137.7 401.8M136.6 398.9L135.6 400.4M134.6 397.5L133.5 399M132.5 396L131.5 397.5M130.5 394.6L129.4 396M128.5 393.1L127.4 394.5M126.5 391.6L125.4 393M124.5 390L123.4 391.5M122.5 388.5L121.4 389.9M120.6 386.9L119.5 388.3M118.7 385.3L117.5 386.6M114.9 382L113.7 383.3M113.1 380.3L111.9 381.6M111.3 378.6L110 379.9M109.5 376.8L108.2 378.1M107.7 375.1L106.4 376.4M105.9 373.3L104.6 374.6M104.2 371.5L102.9 372.7M102.5 369.7L101.2 370.9M100.8 367.8L99.5 369M99.1 365.9L97.8 367.1M97.5 364L96.1 365.2M95.9 362.1L94.5 363.3M94.3 360.2L92.9 361.3M92.7 358.2L91.3 359.4M91.2 356.3L89.8 357.4M89.7 354.3L88.3 355.3M88.2 352.2L86.8 353.3M86.8 350.2L85.3 351.3M85.3 348.2L83.8 349.2M83.9 346.1L82.4 347.1M82.6 344L81 345M81.2 341.9L79.7 342.8M79.9 339.8L78.4 340.7M78.6 337.6L77 338.5M77.3 335.5L75.8 336.4M76.1 333.3L74.5 334.2M74.9 331.1L73.3 331.9M73.7 328.9L72.1 329.7M72.6 326.7L71 327.5M71.4 324.4L69.8 325.2M70.4 322.2L68.7 322.9M68.7 318.5L67 319.3M67.7 316.2L66 317M66.7 313.9L65 314.6M65.7 311.6L64.1 312.3M64.8 309.3L63.1 310M63.9 307L62.2 307.6M63 304.6L61.4 305.2M62.2 302.2L60.5 302.8M61.4 299.9L59.7 300.4M60.6 297.5L58.9 298M59.9 295.1L58.2 295.6M59.2 292.7L57.5 293.2M58.5 290.3L56.8 290.8M57.9 287.9L56.1 288.3M57.3 285.4L55.5 285.9M56.7 283L54.9 283.4M56.2 280.6L54.4 281M55.6 278.1L53.9 278.5M55.2 275.7L53.4 276M54.7 273.2L52.9 273.5M54.3 270.7L52.5 271M53.9 268.3L52.1 268.5M53.5 265.8L51.8 266M53.2 263.3L51.4 263.5M52.9 260.8L51.1 261M52.7 258.3L50.9 258.5M52.5 255.8L50.7 256M52.3 253.3L50.5 253.5M52.1 250.8L50.3 250.9M52 248.3L50.2 248.4M51.9 245.8L50.1 245.9M51.8 243.3L50 243.4M51.8 239.2L50 239.2M51.8 236.7L50 236.6M51.9 234.2L50.1 234.1M52 231.7L50.2 231.6M52.1 229.2L50.3 229.1M52.3 226.7L50.5 226.5M52.5 224.2L50.7 224M52.7 221.7L50.9 221.5M52.9 219.2L51.1 219M53.2 216.7L51.4 216.5M53.5 214.2L51.8 214M53.9 211.7L52.1 211.5M54.3 209.3L52.5 209M54.7 206.8L52.9 206.5M55.2 204.3L53.4 204M55.6 201.9L53.9 201.5M56.2 199.4L54.4 199M56.7 197L54.9 196.6M57.3 194.6L55.5 194.1M57.9 192.1L56.1 191.7M58.5 189.7L56.8 189.2M59.6 185.9L57.9 185.3M60.4 183.5L58.6 182.9M61.1 181.1L59.4 180.5M61.9 178.7L60.2 178.1M62.7 176.3L61 175.7M63.6 174L61.9 173.4M64.4 171.6L62.8 171M65.3 169.3L63.7 168.6M66.3 167L64.6 166.3M67.3 164.7L65.6 164M68.3 162.4L66.6 161.7M69.3 160.1L67.7 159.4M70.4 157.8L68.7 157.1M71.4 155.6L69.8 154.8M72.6 153.3L71 152.5M73.7 151.1L72.1 150.3M74.9 148.9L73.3 148.1M76.1 146.7L74.5 145.8M79 141.7L77.5 140.7M80.3 139.5L78.8 138.6M81.7 137.4L80.1 136.4M83 135.3L81.5 134.3M84.4 133.2L82.9 132.2M85.8 131.2L84.3 130.1M87.2 129.1L85.8 128.1M88.7 127.1L87.3 126M90.2 125.1L88.8 124M91.7 123.1L90.3 122M93.3 121.1L91.9 120M94.8 119.2L93.4 118M96.4 117.2L95 116.1M98 115.3L96.7 114.1M99.7 113.4L98.3 112.2M101.4 111.6L100 110.4M103.1 109.7L101.7 108.5M105.8 106.8L104.5 105.6M107.6 105L106.3 103.8M109.3 103.3L108.1 102M111.1 101.5L109.9 100.2M113 99.8L111.7 98.5M114.8 98.1L113.6 96.8M116.7 96.5L115.5 95.1M118.6 94.8L117.4 93.5M120.5 93.2L119.3 91.8M122.4 91.6L121.3 90.2M124.4 90.1L123.3 88.6M126.3 88.5L125.2 87.1M128.3 87L127.3 85.6M130.3 85.5L129.3 84.1M132.4 84.1L131.3 82.6M134.4 82.6L133.4 81.1M136.5 81.2L135.5 79.7M138.6 79.8L137.6 78.3M142.1 77.6L141.2 76.1M144.2 76.3L143.3 74.7M146.4 75L145.5 73.4M148.6 73.8L147.7 72.2M150.7 72.5L149.9 71M152.9 71.3L152.1 69.7M155.2 70.2L154.3 68.6M157.4 69L156.6 67.4M159.6 67.9L158.8 66.3M161.9 66.9L161.1 65.2M164.2 65.8L163.4 64.2M166.5 64.8L165.7 63.1M168.8 63.8L168.1 62.1M171.1 62.8L170.4 61.2M176.2 60.8L175.6 59.2M178.5 60L177.9 58.3M180.9 59.2L180.3 57.5M183.3 58.4L182.7 56.7M185.7 57.6L185.1 55.9M188.1 56.9L187.5 55.1M190.5 56.2L190 54.4M192.9 55.5L192.4 53.8M195.3 54.8L194.8 53.1M197.7 54.2L197.3 52.5M200.2 53.7L199.7 51.9M202.6 53.1L202.2 51.4M205 52.6L204.7 50.8M210.6 51.6L210.3 49.8M213.1 51.2L212.8 49.4M215.6 50.8L215.3 49M218 50.4L217.8 48.7M220.5 50.1L220.3 48.3M223 49.8L222.8 48.1M225.5 49.6L225.3 47.8M228 49.4L227.9 47.6M230.5 49.2L230.4 47.4M233 49.1L232.9 47.3M235.5 48.9L235.4 47.1M238 48.9L237.9 47.1M240.5 48.8L240.5 47"/>
<g font-size="4.6" fill="#999" text-anchor="middle"><text x="0" y="1.6" transform="translate(246.3 42.5) rotate(-89)">0</text><text x="0" y="1.6" transform="translate(259.4 43.2) rotate(-85.2)">25</text><text x="0" y="1.6" transform="translate(272.4 44.7) rotate(-81.4)">50</text><text x="0" y="1.6" transform="translate(285.3 47.1) rotate(-77.6)">75</text><text x="0" y="1.6" transform="translate(298.1 50.3) rotate(-73.8)">100</text><text x="0" y="1.6" transform="translate(310.5 54.4) rotate(-70)">125</text><text x="0" y="1.6" transform="translate(322.7 59.3) rotate(-66.2)">150</text><text x="0" y="1.6" transform="translate(334.6 65) rotate(-62.4)">175</text><text x="0" y="1.6" transform="translate(346 71.5) rotate(-58.6)">200</text><text x="0" y="1.6" transform="translate(356.9 78.7) rotate(-54.8)">225</text><text x="0" y="1.6" transform="translate(367.4 86.6) rotate(-51)">250</text><text x="0" y="1.6" transform="translate(371.1 89.7) rotate(-49.6)">0</text><text x="0" y="1.6" transform="translate(380.8 98.5) rotate(-45.8)">25</text><text x="0" y="1.6" transform="translate(389.8 107.9) rotate(-42)">50</text><text x="0" y="1.6" transform="translate(398.2 117.8) rotate(-38.2)">75</text><text x="0" y="1.6" transform="translate(405.9 128.3) rotate(-34.4)">100</text><text x="0" y="1.6" transform="translate(412.9 139.3) rotate(-30.6)">125</text><text x="0" y="1.6" transform="translate(419.2 150.8) rotate(-26.9)">150</text><text x="0" y="1.6" transform="translate(424.7 162.6) rotate(-23.1)">175</text><text x="0" y="1.6" transform="translate(429.4 174.7) rotate(-19.3)">200</text><text x="0" y="1.6" transform="translate(433.3 187.1) rotate(-15.5)">225</text><text x="0" y="1.6" transform="translate(435.9 197.8) rotate(-12.4)">0</text><text x="0" y="1.6" transform="translate(438.3 210.8) rotate(-8.5)">25</text><text x="0" y="1.6" transform="translate(439.8 224) rotate(-4.7)">50</text><text x="0" y="1.6" transform="translate(440.5 237.2) rotate(-0.8)">75</text><text x="0" y="1.6" transform="translate(440.2 250.4) rotate(3)">100</text><text x="0" y="1.6" transform="translate(439.1 263.6) rotate(6.9)">125</text><text x="0" y="1.6" transform="translate(437.1 276.7) rotate(10.7)">150</text><text x="0" y="1.6" transform="translate(434.2 289.7) rotate(14.6)">175</text><text x="0" y="1.6" transform="translate(430.4 302.4) rotate(18.4)">200</text><text x="0" y="1.6" transform="translate(425.8 314.8) rotate(22.3)">225</text><text x="0" y="1.6" transform="translate(423.1 321.1) rotate(24.2)">0</text><text x="0" y="1.6" transform="translate(417.4 332.7) rotate(28)">25</text><text x="0" y="1.6" transform="translate(410.9 344) rotate(31.8)">50</text><text x="0" y="1.6" transform="translate(403.8 354.7) rotate(35.5)">75</text><text x="0" y="1.6" transform="translate(395.9 365) rotate(39.3)">100</text><text x="0" y="1.6" transform="translate(387.4 374.7) rotate(43)">125</text><text x="0" y="1.6" transform="translate(378.3 383.9) rotate(46.8)">150</text><text x="0" y="1.6" transform="translate(368.6 392.5) rotate(50.5)">175</text><text x="0" y="1.6" transform="translate(358.3 400.4) rotate(54.3)">200</text><text x="0" y="1.6" transform="translate(346.9 407.9) rotate(58.2)">0</text><text x="0" y="1.6" transform="translate(335.2 414.7) rotate(62.2)">25</text><text x="0" y="1.6" transform="translate(323 420.6) rotate(66.1)">50</text><text x="0" y="1.6" transform="translate(310.4 425.6) rotate(70)">75</text><text x="0" y="1.6" transform="translate(297.5 429.8) rotate(74)">100</text><text x="0" y="1.6" transform="translate(284.4 433.1) rotate(77.9)">125</text><text x="0" y="1.6" transform="translate(271 435.5) rotate(81.8)">150</text><text x="0" y="1.6" transform="translate(261.8 436.6) rotate(84.6)">0</text><text x="0" y="1.6" transform="translate(248.5 437.4) rotate(88.4)">25</text><text x="0" y="1.6" transform="translate(235.1 437.3) rotate(-87.7)">50</text><text x="0" y="1.6" transform="translate(221.9 436.4) rotate(-83.9)">75</text><text x="0" y="1.6" transform="translate(208.7 434.5) rotate(-80)">100</text><text x="0" y="1.6" transform="translate(195.6 431.7) rotate(-76.1)">125</text><text x="0" y="1.6" transform="translate(181.8 427.8) rotate(-71.9)">0</text><text x="0" y="1.6" transform="translate(169.6 423.4) rotate(-68.2)">25</text><text x="0" y="1.6" transform="translate(157.7 418.2) rotate(-64.4)">50</text><text x="0" y="1.6" transform="translate(146.2 412.2) rotate(-60.7)">75</text><text x="0" y="1.6" transform="translate(135.2 405.5) rotate(-56.9)">100</text><text x="0" y="1.6" transform="translate(124.5 398) rotate(-53.1)">125</text><text x="0" y="1.6" transform="translate(114.4 389.9) rotate(-49.4)">150</text><text x="0" y="1.6" transform="translate(110.7 386.7) rotate(-47.9)">0</text><text x="0" y="1.6" transform="translate(101.3 377.6) rotate(-44.2)">25</text><text x="0" y="1.6" transform="translate(92.5 367.9) rotate(-40.4)">50</text><text x="0" y="1.6" transform="translate(84.4 357.7) rotate(-36.6)">75</text><text x="0" y="1.6" transform="translate(77 347) rotate(-32.8)">100</text><text x="0" y="1.6" transform="translate(70.3 335.8) rotate(-29)">125</text><text x="0" y="1.6" transform="translate(62.9 321.1) rotate(-24.2)">0</text><text x="0" y="1.6" transform="translate(57.9 309) rotate(-20.5)">25</text><text x="0" y="1.6" transform="translate(53.8 296.6) rotate(-16.7)">50</text><text x="0" y="1.6" transform="translate(50.4 283.9) rotate(-12.9)">75</text><text x="0" y="1.6" transform="translate(48 271.1) rotate(-9.1)">100</text><text x="0" y="1.6" transform="translate(46.3 258.1) rotate(-5.3)">125</text><text x="0" y="1.6" transform="translate(45.6 245) rotate(-1.5)">150</text><text x="0" y="1.6" transform="translate(45.5 239.1) rotate(0.2)">0</text><text x="0" y="1.6" transform="translate(46 226.3) rotate(4)">25</text><text x="0" y="1.6" transform="translate(47.3 213.5) rotate(7.7)">50</text><text x="0" y="1.6" transform="translate(49.4 200.8) rotate(11.5)">75</text><text x="0" y="1.6" transform="translate(52.4 188.3) rotate(15.2)">100</text><text x="0" y="1.6" transform="translate(53.6 184.1) rotate(16.4)">0</text><text x="0" y="1.6" transform="translate(57.9 171.1) rotate(20.4)">25</text><text x="0" y="1.6" transform="translate(63.2 158.4) rotate(24.4)">50</text><text x="0" y="1.6" transform="translate(69.2 146.1) rotate(28.4)">75</text><text x="0" y="1.6" transform="translate(73.6 138.4) rotate(30.9)">0</text><text x="0" y="1.6" transform="translate(80.4 127.9) rotate(34.6)">25</text><text x="0" y="1.6" transform="translate(87.8 117.9) rotate(38.2)">50</text><text x="0" y="1.6" transform="translate(95.8 108.3) rotate(41.8)">75</text><text x="0" y="1.6" transform="translate(101.3 102.4) rotate(44.2)">0</text><text x="0" y="1.6" transform="translate(111.7 92.5) rotate(48.3)">25</text><text x="0" y="1.6" transform="translate(122.7 83.3) rotate(52.5)">50</text><text x="0" y="1.6" transform="translate(134.4 75) rotate(56.7)">75</text><text x="0" y="1.6" transform="translate(138.8 72.2) rotate(58.2)">0</text><text x="0" y="1.6" transform="translate(149.4 66.1) rotate(61.7)">25</text><text x="0" y="1.6" transform="translate(160.4 60.6) rotate(65.3)">50</text><text x="0" y="1.6" transform="translate(174 54.9) rotate(69.6)">0</text><text x="0" y="1.6" transform="translate(185.6 51) rotate(73.1)">25</text><text x="0" y="1.6" transform="translate(197.5 47.8) rotate(76.7)">50</text><text x="0" y="1.6" transform="translate(209.6 45.4) rotate(80.2)">0</text><text x="0" y="1.6" transform="translate(222.9 43.5) rotate(84.2)">25</text><text x="0" y="1.6" transform="translate(236.4 42.6) rotate(88.1)">50</text></g>
<text x="0" y="0" font-size="10.2" fill="#444" text-anchor="middle" transform="translate(312.1 51.7) rotate(20.2)">LG01</text>
<text x="0" y="0" font-size="10.2" fill="#444" text-anchor="middle" transform="translate(414 135.2) rotate(58.5)">LG02</text>
<text x="0" y="0" font-size="10.2" fill="#444" text-anchor="middle" transform="translate(450.7 259.6) rotate(-84.6)">LG03</text>
<text x="0" y="0" font-size="10.2" fill="#444" text-anchor="middle" transform="translate(401.1 376) rotate(-49.3)">LG04</text>
<text x="0" y="0" font-size="10.2" fill="#444" text-anchor="middle" transform="translate(311.4 437.1) rotate(-19.2)">LG05</text>
<text x="0" y="0" font-size="10.2" fill="#444" text-anchor="middle" transform="translate(222.1 447.6) rotate(5.8)">LG06</text>
<text x="0" y="0" font-size="10.2" fill="#444" text-anchor="middle" transform="translate(140.3 421.6) rotate(29.5)">LG07</text>
<text x="0" y="0" font-size="10.2" fill="#444" text-anchor="middle" transform="translate(75.6 364.5) rotate(53.3)">LG08</text>
<text x="0" y="0" font-size="10.2" fill="#444" text-anchor="middle" transform="translate(39.4 285.3) rotate(77.4)">LG09</text>
<text x="0" y="0" font-size="10.2" fill="#444" text-anchor="middle" transform="translate(44.3 212.8) rotate(-82.2)">LG10</text>
<text x="0" y="0" font-size="10.2" fill="#444" text-anchor="middle" transform="translate(58.6 161.1) rotate(-66.9)">LG11</text>
<text x="0" y="0" font-size="10.2" fill="#444" text-anchor="middle" transform="translate(82.8 119.3) rotate(-53)">LG12</text>
<text x="0" y="0" font-size="10.2" fill="#444" text-anchor="middle" transform="translate(115.7 85) rotate(-39.4)">LG13</text>
<text x="0" y="0" font-size="10.2" fill="#444" text-anchor="middle" transform="translate(152.9 60.8) rotate(-26.7)">LG14</text>
<text x="0" y="0" font-size="10.2" fill="#444" text-anchor="middle" transform="translate(188.9 46.8) rotate(-15.6)">LG15</text>
<text x="0" y="0" font-size="10.2" fill="#444" text-anchor="middle" transform="translate(225.7 40.1) rotate(-5)">LG16</text>
<path stroke="#a0a0a0" stroke-width="0.85" stroke-opacity="0.6" fill="none" d="M181.2 308.9Q244.9 243.4 334.2 224.5M175.9 303.7Q244.6 243.2 334.4 225.9M176.2 304Q244.5 242.9 333.7 221.7M178.6 306.4Q244.7 243.2 333.9 222.7M216.1 328.5Q244.8 240.7 284.1 157.1M326 199.2Q243.3 233.3 164.7 190.8M326 199.1Q243.3 233.5 163.9 192M325.9 199Q243.1 233.9 161.5 196.3M178.8 173.5Q244.9 235.3 335.5 237.5M174.3 178.1Q244.6 235.8 335.5 238.7M329.9 208.4Q244.2 233.1 172.5 180.1M330 208.5Q244.2 233.1 172.5 180.1M306.9 306.9Q241.4 249 159.6 279.9M307.5 306.3Q241.4 248.8 159 278.8M304.3 309.3Q241.1 249.6 160.1 281M160.3 281.5Q241.3 237.9 300.9 167.9M159.1 279Q241.2 237.8 300.2 167.3M255.1 331.7Q238.1 243.3 162.2 194.9M256.9 331.5Q238.7 242.8 165.6 189.3M252.5 148Q238.8 237.7 170.7 297.7M253.1 148.1Q238.9 237.8 171.4 298.6M176.7 304.5Q244.4 248.5 326.9 278.9M213 152.5Q245.4 238.5 308.9 304.9M209.8 153.7Q245.2 238.6 307 306.8M151.6 225.8Q243 237.8 334.9 229.5M151.7 225.4Q243 237.7 334.2 224.7M185.1 312.1Q245.5 247.4 332.9 261.8M186.2 313Q245.6 247.5 332.9 261.7M329.2 273.6Q246 236.7 202.6 156.8M329.8 271.8Q246.3 236.5 205.6 155.4M284.7 157.4Q241.1 238.6 177.1 304.9M286.9 158.6Q241.3 238.7 179.9 307.7M289.1 159.8Q241.3 238.8 180.5 308.2M229.5 148.5Q240.6 239.9 224.2 330.6M234.7 147.9Q240.7 239.8 221.4 329.9M227.9 148.7Q240.3 239.9 218.8 329.3M293.1 317.8Q240.3 244 152.2 222.3M292.1 318.4Q240.1 244.4 151.7 225.4M242.2 147.5Q237.8 237.4 169.6 296.3M244.4 147.5Q238 237.5 169.6 296.3M240.9 147.5Q237.7 237.5 170 296.8M239.7 147.6Q237.6 237.5 170.1 297M239.2 147.6Q236.2 236 160.4 281.7M236.2 147.8Q235.6 235.6 159.3 279.3M236.6 147.7Q235.6 235.7 159.3 279.4M280.2 155.3Q239.8 236.7 157.3 274.9M280.6 155.5Q239.9 236.9 158.3 277.2M154.8 267.9Q241.4 237.4 306.3 172.5M153.8 264.4Q241.3 237.2 306.1 172.4M154.6 267.3Q241.1 237.1 301.4 168.2M168 185.9Q244 238.4 321.7 288.6M167.8 186.2Q244 238.5 320.7 290.1M160.4 281.7Q241.5 238 305.1 171.5M159.8 280.3Q241.4 237.9 302.8 169.4M168 185.9Q237.5 242.8 241.1 332.5M165.9 188.9Q237.5 243 244.5 332.5M164.4 191.3Q237.1 243.3 242 332.5M209.2 153.9Q244.7 239.3 281.8 324M324.6 196.5Q242.5 235.4 154.1 214.4M323.8 195Q242.4 235.5 153.3 217.3M325.9 199Q242.5 236 152.8 219.6M326.4 199.9Q242.5 236.1 152.7 220.2M197.1 320.3Q244.9 241.6 314.5 181.4M194.3 318.6Q244.7 241.4 311.1 177.4M256.3 331.5Q239 242.4 168.9 184.6M220.9 150.2Q244.8 239.6 265.8 329.6M223.6 149.6Q244.8 239.6 264.7 329.9M225.2 149.2Q244.8 239.6 267.6 329.2M227.7 148.8Q244.9 239.6 269.5 328.6M292.3 318.2Q240.7 242.6 158.3 202.9M294.5 316.8Q240.9 242.4 159.2 200.9M294.5 316.9Q240.8 242.7 157.1 205.8M332.2 264.4Q243.5 238.2 154.8 212.3M332.6 263.1Q243.5 238.2 154.9 211.8M331.6 266.5Q243.6 238.2 155.2 210.8M331.9 265.7Q243.5 238.2 154.3 213.8M302.3 311Q241.6 241.3 177.5 174.7M306 307.7Q241.7 241.3 179.1 173.1M246.9 147.6Q249.2 236.7 321.7 288.6M242.1 147.5Q248.5 237 320.2 290.9M244.1 147.5Q249 236.7 322.1 287.9M247.4 147.6Q249.3 236.6 321.9 288.3M251.1 332.1Q246.2 240.6 283.5 156.8M254.1 331.8Q246.1 240.4 278.7 154.7M251 332.2Q246 240.5 280.4 155.4M289.9 319.7Q240.9 242.1 164 191.8M290 319.7Q240.9 242.1 163.3 193M181.7 309.3Q241.5 238.8 294.1 162.9M179.6 307.4Q241.5 238.8 296.4 164.4M206.7 325.1Q238.8 239.8 214.4 152M210.5 326.6Q239 239.9 213.7 152.3M205.1 324.4Q238.7 239.8 214.7 151.9M182.6 310Q241.6 238.8 298.7 166.2M188 314.4Q241.5 238.9 293.7 162.6M186.3 313.1Q241.5 238.9 297.5 165.3M184.2 311.4Q241.5 238.9 297.7 165.4M255.5 148.3Q245.6 239.8 267.6 329.2M258.8 148.9Q245.5 240 262.3 330.5M255.3 148.3Q245.4 239.9 262.3 330.5M255.9 148.4Q245.5 239.9 264.3 330M157.5 204.6Q242 241.8 317.2 295.2M156.4 207.5Q242 241.9 318 294.2M157.1 205.6Q241.9 241.9 316.9 295.6"/>
<defs><clipPath id="croc"><path d="M150.5 242.2C150.5 240 151.2 237.1 152.1 234.9C153 232.8 154.4 230.8 156.2 229.3C157.9 227.8 160.2 226.9 162.6 226C165 225.1 168.3 224.2 170.7 223.6C173.1 223 175.3 222.7 177.2 222.3C179.1 221.9 180.4 221.8 182 221.2C183.6 220.6 184.9 219.6 186.8 218.8C188.7 218 191.4 217.1 193.3 216.3C195.2 215.5 196.3 214.8 198.2 213.9C200.1 213 202.4 211.6 204.6 210.7C206.8 209.8 208.9 209.1 211.1 208.3C213.2 207.5 215.1 206.6 217.5 205.8C219.9 205 222.9 204.2 225.6 203.4C228.3 202.6 230.7 201.7 233.7 201C236.7 200.3 240.2 199.6 243.4 199.1C246.6 198.6 249.9 198 253.1 197.8C256.3 197.6 259.6 197.7 262.8 198.1C266 198.5 269.6 199.4 272.5 200.2C275.4 200.9 278.4 201.5 280.5 202.6C282.6 203.7 283.8 205.1 285.4 206.7C287 208.3 288.6 210.3 290.2 212.3C291.8 214.3 293.2 217.2 295.1 218.8C297 220.4 298.9 220.9 301.6 222C304.3 223.1 308 224.4 311.2 225.2C314.4 226 317.9 226.2 320.9 226.8C323.9 227.4 326.6 227.4 329 228.5C331.4 229.6 334.1 231.7 335.5 233.3C336.9 234.9 337.4 236.4 337.1 238.2C336.8 239.9 336 242.2 333.9 243.8C331.8 245.4 328 246.6 324.2 247.9C320.4 249.2 316 250.6 311.2 251.9C306.4 253.2 300.5 254.7 295.1 255.9C289.7 257.1 284.3 257.8 278.9 259.2C273.5 260.6 267.6 262.1 262.8 264C258 265.9 254.2 268.1 249.9 270.5C245.6 272.9 241.2 276.1 236.9 278.5C232.6 280.9 228.3 283.4 224 285C219.7 286.6 215.4 287.9 211.1 288.2C206.8 288.5 202.2 287.4 198.2 286.6C194.1 285.8 190.6 285 186.8 283.4C183 281.8 179.3 279.6 175.5 276.9C171.7 274.2 167.4 270.7 164.2 267.2C161 263.7 158.2 259.1 156.2 255.9C154.2 252.7 153 250.2 152.1 247.9C151.2 245.6 150.5 244.4 150.5 242.2z"/></clipPath><radialGradient id="cb" cx="212" cy="244" r="52" gradientUnits="userSpaceOnUse" gradientTransform="translate(212 244) scale(1 0.77) translate(-212 -244)"><stop offset="0" stop-color="#3f3225" stop-opacity="0.92"/><stop offset="0.6" stop-color="#3f3225" stop-opacity="0.69"/><stop offset="1" stop-color="#3f3225" stop-opacity="0"/></radialGradient><radialGradient id="cj" cx="262" cy="266" r="40" gradientUnits="userSpaceOnUse" gradientTransform="translate(262 266) scale(1 0.25) translate(-262 -266)"><stop offset="0" stop-color="#c7b79c" stop-opacity="1.0"/><stop offset="0.6" stop-color="#c7b79c" stop-opacity="0.75"/><stop offset="1" stop-color="#c7b79c" stop-opacity="0"/></radialGradient><radialGradient id="cs" cx="322" cy="238" r="18" gradientUnits="userSpaceOnUse" gradientTransform="translate(322 238) scale(1 0.56) translate(-322 -238)"><stop offset="0" stop-color="#8f8880" stop-opacity="0.8"/><stop offset="0.6" stop-color="#8f8880" stop-opacity="0.6"/><stop offset="1" stop-color="#8f8880" stop-opacity="0"/></radialGradient><radialGradient id="cn" cx="168" cy="258" r="26" gradientUnits="userSpaceOnUse" gradientTransform="translate(168 258) scale(1 1.23) translate(-168 -258)"><stop offset="0" stop-color="#4a4641" stop-opacity="1.0"/><stop offset="0.6" stop-color="#4a4641" stop-opacity="0.75"/><stop offset="1" stop-color="#4a4641" stop-opacity="0"/></radialGradient></defs>
<g clip-path="url(#croc)">
<rect x="148" y="195" width="192" height="96" fill="#b9b1a3"/>
<rect x="148" y="195" width="192" height="96" fill="url(#cb)"/>
<rect x="148" y="195" width="192" height="96" fill="url(#cj)"/>
<rect x="148" y="195" width="192" height="96" fill="url(#cs)"/>
<rect x="148" y="195" width="192" height="96" fill="url(#cn)"/>
<g fill="#cdbfa5" fill-opacity="0.7"><ellipse cx="197.8" cy="206.4" rx="1" ry="0.9"/><ellipse cx="201.2" cy="207.2" rx="1.8" ry="1.3"/><ellipse cx="205" cy="206.2" rx="1.1" ry="1.1"/><ellipse cx="207.6" cy="206.5" rx="1.2" ry="1"/><ellipse cx="211.4" cy="207.1" rx="1.3" ry="1"/><ellipse cx="216.2" cy="205.9" rx="1.6" ry="1.2"/><ellipse cx="219.9" cy="206.1" rx="1.5" ry="1.4"/><ellipse cx="222.8" cy="207.1" rx="1.4" ry="1.1"/><ellipse cx="226.4" cy="206.8" rx="1.3" ry="1.1"/><ellipse cx="184.6" cy="210.8" rx="1.5" ry="1.3"/><ellipse cx="189.3" cy="209.4" rx="1.2" ry="1.1"/><ellipse cx="191.3" cy="210.7" rx="1.4" ry="1.2"/><ellipse cx="196.8" cy="209.3" rx="1" ry="0.9"/><ellipse cx="199.7" cy="210.6" rx="1.2" ry="1.1"/><ellipse cx="203.3" cy="210.1" rx="1" ry="1"/><ellipse cx="206" cy="210.3" rx="1.8" ry="1.3"/><ellipse cx="210.1" cy="210.7" rx="1.2" ry="1.2"/><ellipse cx="214.4" cy="210.3" rx="1.8" ry="1.6"/><ellipse cx="216.6" cy="210.5" rx="1.6" ry="1.3"/><ellipse cx="220.2" cy="209.6" rx="1.4" ry="1.1"/><ellipse cx="225.6" cy="209.5" rx="1.2" ry="0.9"/><ellipse cx="228.7" cy="210.5" rx="1.2" ry="1"/><ellipse cx="232.6" cy="210.2" rx="1.2" ry="1.2"/><ellipse cx="235.9" cy="209.7" rx="1.4" ry="1.2"/><ellipse cx="182.9" cy="214.2" rx="1.6" ry="1.4"/><ellipse cx="186.4" cy="213.8" rx="1.3" ry="1"/><ellipse cx="189.7" cy="213" rx="1.1" ry="0.9"/><ellipse cx="194.7" cy="213.6" rx="1.3" ry="1.2"/><ellipse cx="198.4" cy="213.1" rx="1.7" ry="1.7"/><ellipse cx="200.9" cy="212.8" rx="1.5" ry="1.5"/><ellipse cx="204.5" cy="213.2" rx="1.2" ry="0.9"/><ellipse cx="208.7" cy="213.2" rx="1.7" ry="1.4"/><ellipse cx="211.3" cy="213.8" rx="1.8" ry="1.3"/><ellipse cx="216.5" cy="213.8" rx="1.6" ry="1.6"/><ellipse cx="219.3" cy="213.6" rx="1.1" ry="0.9"/><ellipse cx="222.9" cy="213.1" rx="1.3" ry="1.1"/><ellipse cx="227.1" cy="213.3" rx="1.7" ry="1.3"/><ellipse cx="230.3" cy="213.5" rx="1.2" ry="1.2"/><ellipse cx="234.6" cy="212.9" rx="1.6" ry="1.2"/><ellipse cx="236.9" cy="214.2" rx="1.8" ry="1.7"/><ellipse cx="240.5" cy="213.9" rx="1.8" ry="1.3"/><ellipse cx="245.1" cy="213.9" rx="1.7" ry="1.5"/><ellipse cx="182.1" cy="217.2" rx="1.6" ry="1.2"/><ellipse cx="185.1" cy="217.3" rx="1" ry="0.9"/><ellipse cx="188.9" cy="216.4" rx="1.8" ry="1.3"/><ellipse cx="191.4" cy="217.3" rx="1.8" ry="1.7"/><ellipse cx="195.9" cy="216.7" rx="1.2" ry="0.8"/><ellipse cx="198.8" cy="217.2" rx="1.2" ry="1.2"/><ellipse cx="202.3" cy="216.6" rx="1.3" ry="1.3"/><ellipse cx="206.3" cy="216.5" rx="1.6" ry="1.1"/><ellipse cx="210.1" cy="216.5" rx="1.8" ry="1.5"/><ellipse cx="213.8" cy="217.7" rx="1.5" ry="1.5"/><ellipse cx="217.3" cy="217.6" rx="1.3" ry="1.1"/><ellipse cx="221.9" cy="217.2" rx="1.1" ry="1"/><ellipse cx="225" cy="216.4" rx="1.4" ry="1.2"/><ellipse cx="227.6" cy="217.3" rx="1.4" ry="1.2"/><ellipse cx="231.9" cy="217.2" rx="1.6" ry="1.4"/><ellipse cx="236.3" cy="217.6" rx="1.4" ry="1"/><ellipse cx="239" cy="216.8" rx="1.7" ry="1.4"/><ellipse cx="241.7" cy="216.5" rx="1.7" ry="1.3"/><ellipse cx="247" cy="216.9" rx="1.4" ry="1.3"/><ellipse cx="183.4" cy="220.1" rx="1.2" ry="1.2"/><ellipse cx="186.9" cy="219.8" rx="1.4" ry="1.3"/><ellipse cx="190.8" cy="219.9" rx="1.3" ry="1"/><ellipse cx="193.4" cy="220.1" rx="1.7" ry="1.4"/><ellipse cx="198.2" cy="220.3" rx="1.7" ry="1.2"/><ellipse cx="200.9" cy="220" rx="1.2" ry="1.1"/><ellipse cx="204.2" cy="221.1" rx="1.5" ry="1.4"/><ellipse cx="207.4" cy="219.8" rx="1" ry="1"/><ellipse cx="211.9" cy="219.8" rx="1.2" ry="1"/><ellipse cx="215.1" cy="220.2" rx="1.2" ry="0.9"/><ellipse cx="219.1" cy="219.9" rx="1.5" ry="1.4"/><ellipse cx="222.2" cy="220.7" rx="1.5" ry="1.2"/><ellipse cx="226.2" cy="219.9" rx="1.5" ry="1.5"/><ellipse cx="230.6" cy="220" rx="1.3" ry="1.1"/><ellipse cx="233.2" cy="221.2" rx="1.7" ry="1.4"/><ellipse cx="236.7" cy="220.9" rx="1.4" ry="1.3"/><ellipse cx="241.5" cy="221.3" rx="1.6" ry="1.2"/><ellipse cx="244.5" cy="220.8" rx="1.1" ry="1.1"/><ellipse cx="247.5" cy="221.1" rx="1" ry="0.7"/><ellipse cx="250.6" cy="219.8" rx="1.1" ry="0.8"/><ellipse cx="182.1" cy="224.2" rx="1.1" ry="0.9"/><ellipse cx="185.7" cy="223.4" rx="1.5" ry="1.4"/><ellipse cx="188.2" cy="223.2" rx="1.3" ry="1.2"/><ellipse cx="193" cy="224.2" rx="1.1" ry="0.8"/><ellipse cx="195.8" cy="223.6" rx="1.1" ry="0.8"/><ellipse cx="200" cy="223.8" rx="1.7" ry="1.7"/><ellipse cx="202.7" cy="224.3" rx="1.2" ry="0.9"/><ellipse cx="206" cy="224" rx="1.1" ry="1"/><ellipse cx="210.6" cy="223.4" rx="1.2" ry="1"/><ellipse cx="214.7" cy="224.6" rx="1.2" ry="1"/><ellipse cx="217.9" cy="224" rx="1.2" ry="1.2"/><ellipse cx="220" cy="224.7" rx="1.6" ry="1.4"/><ellipse cx="224.1" cy="223.3" rx="1.3" ry="1.1"/><ellipse cx="228.3" cy="223.5" rx="1.3" ry="1"/><ellipse cx="230.8" cy="224" rx="1.4" ry="1.2"/><ellipse cx="235.3" cy="224.3" rx="1.8" ry="1.4"/><ellipse cx="239.2" cy="224" rx="1.4" ry="1"/><ellipse cx="241.8" cy="224.1" rx="1.5" ry="1.2"/><ellipse cx="245.9" cy="223.4" rx="1.5" ry="1.4"/><ellipse cx="249" cy="223.5" rx="1.2" ry="0.9"/><ellipse cx="253.5" cy="224.5" rx="1.5" ry="1.4"/><ellipse cx="256.6" cy="223.8" rx="1.5" ry="1.5"/><ellipse cx="184" cy="227.8" rx="1.6" ry="1.4"/><ellipse cx="186.9" cy="227.5" rx="1.6" ry="1.3"/><ellipse cx="190.2" cy="228" rx="1.6" ry="1.1"/><ellipse cx="193.6" cy="227.2" rx="1.2" ry="0.9"/><ellipse cx="197.5" cy="227.4" rx="1.5" ry="1.2"/><ellipse cx="201.8" cy="227.9" rx="1.7" ry="1.2"/><ellipse cx="205.4" cy="228.2" rx="1.4" ry="1.2"/><ellipse cx="209.2" cy="227.2" rx="1.7" ry="1.4"/><ellipse cx="212.7" cy="227.9" rx="1.4" ry="1"/><ellipse cx="215.2" cy="227.7" rx="1.3" ry="1"/><ellipse cx="218.7" cy="227.5" rx="1.5" ry="1.3"/><ellipse cx="221.9" cy="227.7" rx="1.1" ry="0.9"/><ellipse cx="225.8" cy="227.8" rx="1.4" ry="1"/><ellipse cx="230" cy="227.4" rx="1.6" ry="1.5"/><ellipse cx="234.6" cy="228.3" rx="1" ry="0.9"/><ellipse cx="237" cy="228" rx="1.2" ry="1.2"/><ellipse cx="240.1" cy="226.9" rx="1.2" ry="1"/><ellipse cx="245" cy="227.3" rx="1.5" ry="1.4"/><ellipse cx="247.2" cy="227.5" rx="1.5" ry="1.4"/><ellipse cx="250.7" cy="227.3" rx="1.5" ry="1.1"/><ellipse cx="254.2" cy="228" rx="1.1" ry="0.9"/><ellipse cx="258.5" cy="227.4" rx="1.7" ry="1.6"/><ellipse cx="184.6" cy="231.5" rx="1.7" ry="1.2"/><ellipse cx="188.8" cy="230.7" rx="1.2" ry="0.9"/><ellipse cx="191.8" cy="230.3" rx="1.1" ry="0.8"/><ellipse cx="195.5" cy="231.7" rx="1.3" ry="1.2"/><ellipse cx="198.8" cy="231.3" rx="1.8" ry="1.3"/><ellipse cx="203.2" cy="231.4" rx="1" ry="0.7"/><ellipse cx="206.5" cy="230.6" rx="1.3" ry="1.1"/><ellipse cx="210.8" cy="230.6" rx="1.7" ry="1.3"/><ellipse cx="214.1" cy="231.6" rx="1.1" ry="1.1"/><ellipse cx="216.4" cy="230.3" rx="1.5" ry="1.3"/><ellipse cx="221.8" cy="231.3" rx="1.1" ry="1"/><ellipse cx="225.5" cy="231.5" rx="1.6" ry="1.2"/><ellipse cx="228.1" cy="231.1" rx="1.1" ry="0.9"/><ellipse cx="231.7" cy="230.8" rx="1.6" ry="1.3"/><ellipse cx="235.4" cy="231.7" rx="1.5" ry="1.3"/><ellipse cx="239.5" cy="231.3" rx="1.4" ry="1.2"/><ellipse cx="242.8" cy="231.7" rx="1.3" ry="1.2"/><ellipse cx="245.7" cy="231" rx="1.2" ry="1"/><ellipse cx="249.2" cy="230.5" rx="1.1" ry="0.8"/><ellipse cx="254.3" cy="231.3" rx="1.2" ry="1"/><ellipse cx="257.7" cy="230.4" rx="1.1" ry="0.8"/><ellipse cx="260.5" cy="230.9" rx="1" ry="0.9"/><ellipse cx="183.4" cy="235.2" rx="1.3" ry="1.2"/><ellipse cx="186.3" cy="235.1" rx="1.5" ry="1.5"/><ellipse cx="190.4" cy="235.2" rx="1.1" ry="1.1"/><ellipse cx="194.1" cy="233.9" rx="1.5" ry="1.2"/><ellipse cx="196.6" cy="233.8" rx="1" ry="0.8"/><ellipse cx="201.9" cy="234.7" rx="1.5" ry="1.1"/><ellipse cx="205.1" cy="234.4" rx="1.1" ry="0.9"/><ellipse cx="209.1" cy="234.8" rx="1.6" ry="1.1"/><ellipse cx="211.5" cy="235.3" rx="1" ry="0.8"/><ellipse cx="215.4" cy="233.8" rx="1.2" ry="1.1"/><ellipse cx="219.5" cy="234.8" rx="1.6" ry="1.5"/><ellipse cx="222" cy="234.1" rx="1" ry="0.8"/><ellipse cx="226.7" cy="234.3" rx="1.5" ry="1.5"/><ellipse cx="229.9" cy="234.6" rx="1.4" ry="1.2"/><ellipse cx="232.8" cy="234.3" rx="1.6" ry="1.5"/><ellipse cx="238" cy="235.1" rx="1.7" ry="1.4"/><ellipse cx="241.8" cy="234.3" rx="1.3" ry="0.9"/><ellipse cx="243.9" cy="234.8" rx="1.6" ry="1.2"/><ellipse cx="248.6" cy="235.2" rx="1.4" ry="1.1"/><ellipse cx="251.7" cy="234.2" rx="1.5" ry="1"/><ellipse cx="254.3" cy="234.3" rx="1.2" ry="1.1"/><ellipse cx="257.9" cy="233.9" rx="1.5" ry="1.4"/><ellipse cx="185.8" cy="238.6" rx="1.6" ry="1.5"/><ellipse cx="188.6" cy="238.5" rx="1.7" ry="1.6"/><ellipse cx="191.4" cy="237.6" rx="1.2" ry="1.1"/><ellipse cx="194.8" cy="238.5" rx="1.7" ry="1.3"/><ellipse cx="198.9" cy="238.5" rx="1.4" ry="1"/><ellipse cx="202.9" cy="237.4" rx="1.6" ry="1.4"/><ellipse cx="206.5" cy="238.7" rx="1.7" ry="1.3"/><ellipse cx="209.9" cy="237.9" rx="1.1" ry="0.8"/><ellipse cx="213.4" cy="238.4" rx="1.4" ry="1"/><ellipse cx="217.8" cy="238.6" rx="1.4" ry="1.1"/><ellipse cx="220.6" cy="238.1" rx="1.1" ry="0.8"/><ellipse cx="224.9" cy="237.4" rx="1.6" ry="1.4"/><ellipse cx="228.7" cy="237.8" rx="1.7" ry="1.3"/><ellipse cx="231" cy="238" rx="1.2" ry="0.8"/><ellipse cx="235.4" cy="238.6" rx="1.3" ry="1.1"/><ellipse cx="239.6" cy="238.6" rx="1.2" ry="1"/><ellipse cx="242.9" cy="237.7" rx="1.1" ry="1"/><ellipse cx="245.6" cy="237.9" rx="1.4" ry="1.2"/><ellipse cx="249.9" cy="238.4" rx="1.8" ry="1.6"/><ellipse cx="252.4" cy="238.8" rx="1.3" ry="1.1"/><ellipse cx="256.6" cy="238.6" rx="1.3" ry="0.9"/><ellipse cx="260.5" cy="237.5" rx="1.3" ry="0.9"/><ellipse cx="182.5" cy="241.8" rx="1.2" ry="1.1"/><ellipse cx="187.4" cy="241.6" rx="1.2" ry="1.1"/><ellipse cx="191.3" cy="240.7" rx="1.6" ry="1.5"/><ellipse cx="194.6" cy="241.5" rx="1.1" ry="0.9"/><ellipse cx="198" cy="241.8" rx="1.1" ry="0.8"/><ellipse cx="200.4" cy="242" rx="1" ry="0.7"/><ellipse cx="204" cy="240.8" rx="1.1" ry="1"/><ellipse cx="209.4" cy="242" rx="1.2" ry="0.9"/><ellipse cx="211.3" cy="242.1" rx="1.2" ry="0.9"/><ellipse cx="215" cy="241.8" rx="1.5" ry="1.5"/><ellipse cx="219.9" cy="241.5" rx="1.5" ry="1.1"/><ellipse cx="223.4" cy="240.9" rx="1.7" ry="1.4"/><ellipse cx="227.2" cy="241.9" rx="1.3" ry="1.1"/><ellipse cx="230.4" cy="241" rx="1" ry="1"/><ellipse cx="232.8" cy="242" rx="1.1" ry="1"/><ellipse cx="237.5" cy="241.3" rx="1.2" ry="1.1"/><ellipse cx="241.1" cy="240.7" rx="1.2" ry="1.1"/><ellipse cx="244.6" cy="241.8" rx="1.2" ry="1.2"/><ellipse cx="248.2" cy="240.9" rx="1.2" ry="1.1"/><ellipse cx="251.6" cy="241.5" rx="1.3" ry="1.1"/><ellipse cx="254.7" cy="242.3" rx="1.4" ry="1.3"/><ellipse cx="258.3" cy="241" rx="1.7" ry="1.3"/><ellipse cx="262.6" cy="241.4" rx="1.4" ry="1.1"/><ellipse cx="185.8" cy="244.5" rx="1.1" ry="0.9"/><ellipse cx="189.2" cy="244.8" rx="1.2" ry="0.9"/><ellipse cx="191.9" cy="244.3" rx="1.3" ry="0.9"/><ellipse cx="195.2" cy="245" rx="1.3" ry="1.3"/><ellipse cx="199.4" cy="244.5" rx="1.1" ry="0.9"/><ellipse cx="203.6" cy="244.5" rx="1.7" ry="1.5"/><ellipse cx="205.9" cy="245" rx="1.2" ry="1.2"/><ellipse cx="209.8" cy="245.6" rx="1.4" ry="1.3"/><ellipse cx="214.7" cy="244.9" rx="1.8" ry="1.3"/><ellipse cx="216.7" cy="245.4" rx="1.5" ry="1.1"/><ellipse cx="221" cy="244.6" rx="1.2" ry="1.2"/><ellipse cx="225.5" cy="245.4" rx="1.1" ry="0.9"/><ellipse cx="228.7" cy="245" rx="1.4" ry="1.1"/><ellipse cx="232.7" cy="244.6" rx="1.3" ry="1"/><ellipse cx="236.2" cy="245.3" rx="1.1" ry="1.1"/><ellipse cx="239.9" cy="244.9" rx="1.6" ry="1.3"/><ellipse cx="243.2" cy="245.7" rx="1" ry="0.8"/><ellipse cx="245.4" cy="244.4" rx="1.1" ry="1"/><ellipse cx="249.1" cy="245.7" rx="1.2" ry="1.1"/><ellipse cx="252.5" cy="245.1" rx="1.3" ry="1.2"/><ellipse cx="257.3" cy="245.2" rx="1.1" ry="0.8"/><ellipse cx="261.2" cy="245.1" rx="1.6" ry="1.2"/><ellipse cx="183.3" cy="248.6" rx="1.3" ry="1"/><ellipse cx="186.8" cy="248.9" rx="1.1" ry="0.8"/><ellipse cx="191" cy="249" rx="1.1" ry="0.9"/><ellipse cx="193.8" cy="248.3" rx="1.6" ry="1.3"/><ellipse cx="197.2" cy="249.3" rx="1.5" ry="1.2"/><ellipse cx="201.5" cy="247.8" rx="1.3" ry="1"/><ellipse cx="203.9" cy="248.7" rx="1.7" ry="1.3"/><ellipse cx="208.9" cy="248.4" rx="1.5" ry="1.1"/><ellipse cx="211.8" cy="248.8" rx="1.1" ry="0.8"/><ellipse cx="216" cy="249" rx="1.6" ry="1.4"/><ellipse cx="219" cy="249" rx="1.3" ry="1"/><ellipse cx="222.2" cy="248.5" rx="1.3" ry="1"/><ellipse cx="226.8" cy="249.1" rx="1.2" ry="0.9"/><ellipse cx="231" cy="248" rx="1.5" ry="1.1"/><ellipse cx="233.5" cy="249.3" rx="1.5" ry="1.4"/><ellipse cx="237.7" cy="248.8" rx="1.5" ry="1.5"/><ellipse cx="241.4" cy="247.8" rx="1.3" ry="1"/><ellipse cx="243.9" cy="247.8" rx="1.1" ry="0.9"/><ellipse cx="249" cy="248.4" rx="1" ry="1"/><ellipse cx="251.7" cy="248.6" rx="1.4" ry="0.9"/><ellipse cx="254.3" cy="248.3" rx="1.7" ry="1.2"/><ellipse cx="258.6" cy="247.8" rx="1.5" ry="1.2"/><ellipse cx="261.9" cy="247.9" rx="1" ry="0.8"/><ellipse cx="184.4" cy="252.4" rx="1" ry="1"/><ellipse cx="188.9" cy="252.3" rx="1.6" ry="1.3"/><ellipse cx="192.2" cy="252.3" rx="1.7" ry="1.7"/><ellipse cx="195.7" cy="252" rx="1.2" ry="1.1"/><ellipse cx="199.3" cy="251.8" rx="1.2" ry="1.1"/><ellipse cx="202.9" cy="251.4" rx="1.2" ry="1"/><ellipse cx="206.8" cy="252.8" rx="1.3" ry="1.2"/><ellipse cx="209.2" cy="251.3" rx="1.8" ry="1.4"/><ellipse cx="213.9" cy="252.8" rx="1.5" ry="1.1"/><ellipse cx="218.3" cy="252" rx="1.7" ry="1.7"/><ellipse cx="221.1" cy="252.6" rx="1.6" ry="1.1"/><ellipse cx="223.8" cy="251.7" rx="1.7" ry="1.2"/><ellipse cx="229" cy="251.7" rx="1.5" ry="1.4"/><ellipse cx="231.5" cy="252.4" rx="1.4" ry="1.2"/><ellipse cx="236.1" cy="252.4" rx="1.7" ry="1.3"/><ellipse cx="238.1" cy="251.8" rx="1.5" ry="1.3"/><ellipse cx="241.9" cy="252.6" rx="1.6" ry="1.6"/><ellipse cx="246.3" cy="251.3" rx="1" ry="0.9"/><ellipse cx="249.6" cy="252.6" rx="1" ry="0.9"/><ellipse cx="253.3" cy="252.7" rx="1.5" ry="1.2"/><ellipse cx="258" cy="252.2" rx="1.8" ry="1.7"/><ellipse cx="261.3" cy="251.2" rx="1.3" ry="1.2"/><ellipse cx="182.8" cy="255.2" rx="1.8" ry="1.5"/><ellipse cx="187.4" cy="255.3" rx="1.3" ry="1"/><ellipse cx="191.3" cy="255.9" rx="1.3" ry="1.1"/><ellipse cx="193.1" cy="255.3" rx="1.3" ry="1.1"/><ellipse cx="198.4" cy="255.9" rx="1.5" ry="1.1"/><ellipse cx="201.5" cy="254.9" rx="1.1" ry="0.8"/><ellipse cx="205.4" cy="255.6" rx="1.3" ry="1.2"/><ellipse cx="208.3" cy="255.4" rx="1.3" ry="1.1"/><ellipse cx="212" cy="255.1" rx="1.6" ry="1.5"/><ellipse cx="214.6" cy="256.3" rx="1.7" ry="1.7"/><ellipse cx="219" cy="255" rx="1.4" ry="1.4"/><ellipse cx="222.2" cy="256" rx="1.6" ry="1.4"/><ellipse cx="226.7" cy="256.2" rx="1.5" ry="1.4"/><ellipse cx="230.8" cy="255.8" rx="1.5" ry="1.4"/><ellipse cx="233" cy="255.8" rx="1.4" ry="1.3"/><ellipse cx="236.6" cy="255.1" rx="1.3" ry="1"/><ellipse cx="241.7" cy="254.8" rx="1.5" ry="1.4"/><ellipse cx="244.3" cy="256.3" rx="1.8" ry="1.5"/><ellipse cx="247.8" cy="255.1" rx="1.2" ry="1.1"/><ellipse cx="252.3" cy="255.8" rx="1.3" ry="1.2"/><ellipse cx="255.3" cy="255" rx="1.2" ry="1.1"/><ellipse cx="258.6" cy="255.9" rx="1.5" ry="1.5"/><ellipse cx="182.2" cy="258.6" rx="1.7" ry="1.3"/><ellipse cx="184.7" cy="259.1" rx="1" ry="1"/><ellipse cx="189.1" cy="259.4" rx="1.6" ry="1.5"/><ellipse cx="192.3" cy="259.7" rx="1.7" ry="1.3"/><ellipse cx="195.5" cy="258.3" rx="1.7" ry="1.2"/><ellipse cx="198.7" cy="259.2" rx="1.5" ry="1.3"/><ellipse cx="202.7" cy="258.5" rx="1.1" ry="1"/><ellipse cx="206.8" cy="258.9" rx="1.1" ry="0.9"/><ellipse cx="210.4" cy="259.1" rx="1.7" ry="1.5"/><ellipse cx="213.6" cy="259.1" rx="1.6" ry="1.3"/><ellipse cx="218.1" cy="259.4" rx="1.6" ry="1.2"/><ellipse cx="221.3" cy="258.8" rx="1.5" ry="1.1"/><ellipse cx="224.4" cy="259" rx="1.5" ry="1.2"/><ellipse cx="227.3" cy="258.3" rx="1.6" ry="1.5"/><ellipse cx="232.4" cy="258.9" rx="1.3" ry="1.2"/><ellipse cx="235.2" cy="259.3" rx="1.5" ry="1.5"/><ellipse cx="239.8" cy="259.5" rx="1.4" ry="1.2"/><ellipse cx="242.4" cy="258.4" rx="1.7" ry="1.2"/><ellipse cx="246.4" cy="258.3" rx="1.8" ry="1.5"/><ellipse cx="249.4" cy="259.3" rx="1.3" ry="0.9"/><ellipse cx="252.9" cy="258.6" rx="1" ry="1"/><ellipse cx="257.6" cy="259.6" rx="1.7" ry="1.4"/><ellipse cx="182.7" cy="261.9" rx="1.1" ry="0.9"/><ellipse cx="186.3" cy="262.5" rx="1.2" ry="0.9"/><ellipse cx="190.7" cy="262.5" rx="1.8" ry="1.3"/><ellipse cx="194.5" cy="261.7" rx="1.6" ry="1.3"/><ellipse cx="197" cy="261.9" rx="1.1" ry="0.9"/><ellipse cx="201.5" cy="261.8" rx="1.5" ry="1.1"/><ellipse cx="205.5" cy="262.1" rx="1.5" ry="1.3"/><ellipse cx="208.6" cy="262.6" rx="1.7" ry="1.2"/><ellipse cx="211.6" cy="261.8" rx="1" ry="0.9"/><ellipse cx="215.9" cy="262.3" rx="1.6" ry="1.5"/><ellipse cx="218.4" cy="262.7" rx="1.5" ry="1.3"/><ellipse cx="222.4" cy="262.5" rx="1.1" ry="0.9"/><ellipse cx="226.6" cy="262" rx="1.1" ry="1"/><ellipse cx="230.4" cy="262.6" rx="1.3" ry="1.1"/><ellipse cx="232.9" cy="262.1" rx="1.1" ry="0.9"/><ellipse cx="237" cy="262.6" rx="1.5" ry="1.2"/><ellipse cx="239.9" cy="262.8" rx="1.6" ry="1.6"/><ellipse cx="245.3" cy="262.4" rx="1.4" ry="1.4"/><ellipse cx="247.4" cy="261.9" rx="1.4" ry="1.2"/><ellipse cx="251.1" cy="262" rx="1.2" ry="1.2"/><ellipse cx="255.9" cy="261.8" rx="1.3" ry="1.2"/><ellipse cx="184.8" cy="265.7" rx="1.4" ry="1.2"/><ellipse cx="188" cy="266" rx="1.7" ry="1.4"/><ellipse cx="191.9" cy="265.3" rx="1.3" ry="1.2"/><ellipse cx="195.5" cy="266.8" rx="1.7" ry="1.3"/><ellipse cx="199.8" cy="265.5" rx="1" ry="1"/><ellipse cx="203" cy="266.3" rx="1.1" ry="1"/><ellipse cx="206.5" cy="266.3" rx="1.4" ry="1.2"/><ellipse cx="209.8" cy="266.6" rx="1.8" ry="1.6"/><ellipse cx="214.6" cy="266.2" rx="1.1" ry="1"/><ellipse cx="217.8" cy="265.8" rx="1.2" ry="1"/><ellipse cx="220.9" cy="265.8" rx="1.4" ry="1.3"/><ellipse cx="224.4" cy="265.2" rx="1" ry="0.8"/><ellipse cx="227.6" cy="266.5" rx="1.7" ry="1.4"/><ellipse cx="232.6" cy="266.1" rx="1.8" ry="1.5"/><ellipse cx="236.1" cy="266.6" rx="1.1" ry="0.9"/><ellipse cx="238.4" cy="266.5" rx="1.5" ry="1.2"/><ellipse cx="242.9" cy="266.8" rx="1.2" ry="1.2"/><ellipse cx="246.8" cy="265.5" rx="1.7" ry="1.2"/><ellipse cx="250.1" cy="265.2" rx="1.5" ry="1.3"/><ellipse cx="253.1" cy="266.5" rx="1.6" ry="1.3"/><ellipse cx="183" cy="268.8" rx="1" ry="0.8"/><ellipse cx="187" cy="269.3" rx="1.2" ry="1.1"/><ellipse cx="190.3" cy="269.5" rx="1.6" ry="1.5"/><ellipse cx="194.4" cy="270.2" rx="1" ry="0.9"/><ellipse cx="197.4" cy="269.9" rx="1.1" ry="1"/><ellipse cx="201.4" cy="269.2" rx="1.7" ry="1.5"/><ellipse cx="205.6" cy="269.7" rx="1.1" ry="1"/><ellipse cx="207.9" cy="270" rx="1.6" ry="1.3"/><ellipse cx="212.8" cy="268.9" rx="1.4" ry="1.3"/><ellipse cx="216.3" cy="268.7" rx="1.7" ry="1.7"/><ellipse cx="219" cy="269.8" rx="1" ry="0.8"/><ellipse cx="223.2" cy="270.2" rx="1.2" ry="0.9"/><ellipse cx="226.6" cy="269.8" rx="1.4" ry="1.2"/><ellipse cx="229.6" cy="270.1" rx="1.3" ry="1.1"/><ellipse cx="232.8" cy="268.8" rx="1.4" ry="1"/><ellipse cx="237.4" cy="270" rx="1.7" ry="1.4"/><ellipse cx="240.3" cy="269" rx="1.8" ry="1.5"/><ellipse cx="244.9" cy="268.8" rx="1.4" ry="1"/><ellipse cx="247.8" cy="269.9" rx="1.7" ry="1.6"/><ellipse cx="182.2" cy="272.8" rx="1.4" ry="1.3"/><ellipse cx="184.5" cy="272.2" rx="1.2" ry="1.2"/><ellipse cx="189.1" cy="272.6" rx="1.1" ry="0.9"/><ellipse cx="192.9" cy="273.7" rx="1.3" ry="1.2"/><ellipse cx="195.7" cy="273.1" rx="1.1" ry="0.8"/><ellipse cx="198.7" cy="272.2" rx="1.3" ry="0.9"/><ellipse cx="203.8" cy="273.1" rx="1.3" ry="1"/><ellipse cx="206" cy="272.9" rx="1.1" ry="0.8"/><ellipse cx="209.5" cy="273.7" rx="1.5" ry="1.4"/><ellipse cx="213" cy="272.5" rx="1.6" ry="1.2"/><ellipse cx="216.7" cy="272.8" rx="1.2" ry="1"/><ellipse cx="220.9" cy="272.8" rx="1.4" ry="1.1"/><ellipse cx="225" cy="273.6" rx="1.5" ry="1.3"/><ellipse cx="227.8" cy="273.6" rx="1.7" ry="1.5"/><ellipse cx="231.2" cy="272.6" rx="1.3" ry="1.2"/><ellipse cx="236.3" cy="273.1" rx="1.2" ry="1.1"/><ellipse cx="238.6" cy="273" rx="1.3" ry="1.2"/><ellipse cx="242.4" cy="273.5" rx="1.4" ry="1.4"/><ellipse cx="246.4" cy="273" rx="1.5" ry="1.4"/><ellipse cx="182.5" cy="276.2" rx="1.3" ry="1.1"/><ellipse cx="186.9" cy="276.2" rx="1.7" ry="1.2"/><ellipse cx="191" cy="276.9" rx="1.7" ry="1.5"/><ellipse cx="194.4" cy="276.2" rx="1.4" ry="1.1"/><ellipse cx="196.7" cy="276.4" rx="1.4" ry="1.1"/><ellipse cx="202" cy="276.4" rx="1.4" ry="1.2"/><ellipse cx="205.8" cy="277.2" rx="1.5" ry="1.4"/><ellipse cx="209.1" cy="276.1" rx="1.8" ry="1.5"/><ellipse cx="211.6" cy="276.1" rx="1.8" ry="1.5"/><ellipse cx="215.2" cy="276.1" rx="1" ry="0.8"/><ellipse cx="218.4" cy="276.1" rx="1.2" ry="1"/><ellipse cx="222.7" cy="277.3" rx="1.4" ry="1.1"/><ellipse cx="226.9" cy="277.2" rx="1.2" ry="0.9"/><ellipse cx="229.8" cy="276.9" rx="1.3" ry="1.1"/><ellipse cx="233.7" cy="276.9" rx="1.7" ry="1.3"/><ellipse cx="237" cy="276.3" rx="1.1" ry="0.9"/><ellipse cx="240.3" cy="276.4" rx="1.8" ry="1.5"/><ellipse cx="191.7" cy="279.5" rx="1.8" ry="1.4"/><ellipse cx="196.6" cy="280.6" rx="1.1" ry="1.1"/><ellipse cx="198.7" cy="280.7" rx="1.2" ry="1.2"/><ellipse cx="203.6" cy="279.7" rx="1.5" ry="1.1"/><ellipse cx="206.8" cy="279.5" rx="1.1" ry="0.9"/><ellipse cx="210.8" cy="280.2" rx="1.4" ry="1.1"/><ellipse cx="214.2" cy="280.8" rx="1.4" ry="1.1"/><ellipse cx="217.6" cy="280.4" rx="1.6" ry="1.4"/><ellipse cx="221.7" cy="279.4" rx="1.8" ry="1.3"/><ellipse cx="223.8" cy="280.5" rx="1.4" ry="1.1"/><ellipse cx="227.5" cy="280.5" rx="1.4" ry="1.1"/><ellipse cx="231.1" cy="279.3" rx="1.2" ry="1.1"/><ellipse cx="234.6" cy="279.6" rx="1.1" ry="0.9"/><ellipse cx="205.4" cy="283" rx="1" ry="0.8"/><ellipse cx="208.5" cy="283.4" rx="1.7" ry="1.3"/><ellipse cx="212.5" cy="284" rx="1.5" ry="1.1"/><ellipse cx="216" cy="283.8" rx="1" ry="0.9"/><ellipse cx="219.6" cy="283.2" rx="1.7" ry="1.5"/><ellipse cx="222.3" cy="282.7" rx="1.6" ry="1.3"/></g>
<path fill="#4a3826" fill-opacity="0.62" d="M325 240.4h1.2v1.7h-1.2zM254.4 249.4h2.1v1.1h-2.1zM222 243.3h2.3v1.6h-2.3zM316.4 238.7h2.3v1.2h-2.3zM282.5 244h1.2v1.1h-1.2zM267 246.6h1.4v1.1h-1.4zM254.3 242.2h2.5v1.8h-2.5zM245 243.6h1.8v1.4h-1.8zM304 236.3h1.6v1.2h-1.6zM280.4 245.8h2v1.7h-2zM326.6 240.9h1.7v0.9h-1.7zM315.6 240.7h1.7v1h-1.7zM227.4 240.3h2.3v1.8h-2.3zM311.4 243.3h2.3v1.8h-2.3zM244.9 248.7h2.2v1.8h-2.2zM306.3 239.9h2.4v0.9h-2.4zM280.8 243.8h1.3v1.1h-1.3zM266.8 248.4h2.6v1.1h-2.6zM232 240.8h1.6v1.3h-1.6zM253.3 241.6h1.4v1.3h-1.4zM327.5 241.3h2v1.1h-2zM332.4 237.8h2.3v1.8h-2.3zM304.7 242.8h2.1v1.2h-2.1zM285.6 241.8h1.5v1.5h-1.5zM270.7 237.2h1.7v1.1h-1.7zM291.4 243.5h2v1.7h-2zM257 240.2h2.1v1.1h-2.1zM270.1 240.1h1.2v1.3h-1.2zM333.9 239.5h1.5v1.7h-1.5zM294.6 242.8h1.9v1h-1.9zM309.7 238.4h2.5v1.3h-2.5zM233.6 244.3h1.8v0.9h-1.8zM251.5 249.8h1.2v1.2h-1.2zM238 250.1h1.6v1.5h-1.6zM262.7 245.7h1.3v0.9h-1.3zM231.8 243.5h1.7v1.2h-1.7zM227.9 248.8h1.5v1.3h-1.5zM292.3 243.1h2.1v1.3h-2.1zM306 240.3h2.3v1.1h-2.3zM257 240h1.7v1.1h-1.7zM224.3 241.5h2.3v0.9h-2.3zM250.4 244.7h2.6v1.7h-2.6zM256.8 247.2h2v1.2h-2zM278.7 242.1h1.4v1.5h-1.4zM305.8 240.6h1.7v1.1h-1.7zM266.1 247.2h2v1.5h-2zM280.7 245.1h2.2v1.4h-2.2zM262.8 242.9h2v1.3h-2zM310.7 240.8h2.2v1.2h-2.2zM306.1 236.3h2.2v1.1h-2.2zM243.6 250h1.5v1.7h-1.5zM295.7 240.9h1.5v1.5h-1.5zM223.8 250.6h1.6v1.2h-1.6zM247.7 247.3h2.4v1h-2.4zM279.7 242.4h1.7v1.7h-1.7zM323.4 239.3h1.6v1.3h-1.6zM285.4 241.8h1.6v1.2h-1.6zM242.1 247h2.3v1.2h-2.3zM323.1 236h2.4v1.3h-2.4zM242.3 240.8h1.5v1.5h-1.5zM326.1 240.8h1.8v1.3h-1.8zM232.5 239.9h1.3v1.1h-1.3zM269.8 240.2h1.6v1.2h-1.6zM266.1 244.5h1.5v1h-1.5zM261.7 238.3h2.1v1h-2.1zM230.5 243.5h1.9v1h-1.9zM321.4 235.8h2.1v1.7h-2.1zM233.2 248.2h2.6v1.1h-2.6zM303.1 240.1h1.8v1.3h-1.8zM315 241h2v1.3h-2zM323.8 236.5h2.5v1h-2.5zM257.1 241.5h1.5v1.3h-1.5zM249.4 243.1h1.3v1.4h-1.3zM325 241.4h2.5v1.2h-2.5zM318.4 238.5h2.4v1.2h-2.4zM260.9 239.1h1.8v1.1h-1.8zM296.3 242.7h1.4v1.3h-1.4zM295.5 245.1h2.4v1.3h-2.4zM324.2 235h1.4v1.7h-1.4zM306.8 237.7h2.1v1.4h-2.1zM254.3 244.5h2v1.7h-2zM245 243.3h2.5v1.7h-2.5zM293.7 239.1h2.1v1.7h-2.1zM273.5 238h2.5v1h-2.5zM262.7 243.2h1.8v1.8h-1.8zM234.1 242.2h1.7v1.2h-1.7zM279.7 239.3h1.3v1.4h-1.3zM294.4 238.7h2.3v1.6h-2.3zM243.7 250.6h2.4v1.5h-2.4zM296.3 242.8h1.4v1.4h-1.4zM285 245.8h1.6v1.4h-1.6zM308.6 242.2h1.3v1.2h-1.3zM223.7 248.6h1.7v1.7h-1.7zM260.7 247.1h2.1v1.7h-2.1zM256.2 239.2h1.4v0.9h-1.4zM325.8 237.3h2.1v1.7h-2.1zM225.1 242.9h2.1v1.1h-2.1zM314.4 240.6h2.2v1.3h-2.2zM274.8 240.5h1.5v1.7h-1.5zM252 249.7h2.1v1.8h-2.1zM270.5 247.9h1.7v1.4h-1.7zM252.6 238h2.4v1h-2.4zM268.7 245.4h1.3v1.2h-1.3zM255.9 246.1h1.3v1.6h-1.3zM243 243.6h1.7v1.2h-1.7zM298.8 238.5h2.1v1.3h-2.1zM300.8 236.4h1.8v1.5h-1.8zM264.2 243.2h1.3v1.7h-1.3zM313.8 243h2.4v1.1h-2.4zM250.7 239.1h1.3v1.6h-1.3zM302.7 236h1.4v1.4h-1.4zM277.4 243.8h1.6v1.7h-1.6zM248 242.3h2.5v1.4h-2.5zM223.6 247.7h1.4v1.3h-1.4zM269.9 239.8h1.5v1.2h-1.5zM313.1 237.9h2.4v1h-2.4zM308.9 237.5h1.4v1.6h-1.4zM310.5 241.1h1.6v0.9h-1.6zM312 237.7h1.6v1.3h-1.6zM240.5 242.9h2.1v1.6h-2.1zM226.5 251.1h2.1v1.3h-2.1zM289.4 242.1h2.1v1h-2.1zM230.5 249.5h2.3v1.4h-2.3zM222.4 247.7h1.8v1.7h-1.8zM292.7 239.7h1.5v1.1h-1.5zM289.8 237.7h1.5v1.6h-1.5zM269.8 244.8h2.1v1.6h-2.1zM296.5 239.4h2.2v1h-2.2zM238.8 246.7h1.4v1.1h-1.4zM251.8 245.1h1.5v1.6h-1.5zM275.2 241h2.3v1.6h-2.3zM226 251.1h1.4v1.5h-1.4zM310.9 243h1.7v1h-1.7zM244 244.2h1.6v1h-1.6zM326.8 238.6h2.4v1.1h-2.4zM227.1 242.2h1.3v1.8h-1.3zM228.3 246.9h1.6v1.3h-1.6zM302.4 239.8h1.6v1.4h-1.6zM274.1 245.1h1.6v1.3h-1.6zM294.1 238.9h2.2v1.1h-2.2zM233.8 245.3h1.7v1.5h-1.7zM316.8 237.8h1.2v1.1h-1.2zM234.4 242.2h1.4v1.1h-1.4zM275.5 243.6h2.2v1h-2.2zM314.9 238.4h1.2v1.8h-1.2zM333.9 237.2h2.4v0.9h-2.4zM257.4 249.3h2.1v1.3h-2.1zM314.4 242.6h1.3v1.5h-1.3zM330.1 234.7h1.8v1.2h-1.8zM269.2 241.9h1.9v1.8h-1.9zM321.7 239h2.3v1.8h-2.3zM222.9 249.4h1.2v1.4h-1.2zM263 240.4h2.1v1.5h-2.1zM300.4 240.1h2.3v1.7h-2.3zM311.6 242.8h2.3v1.6h-2.3zM229.9 239.9h1.7v1.7h-1.7zM239.7 247.5h1.5v1.5h-1.5zM229.1 243.7h1.6v1.5h-1.6zM231.5 247.2h1.5v1.2h-1.5zM271.6 243.4h1.5v1.6h-1.5zM267.1 239.1h2.5v1.3h-2.5zM281.4 246h1.9v1.6h-1.9zM246.9 247.4h2.5v1.3h-2.5zM269 242.9h2.5v0.9h-2.5zM320 240.3h1.8v1h-1.8zM319 240.6h2v1.7h-2zM290.6 238.2h2.5v1.6h-2.5zM236.1 249.5h2.2v1.4h-2.2zM317.9 238.4h1.5v1.1h-1.5zM303.3 235.8h1.6v0.9h-1.6zM332.6 239.4h2.2v1.2h-2.2zM271.6 238.4h1.2v1.4h-1.2zM317.1 236h2.1v1.7h-2.1zM293.5 241.7h2.3v1.1h-2.3zM314.2 241h1.7v1.6h-1.7zM266.4 243.7h2v1.2h-2zM253.1 239.3h1.4v1.6h-1.4zM224.4 243.3h1.9v1.5h-1.9zM262.8 242.8h2.5v1.7h-2.5zM291 243.3h2.3v1.6h-2.3zM282.3 243h2.5v1.2h-2.5zM321.9 241.4h2.5v1.6h-2.5zM295.9 237.8h2.5v1.3h-2.5zM288.2 236.6h1.3v1.6h-1.3zM254.3 247h1.6v1.5h-1.6zM326.8 237.2h1.6v1h-1.6zM307.5 240.8h2.2v1.4h-2.2zM276.3 245.8h1.5v1.7h-1.5zM252.1 247.5h2.4v1.7h-2.4zM325.7 239.8h2.1v1.4h-2.1zM237.7 249.4h1.2v1h-1.2zM239.3 248.7h2.4v0.9h-2.4zM290.4 244.3h1.4v1.7h-1.4zM272.7 245.7h1.8v1.1h-1.8zM278.5 240.6h1.5v1.3h-1.5zM245.3 242.1h2.5v1.8h-2.5zM306.1 236.3h1.7v1.7h-1.7zM232.4 243.6h1.7v1.6h-1.7zM297.4 244.6h1.8v1.1h-1.8zM235.5 244.9h1.9v1.5h-1.9zM256.2 248.9h1.2v1.2h-1.2zM296 241.4h1.6v1h-1.6zM236.7 246.9h1.3v1.3h-1.3zM313.4 237.2h1.7v1.4h-1.7zM256.7 240.5h1.6v1.2h-1.6zM262.3 240.1h2.4v1h-2.4zM240.3 241.7h2v1.2h-2zM319 236.3h1.9v1.3h-1.9zM290.5 239.5h2.1v1.6h-2.1zM332.7 237h2.4v1.5h-2.4zM268.5 240.8h1.7v1.2h-1.7zM292.4 242.8h2.1v1.7h-2.1zM312.2 238.7h2.3v1.5h-2.3zM318.3 237.1h2.3v0.9h-2.3zM252.9 244.1h2v1.7h-2zM315.9 241h1.6v1.2h-1.6zM248.8 242.2h1.4v1.3h-1.4zM239.1 249h2v1.8h-2zM249.3 248.4h1.8v1.6h-1.8zM224.3 252.6h1.6v1h-1.6zM265.1 247h1.3v0.9h-1.3zM322.8 239.2h2.1v1.5h-2.1zM267.4 239h1.9v1.2h-1.9zM229 238.9h1.3v1.7h-1.3zM273.2 241.6h1.9v1.1h-1.9zM261 247.5h1.9v1.5h-1.9zM262.2 242.7h2.6v1h-2.6zM245.4 249.7h1.2v1.8h-1.2zM299.5 238.5h2.4v1.2h-2.4zM224.5 250.5h1.7v1h-1.7zM224.3 241.1h2.4v1.1h-2.4zM270.8 241.4h1.6v1.3h-1.6zM291.2 240.9h1.8v1.3h-1.8zM251.7 247.8h2.1v1.3h-2.1zM296.1 241.9h1.6v1.1h-1.6zM297.8 238h1.6v1h-1.6zM291.5 237.5h1.3v0.9h-1.3zM252.8 248.8h1.9v1.4h-1.9zM252.1 239h2.1v1.6h-2.1zM273 240h2v1.4h-2zM331.7 237.2h2.2v1.5h-2.2zM310.3 238h2.3v1.6h-2.3zM302.7 235.8h1.6v1h-1.6zM250.8 242h1.9v1.4h-1.9zM331.4 236.2h2.1v1.6h-2.1zM276 245.1h1.3v1.1h-1.3zM281.5 244.4h1.5v1.7h-1.5zM230.4 247.9h2.1v1.8h-2.1zM332 237.8h1.8v1.4h-1.8zM268.2 246.3h2v1.3h-2zM330.1 239.5h1.6v1.5h-1.6zM252.2 249.2h2.2v1.1h-2.2zM229.2 241.8h2.5v1.3h-2.5zM298.5 241.8h1.8v1h-1.8zM283.3 243.4h2.2v1h-2.2zM274.5 237.6h1.8v1.7h-1.8zM298.7 242.4h2.5v1h-2.5zM237.5 239.2h1.6v1.4h-1.6zM325 235.3h2v1.1h-2zM275.7 239.6h1.9v1.4h-1.9zM306 243h1.7v1.5h-1.7zM222.9 249.1h1.8v1.3h-1.8zM280.1 241.6h2.4v1h-2.4zM243.6 250.2h1.5v1.5h-1.5zM293.6 238.1h1.4v1.5h-1.4zM315.7 237.1h2.3v1.7h-2.3zM303.9 241.2h2.2v1h-2.2zM290.9 243.3h2.1v1h-2.1zM318.7 239.2h2.5v1.5h-2.5zM234.6 242.3h1.5v1.5h-1.5zM223.8 241.9h2.1v1.4h-2.1zM312.2 241.8h2.5v1h-2.5zM322.4 242.4h2.3v1.6h-2.3zM280.6 240h2.4v1.4h-2.4zM243 243.9h2.5v1.2h-2.5zM318.4 236h2.5v1.5h-2.5zM284.7 237h1.6v1h-1.6zM284.7 236.5h2v1.2h-2zM276.8 247.1h2v1.5h-2zM315 236.8h2.2v1.5h-2.2zM249.9 246.1h2.5v1.7h-2.5zM296.3 238.1h1.5v1h-1.5zM238.3 249h1.8v1.1h-1.8zM259.7 243.5h1.5v1.8h-1.5zM300 241.3h2.1v1.3h-2.1zM281.9 242.8h2.6v1.5h-2.6zM261.3 242.5h1.8v1.4h-1.8zM266.7 246.7h2.5v1.7h-2.5zM283.9 240.8h2.4v1.1h-2.4zM282.9 240.5h2.1v1.1h-2.1zM287 237.3h1.2v1.3h-1.2zM295.3 241.4h1.2v1h-1.2zM232.1 240.1h1.9v1.3h-1.9zM326.7 240.6h2.1v1.2h-2.1zM254.1 242.9h2.6v1.7h-2.6zM262 239.5h1.3v1h-1.3zM227.5 243.1h1.5v1.5h-1.5zM273.7 246.5h2.6v1h-2.6zM319.1 238.9h1.7v1.3h-1.7zM243.5 250.4h2.5v0.9h-2.5zM300.1 241h2.3v1h-2.3zM316.4 239.5h2.1v1.4h-2.1zM230 241h1.8v0.9h-1.8zM264 238.5h1.5v1.6h-1.5zM290.4 239.3h1.3v1.5h-1.3zM327.8 238.9h2.1v1.2h-2.1zM267 243.2h2.5v1.6h-2.5zM284.8 244.8h2.1v1.3h-2.1zM227.5 249.1h1.8v1h-1.8zM233.2 250.5h2.5v1.4h-2.5zM314.9 240h1.8v1.3h-1.8zM254.8 246.7h1.6v1h-1.6zM275.4 241.2h2.6v1h-2.6zM298.1 242.4h2.4v1.2h-2.4zM258.4 241.5h1.6v0.9h-1.6zM257.4 241.3h2.5v1.3h-2.5zM259.1 245.5h1.5v1.5h-1.5zM267.6 238.5h1.8v1.2h-1.8zM231.1 247.7h1.2v1h-1.2zM249.5 238.1h2.2v1.4h-2.2zM268 240h1.7v1.5h-1.7zM250.8 243.3h1.4v1.6h-1.4zM280.2 242h1.8v1.1h-1.8zM240.6 246.8h2.2v1.3h-2.2zM314.9 242.3h1.5v1.6h-1.5zM281.3 242.5h2.4v1h-2.4zM282.8 240.4h1.4v1.6h-1.4zM316.4 238.9h1.4v1.8h-1.4zM326.1 241.5h1.9v1.4h-1.9zM272.9 239.8h2.5v1h-2.5zM319.3 241.1h2.1v1.7h-2.1zM299.1 243.2h2v1.2h-2zM282.2 239.5h1.5v0.9h-1.5zM245.3 239.5h1.6v1.6h-1.6zM279.8 245.2h2v1.8h-2zM229.8 243.6h2.3v1.3h-2.3zM259.8 239.7h1.9v1.4h-1.9zM272.7 237.1h1.9v1h-1.9zM318.8 235.7h1.6v1h-1.6zM257 243.9h2.2v1.3h-2.2zM244.9 245h1.9v1.7h-1.9zM226 242.6h1.7v1.7h-1.7zM315.2 235.9h1.8v1.5h-1.8zM263.3 241.2h1.7v1.1h-1.7zM273 244.5h1.8v1.6h-1.8zM300 241.5h2v1.4h-2zM323.6 240.2h2.6v1.2h-2.6zM333 239.7h1.8v1.4h-1.8zM232.3 247.3h2.5v1.7h-2.5zM328.9 235.2h2.5v0.9h-2.5zM319.6 235.8h2v1.5h-2zM249.7 250.1h2.4v1.4h-2.4zM233.4 248.5h2.2v1.1h-2.2zM252.4 239.5h1.8v1.7h-1.8zM243.4 244h2v1.8h-2zM275 243.5h2.5v1.4h-2.5zM263.1 238.1h2.6v1.8h-2.6zM306.2 236.8h1.6v1.2h-1.6zM261 248.8h2.2v1.7h-2.2zM321.7 236.7h1.3v1.7h-1.3zM297.2 242.7h2.2v1.5h-2.2zM222.7 247.6h2v1.2h-2zM277.2 244.4h1.5v1.8h-1.5zM263.7 246.5h2.2v1.3h-2.2zM261.6 238.3h1.3v1.6h-1.3zM315.9 238.7h2.1v1.6h-2.1zM245.7 244h2.1v1.8h-2.1zM328.4 235.2h2.1v1.3h-2.1zM323.9 237.9h1.8v1.4h-1.8zM258.6 238.1h1.8v1.8h-1.8zM324.5 235.3h2.1v1.5h-2.1zM231.1 246.4h1.3v1.3h-1.3zM279.6 239.9h1.7v1.7h-1.7zM297.4 241.6h1.7v1.1h-1.7zM311.5 242h1.7v1.3h-1.7zM317.6 239.4h1.8v1.2h-1.8zM251.1 247.8h2.4v1.5h-2.4zM255.1 242h1.3v1.6h-1.3zM311 237.4h2v1.4h-2zM228 251.4h2.2v1.1h-2.2zM257 237.6h1.5v1.3h-1.5zM285 245.8h1.9v1h-1.9zM320.3 238.1h1.3v1.6h-1.3zM284.5 237.5h2.3v1.3h-2.3zM285 238.3h1.5v0.9h-1.5zM313.2 242.6h1.2v1.1h-1.2zM257.6 239.6h2.1v1.4h-2.1zM325.2 241.8h2.2v1.7h-2.2zM267.3 245.8h1.5v1.2h-1.5zM304.3 239.2h2.3v1.8h-2.3zM261.1 243.1h1.4v1.2h-1.4zM268.3 241.5h1.3v1.3h-1.3zM330.3 237.2h2v0.9h-2zM269.7 243.5h1.9v1.4h-1.9zM318.7 239.7h1.8v1.7h-1.8zM267.4 245.6h1.7v1.7h-1.7zM233.3 248.4h2.3v1.6h-2.3zM253 244.9h1.8v1.2h-1.8zM229.9 244.9h1.6v1.7h-1.6zM299.4 237.2h2.2v1.5h-2.2zM295.8 236.9h1.9v1.1h-1.9zM296.8 236.1h2.2v1.1h-2.2zM293.2 241.1h1.6v1.4h-1.6zM263.3 246.6h2.3v1.2h-2.3zM271.1 245h2v0.9h-2zM234.8 241h2.6v1h-2.6zM276 240.4h1.9v1.1h-1.9zM230.3 245.7h1.8v1.7h-1.8zM267.5 243.3h2.5v1.6h-2.5zM235.8 240.1h2.4v0.9h-2.4zM236.5 239.7h1.7v1h-1.7zM256 249.4h1.5v1.7h-1.5zM304 237.2h1.5v1.7h-1.5zM299.3 240.3h1.5v1.3h-1.5zM322.1 241.6h1.9v1.1h-1.9zM256.1 246.2h2v1.5h-2zM245.4 238.9h1.7v1.5h-1.7zM333.2 240.9h1.5v1.3h-1.5zM261.6 240.7h2.3v0.9h-2.3zM321.9 235.7h1.2v1.6h-1.2z"/>
<path d="M163 226 Q145 258 179 292" stroke="#2e2a26" stroke-width="2.0" stroke-opacity="0.55" fill="none"/>
<path d="M169.2 226 Q151.2 258 185.2 292" stroke="#b5ada2" stroke-width="2.0" stroke-opacity="0.55" fill="none"/>
<path d="M175.4 226 Q157.4 258 191.4 292" stroke="#2e2a26" stroke-width="2.0" stroke-opacity="0.55" fill="none"/>
<path d="M181.6 226 Q163.6 258 197.6 292" stroke="#b5ada2" stroke-width="2.0" stroke-opacity="0.55" fill="none"/>
<path d="M187.8 226 Q169.8 258 203.8 292" stroke="#2e2a26" stroke-width="2.0" stroke-opacity="0.55" fill="none"/>
<path d="M194 226 Q176 258 210 292" stroke="#b5ada2" stroke-width="2.0" stroke-opacity="0.55" fill="none"/>
<path fill="#6e665c" fill-opacity="0.5" d="M255.9 199.5h1v0.8h-1zM238 228.9h1v0.8h-1zM277.6 205h1v0.8h-1zM281.3 224.5h1v0.8h-1zM295 231.2h1v0.8h-1zM305.5 233.7h1v0.8h-1zM221.5 201.5h1v0.8h-1zM224.1 210.3h1v0.8h-1zM309.2 208.6h1v0.8h-1zM333.4 198.9h1v0.8h-1zM257.5 232.1h1v0.8h-1zM223.4 230.3h1v0.8h-1zM242.1 197h1v0.8h-1zM280.5 202.5h1v0.8h-1zM221.6 225.7h1v0.8h-1zM255.4 222.8h1v0.8h-1zM314.5 206.4h1v0.8h-1zM287.6 205.3h1v0.8h-1zM300.7 207.8h1v0.8h-1zM276.5 205.7h1v0.8h-1zM249.3 220.1h1v0.8h-1zM323 219.8h1v0.8h-1zM230.8 197.1h1v0.8h-1zM283.5 218.5h1v0.8h-1zM254.2 225.4h1v0.8h-1zM223.2 235.4h1v0.8h-1zM243.6 209.4h1v0.8h-1zM296.2 228.5h1v0.8h-1zM326.4 210.2h1v0.8h-1zM232.2 202.9h1v0.8h-1zM236.5 212.4h1v0.8h-1zM289.6 224.5h1v0.8h-1zM235.3 197.1h1v0.8h-1zM233.2 228.7h1v0.8h-1zM246.2 228.9h1v0.8h-1zM286.1 234.6h1v0.8h-1zM317.5 198.8h1v0.8h-1zM325.4 208h1v0.8h-1zM298.2 210.9h1v0.8h-1zM217.1 219.1h1v0.8h-1zM274.5 225.4h1v0.8h-1zM243.1 235.6h1v0.8h-1zM253.1 221.6h1v0.8h-1zM320.6 200.8h1v0.8h-1zM315.2 228.7h1v0.8h-1zM285.4 227.7h1v0.8h-1zM327.2 229.4h1v0.8h-1zM227.7 219.1h1v0.8h-1zM229.3 220.5h1v0.8h-1zM264.6 222.4h1v0.8h-1zM287.2 224.8h1v0.8h-1zM277 200h1v0.8h-1zM220 204.2h1v0.8h-1zM251.1 215.2h1v0.8h-1zM294.7 207.9h1v0.8h-1zM242.5 201.7h1v0.8h-1zM247.2 197.9h1v0.8h-1zM217.4 218.9h1v0.8h-1zM277.7 208.4h1v0.8h-1zM328.5 199.4h1v0.8h-1zM291.6 211.5h1v0.8h-1zM332.4 207.4h1v0.8h-1zM258.2 228.5h1v0.8h-1zM215.9 227.2h1v0.8h-1zM284.6 222h1v0.8h-1zM325.9 233.8h1v0.8h-1zM224.5 218h1v0.8h-1zM236.4 215.1h1v0.8h-1zM316.3 233h1v0.8h-1zM252.7 206h1v0.8h-1zM220 233.2h1v0.8h-1zM305.1 201.9h1v0.8h-1zM246.6 223.5h1v0.8h-1zM296.7 219.4h1v0.8h-1zM265.1 204.4h1v0.8h-1zM269.3 201.7h1v0.8h-1zM273.5 234.5h1v0.8h-1zM244.4 228.6h1v0.8h-1zM323.4 214.1h1v0.8h-1zM237.4 227h1v0.8h-1zM253.1 209.1h1v0.8h-1zM321.4 225.7h1v0.8h-1zM228.5 219.3h1v0.8h-1zM291.9 210.9h1v0.8h-1zM237.3 230.2h1v0.8h-1zM277.8 201.2h1v0.8h-1zM311 231.9h1v0.8h-1zM298.4 199h1v0.8h-1zM249.7 217.9h1v0.8h-1zM240.1 207.6h1v0.8h-1zM256.2 203.1h1v0.8h-1zM303.1 198.8h1v0.8h-1zM261.8 209.7h1v0.8h-1zM251.1 228.3h1v0.8h-1zM329.4 211.4h1v0.8h-1zM236.3 216.5h1v0.8h-1zM297 199.8h1v0.8h-1zM271 206.2h1v0.8h-1zM277.2 232.2h1v0.8h-1zM264.5 201.1h1v0.8h-1zM303.9 215.8h1v0.8h-1zM240.8 205.8h1v0.8h-1zM308.7 215.4h1v0.8h-1zM216.2 232.5h1v0.8h-1zM287.1 201.5h1v0.8h-1zM312.3 201.1h1v0.8h-1zM235.9 211.4h1v0.8h-1zM244.6 203.6h1v0.8h-1zM306.9 207.8h1v0.8h-1zM285.7 215.2h1v0.8h-1zM215.6 232.1h1v0.8h-1zM230.1 199.3h1v0.8h-1zM222.2 201.2h1v0.8h-1zM228.8 213.4h1v0.8h-1zM256.3 203.1h1v0.8h-1zM228.9 210h1v0.8h-1zM226.7 223.5h1v0.8h-1zM292.5 209.7h1v0.8h-1zM231.5 203.6h1v0.8h-1zM295.7 211.5h1v0.8h-1zM269.6 202.8h1v0.8h-1zM318.4 206.2h1v0.8h-1zM241.7 217.6h1v0.8h-1zM277.1 212.4h1v0.8h-1zM306.2 217.4h1v0.8h-1zM260.7 200.7h1v0.8h-1zM292.6 200.9h1v0.8h-1zM250.3 197.9h1v0.8h-1zM282 219.8h1v0.8h-1zM312.8 228.4h1v0.8h-1zM238.5 235.5h1v0.8h-1zM321.3 233.9h1v0.8h-1zM252.5 220h1v0.8h-1zM230.2 206.6h1v0.8h-1zM293.3 216.1h1v0.8h-1zM217 205.1h1v0.8h-1zM245 203.6h1v0.8h-1zM280.3 202.1h1v0.8h-1zM271 220.2h1v0.8h-1zM318.2 232.9h1v0.8h-1zM269.8 199.6h1v0.8h-1zM226.5 224.5h1v0.8h-1zM286.4 224.2h1v0.8h-1zM288.3 199.4h1v0.8h-1zM280.9 206.7h1v0.8h-1zM256.6 227.4h1v0.8h-1zM227.7 234h1v0.8h-1zM294.9 199h1v0.8h-1zM268.8 232.4h1v0.8h-1zM226.5 208.5h1v0.8h-1zM277.4 222.3h1v0.8h-1zM250.2 214.6h1v0.8h-1zM218.7 200.2h1v0.8h-1zM292.5 217.3h1v0.8h-1zM325.2 213.7h1v0.8h-1zM323.8 233.4h1v0.8h-1zM317.3 207h1v0.8h-1zM296.6 235.4h1v0.8h-1zM269.4 227.6h1v0.8h-1zM259.8 209h1v0.8h-1zM225.2 217.2h1v0.8h-1zM265.8 219.7h1v0.8h-1zM256.9 210.8h1v0.8h-1zM293.2 222.7h1v0.8h-1zM230.6 207.9h1v0.8h-1zM302.4 210h1v0.8h-1zM305.9 200.6h1v0.8h-1zM313.2 203.4h1v0.8h-1zM271.9 200.8h1v0.8h-1zM299.1 199.2h1v0.8h-1zM223.9 232.9h1v0.8h-1zM248.8 234h1v0.8h-1zM262.9 233.8h1v0.8h-1zM314.5 202.7h1v0.8h-1zM295.4 235.1h1v0.8h-1zM299.4 198.6h1v0.8h-1zM284.5 206.9h1v0.8h-1zM330.7 225h1v0.8h-1zM307.8 229h1v0.8h-1zM238.8 232.1h1v0.8h-1zM243.9 211h1v0.8h-1zM296.1 219.2h1v0.8h-1zM304.8 226.1h1v0.8h-1zM227 203.4h1v0.8h-1zM299.8 227.9h1v0.8h-1zM244.5 202.2h1v0.8h-1zM282.7 218.6h1v0.8h-1zM314 230.9h1v0.8h-1zM303.5 217.7h1v0.8h-1zM246.4 206.4h1v0.8h-1zM319.1 208h1v0.8h-1zM246.3 222.8h1v0.8h-1zM277.6 201h1v0.8h-1zM222.9 201.7h1v0.8h-1zM257.7 224.8h1v0.8h-1zM333.4 209.5h1v0.8h-1zM244.5 199.7h1v0.8h-1zM240.9 233.3h1v0.8h-1zM289.8 234.7h1v0.8h-1zM333 197.5h1v0.8h-1zM309.1 235h1v0.8h-1zM306.6 217.7h1v0.8h-1zM299.3 197.9h1v0.8h-1zM261.5 214.2h1v0.8h-1zM259.6 211.7h1v0.8h-1zM233.8 233.3h1v0.8h-1zM280.8 216.1h1v0.8h-1zM317.5 212.6h1v0.8h-1zM314.9 207.9h1v0.8h-1zM312.4 230.3h1v0.8h-1zM257.1 235h1v0.8h-1zM313.4 227.7h1v0.8h-1zM267.6 224.4h1v0.8h-1zM326.8 197.4h1v0.8h-1zM326.9 202.1h1v0.8h-1zM229.6 232.5h1v0.8h-1zM248.2 220.1h1v0.8h-1zM247.5 216h1v0.8h-1zM290.7 228.2h1v0.8h-1zM231.4 217h1v0.8h-1zM326.4 209.3h1v0.8h-1zM231.6 222.4h1v0.8h-1zM259.4 213.3h1v0.8h-1zM310.9 200h1v0.8h-1zM297.6 230.1h1v0.8h-1zM242.9 234.8h1v0.8h-1zM215.3 218.1h1v0.8h-1zM289.1 220.9h1v0.8h-1zM246.1 199.7h1v0.8h-1zM328.6 218h1v0.8h-1zM216.8 235.9h1v0.8h-1zM256.5 210.1h1v0.8h-1zM308.6 224.4h1v0.8h-1zM221.2 223h1v0.8h-1zM271.7 218.8h1v0.8h-1zM317.9 228h1v0.8h-1zM247.2 204.9h1v0.8h-1zM235.1 212.7h1v0.8h-1zM318.1 235.4h1v0.8h-1zM275.4 210.2h1v0.8h-1zM291.1 219h1v0.8h-1zM274 210.7h1v0.8h-1zM293.5 203.5h1v0.8h-1zM235.1 228.1h1v0.8h-1zM311.8 211.9h1v0.8h-1zM263.4 221.6h1v0.8h-1zM244.9 231.5h1v0.8h-1zM270.6 227.7h1v0.8h-1zM234.5 203.1h1v0.8h-1zM298.2 206.9h1v0.8h-1zM308.5 208.4h1v0.8h-1zM330.4 205.2h1v0.8h-1zM288.3 213.8h1v0.8h-1zM302.7 222.4h1v0.8h-1zM319.4 233.1h1v0.8h-1zM316.9 233.1h1v0.8h-1zM274.2 220.9h1v0.8h-1zM267.4 208.8h1v0.8h-1zM242.8 203.3h1v0.8h-1zM259.5 227.5h1v0.8h-1z"/>
<path d="M230 211 Q243 206 256 212" stroke="#4f4236" stroke-width="2.6" stroke-opacity="0.5" fill="none"/>
<ellipse cx="269" cy="215" rx="11" ry="4.6" fill="#8a7a66" transform="rotate(10 269 215)"/>
<ellipse cx="269" cy="215" rx="8.5" ry="3.4" fill="#2f261e" transform="rotate(10 269 215)"/>
</g>
</svg></div></body></html>
